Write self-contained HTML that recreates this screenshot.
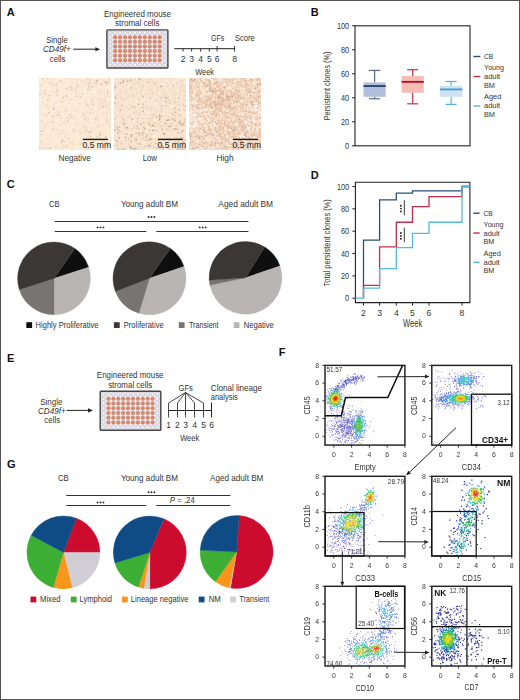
<!DOCTYPE html>
<html><head><meta charset="utf-8"><style>
html,body{margin:0;padding:0;background:#fff;}
svg{display:block;}
text{font-family:"Liberation Sans", sans-serif;}
</style></head><body><svg width="520" height="700" viewBox="0 0 520 700" font-family="'Liberation Sans', sans-serif" fill="#333"><defs><clipPath id="c39"><rect x="39" y="78" width="72" height="72"/></clipPath><clipPath id="c114"><rect x="114" y="78" width="72" height="72"/></clipPath><clipPath id="c189"><rect x="189" y="78" width="72" height="72"/></clipPath><filter id="mb" x="0" y="0" width="520" height="700" filterUnits="userSpaceOnUse"><feGaussianBlur stdDeviation="0.5"/></filter><filter id="fb" x="0" y="0" width="520" height="700" filterUnits="userSpaceOnUse"><feGaussianBlur stdDeviation="0.35"/></filter></defs><rect x="0" y="0" width="520" height="700" fill="#fff"/>
<text x="6.80" y="16.30" font-size="11" font-weight="bold" fill="#111">A</text>
<text x="104.00" y="16.50" font-size="8.4" textLength="67.00" lengthAdjust="spacingAndGlyphs">Engineered mouse</text>
<text x="115.10" y="25.90" font-size="8.4" textLength="44.30" lengthAdjust="spacingAndGlyphs">stromal cells</text>
<text x="46.20" y="43.00" font-size="8.4" textLength="21.50" lengthAdjust="spacingAndGlyphs">Single</text>
<text x="43.00" y="52.20" font-size="8.4" font-style="italic" textLength="27.80" lengthAdjust="spacingAndGlyphs">CD49f+</text>
<text x="49.80" y="61.50" font-size="8.4" textLength="15.70" lengthAdjust="spacingAndGlyphs">cells</text>
<line x1="73.30" y1="49.20" x2="95.90" y2="49.20" stroke="#222" stroke-width="1.0"/>
<polygon points="100.20,49.20 95.40,51.20 95.40,47.20" fill="#222"/>
<rect x="106.90" y="29.90" width="61.00" height="38.10" fill="#ece6ea" stroke="#454545" stroke-width="1.4" rx="0.8"/>
<circle cx="110.20" cy="32.70" r="1.75" fill="#f2f2f8" stroke="#a8a8b8" stroke-width="0.45"/>
<circle cx="115.15" cy="32.70" r="1.75" fill="#f2f2f8" stroke="#a8a8b8" stroke-width="0.45"/>
<circle cx="120.09" cy="32.70" r="1.75" fill="#f2f2f8" stroke="#a8a8b8" stroke-width="0.45"/>
<circle cx="125.04" cy="32.70" r="1.75" fill="#f2f2f8" stroke="#a8a8b8" stroke-width="0.45"/>
<circle cx="129.98" cy="32.70" r="1.75" fill="#f2f2f8" stroke="#a8a8b8" stroke-width="0.45"/>
<circle cx="134.93" cy="32.70" r="1.75" fill="#f2f2f8" stroke="#a8a8b8" stroke-width="0.45"/>
<circle cx="139.87" cy="32.70" r="1.75" fill="#f2f2f8" stroke="#a8a8b8" stroke-width="0.45"/>
<circle cx="144.82" cy="32.70" r="1.75" fill="#f2f2f8" stroke="#a8a8b8" stroke-width="0.45"/>
<circle cx="149.76" cy="32.70" r="1.75" fill="#f2f2f8" stroke="#a8a8b8" stroke-width="0.45"/>
<circle cx="154.71" cy="32.70" r="1.75" fill="#f2f2f8" stroke="#a8a8b8" stroke-width="0.45"/>
<circle cx="159.65" cy="32.70" r="1.75" fill="#f2f2f8" stroke="#a8a8b8" stroke-width="0.45"/>
<circle cx="164.60" cy="32.70" r="1.75" fill="#f2f2f8" stroke="#a8a8b8" stroke-width="0.45"/>
<circle cx="110.20" cy="37.29" r="1.75" fill="#f2f2f8" stroke="#a8a8b8" stroke-width="0.45"/>
<circle cx="115.15" cy="37.29" r="1.75" fill="#dc8c6c" stroke="#b46a52" stroke-width="0.45"/>
<circle cx="120.09" cy="37.29" r="1.75" fill="#dc8c6c" stroke="#b46a52" stroke-width="0.45"/>
<circle cx="125.04" cy="37.29" r="1.75" fill="#dc8c6c" stroke="#b46a52" stroke-width="0.45"/>
<circle cx="129.98" cy="37.29" r="1.75" fill="#dc8c6c" stroke="#b46a52" stroke-width="0.45"/>
<circle cx="134.93" cy="37.29" r="1.75" fill="#dc8c6c" stroke="#b46a52" stroke-width="0.45"/>
<circle cx="139.87" cy="37.29" r="1.75" fill="#dc8c6c" stroke="#b46a52" stroke-width="0.45"/>
<circle cx="144.82" cy="37.29" r="1.75" fill="#dc8c6c" stroke="#b46a52" stroke-width="0.45"/>
<circle cx="149.76" cy="37.29" r="1.75" fill="#dc8c6c" stroke="#b46a52" stroke-width="0.45"/>
<circle cx="154.71" cy="37.29" r="1.75" fill="#dc8c6c" stroke="#b46a52" stroke-width="0.45"/>
<circle cx="159.65" cy="37.29" r="1.75" fill="#dc8c6c" stroke="#b46a52" stroke-width="0.45"/>
<circle cx="164.60" cy="37.29" r="1.75" fill="#f2f2f8" stroke="#a8a8b8" stroke-width="0.45"/>
<circle cx="110.20" cy="41.87" r="1.75" fill="#f2f2f8" stroke="#a8a8b8" stroke-width="0.45"/>
<circle cx="115.15" cy="41.87" r="1.75" fill="#dc8c6c" stroke="#b46a52" stroke-width="0.45"/>
<circle cx="120.09" cy="41.87" r="1.75" fill="#dc8c6c" stroke="#b46a52" stroke-width="0.45"/>
<circle cx="125.04" cy="41.87" r="1.75" fill="#dc8c6c" stroke="#b46a52" stroke-width="0.45"/>
<circle cx="129.98" cy="41.87" r="1.75" fill="#dc8c6c" stroke="#b46a52" stroke-width="0.45"/>
<circle cx="134.93" cy="41.87" r="1.75" fill="#dc8c6c" stroke="#b46a52" stroke-width="0.45"/>
<circle cx="139.87" cy="41.87" r="1.75" fill="#dc8c6c" stroke="#b46a52" stroke-width="0.45"/>
<circle cx="144.82" cy="41.87" r="1.75" fill="#dc8c6c" stroke="#b46a52" stroke-width="0.45"/>
<circle cx="149.76" cy="41.87" r="1.75" fill="#dc8c6c" stroke="#b46a52" stroke-width="0.45"/>
<circle cx="154.71" cy="41.87" r="1.75" fill="#dc8c6c" stroke="#b46a52" stroke-width="0.45"/>
<circle cx="159.65" cy="41.87" r="1.75" fill="#dc8c6c" stroke="#b46a52" stroke-width="0.45"/>
<circle cx="164.60" cy="41.87" r="1.75" fill="#f2f2f8" stroke="#a8a8b8" stroke-width="0.45"/>
<circle cx="110.20" cy="46.46" r="1.75" fill="#f2f2f8" stroke="#a8a8b8" stroke-width="0.45"/>
<circle cx="115.15" cy="46.46" r="1.75" fill="#dc8c6c" stroke="#b46a52" stroke-width="0.45"/>
<circle cx="120.09" cy="46.46" r="1.75" fill="#dc8c6c" stroke="#b46a52" stroke-width="0.45"/>
<circle cx="125.04" cy="46.46" r="1.75" fill="#dc8c6c" stroke="#b46a52" stroke-width="0.45"/>
<circle cx="129.98" cy="46.46" r="1.75" fill="#dc8c6c" stroke="#b46a52" stroke-width="0.45"/>
<circle cx="134.93" cy="46.46" r="1.75" fill="#dc8c6c" stroke="#b46a52" stroke-width="0.45"/>
<circle cx="139.87" cy="46.46" r="1.75" fill="#dc8c6c" stroke="#b46a52" stroke-width="0.45"/>
<circle cx="144.82" cy="46.46" r="1.75" fill="#dc8c6c" stroke="#b46a52" stroke-width="0.45"/>
<circle cx="149.76" cy="46.46" r="1.75" fill="#dc8c6c" stroke="#b46a52" stroke-width="0.45"/>
<circle cx="154.71" cy="46.46" r="1.75" fill="#dc8c6c" stroke="#b46a52" stroke-width="0.45"/>
<circle cx="159.65" cy="46.46" r="1.75" fill="#dc8c6c" stroke="#b46a52" stroke-width="0.45"/>
<circle cx="164.60" cy="46.46" r="1.75" fill="#f2f2f8" stroke="#a8a8b8" stroke-width="0.45"/>
<circle cx="110.20" cy="51.04" r="1.75" fill="#f2f2f8" stroke="#a8a8b8" stroke-width="0.45"/>
<circle cx="115.15" cy="51.04" r="1.75" fill="#dc8c6c" stroke="#b46a52" stroke-width="0.45"/>
<circle cx="120.09" cy="51.04" r="1.75" fill="#dc8c6c" stroke="#b46a52" stroke-width="0.45"/>
<circle cx="125.04" cy="51.04" r="1.75" fill="#dc8c6c" stroke="#b46a52" stroke-width="0.45"/>
<circle cx="129.98" cy="51.04" r="1.75" fill="#dc8c6c" stroke="#b46a52" stroke-width="0.45"/>
<circle cx="134.93" cy="51.04" r="1.75" fill="#dc8c6c" stroke="#b46a52" stroke-width="0.45"/>
<circle cx="139.87" cy="51.04" r="1.75" fill="#dc8c6c" stroke="#b46a52" stroke-width="0.45"/>
<circle cx="144.82" cy="51.04" r="1.75" fill="#dc8c6c" stroke="#b46a52" stroke-width="0.45"/>
<circle cx="149.76" cy="51.04" r="1.75" fill="#dc8c6c" stroke="#b46a52" stroke-width="0.45"/>
<circle cx="154.71" cy="51.04" r="1.75" fill="#dc8c6c" stroke="#b46a52" stroke-width="0.45"/>
<circle cx="159.65" cy="51.04" r="1.75" fill="#dc8c6c" stroke="#b46a52" stroke-width="0.45"/>
<circle cx="164.60" cy="51.04" r="1.75" fill="#f2f2f8" stroke="#a8a8b8" stroke-width="0.45"/>
<circle cx="110.20" cy="55.63" r="1.75" fill="#f2f2f8" stroke="#a8a8b8" stroke-width="0.45"/>
<circle cx="115.15" cy="55.63" r="1.75" fill="#dc8c6c" stroke="#b46a52" stroke-width="0.45"/>
<circle cx="120.09" cy="55.63" r="1.75" fill="#dc8c6c" stroke="#b46a52" stroke-width="0.45"/>
<circle cx="125.04" cy="55.63" r="1.75" fill="#dc8c6c" stroke="#b46a52" stroke-width="0.45"/>
<circle cx="129.98" cy="55.63" r="1.75" fill="#dc8c6c" stroke="#b46a52" stroke-width="0.45"/>
<circle cx="134.93" cy="55.63" r="1.75" fill="#dc8c6c" stroke="#b46a52" stroke-width="0.45"/>
<circle cx="139.87" cy="55.63" r="1.75" fill="#dc8c6c" stroke="#b46a52" stroke-width="0.45"/>
<circle cx="144.82" cy="55.63" r="1.75" fill="#dc8c6c" stroke="#b46a52" stroke-width="0.45"/>
<circle cx="149.76" cy="55.63" r="1.75" fill="#dc8c6c" stroke="#b46a52" stroke-width="0.45"/>
<circle cx="154.71" cy="55.63" r="1.75" fill="#dc8c6c" stroke="#b46a52" stroke-width="0.45"/>
<circle cx="159.65" cy="55.63" r="1.75" fill="#dc8c6c" stroke="#b46a52" stroke-width="0.45"/>
<circle cx="164.60" cy="55.63" r="1.75" fill="#f2f2f8" stroke="#a8a8b8" stroke-width="0.45"/>
<circle cx="110.20" cy="60.21" r="1.75" fill="#f2f2f8" stroke="#a8a8b8" stroke-width="0.45"/>
<circle cx="115.15" cy="60.21" r="1.75" fill="#dc8c6c" stroke="#b46a52" stroke-width="0.45"/>
<circle cx="120.09" cy="60.21" r="1.75" fill="#dc8c6c" stroke="#b46a52" stroke-width="0.45"/>
<circle cx="125.04" cy="60.21" r="1.75" fill="#dc8c6c" stroke="#b46a52" stroke-width="0.45"/>
<circle cx="129.98" cy="60.21" r="1.75" fill="#dc8c6c" stroke="#b46a52" stroke-width="0.45"/>
<circle cx="134.93" cy="60.21" r="1.75" fill="#dc8c6c" stroke="#b46a52" stroke-width="0.45"/>
<circle cx="139.87" cy="60.21" r="1.75" fill="#dc8c6c" stroke="#b46a52" stroke-width="0.45"/>
<circle cx="144.82" cy="60.21" r="1.75" fill="#dc8c6c" stroke="#b46a52" stroke-width="0.45"/>
<circle cx="149.76" cy="60.21" r="1.75" fill="#dc8c6c" stroke="#b46a52" stroke-width="0.45"/>
<circle cx="154.71" cy="60.21" r="1.75" fill="#dc8c6c" stroke="#b46a52" stroke-width="0.45"/>
<circle cx="159.65" cy="60.21" r="1.75" fill="#dc8c6c" stroke="#b46a52" stroke-width="0.45"/>
<circle cx="164.60" cy="60.21" r="1.75" fill="#f2f2f8" stroke="#a8a8b8" stroke-width="0.45"/>
<circle cx="110.20" cy="64.80" r="1.75" fill="#f2f2f8" stroke="#a8a8b8" stroke-width="0.45"/>
<circle cx="115.15" cy="64.80" r="1.75" fill="#f2f2f8" stroke="#a8a8b8" stroke-width="0.45"/>
<circle cx="120.09" cy="64.80" r="1.75" fill="#f2f2f8" stroke="#a8a8b8" stroke-width="0.45"/>
<circle cx="125.04" cy="64.80" r="1.75" fill="#f2f2f8" stroke="#a8a8b8" stroke-width="0.45"/>
<circle cx="129.98" cy="64.80" r="1.75" fill="#f2f2f8" stroke="#a8a8b8" stroke-width="0.45"/>
<circle cx="134.93" cy="64.80" r="1.75" fill="#f2f2f8" stroke="#a8a8b8" stroke-width="0.45"/>
<circle cx="139.87" cy="64.80" r="1.75" fill="#f2f2f8" stroke="#a8a8b8" stroke-width="0.45"/>
<circle cx="144.82" cy="64.80" r="1.75" fill="#f2f2f8" stroke="#a8a8b8" stroke-width="0.45"/>
<circle cx="149.76" cy="64.80" r="1.75" fill="#f2f2f8" stroke="#a8a8b8" stroke-width="0.45"/>
<circle cx="154.71" cy="64.80" r="1.75" fill="#f2f2f8" stroke="#a8a8b8" stroke-width="0.45"/>
<circle cx="159.65" cy="64.80" r="1.75" fill="#f2f2f8" stroke="#a8a8b8" stroke-width="0.45"/>
<circle cx="164.60" cy="64.80" r="1.75" fill="#f2f2f8" stroke="#a8a8b8" stroke-width="0.45"/>
<line x1="174.30" y1="48.70" x2="234.90" y2="48.70" stroke="#222" stroke-width="1"/>
<line x1="183.00" y1="48.70" x2="183.00" y2="51.60" stroke="#222" stroke-width="0.9"/>
<line x1="191.60" y1="48.70" x2="191.60" y2="51.60" stroke="#222" stroke-width="0.9"/>
<line x1="200.60" y1="48.70" x2="200.60" y2="51.60" stroke="#222" stroke-width="0.9"/>
<line x1="209.30" y1="48.70" x2="209.30" y2="51.60" stroke="#222" stroke-width="0.9"/>
<line x1="217.10" y1="45.90" x2="217.10" y2="51.60" stroke="#222" stroke-width="0.9"/>
<line x1="234.60" y1="45.90" x2="234.60" y2="51.60" stroke="#222" stroke-width="0.9"/>
<text x="183.00" y="62.00" font-size="8.5" text-anchor="middle">2</text>
<text x="191.60" y="62.00" font-size="8.5" text-anchor="middle">3</text>
<text x="200.60" y="62.00" font-size="8.5" text-anchor="middle">4</text>
<text x="209.30" y="62.00" font-size="8.5" text-anchor="middle">5</text>
<text x="217.10" y="62.00" font-size="8.5" text-anchor="middle">6</text>
<text x="234.60" y="62.00" font-size="8.5" text-anchor="middle">8</text>
<text x="211.00" y="40.70" font-size="8.4" textLength="13.20" lengthAdjust="spacingAndGlyphs">GFs</text>
<text x="234.90" y="40.70" font-size="8.4" textLength="19.90" lengthAdjust="spacingAndGlyphs">Score</text>
<text x="195.20" y="75.00" font-size="9.4" textLength="18.80" lengthAdjust="spacingAndGlyphs">Week</text>
<g clip-path="url(#c39)"><g filter="url(#mb)">
<rect x="39" y="78" width="72" height="72" fill="#faead6"/>
<path d="M83.6 142.5h1.5v1.5h-1.5zM56.6 109.5h2.5v2.5h-2.5zM40.6 114.6h2.5v2.5h-2.5zM38.9 91.0h1.5v1.5h-1.5zM65.0 77.3h1.5v1.5h-1.5zM57.5 141.3h2.5v2.5h-2.5zM75.1 140.6h2.5v2.5h-2.5zM82.2 123.6h1.5v1.5h-1.5zM70.1 94.5h1.5v1.5h-1.5zM101.8 125.3h2.5v2.5h-2.5zM68.0 94.5h2.5v2.5h-2.5zM39.8 104.2h1.5v1.5h-1.5zM63.9 114.9h2.5v2.5h-2.5zM49.0 145.1h2.5v2.5h-2.5zM97.2 87.0h2.5v2.5h-2.5zM39.0 122.9h2.5v2.5h-2.5zM91.0 93.5h1.5v1.5h-1.5zM51.1 102.3h2.5v2.5h-2.5zM109.6 114.6h2.5v2.5h-2.5zM92.2 119.4h2.5v2.5h-2.5zM75.9 146.4h2.5v2.5h-2.5zM87.4 129.3h2.5v2.5h-2.5zM53.5 143.8h1.5v1.5h-1.5zM84.4 90.4h1.5v1.5h-1.5zM93.8 136.5h1.5v1.5h-1.5zM104.7 135.5h2.5v2.5h-2.5zM56.5 95.1h2.5v2.5h-2.5zM39.5 99.7h2.5v2.5h-2.5zM100.3 80.7h1.5v1.5h-1.5zM101.0 135.2h2.5v2.5h-2.5zM85.5 92.7h2.5v2.5h-2.5zM65.7 95.5h2.5v2.5h-2.5zM98.6 104.5h2.5v2.5h-2.5zM53.7 95.1h1.5v1.5h-1.5zM44.0 131.9h1.5v1.5h-1.5zM43.7 132.7h1.5v1.5h-1.5zM47.5 82.9h1.5v1.5h-1.5zM60.4 137.8h1.5v1.5h-1.5zM45.1 130.1h2.5v2.5h-2.5zM93.3 90.9h2.5v2.5h-2.5zM92.6 142.5h1.5v1.5h-1.5zM106.6 138.5h1.5v1.5h-1.5zM84.8 90.5h2.5v2.5h-2.5zM110.5 87.8h2.5v2.5h-2.5zM105.2 86.0h2.5v2.5h-2.5zM46.5 89.9h1.5v1.5h-1.5zM92.8 90.9h1.5v1.5h-1.5zM56.0 105.8h1.5v1.5h-1.5zM57.4 115.5h2.5v2.5h-2.5zM83.9 116.1h2.5v2.5h-2.5zM109.5 145.7h2.5v2.5h-2.5zM53.2 114.0h2.5v2.5h-2.5zM41.0 100.0h1.5v1.5h-1.5zM93.2 89.1h2.5v2.5h-2.5zM58.6 135.5h2.5v2.5h-2.5zM78.3 133.1h2.5v2.5h-2.5zM90.6 115.2h1.5v1.5h-1.5zM79.1 117.7h1.5v1.5h-1.5zM71.1 123.1h1.5v1.5h-1.5zM52.4 110.2h2.5v2.5h-2.5zM78.4 135.9h2.5v2.5h-2.5zM78.8 105.9h1.5v1.5h-1.5zM70.7 129.0h1.5v1.5h-1.5zM100.8 119.3h2.5v2.5h-2.5zM59.4 98.4h2.5v2.5h-2.5zM94.1 110.4h2.5v2.5h-2.5zM52.7 100.1h2.5v2.5h-2.5zM68.9 133.3h1.5v1.5h-1.5zM105.4 124.9h2.5v2.5h-2.5zM92.8 102.1h1.5v1.5h-1.5zM47.9 87.1h1.5v1.5h-1.5zM67.7 107.5h1.5v1.5h-1.5zM86.4 120.8h1.5v1.5h-1.5zM40.4 137.7h2.5v2.5h-2.5zM39.4 129.9h1.5v1.5h-1.5zM100.2 132.2h1.5v1.5h-1.5zM47.7 90.5h1.5v1.5h-1.5zM105.7 97.3h2.5v2.5h-2.5zM53.5 96.5h1.5v1.5h-1.5zM89.3 86.5h1.5v1.5h-1.5zM44.2 97.0h2.5v2.5h-2.5zM60.8 122.9h2.5v2.5h-2.5zM70.7 98.0h1.5v1.5h-1.5zM54.0 96.8h1.5v1.5h-1.5zM72.0 92.7h2.5v2.5h-2.5zM57.9 118.8h1.5v1.5h-1.5zM47.1 141.6h2.5v2.5h-2.5zM42.9 120.4h2.5v2.5h-2.5zM38.4 115.1h2.5v2.5h-2.5zM107.6 119.3h1.5v1.5h-1.5zM78.2 91.5h1.5v1.5h-1.5zM50.1 122.2h1.5v1.5h-1.5zM45.8 136.7h1.5v1.5h-1.5zM76.3 131.4h1.5v1.5h-1.5zM63.8 148.7h1.5v1.5h-1.5zM101.6 88.8h2.5v2.5h-2.5zM41.8 92.8h1.5v1.5h-1.5zM93.1 106.7h2.5v2.5h-2.5zM70.0 121.0h1.5v1.5h-1.5zM88.8 86.4h1.5v1.5h-1.5zM44.8 101.2h1.5v1.5h-1.5zM71.5 118.2h2.5v2.5h-2.5zM71.1 145.8h1.5v1.5h-1.5zM87.0 135.6h1.5v1.5h-1.5zM58.3 99.2h1.5v1.5h-1.5zM40.5 106.5h1.5v1.5h-1.5zM63.4 121.5h1.5v1.5h-1.5zM56.5 91.6h1.5v1.5h-1.5zM82.2 149.3h1.5v1.5h-1.5zM61.9 77.3h2.5v2.5h-2.5zM43.5 91.8h1.5v1.5h-1.5zM40.3 144.7h1.5v1.5h-1.5zM103.5 123.4h1.5v1.5h-1.5zM84.2 84.3h2.5v2.5h-2.5zM62.5 101.3h2.5v2.5h-2.5zM57.0 119.6h2.5v2.5h-2.5zM42.9 86.4h2.5v2.5h-2.5zM95.4 110.0h1.5v1.5h-1.5zM100.2 148.4h2.5v2.5h-2.5zM70.3 91.6h2.5v2.5h-2.5zM101.4 142.5h1.5v1.5h-1.5zM110.3 119.3h2.5v2.5h-2.5zM47.1 88.1h2.5v2.5h-2.5zM97.7 78.0h1.5v1.5h-1.5zM69.3 125.2h1.5v1.5h-1.5zM39.3 116.4h2.5v2.5h-2.5zM59.6 124.9h2.5v2.5h-2.5zM108.1 113.0h2.5v2.5h-2.5zM59.2 135.6h2.5v2.5h-2.5zM62.4 121.0h1.5v1.5h-1.5zM96.9 116.6h1.5v1.5h-1.5zM52.6 114.9h1.5v1.5h-1.5zM47.4 135.5h1.5v1.5h-1.5zM39.0 96.2h1.5v1.5h-1.5zM80.6 107.8h1.5v1.5h-1.5zM86.5 98.1h1.5v1.5h-1.5zM40.1 99.0h1.5v1.5h-1.5zM49.8 92.6h1.5v1.5h-1.5zM81.2 100.2h2.5v2.5h-2.5zM91.4 95.8h2.5v2.5h-2.5zM68.9 107.3h1.5v1.5h-1.5zM72.2 110.9h2.5v2.5h-2.5zM61.1 127.8h2.5v2.5h-2.5zM51.5 103.9h2.5v2.5h-2.5zM98.0 145.4h2.5v2.5h-2.5zM92.8 109.8h2.5v2.5h-2.5zM90.2 91.4h1.5v1.5h-1.5zM81.2 122.8h1.5v1.5h-1.5zM75.4 132.5h1.5v1.5h-1.5zM44.4 110.7h2.5v2.5h-2.5zM41.9 109.1h2.5v2.5h-2.5zM82.8 141.7h1.5v1.5h-1.5zM97.5 112.4h1.5v1.5h-1.5zM104.8 135.5h1.5v1.5h-1.5zM73.9 149.2h2.5v2.5h-2.5zM104.7 106.1h2.5v2.5h-2.5zM44.1 129.0h2.5v2.5h-2.5zM103.2 145.4h1.5v1.5h-1.5zM66.3 147.3h1.5v1.5h-1.5zM101.0 138.4h1.5v1.5h-1.5zM91.1 87.0h2.5v2.5h-2.5zM78.9 115.1h1.5v1.5h-1.5zM111.0 143.6h1.5v1.5h-1.5zM103.0 120.7h2.5v2.5h-2.5zM74.8 130.8h2.5v2.5h-2.5zM41.4 94.3h1.5v1.5h-1.5zM76.9 80.7h1.5v1.5h-1.5zM68.2 103.7h1.5v1.5h-1.5zM55.7 87.8h1.5v1.5h-1.5zM99.1 138.9h2.5v2.5h-2.5zM103.9 103.2h1.5v1.5h-1.5zM87.7 91.7h2.5v2.5h-2.5zM61.5 112.6h2.5v2.5h-2.5zM43.4 125.0h1.5v1.5h-1.5zM82.6 140.6h2.5v2.5h-2.5zM85.1 93.2h2.5v2.5h-2.5zM105.6 99.0h1.5v1.5h-1.5zM67.4 131.4h1.5v1.5h-1.5zM71.8 94.1h2.5v2.5h-2.5zM107.0 138.3h1.5v1.5h-1.5zM44.8 105.7h1.5v1.5h-1.5zM93.3 140.2h2.5v2.5h-2.5zM70.2 102.8h1.5v1.5h-1.5zM100.3 124.2h1.5v1.5h-1.5zM45.8 84.6h1.5v1.5h-1.5zM48.7 117.4h1.5v1.5h-1.5zM106.9 101.7h1.5v1.5h-1.5zM56.7 134.0h2.5v2.5h-2.5zM71.4 126.3h2.5v2.5h-2.5zM52.2 95.1h2.5v2.5h-2.5zM100.3 128.0h1.5v1.5h-1.5zM43.5 97.2h2.5v2.5h-2.5zM60.6 97.6h2.5v2.5h-2.5zM105.5 120.4h1.5v1.5h-1.5zM84.2 140.1h1.5v1.5h-1.5zM38.2 87.0h2.5v2.5h-2.5zM88.2 110.0h2.5v2.5h-2.5zM55.3 81.6h1.5v1.5h-1.5zM68.3 100.5h2.5v2.5h-2.5zM70.0 96.5h1.5v1.5h-1.5zM100.7 137.2h1.5v1.5h-1.5zM96.3 140.0h2.5v2.5h-2.5zM71.7 96.3h1.5v1.5h-1.5zM94.0 137.7h1.5v1.5h-1.5zM66.0 110.8h2.5v2.5h-2.5zM108.6 130.3h1.5v1.5h-1.5zM43.8 100.0h2.5v2.5h-2.5zM93.5 114.4h1.5v1.5h-1.5zM65.7 101.2h1.5v1.5h-1.5zM65.5 122.2h1.5v1.5h-1.5zM56.8 85.8h1.5v1.5h-1.5zM84.8 138.2h1.5v1.5h-1.5zM63.1 124.8h2.5v2.5h-2.5zM43.0 146.1h1.5v1.5h-1.5zM57.3 103.5h1.5v1.5h-1.5zM40.8 110.0h1.5v1.5h-1.5zM109.3 98.4h1.5v1.5h-1.5zM41.9 142.8h1.5v1.5h-1.5zM68.5 104.3h2.5v2.5h-2.5zM70.8 138.4h1.5v1.5h-1.5zM59.2 149.5h1.5v1.5h-1.5zM68.4 124.4h2.5v2.5h-2.5zM52.7 130.4h1.5v1.5h-1.5zM44.8 119.8h1.5v1.5h-1.5zM65.3 113.6h2.5v2.5h-2.5zM100.2 108.4h1.5v1.5h-1.5zM55.4 146.5h1.5v1.5h-1.5zM67.9 120.5h2.5v2.5h-2.5zM45.5 105.8h2.5v2.5h-2.5zM61.8 91.8h1.5v1.5h-1.5zM86.5 93.9h1.5v1.5h-1.5zM105.1 102.0h1.5v1.5h-1.5zM63.0 149.2h1.5v1.5h-1.5zM73.8 97.5h2.5v2.5h-2.5zM62.9 119.2h1.5v1.5h-1.5zM97.1 85.3h2.5v2.5h-2.5zM70.0 129.5h1.5v1.5h-1.5zM77.3 80.6h2.5v2.5h-2.5zM69.2 118.5h1.5v1.5h-1.5zM93.0 111.3h1.5v1.5h-1.5zM79.7 117.5h2.5v2.5h-2.5zM71.8 131.9h1.5v1.5h-1.5zM60.1 117.4h2.5v2.5h-2.5zM102.2 95.3h2.5v2.5h-2.5zM104.9 86.3h2.5v2.5h-2.5zM96.4 143.6h2.5v2.5h-2.5zM54.9 88.8h1.5v1.5h-1.5zM102.7 123.3h1.5v1.5h-1.5zM98.7 78.4h1.5v1.5h-1.5zM56.8 146.0h1.5v1.5h-1.5zM54.1 139.2h1.5v1.5h-1.5z" fill="#fdf1e4" opacity="0.7"/>
<path d="M59.9 140.8h2.5v2.5h-2.5zM96.2 111.2h1.5v1.5h-1.5zM110.7 134.9h2.5v2.5h-2.5zM53.7 88.7h1.5v1.5h-1.5zM83.9 114.5h1.5v1.5h-1.5zM84.7 131.1h2.5v2.5h-2.5zM42.3 105.3h1.5v1.5h-1.5zM97.6 104.7h2.5v2.5h-2.5zM108.7 92.7h1.5v1.5h-1.5zM107.0 143.0h1.5v1.5h-1.5zM52.0 144.7h1.5v1.5h-1.5zM102.5 123.8h1.5v1.5h-1.5zM72.1 117.0h2.5v2.5h-2.5zM108.6 125.0h2.5v2.5h-2.5zM101.7 102.1h2.5v2.5h-2.5zM62.8 96.8h1.5v1.5h-1.5zM68.1 144.4h1.5v1.5h-1.5zM62.3 106.1h1.5v1.5h-1.5zM82.1 112.0h2.5v2.5h-2.5zM60.4 147.2h2.5v2.5h-2.5zM104.8 80.4h1.5v1.5h-1.5zM40.8 120.1h2.5v2.5h-2.5zM97.2 125.0h1.5v1.5h-1.5zM79.9 79.9h2.5v2.5h-2.5zM46.2 122.7h1.5v1.5h-1.5zM102.4 91.4h2.5v2.5h-2.5zM82.5 84.0h2.5v2.5h-2.5zM98.1 135.7h2.5v2.5h-2.5zM101.3 142.2h1.5v1.5h-1.5zM45.4 104.8h2.5v2.5h-2.5zM69.7 141.5h2.5v2.5h-2.5zM87.2 104.1h2.5v2.5h-2.5zM96.4 124.1h2.5v2.5h-2.5zM90.7 109.5h1.5v1.5h-1.5zM40.4 138.6h1.5v1.5h-1.5zM78.0 129.7h2.5v2.5h-2.5zM105.1 105.3h2.5v2.5h-2.5zM94.1 81.9h1.5v1.5h-1.5zM60.9 99.8h1.5v1.5h-1.5zM42.1 149.7h2.5v2.5h-2.5zM40.4 113.7h1.5v1.5h-1.5zM100.8 112.3h2.5v2.5h-2.5zM101.8 90.1h1.5v1.5h-1.5zM55.3 110.9h2.5v2.5h-2.5zM98.5 132.6h2.5v2.5h-2.5zM87.7 130.7h1.5v1.5h-1.5zM62.0 145.4h2.5v2.5h-2.5zM44.7 147.5h2.5v2.5h-2.5zM107.4 108.6h2.5v2.5h-2.5zM99.0 101.5h1.5v1.5h-1.5zM39.1 147.0h1.5v1.5h-1.5zM81.3 93.2h2.5v2.5h-2.5zM97.8 126.5h1.5v1.5h-1.5zM72.1 132.1h1.5v1.5h-1.5zM98.4 104.8h2.5v2.5h-2.5zM87.5 119.6h1.5v1.5h-1.5zM63.7 109.7h2.5v2.5h-2.5zM107.2 141.9h1.5v1.5h-1.5zM102.6 113.0h1.5v1.5h-1.5zM101.3 99.8h1.5v1.5h-1.5zM68.7 137.4h1.5v1.5h-1.5zM42.1 130.5h1.5v1.5h-1.5zM42.6 126.9h2.5v2.5h-2.5zM65.5 123.5h1.5v1.5h-1.5zM76.3 123.1h2.5v2.5h-2.5zM59.1 99.3h1.5v1.5h-1.5zM48.0 100.5h1.5v1.5h-1.5zM73.7 87.3h2.5v2.5h-2.5zM108.2 78.9h1.5v1.5h-1.5zM72.6 78.1h1.5v1.5h-1.5zM57.7 134.8h2.5v2.5h-2.5zM105.4 142.2h1.5v1.5h-1.5zM107.6 141.7h1.5v1.5h-1.5zM82.7 125.6h2.5v2.5h-2.5zM107.5 121.4h2.5v2.5h-2.5zM100.3 106.4h2.5v2.5h-2.5zM55.9 87.4h2.5v2.5h-2.5zM75.7 79.6h2.5v2.5h-2.5zM59.4 132.3h2.5v2.5h-2.5zM65.6 129.9h1.5v1.5h-1.5zM39.9 147.3h1.5v1.5h-1.5zM91.3 97.3h2.5v2.5h-2.5zM43.3 96.3h1.5v1.5h-1.5zM71.1 147.7h1.5v1.5h-1.5zM66.6 88.2h2.5v2.5h-2.5zM79.7 131.9h2.5v2.5h-2.5zM77.8 130.6h1.5v1.5h-1.5zM65.2 116.5h2.5v2.5h-2.5zM56.2 89.7h2.5v2.5h-2.5zM41.2 101.3h1.5v1.5h-1.5zM105.3 82.1h1.5v1.5h-1.5zM97.0 99.7h1.5v1.5h-1.5zM75.1 89.1h1.5v1.5h-1.5zM64.0 119.8h1.5v1.5h-1.5zM62.2 132.1h1.5v1.5h-1.5zM60.7 130.7h1.5v1.5h-1.5zM90.0 111.7h2.5v2.5h-2.5zM105.0 121.6h2.5v2.5h-2.5zM110.8 88.4h1.5v1.5h-1.5zM95.2 142.1h1.5v1.5h-1.5zM106.6 106.6h2.5v2.5h-2.5zM72.4 109.7h1.5v1.5h-1.5zM48.2 81.5h2.5v2.5h-2.5zM61.6 123.5h1.5v1.5h-1.5zM88.9 132.2h2.5v2.5h-2.5zM89.6 82.8h1.5v1.5h-1.5zM76.0 120.9h1.5v1.5h-1.5zM89.7 77.7h2.5v2.5h-2.5zM40.0 93.0h1.5v1.5h-1.5zM87.4 116.9h1.5v1.5h-1.5zM84.8 114.9h2.5v2.5h-2.5zM67.4 99.7h1.5v1.5h-1.5zM106.6 113.8h1.5v1.5h-1.5zM74.8 108.8h2.5v2.5h-2.5zM83.5 130.3h1.5v1.5h-1.5zM72.4 148.2h1.5v1.5h-1.5zM43.1 95.9h1.5v1.5h-1.5zM86.9 147.2h2.5v2.5h-2.5zM96.9 90.0h1.5v1.5h-1.5zM101.4 141.1h2.5v2.5h-2.5zM104.0 95.0h1.5v1.5h-1.5zM103.3 105.8h2.5v2.5h-2.5zM87.1 83.9h2.5v2.5h-2.5zM96.7 118.0h2.5v2.5h-2.5zM84.0 108.3h1.5v1.5h-1.5zM75.3 85.3h2.5v2.5h-2.5zM84.7 129.5h2.5v2.5h-2.5zM107.2 79.2h2.5v2.5h-2.5zM43.4 113.3h2.5v2.5h-2.5zM38.4 104.2h1.5v1.5h-1.5zM101.5 124.6h2.5v2.5h-2.5zM59.1 142.3h1.5v1.5h-1.5zM59.7 117.1h2.5v2.5h-2.5zM42.3 120.2h1.5v1.5h-1.5zM94.2 84.1h2.5v2.5h-2.5zM102.8 134.5h1.5v1.5h-1.5zM52.1 103.4h2.5v2.5h-2.5zM80.9 146.4h1.5v1.5h-1.5zM47.3 137.6h2.5v2.5h-2.5zM82.5 114.2h2.5v2.5h-2.5zM42.8 147.5h1.5v1.5h-1.5zM47.3 141.7h1.5v1.5h-1.5zM74.4 95.0h2.5v2.5h-2.5zM61.4 144.7h1.5v1.5h-1.5zM89.3 143.9h2.5v2.5h-2.5zM47.2 143.8h1.5v1.5h-1.5zM41.1 83.7h1.5v1.5h-1.5zM67.9 116.9h2.5v2.5h-2.5zM91.8 102.4h2.5v2.5h-2.5zM109.0 78.2h1.5v1.5h-1.5zM71.6 115.2h2.5v2.5h-2.5zM88.2 105.6h1.5v1.5h-1.5zM85.5 147.1h2.5v2.5h-2.5zM86.6 135.1h2.5v2.5h-2.5zM61.8 128.7h2.5v2.5h-2.5zM97.1 125.6h2.5v2.5h-2.5zM44.1 125.4h2.5v2.5h-2.5zM70.6 93.4h1.5v1.5h-1.5zM92.4 103.6h2.5v2.5h-2.5zM83.5 144.3h1.5v1.5h-1.5zM94.3 96.1h1.5v1.5h-1.5zM84.6 126.5h2.5v2.5h-2.5zM63.2 121.3h2.5v2.5h-2.5zM39.3 113.4h1.5v1.5h-1.5zM45.7 122.3h2.5v2.5h-2.5zM46.9 103.4h1.5v1.5h-1.5zM61.3 97.1h2.5v2.5h-2.5zM64.5 134.7h2.5v2.5h-2.5zM69.6 98.0h2.5v2.5h-2.5zM47.8 98.3h2.5v2.5h-2.5zM88.9 109.4h1.5v1.5h-1.5zM86.2 126.1h1.5v1.5h-1.5zM98.1 130.2h2.5v2.5h-2.5zM98.6 98.7h2.5v2.5h-2.5zM62.7 100.9h1.5v1.5h-1.5zM64.9 107.8h2.5v2.5h-2.5zM87.7 148.8h2.5v2.5h-2.5zM60.4 99.3h1.5v1.5h-1.5zM54.7 145.6h2.5v2.5h-2.5zM105.4 116.1h2.5v2.5h-2.5zM85.6 110.7h2.5v2.5h-2.5zM43.0 113.1h1.5v1.5h-1.5zM70.2 98.4h2.5v2.5h-2.5zM85.2 129.9h1.5v1.5h-1.5zM87.9 79.4h2.5v2.5h-2.5zM110.3 82.1h2.5v2.5h-2.5zM86.3 81.9h2.5v2.5h-2.5zM72.1 129.4h1.5v1.5h-1.5zM39.6 84.5h2.5v2.5h-2.5zM102.8 98.8h2.5v2.5h-2.5zM65.2 77.2h1.5v1.5h-1.5zM38.4 93.8h2.5v2.5h-2.5zM83.9 117.8h2.5v2.5h-2.5zM70.8 98.0h1.5v1.5h-1.5zM96.1 114.5h2.5v2.5h-2.5zM92.9 139.0h2.5v2.5h-2.5zM90.6 88.5h1.5v1.5h-1.5zM86.0 131.6h1.5v1.5h-1.5zM57.5 110.7h2.5v2.5h-2.5zM56.0 128.6h2.5v2.5h-2.5zM69.7 114.8h1.5v1.5h-1.5zM95.1 132.5h1.5v1.5h-1.5zM54.8 114.6h1.5v1.5h-1.5zM52.3 128.4h2.5v2.5h-2.5zM95.0 110.8h1.5v1.5h-1.5zM71.2 106.6h1.5v1.5h-1.5zM57.3 95.1h1.5v1.5h-1.5zM53.0 115.4h1.5v1.5h-1.5zM86.3 120.0h2.5v2.5h-2.5zM104.0 137.4h1.5v1.5h-1.5zM71.0 81.6h1.5v1.5h-1.5zM43.6 142.7h1.5v1.5h-1.5zM99.4 135.2h2.5v2.5h-2.5zM105.8 122.3h2.5v2.5h-2.5zM106.8 102.4h2.5v2.5h-2.5zM109.0 77.5h2.5v2.5h-2.5zM45.0 144.8h1.5v1.5h-1.5zM81.2 117.6h1.5v1.5h-1.5zM66.0 94.6h1.5v1.5h-1.5zM104.0 141.8h2.5v2.5h-2.5zM99.1 148.2h2.5v2.5h-2.5zM58.3 115.1h1.5v1.5h-1.5zM106.8 95.0h2.5v2.5h-2.5zM103.3 130.8h1.5v1.5h-1.5zM98.9 103.1h2.5v2.5h-2.5zM72.2 142.4h2.5v2.5h-2.5zM84.7 101.2h2.5v2.5h-2.5zM77.2 85.1h2.5v2.5h-2.5zM40.7 145.9h1.5v1.5h-1.5zM97.9 108.6h2.5v2.5h-2.5zM104.4 96.7h2.5v2.5h-2.5zM63.9 106.9h1.5v1.5h-1.5zM54.9 101.2h2.5v2.5h-2.5zM78.7 142.5h2.5v2.5h-2.5zM88.2 83.3h1.5v1.5h-1.5zM55.9 132.5h2.5v2.5h-2.5zM104.9 83.5h2.5v2.5h-2.5zM104.9 123.8h1.5v1.5h-1.5zM91.8 144.4h2.5v2.5h-2.5zM98.2 79.6h1.5v1.5h-1.5zM100.2 96.7h1.5v1.5h-1.5zM66.2 133.7h1.5v1.5h-1.5zM60.3 119.7h1.5v1.5h-1.5zM93.1 131.1h1.5v1.5h-1.5zM64.8 109.5h1.5v1.5h-1.5zM72.3 127.8h2.5v2.5h-2.5zM96.3 97.8h2.5v2.5h-2.5zM81.7 114.0h1.5v1.5h-1.5zM79.9 128.3h1.5v1.5h-1.5z" fill="#f2dcc4" opacity="0.7"/>
<path d="M88.6 122.7h0.9v0.9h-0.9zM47.7 112.0h1.6v1.6h-1.6zM95.7 79.8h1.6v1.6h-1.6zM78.8 103.3h0.9v0.9h-0.9zM61.6 139.2h1.6v1.6h-1.6zM44.4 90.1h1.2v1.2h-1.2zM52.4 128.0h0.9v0.9h-0.9zM92.2 104.1h0.9v0.9h-0.9zM102.0 84.8h0.9v0.9h-0.9zM88.5 86.2h1.6v1.6h-1.6zM91.7 101.1h1.2v1.2h-1.2zM86.3 92.8h0.9v0.9h-0.9zM65.3 88.0h1.2v1.2h-1.2zM63.2 95.9h0.9v0.9h-0.9zM91.5 86.1h1.6v1.6h-1.6zM48.4 94.7h1.6v1.6h-1.6zM55.7 84.2h1.6v1.6h-1.6zM110.6 139.1h1.6v1.6h-1.6zM70.9 89.5h1.6v1.6h-1.6zM67.5 120.5h1.6v1.6h-1.6zM92.6 129.1h0.9v0.9h-0.9zM94.4 121.7h0.9v0.9h-0.9zM76.9 83.6h1.2v1.2h-1.2zM96.9 84.0h0.9v0.9h-0.9zM65.7 145.8h1.6v1.6h-1.6zM42.6 130.6h1.2v1.2h-1.2zM68.2 87.0h1.2v1.2h-1.2zM42.8 78.0h1.2v1.2h-1.2zM66.4 95.4h1.6v1.6h-1.6zM95.7 82.1h1.2v1.2h-1.2zM103.6 149.0h1.6v1.6h-1.6zM95.5 139.2h0.9v0.9h-0.9zM64.8 140.8h1.2v1.2h-1.2zM79.4 93.2h0.9v0.9h-0.9zM57.0 114.6h1.6v1.6h-1.6zM107.1 90.2h1.6v1.6h-1.6zM81.4 143.1h1.2v1.2h-1.2zM87.0 92.7h0.9v0.9h-0.9zM89.8 135.7h1.6v1.6h-1.6zM84.1 132.2h0.9v0.9h-0.9zM77.4 96.0h0.9v0.9h-0.9zM98.9 92.5h0.9v0.9h-0.9zM52.7 107.7h1.6v1.6h-1.6zM105.3 136.1h1.6v1.6h-1.6zM103.7 112.9h0.9v0.9h-0.9zM52.0 83.8h1.6v1.6h-1.6zM107.6 81.9h1.6v1.6h-1.6zM71.9 146.2h0.9v0.9h-0.9z" fill="#b8a48c" opacity="0.5"/>
<path d="M96.2 80.2h1.2v1.2h-1.2zM46.9 78.0h0.9v0.9h-0.9zM53.3 108.2h1.2v1.2h-1.2zM99.7 133.8h1.6v1.6h-1.6zM84.4 113.6h0.9v0.9h-0.9zM80.0 96.0h1.2v1.2h-1.2zM48.9 147.1h1.6v1.6h-1.6zM102.0 105.6h1.6v1.6h-1.6zM89.7 130.6h1.6v1.6h-1.6zM100.1 83.0h1.6v1.6h-1.6zM95.0 117.9h1.6v1.6h-1.6zM59.9 124.6h1.2v1.2h-1.2zM105.7 142.5h0.9v0.9h-0.9zM66.5 111.0h0.9v0.9h-0.9zM87.5 88.7h1.6v1.6h-1.6zM40.7 143.9h0.9v0.9h-0.9zM86.6 129.7h0.9v0.9h-0.9zM69.2 114.1h1.2v1.2h-1.2zM104.6 81.3h1.6v1.6h-1.6zM83.2 123.0h0.9v0.9h-0.9zM110.8 117.8h1.2v1.2h-1.2zM86.0 104.7h1.2v1.2h-1.2zM106.3 93.0h1.2v1.2h-1.2z" fill="#a8967e" opacity="0.5"/>
<path d="M49.5 121.1h0.9v0.9h-0.9zM75.2 92.3h1.2v1.2h-1.2zM86.7 78.4h1.6v1.6h-1.6zM70.7 85.4h1.2v1.2h-1.2zM92.7 109.4h1.2v1.2h-1.2zM92.9 112.4h0.9v0.9h-0.9zM103.8 88.7h0.9v0.9h-0.9zM51.4 91.4h0.9v0.9h-0.9zM110.0 114.3h1.2v1.2h-1.2zM88.8 112.2h0.9v0.9h-0.9zM59.7 80.6h1.6v1.6h-1.6zM45.7 115.7h0.9v0.9h-0.9zM93.8 81.8h0.9v0.9h-0.9zM84.4 80.3h0.9v0.9h-0.9zM92.0 93.2h0.9v0.9h-0.9zM57.2 82.7h0.9v0.9h-0.9zM39.8 90.3h0.9v0.9h-0.9zM70.8 86.9h1.6v1.6h-1.6zM90.6 98.6h0.9v0.9h-0.9zM87.9 131.6h1.2v1.2h-1.2zM106.1 149.8h1.2v1.2h-1.2zM99.4 88.2h1.2v1.2h-1.2zM106.4 111.4h1.2v1.2h-1.2zM96.2 135.8h1.6v1.6h-1.6zM40.2 134.1h1.2v1.2h-1.2zM52.2 121.3h1.6v1.6h-1.6zM68.6 103.0h0.9v0.9h-0.9zM70.9 87.4h0.9v0.9h-0.9zM59.0 114.4h1.2v1.2h-1.2z" fill="#c6b29a" opacity="0.5"/>
<path d="M56.1 94.1h1.5v1.5h-1.5zM102.7 80.7h1v1h-1zM39.4 95.0h1v1h-1zM107.1 112.9h1v1h-1zM38.2 92.9h1v1h-1zM70.6 117.0h1v1h-1zM40.0 130.6h1.5v1.5h-1.5zM104.4 101.0h1.5v1.5h-1.5zM40.8 141.4h1.5v1.5h-1.5zM49.1 106.6h1v1h-1zM39.2 147.5h1v1h-1zM56.5 90.9h1v1h-1zM47.0 114.9h1v1h-1zM46.9 99.0h1v1h-1zM89.5 82.6h1.5v1.5h-1.5zM44.0 92.5h1.5v1.5h-1.5zM52.1 115.7h1.5v1.5h-1.5zM98.9 125.2h1v1h-1zM106.3 104.2h1v1h-1zM68.0 137.9h1.5v1.5h-1.5zM62.7 97.2h1v1h-1zM45.1 81.0h1v1h-1zM106.0 82.4h1.5v1.5h-1.5zM52.5 95.0h1v1h-1zM55.2 92.2h1v1h-1zM61.2 101.4h1.5v1.5h-1.5zM84.8 118.0h1.5v1.5h-1.5zM73.9 130.0h1.5v1.5h-1.5zM61.5 140.7h1.5v1.5h-1.5zM106.5 119.2h1.5v1.5h-1.5z" fill="#d4a888" opacity="0.5"/>
</g></g>
<g clip-path="url(#c114)"><g filter="url(#mb)">
<rect x="114" y="78" width="72" height="72" fill="#f9e5cf"/>
<path d="M168.3 125.6h2.5v2.5h-2.5zM148.2 81.2h1.5v1.5h-1.5zM157.5 136.5h1.5v1.5h-1.5zM180.1 147.6h1.5v1.5h-1.5zM124.0 119.9h1.5v1.5h-1.5zM150.6 105.9h1.5v1.5h-1.5zM132.8 94.4h2.5v2.5h-2.5zM137.8 141.4h2.5v2.5h-2.5zM121.1 115.8h1.5v1.5h-1.5zM158.5 148.0h1.5v1.5h-1.5zM123.7 114.9h1.5v1.5h-1.5zM169.1 128.8h2.5v2.5h-2.5zM155.5 126.4h2.5v2.5h-2.5zM184.5 139.8h1.5v1.5h-1.5zM171.5 117.9h1.5v1.5h-1.5zM149.1 96.6h2.5v2.5h-2.5zM116.7 102.3h2.5v2.5h-2.5zM128.8 143.9h2.5v2.5h-2.5zM118.5 110.3h2.5v2.5h-2.5zM174.1 116.9h1.5v1.5h-1.5zM139.6 133.0h2.5v2.5h-2.5zM145.0 137.2h2.5v2.5h-2.5zM169.2 117.3h2.5v2.5h-2.5zM116.0 145.0h2.5v2.5h-2.5zM166.9 115.9h2.5v2.5h-2.5zM127.7 104.3h2.5v2.5h-2.5zM151.3 81.9h1.5v1.5h-1.5zM113.6 111.8h2.5v2.5h-2.5zM119.5 141.8h2.5v2.5h-2.5zM115.9 95.6h2.5v2.5h-2.5zM140.0 85.1h2.5v2.5h-2.5zM164.4 112.7h1.5v1.5h-1.5zM151.9 122.9h2.5v2.5h-2.5zM127.8 136.4h2.5v2.5h-2.5zM162.6 146.6h2.5v2.5h-2.5zM118.2 120.6h1.5v1.5h-1.5zM140.6 148.1h2.5v2.5h-2.5zM182.6 108.2h2.5v2.5h-2.5zM151.4 126.1h2.5v2.5h-2.5zM152.9 138.8h1.5v1.5h-1.5zM171.2 95.5h2.5v2.5h-2.5zM148.8 109.0h2.5v2.5h-2.5zM144.0 148.3h2.5v2.5h-2.5zM130.1 132.3h2.5v2.5h-2.5zM148.4 93.2h2.5v2.5h-2.5zM113.4 80.9h2.5v2.5h-2.5zM113.1 120.3h1.5v1.5h-1.5zM177.2 103.4h2.5v2.5h-2.5zM152.3 81.2h2.5v2.5h-2.5zM133.4 149.0h2.5v2.5h-2.5zM150.1 89.4h2.5v2.5h-2.5zM157.0 80.3h1.5v1.5h-1.5zM114.2 83.1h1.5v1.5h-1.5zM119.2 141.0h2.5v2.5h-2.5zM157.5 122.3h2.5v2.5h-2.5zM130.8 95.8h1.5v1.5h-1.5zM141.2 131.4h1.5v1.5h-1.5zM179.4 92.1h2.5v2.5h-2.5zM133.1 101.1h1.5v1.5h-1.5zM128.0 94.8h1.5v1.5h-1.5zM149.7 122.9h1.5v1.5h-1.5zM121.5 96.7h2.5v2.5h-2.5zM140.3 87.1h2.5v2.5h-2.5zM171.0 124.3h1.5v1.5h-1.5zM175.9 124.6h1.5v1.5h-1.5zM130.6 93.6h2.5v2.5h-2.5zM178.6 137.1h1.5v1.5h-1.5zM168.9 89.2h1.5v1.5h-1.5zM183.5 141.2h2.5v2.5h-2.5zM173.1 80.1h1.5v1.5h-1.5zM158.2 141.7h1.5v1.5h-1.5zM139.2 90.0h2.5v2.5h-2.5zM162.1 125.0h2.5v2.5h-2.5zM124.8 90.2h2.5v2.5h-2.5zM168.2 98.4h2.5v2.5h-2.5zM174.6 111.8h1.5v1.5h-1.5zM173.6 91.7h1.5v1.5h-1.5zM138.3 98.0h1.5v1.5h-1.5zM142.2 129.4h2.5v2.5h-2.5zM166.6 105.3h2.5v2.5h-2.5zM172.0 121.4h1.5v1.5h-1.5zM184.3 108.1h1.5v1.5h-1.5zM141.7 90.4h2.5v2.5h-2.5zM148.4 130.2h1.5v1.5h-1.5zM167.1 101.4h2.5v2.5h-2.5zM122.9 132.2h2.5v2.5h-2.5zM160.1 100.5h2.5v2.5h-2.5zM172.9 92.0h1.5v1.5h-1.5zM158.7 103.6h2.5v2.5h-2.5zM115.6 119.0h2.5v2.5h-2.5zM163.3 90.3h2.5v2.5h-2.5zM179.2 131.5h2.5v2.5h-2.5zM140.0 143.0h2.5v2.5h-2.5zM119.9 77.1h2.5v2.5h-2.5zM182.9 147.8h2.5v2.5h-2.5zM160.1 116.1h2.5v2.5h-2.5zM113.2 145.1h2.5v2.5h-2.5zM143.7 112.6h2.5v2.5h-2.5zM141.7 128.4h2.5v2.5h-2.5zM179.6 87.0h1.5v1.5h-1.5zM168.9 77.4h2.5v2.5h-2.5zM153.6 121.5h2.5v2.5h-2.5zM128.6 87.0h2.5v2.5h-2.5zM120.8 115.7h1.5v1.5h-1.5zM143.0 131.3h1.5v1.5h-1.5zM183.8 84.4h1.5v1.5h-1.5zM179.6 89.1h1.5v1.5h-1.5zM124.8 106.7h2.5v2.5h-2.5zM122.1 100.9h1.5v1.5h-1.5zM133.0 130.0h1.5v1.5h-1.5zM143.7 95.8h1.5v1.5h-1.5zM173.5 146.2h1.5v1.5h-1.5zM170.6 99.8h1.5v1.5h-1.5zM131.4 81.8h2.5v2.5h-2.5zM157.2 88.4h1.5v1.5h-1.5zM170.8 81.6h1.5v1.5h-1.5zM152.6 121.1h2.5v2.5h-2.5zM185.3 90.3h2.5v2.5h-2.5zM184.5 117.4h1.5v1.5h-1.5zM177.4 132.3h1.5v1.5h-1.5zM163.8 137.7h1.5v1.5h-1.5zM121.3 123.4h1.5v1.5h-1.5zM157.8 96.4h1.5v1.5h-1.5zM155.2 98.8h2.5v2.5h-2.5zM138.3 115.4h1.5v1.5h-1.5zM145.2 122.8h1.5v1.5h-1.5zM150.4 107.0h2.5v2.5h-2.5zM171.8 107.8h2.5v2.5h-2.5zM160.8 148.1h1.5v1.5h-1.5zM149.7 133.0h2.5v2.5h-2.5zM185.5 94.4h1.5v1.5h-1.5zM138.1 97.9h2.5v2.5h-2.5zM150.8 120.0h1.5v1.5h-1.5zM159.7 125.3h1.5v1.5h-1.5zM135.8 110.3h1.5v1.5h-1.5zM120.2 143.6h2.5v2.5h-2.5zM165.0 107.4h1.5v1.5h-1.5zM114.0 121.8h1.5v1.5h-1.5zM149.1 121.1h2.5v2.5h-2.5zM182.4 89.3h2.5v2.5h-2.5zM179.3 145.7h1.5v1.5h-1.5zM139.1 92.6h1.5v1.5h-1.5zM139.4 90.1h1.5v1.5h-1.5zM131.6 88.4h1.5v1.5h-1.5zM124.1 128.3h2.5v2.5h-2.5zM123.6 121.3h1.5v1.5h-1.5zM152.8 147.3h1.5v1.5h-1.5zM152.3 145.8h2.5v2.5h-2.5zM115.0 117.2h2.5v2.5h-2.5zM126.3 97.0h1.5v1.5h-1.5zM152.4 128.8h2.5v2.5h-2.5zM156.3 101.1h1.5v1.5h-1.5zM147.8 141.8h1.5v1.5h-1.5zM161.5 78.1h1.5v1.5h-1.5zM160.9 128.6h2.5v2.5h-2.5zM181.8 83.2h1.5v1.5h-1.5zM166.1 142.7h2.5v2.5h-2.5zM120.4 142.4h1.5v1.5h-1.5zM151.8 92.6h2.5v2.5h-2.5zM182.0 130.1h1.5v1.5h-1.5zM133.7 95.1h1.5v1.5h-1.5zM151.8 91.6h1.5v1.5h-1.5zM172.5 94.1h2.5v2.5h-2.5zM121.0 93.1h1.5v1.5h-1.5zM153.6 137.9h2.5v2.5h-2.5zM184.3 98.8h2.5v2.5h-2.5zM169.3 117.7h2.5v2.5h-2.5zM156.5 109.3h1.5v1.5h-1.5zM180.0 119.7h2.5v2.5h-2.5zM113.9 137.7h1.5v1.5h-1.5zM114.4 116.9h2.5v2.5h-2.5zM145.7 114.2h1.5v1.5h-1.5zM116.5 128.1h2.5v2.5h-2.5zM156.9 96.5h2.5v2.5h-2.5zM166.6 85.0h1.5v1.5h-1.5zM114.2 104.3h2.5v2.5h-2.5zM114.0 124.2h1.5v1.5h-1.5zM146.4 114.4h1.5v1.5h-1.5zM171.3 86.0h2.5v2.5h-2.5zM134.8 146.4h2.5v2.5h-2.5zM152.3 113.5h1.5v1.5h-1.5zM145.2 106.5h2.5v2.5h-2.5zM132.6 85.7h2.5v2.5h-2.5zM117.6 97.5h1.5v1.5h-1.5zM137.0 118.5h1.5v1.5h-1.5zM162.1 95.4h1.5v1.5h-1.5zM127.7 127.3h2.5v2.5h-2.5zM151.5 109.0h1.5v1.5h-1.5zM174.5 101.8h1.5v1.5h-1.5zM174.2 91.2h2.5v2.5h-2.5zM156.0 87.3h2.5v2.5h-2.5zM166.5 93.4h1.5v1.5h-1.5zM182.2 79.4h1.5v1.5h-1.5zM133.9 139.6h2.5v2.5h-2.5zM141.4 78.2h2.5v2.5h-2.5zM149.0 143.3h1.5v1.5h-1.5zM178.3 81.4h1.5v1.5h-1.5zM151.8 113.5h1.5v1.5h-1.5zM172.1 99.5h1.5v1.5h-1.5zM178.2 104.3h1.5v1.5h-1.5zM147.1 90.4h1.5v1.5h-1.5zM137.6 112.5h2.5v2.5h-2.5zM133.5 106.6h1.5v1.5h-1.5zM171.1 106.4h1.5v1.5h-1.5zM172.5 85.2h1.5v1.5h-1.5zM167.0 111.3h1.5v1.5h-1.5zM154.1 83.3h2.5v2.5h-2.5zM178.5 149.1h1.5v1.5h-1.5zM179.9 143.4h1.5v1.5h-1.5zM122.9 106.9h1.5v1.5h-1.5zM160.9 100.6h2.5v2.5h-2.5zM184.1 105.0h2.5v2.5h-2.5zM133.9 133.4h1.5v1.5h-1.5zM156.6 86.6h1.5v1.5h-1.5zM115.1 82.8h1.5v1.5h-1.5zM132.7 127.5h1.5v1.5h-1.5zM153.9 111.0h1.5v1.5h-1.5zM180.8 102.4h2.5v2.5h-2.5zM177.1 127.5h1.5v1.5h-1.5zM126.4 96.3h2.5v2.5h-2.5zM145.6 136.8h1.5v1.5h-1.5zM126.7 116.4h2.5v2.5h-2.5zM118.0 94.0h1.5v1.5h-1.5zM131.2 146.2h1.5v1.5h-1.5zM118.0 110.5h2.5v2.5h-2.5zM159.1 118.5h1.5v1.5h-1.5zM123.5 100.0h1.5v1.5h-1.5zM153.3 124.2h2.5v2.5h-2.5zM175.8 141.5h2.5v2.5h-2.5zM143.0 126.4h2.5v2.5h-2.5zM165.1 89.8h1.5v1.5h-1.5zM142.0 146.1h1.5v1.5h-1.5zM175.1 117.0h2.5v2.5h-2.5zM155.4 146.2h1.5v1.5h-1.5zM159.7 106.6h2.5v2.5h-2.5zM167.2 137.3h2.5v2.5h-2.5zM159.3 101.3h1.5v1.5h-1.5zM175.9 103.8h2.5v2.5h-2.5zM138.2 112.3h2.5v2.5h-2.5zM136.0 126.9h1.5v1.5h-1.5zM180.4 148.6h2.5v2.5h-2.5zM119.6 121.0h2.5v2.5h-2.5zM145.3 138.2h2.5v2.5h-2.5zM133.2 81.2h1.5v1.5h-1.5zM138.5 83.7h1.5v1.5h-1.5zM174.9 140.6h1.5v1.5h-1.5zM132.7 126.3h2.5v2.5h-2.5zM166.8 125.1h1.5v1.5h-1.5zM134.7 79.5h2.5v2.5h-2.5zM127.2 104.8h1.5v1.5h-1.5zM185.1 141.1h1.5v1.5h-1.5zM172.2 83.9h1.5v1.5h-1.5zM137.2 82.5h2.5v2.5h-2.5zM117.9 115.6h2.5v2.5h-2.5zM137.5 146.8h2.5v2.5h-2.5zM132.5 124.4h2.5v2.5h-2.5zM183.9 95.5h1.5v1.5h-1.5zM138.5 79.0h1.5v1.5h-1.5zM136.6 148.9h2.5v2.5h-2.5zM128.1 79.7h1.5v1.5h-1.5zM181.9 91.2h1.5v1.5h-1.5zM154.3 99.7h2.5v2.5h-2.5zM179.3 89.8h1.5v1.5h-1.5zM134.9 82.2h2.5v2.5h-2.5zM158.0 143.9h2.5v2.5h-2.5zM156.2 93.9h1.5v1.5h-1.5zM164.6 93.3h1.5v1.5h-1.5z" fill="#f0d8c0" opacity="0.7"/>
<path d="M158.4 106.9h2.5v2.5h-2.5zM145.6 129.0h2.5v2.5h-2.5zM171.8 106.0h2.5v2.5h-2.5zM170.1 98.5h1.5v1.5h-1.5zM127.9 106.2h1.5v1.5h-1.5zM129.8 139.9h1.5v1.5h-1.5zM157.6 91.6h2.5v2.5h-2.5zM115.9 97.0h2.5v2.5h-2.5zM172.2 81.2h2.5v2.5h-2.5zM140.4 149.7h1.5v1.5h-1.5zM162.0 108.8h1.5v1.5h-1.5zM123.5 107.4h1.5v1.5h-1.5zM184.5 137.4h2.5v2.5h-2.5zM156.0 119.5h1.5v1.5h-1.5zM139.3 94.4h1.5v1.5h-1.5zM143.1 137.2h1.5v1.5h-1.5zM151.0 98.7h2.5v2.5h-2.5zM116.2 148.8h1.5v1.5h-1.5zM185.4 85.6h1.5v1.5h-1.5zM172.5 80.4h2.5v2.5h-2.5zM160.7 100.4h2.5v2.5h-2.5zM180.5 94.3h1.5v1.5h-1.5zM125.6 99.2h1.5v1.5h-1.5zM145.4 111.3h2.5v2.5h-2.5zM133.2 89.2h1.5v1.5h-1.5zM145.7 113.1h1.5v1.5h-1.5zM142.0 134.0h2.5v2.5h-2.5zM165.4 80.0h2.5v2.5h-2.5zM132.9 120.4h2.5v2.5h-2.5zM133.7 149.5h1.5v1.5h-1.5zM153.4 102.1h2.5v2.5h-2.5zM163.5 148.0h2.5v2.5h-2.5zM136.0 84.9h1.5v1.5h-1.5zM135.6 78.5h2.5v2.5h-2.5zM141.0 127.5h1.5v1.5h-1.5zM166.5 110.7h1.5v1.5h-1.5zM179.8 79.5h2.5v2.5h-2.5zM185.8 137.0h1.5v1.5h-1.5zM128.8 131.9h1.5v1.5h-1.5zM135.1 135.9h1.5v1.5h-1.5zM153.5 118.0h1.5v1.5h-1.5zM183.2 110.4h2.5v2.5h-2.5zM159.7 108.1h1.5v1.5h-1.5zM126.0 111.6h2.5v2.5h-2.5zM126.0 147.6h1.5v1.5h-1.5zM169.4 119.4h2.5v2.5h-2.5zM113.4 112.3h1.5v1.5h-1.5zM148.0 111.2h2.5v2.5h-2.5zM134.6 136.9h1.5v1.5h-1.5zM148.8 146.0h1.5v1.5h-1.5zM129.0 83.7h1.5v1.5h-1.5zM139.4 89.1h1.5v1.5h-1.5zM179.9 120.8h2.5v2.5h-2.5zM130.0 131.1h2.5v2.5h-2.5zM162.6 143.3h1.5v1.5h-1.5zM166.3 118.6h2.5v2.5h-2.5zM173.9 149.0h2.5v2.5h-2.5zM140.5 130.5h2.5v2.5h-2.5zM114.9 79.8h2.5v2.5h-2.5zM177.8 104.4h2.5v2.5h-2.5zM176.0 90.3h1.5v1.5h-1.5zM152.4 128.6h2.5v2.5h-2.5zM162.0 141.2h1.5v1.5h-1.5zM172.1 96.1h1.5v1.5h-1.5zM169.1 105.0h2.5v2.5h-2.5zM163.6 122.5h2.5v2.5h-2.5zM141.9 96.2h2.5v2.5h-2.5zM165.4 89.3h2.5v2.5h-2.5zM181.8 96.9h1.5v1.5h-1.5zM125.7 102.5h2.5v2.5h-2.5zM153.7 120.3h2.5v2.5h-2.5zM134.4 99.1h2.5v2.5h-2.5zM169.3 86.2h2.5v2.5h-2.5zM184.9 83.6h2.5v2.5h-2.5zM142.6 78.3h1.5v1.5h-1.5zM143.1 143.3h2.5v2.5h-2.5zM128.7 87.0h1.5v1.5h-1.5zM185.1 83.8h1.5v1.5h-1.5zM182.5 131.8h2.5v2.5h-2.5zM156.3 96.8h2.5v2.5h-2.5zM142.3 115.9h1.5v1.5h-1.5zM170.4 97.4h1.5v1.5h-1.5zM143.7 111.2h1.5v1.5h-1.5zM157.8 145.4h2.5v2.5h-2.5zM145.0 148.3h2.5v2.5h-2.5zM163.2 127.9h1.5v1.5h-1.5zM141.5 91.3h2.5v2.5h-2.5zM141.5 99.1h2.5v2.5h-2.5zM177.1 89.4h1.5v1.5h-1.5zM183.6 122.3h1.5v1.5h-1.5zM172.1 136.4h1.5v1.5h-1.5zM171.6 138.9h1.5v1.5h-1.5zM161.2 148.5h2.5v2.5h-2.5zM119.0 134.1h1.5v1.5h-1.5zM122.5 101.2h1.5v1.5h-1.5zM155.1 79.1h1.5v1.5h-1.5zM143.0 105.1h2.5v2.5h-2.5zM160.4 101.9h1.5v1.5h-1.5zM182.4 102.3h1.5v1.5h-1.5zM145.2 86.3h1.5v1.5h-1.5zM148.5 126.8h2.5v2.5h-2.5zM144.4 144.4h1.5v1.5h-1.5zM163.7 83.4h1.5v1.5h-1.5zM146.1 132.0h2.5v2.5h-2.5zM147.8 103.7h1.5v1.5h-1.5zM127.8 139.9h1.5v1.5h-1.5zM169.6 143.6h2.5v2.5h-2.5zM142.9 100.0h2.5v2.5h-2.5zM177.5 128.8h2.5v2.5h-2.5zM131.1 126.8h2.5v2.5h-2.5zM161.7 148.8h1.5v1.5h-1.5zM127.3 119.0h1.5v1.5h-1.5zM127.7 119.3h2.5v2.5h-2.5zM147.1 141.1h1.5v1.5h-1.5zM176.4 117.2h1.5v1.5h-1.5zM147.3 113.8h1.5v1.5h-1.5zM148.1 102.0h1.5v1.5h-1.5zM129.1 102.1h2.5v2.5h-2.5zM154.2 103.3h2.5v2.5h-2.5zM130.7 125.7h1.5v1.5h-1.5zM139.4 124.8h1.5v1.5h-1.5zM152.7 108.9h1.5v1.5h-1.5zM115.7 110.5h2.5v2.5h-2.5zM117.7 116.4h2.5v2.5h-2.5zM119.9 125.1h1.5v1.5h-1.5zM114.2 126.1h1.5v1.5h-1.5zM119.3 135.7h1.5v1.5h-1.5zM155.6 136.0h2.5v2.5h-2.5zM135.9 114.7h2.5v2.5h-2.5zM170.6 145.8h1.5v1.5h-1.5zM113.7 119.1h2.5v2.5h-2.5zM153.4 102.8h1.5v1.5h-1.5zM113.3 108.3h1.5v1.5h-1.5zM124.9 101.4h2.5v2.5h-2.5zM127.4 140.3h1.5v1.5h-1.5zM114.1 141.5h1.5v1.5h-1.5zM135.8 100.2h2.5v2.5h-2.5zM118.9 120.4h1.5v1.5h-1.5zM167.6 124.1h1.5v1.5h-1.5zM155.1 143.6h1.5v1.5h-1.5zM131.2 114.3h2.5v2.5h-2.5zM124.6 118.6h1.5v1.5h-1.5zM137.1 144.8h1.5v1.5h-1.5zM163.6 112.6h1.5v1.5h-1.5zM123.8 130.7h2.5v2.5h-2.5zM130.0 94.5h1.5v1.5h-1.5zM127.7 86.6h1.5v1.5h-1.5zM153.2 122.5h1.5v1.5h-1.5zM155.7 113.5h1.5v1.5h-1.5zM121.3 88.7h1.5v1.5h-1.5zM146.2 127.2h2.5v2.5h-2.5zM154.7 148.8h1.5v1.5h-1.5zM128.5 98.6h1.5v1.5h-1.5zM149.6 95.0h1.5v1.5h-1.5zM179.1 79.1h2.5v2.5h-2.5zM152.9 134.7h2.5v2.5h-2.5zM164.4 142.6h2.5v2.5h-2.5zM161.5 96.6h1.5v1.5h-1.5zM157.7 104.9h1.5v1.5h-1.5zM180.1 78.2h2.5v2.5h-2.5zM126.2 139.4h1.5v1.5h-1.5zM116.3 119.3h2.5v2.5h-2.5zM163.5 129.7h2.5v2.5h-2.5zM128.0 85.1h1.5v1.5h-1.5zM125.9 112.2h1.5v1.5h-1.5zM170.9 79.1h1.5v1.5h-1.5zM141.3 103.5h1.5v1.5h-1.5zM120.8 137.4h2.5v2.5h-2.5zM149.4 94.7h1.5v1.5h-1.5zM139.3 106.8h1.5v1.5h-1.5zM128.4 147.7h1.5v1.5h-1.5zM140.5 141.3h1.5v1.5h-1.5zM133.7 81.6h1.5v1.5h-1.5zM156.9 141.6h1.5v1.5h-1.5zM139.1 130.7h2.5v2.5h-2.5zM130.2 96.9h1.5v1.5h-1.5zM140.1 126.8h1.5v1.5h-1.5zM163.9 93.5h2.5v2.5h-2.5zM125.5 115.5h1.5v1.5h-1.5zM146.3 124.0h2.5v2.5h-2.5zM162.8 113.7h2.5v2.5h-2.5zM179.7 93.7h2.5v2.5h-2.5zM166.6 149.5h1.5v1.5h-1.5zM176.5 139.2h1.5v1.5h-1.5zM131.9 107.8h1.5v1.5h-1.5zM118.0 134.0h2.5v2.5h-2.5zM121.5 100.3h1.5v1.5h-1.5zM175.2 136.8h1.5v1.5h-1.5zM144.4 102.9h1.5v1.5h-1.5zM173.2 138.7h1.5v1.5h-1.5zM122.0 95.6h2.5v2.5h-2.5zM116.5 91.0h2.5v2.5h-2.5zM156.7 126.9h2.5v2.5h-2.5zM153.0 95.2h1.5v1.5h-1.5zM142.9 96.6h2.5v2.5h-2.5zM116.4 112.0h1.5v1.5h-1.5zM160.4 82.7h2.5v2.5h-2.5zM119.3 124.2h1.5v1.5h-1.5zM155.6 118.6h2.5v2.5h-2.5zM140.7 116.7h1.5v1.5h-1.5zM133.5 86.9h1.5v1.5h-1.5zM182.5 80.7h2.5v2.5h-2.5zM134.2 91.2h2.5v2.5h-2.5zM174.7 147.7h2.5v2.5h-2.5zM177.7 129.0h1.5v1.5h-1.5zM180.5 95.8h1.5v1.5h-1.5zM124.9 96.2h1.5v1.5h-1.5zM177.0 94.4h2.5v2.5h-2.5zM180.9 110.3h2.5v2.5h-2.5zM120.5 127.5h2.5v2.5h-2.5zM151.9 127.1h2.5v2.5h-2.5zM164.0 104.5h2.5v2.5h-2.5zM180.8 102.6h2.5v2.5h-2.5zM145.7 147.8h1.5v1.5h-1.5zM170.0 139.6h1.5v1.5h-1.5zM167.3 95.0h2.5v2.5h-2.5zM174.9 135.2h1.5v1.5h-1.5zM175.6 98.4h2.5v2.5h-2.5zM114.9 94.0h2.5v2.5h-2.5zM170.4 141.2h1.5v1.5h-1.5zM158.9 119.6h2.5v2.5h-2.5zM135.3 85.8h2.5v2.5h-2.5zM133.0 92.1h1.5v1.5h-1.5zM131.5 81.1h1.5v1.5h-1.5zM164.8 104.2h1.5v1.5h-1.5zM126.5 133.3h1.5v1.5h-1.5zM154.4 89.1h1.5v1.5h-1.5zM151.1 122.7h1.5v1.5h-1.5zM160.1 148.8h1.5v1.5h-1.5zM122.9 136.7h1.5v1.5h-1.5zM167.5 133.5h1.5v1.5h-1.5zM113.3 109.1h1.5v1.5h-1.5zM170.7 142.0h2.5v2.5h-2.5z" fill="#fcefe2" opacity="0.7"/>
<path d="M160.0 121.1h0.9v0.9h-0.9zM133.2 148.1h1.6v1.6h-1.6zM140.0 123.5h1.6v1.6h-1.6zM169.5 139.7h1.2v1.2h-1.2zM113.6 129.8h1.2v1.2h-1.2zM149.2 144.8h1.6v1.6h-1.6zM124.3 133.2h0.9v0.9h-0.9zM144.5 128.0h1.6v1.6h-1.6zM113.2 96.5h1.2v1.2h-1.2zM145.3 101.9h0.9v0.9h-0.9zM178.8 110.2h0.9v0.9h-0.9zM161.9 145.6h0.9v0.9h-0.9zM185.9 133.5h1.2v1.2h-1.2zM130.8 136.1h1.2v1.2h-1.2zM122.8 80.1h1.2v1.2h-1.2zM121.2 104.7h1.2v1.2h-1.2zM179.4 120.8h1.2v1.2h-1.2zM177.8 132.1h1.2v1.2h-1.2zM125.6 140.6h0.9v0.9h-0.9zM118.5 126.6h1.2v1.2h-1.2zM181.3 123.8h1.6v1.6h-1.6zM180.6 147.5h0.9v0.9h-0.9zM163.9 115.5h0.9v0.9h-0.9zM180.4 80.4h1.2v1.2h-1.2zM118.3 135.3h0.9v0.9h-0.9zM174.6 98.6h0.9v0.9h-0.9zM117.4 132.1h1.6v1.6h-1.6zM165.6 97.3h1.6v1.6h-1.6zM183.3 148.8h0.9v0.9h-0.9zM135.4 138.9h1.6v1.6h-1.6zM178.9 122.9h1.6v1.6h-1.6zM160.3 85.6h1.6v1.6h-1.6zM165.1 100.8h1.2v1.2h-1.2zM161.7 98.2h0.9v0.9h-0.9zM162.2 146.5h1.2v1.2h-1.2zM163.6 133.6h1.6v1.6h-1.6zM179.0 109.3h0.9v0.9h-0.9zM177.7 138.7h1.2v1.2h-1.2zM169.0 125.9h1.2v1.2h-1.2zM123.5 123.0h1.6v1.6h-1.6zM123.2 148.8h1.6v1.6h-1.6zM137.8 80.8h0.9v0.9h-0.9zM160.3 97.3h0.9v0.9h-0.9zM121.7 97.6h0.9v0.9h-0.9zM134.0 112.7h0.9v0.9h-0.9zM155.6 116.2h1.6v1.6h-1.6zM155.9 90.9h0.9v0.9h-0.9zM185.4 110.4h0.9v0.9h-0.9zM114.2 129.5h1.2v1.2h-1.2zM138.7 78.3h1.6v1.6h-1.6zM171.8 113.3h1.2v1.2h-1.2zM161.9 147.3h1.6v1.6h-1.6zM126.3 127.1h1.6v1.6h-1.6zM147.7 140.2h0.9v0.9h-0.9zM162.2 145.1h0.9v0.9h-0.9zM159.0 116.0h1.6v1.6h-1.6zM128.3 108.6h0.9v0.9h-0.9zM178.1 97.6h1.2v1.2h-1.2zM130.2 140.8h1.6v1.6h-1.6zM114.9 96.8h1.6v1.6h-1.6zM156.7 125.2h0.9v0.9h-0.9zM178.1 121.8h1.2v1.2h-1.2zM128.0 143.7h0.9v0.9h-0.9zM165.0 105.0h1.2v1.2h-1.2zM158.8 114.6h1.6v1.6h-1.6zM174.2 119.7h1.6v1.6h-1.6zM158.8 118.5h1.6v1.6h-1.6zM166.3 120.0h0.9v0.9h-0.9zM183.7 110.3h0.9v0.9h-0.9zM130.0 116.4h0.9v0.9h-0.9zM114.5 86.1h1.6v1.6h-1.6zM135.7 111.7h0.9v0.9h-0.9zM159.1 146.7h0.9v0.9h-0.9zM175.0 128.0h1.2v1.2h-1.2zM129.9 79.4h1.6v1.6h-1.6zM116.8 128.6h1.2v1.2h-1.2zM152.0 129.6h1.6v1.6h-1.6zM156.8 130.4h1.2v1.2h-1.2zM150.1 114.4h0.9v0.9h-0.9zM123.6 124.7h0.9v0.9h-0.9zM144.2 145.7h1.2v1.2h-1.2zM131.5 118.7h1.6v1.6h-1.6zM181.2 144.6h0.9v0.9h-0.9zM130.7 134.4h1.6v1.6h-1.6zM141.9 131.8h1.2v1.2h-1.2zM176.8 148.1h1.6v1.6h-1.6zM115.8 139.9h1.6v1.6h-1.6zM180.6 123.6h1.2v1.2h-1.2zM135.8 92.5h0.9v0.9h-0.9zM181.6 148.9h0.9v0.9h-0.9zM128.1 139.3h0.9v0.9h-0.9zM185.2 105.0h1.6v1.6h-1.6zM154.1 82.9h1.2v1.2h-1.2zM136.8 121.4h1.2v1.2h-1.2zM182.2 136.9h0.9v0.9h-0.9zM121.7 142.7h0.9v0.9h-0.9zM155.5 147.2h0.9v0.9h-0.9zM178.6 114.2h1.2v1.2h-1.2zM113.1 133.5h0.9v0.9h-0.9z" fill="#9a8770" opacity="0.55"/>
<path d="M166.2 128.5h1.2v1.2h-1.2zM184.6 139.0h1.2v1.2h-1.2zM119.7 82.3h1.6v1.6h-1.6zM174.0 107.5h1.6v1.6h-1.6zM153.5 126.0h0.9v0.9h-0.9zM134.9 78.6h0.9v0.9h-0.9zM136.5 125.3h1.2v1.2h-1.2zM114.2 102.2h1.6v1.6h-1.6zM151.0 142.6h0.9v0.9h-0.9zM169.4 139.7h0.9v0.9h-0.9zM182.1 132.3h0.9v0.9h-0.9zM130.7 107.6h0.9v0.9h-0.9zM164.8 122.4h1.6v1.6h-1.6zM137.0 117.5h1.2v1.2h-1.2zM147.9 124.1h1.2v1.2h-1.2zM151.9 124.6h1.6v1.6h-1.6zM118.5 137.1h1.6v1.6h-1.6zM157.8 139.8h1.2v1.2h-1.2zM134.4 149.7h0.9v0.9h-0.9zM170.7 123.3h1.2v1.2h-1.2zM116.1 94.5h0.9v0.9h-0.9zM173.5 128.5h1.6v1.6h-1.6zM117.5 148.6h1.6v1.6h-1.6zM148.7 137.9h1.6v1.6h-1.6zM162.9 132.2h1.6v1.6h-1.6zM142.5 103.3h1.6v1.6h-1.6zM137.8 103.5h1.6v1.6h-1.6zM151.3 137.8h0.9v0.9h-0.9zM150.2 138.4h1.6v1.6h-1.6zM183.9 119.3h1.2v1.2h-1.2zM130.5 87.2h1.2v1.2h-1.2zM182.4 141.3h1.6v1.6h-1.6zM140.9 139.0h0.9v0.9h-0.9zM137.4 132.4h1.2v1.2h-1.2zM135.4 147.8h0.9v0.9h-0.9zM181.8 145.7h0.9v0.9h-0.9zM113.9 118.8h1.2v1.2h-1.2zM118.8 129.9h1.6v1.6h-1.6zM166.4 82.4h0.9v0.9h-0.9zM126.7 80.5h1.6v1.6h-1.6zM124.5 147.1h0.9v0.9h-0.9zM167.4 96.4h1.2v1.2h-1.2zM149.7 118.2h0.9v0.9h-0.9zM179.2 104.8h1.2v1.2h-1.2zM122.4 81.3h1.6v1.6h-1.6zM148.7 139.5h1.2v1.2h-1.2zM138.7 132.8h1.6v1.6h-1.6zM183.1 137.6h1.2v1.2h-1.2zM142.4 110.5h1.6v1.6h-1.6zM182.8 122.1h1.6v1.6h-1.6zM180.1 138.1h1.2v1.2h-1.2zM124.3 77.2h0.9v0.9h-0.9zM171.0 125.4h0.9v0.9h-0.9zM122.6 118.7h1.6v1.6h-1.6zM150.3 126.3h0.9v0.9h-0.9zM167.9 126.2h0.9v0.9h-0.9zM174.6 111.5h1.6v1.6h-1.6zM152.7 116.3h0.9v0.9h-0.9zM119.6 91.5h1.2v1.2h-1.2zM161.9 105.3h1.2v1.2h-1.2zM147.3 106.6h0.9v0.9h-0.9zM162.2 77.6h1.2v1.2h-1.2zM180.3 86.5h0.9v0.9h-0.9zM143.3 126.7h1.2v1.2h-1.2zM129.4 146.3h1.6v1.6h-1.6zM174.9 141.6h0.9v0.9h-0.9zM166.4 119.3h1.6v1.6h-1.6zM158.9 118.5h0.9v0.9h-0.9zM126.3 133.4h1.6v1.6h-1.6zM173.8 114.6h0.9v0.9h-0.9zM138.9 144.0h1.2v1.2h-1.2zM141.8 106.4h1.6v1.6h-1.6zM172.5 118.8h0.9v0.9h-0.9zM160.6 126.3h0.9v0.9h-0.9zM153.5 129.2h1.6v1.6h-1.6zM130.8 147.3h1.2v1.2h-1.2zM157.9 119.9h1.2v1.2h-1.2zM131.4 128.1h0.9v0.9h-0.9zM133.4 106.2h1.2v1.2h-1.2zM125.7 127.1h0.9v0.9h-0.9zM176.0 82.8h0.9v0.9h-0.9zM153.8 114.0h0.9v0.9h-0.9zM170.1 138.2h0.9v0.9h-0.9zM168.0 119.3h1.6v1.6h-1.6zM124.7 136.7h1.6v1.6h-1.6z" fill="#a8947a" opacity="0.55"/>
<path d="M168.7 148.1h1.2v1.2h-1.2zM146.4 136.3h1.2v1.2h-1.2zM138.9 143.3h0.9v0.9h-0.9zM130.1 148.1h1.6v1.6h-1.6zM148.0 145.3h1.6v1.6h-1.6zM177.0 128.4h1.6v1.6h-1.6zM130.6 130.4h1.2v1.2h-1.2zM146.1 133.8h1.6v1.6h-1.6zM183.6 148.4h1.2v1.2h-1.2zM135.5 88.7h1.2v1.2h-1.2zM174.5 142.4h0.9v0.9h-0.9zM158.5 127.3h0.9v0.9h-0.9zM180.3 137.4h1.2v1.2h-1.2zM177.6 140.6h1.6v1.6h-1.6zM172.5 84.5h1.2v1.2h-1.2zM134.4 147.3h1.2v1.2h-1.2zM175.1 115.3h0.9v0.9h-0.9zM125.2 139.7h0.9v0.9h-0.9zM124.6 78.6h0.9v0.9h-0.9zM173.8 101.7h1.6v1.6h-1.6zM138.8 135.0h0.9v0.9h-0.9zM147.6 89.5h0.9v0.9h-0.9zM142.3 95.9h1.6v1.6h-1.6zM175.4 136.9h1.6v1.6h-1.6zM159.2 120.4h0.9v0.9h-0.9zM184.4 146.5h1.6v1.6h-1.6zM177.1 143.4h1.2v1.2h-1.2zM116.6 144.7h1.2v1.2h-1.2zM181.2 130.3h1.6v1.6h-1.6zM119.6 108.8h1.6v1.6h-1.6zM113.3 111.1h0.9v0.9h-0.9zM134.9 107.6h1.2v1.2h-1.2zM145.0 94.2h0.9v0.9h-0.9zM130.8 114.6h0.9v0.9h-0.9zM167.5 85.4h0.9v0.9h-0.9zM116.2 126.5h1.6v1.6h-1.6zM138.5 115.2h0.9v0.9h-0.9zM113.3 125.5h1.6v1.6h-1.6zM149.5 98.3h0.9v0.9h-0.9zM154.8 142.6h1.6v1.6h-1.6zM176.1 128.6h1.2v1.2h-1.2zM114.0 87.8h1.2v1.2h-1.2zM167.7 125.3h1.2v1.2h-1.2zM172.4 118.6h1.6v1.6h-1.6zM153.0 147.7h0.9v0.9h-0.9zM136.0 148.9h0.9v0.9h-0.9zM143.0 85.6h1.2v1.2h-1.2zM143.0 137.6h1.2v1.2h-1.2zM183.6 85.5h0.9v0.9h-0.9zM136.4 143.2h0.9v0.9h-0.9zM120.7 131.7h0.9v0.9h-0.9zM179.2 95.1h1.2v1.2h-1.2zM135.5 136.8h1.2v1.2h-1.2zM182.9 129.5h1.2v1.2h-1.2zM147.5 81.4h1.6v1.6h-1.6zM179.9 148.4h1.2v1.2h-1.2zM161.8 149.6h1.6v1.6h-1.6zM164.7 94.8h1.6v1.6h-1.6zM142.1 134.6h1.6v1.6h-1.6zM143.0 132.8h1.2v1.2h-1.2zM160.9 111.2h1.2v1.2h-1.2zM185.9 142.1h1.2v1.2h-1.2zM131.7 105.3h1.2v1.2h-1.2zM179.6 120.8h1.6v1.6h-1.6zM184.6 124.8h1.2v1.2h-1.2zM161.8 128.6h1.2v1.2h-1.2zM151.8 125.1h1.2v1.2h-1.2zM169.5 102.5h1.2v1.2h-1.2zM145.6 139.8h1.2v1.2h-1.2zM148.6 129.3h1.6v1.6h-1.6zM174.5 146.8h0.9v0.9h-0.9zM116.4 141.2h0.9v0.9h-0.9zM184.4 121.8h1.2v1.2h-1.2zM182.7 124.7h1.2v1.2h-1.2zM180.2 115.4h1.2v1.2h-1.2zM146.1 143.7h0.9v0.9h-0.9z" fill="#b8a48a" opacity="0.55"/>
<path d="M142.8 122.1h1.5v1.5h-1.5zM150.8 124.4h1v1h-1zM179.9 137.1h1.5v1.5h-1.5zM141.8 133.3h1v1h-1zM136.0 133.1h1v1h-1zM156.4 147.9h1.5v1.5h-1.5zM146.6 145.3h1.5v1.5h-1.5zM141.5 95.1h1.5v1.5h-1.5zM163.8 123.4h1.5v1.5h-1.5zM133.9 138.1h1v1h-1zM157.9 143.7h1v1h-1zM148.4 123.7h1.5v1.5h-1.5zM163.7 129.8h1v1h-1zM154.5 121.9h1.5v1.5h-1.5zM116.0 98.0h1v1h-1zM175.4 125.2h1.5v1.5h-1.5zM125.3 99.3h1v1h-1zM150.4 79.1h1v1h-1zM135.8 127.8h1.5v1.5h-1.5zM160.8 108.5h1.5v1.5h-1.5zM135.6 132.5h1v1h-1zM182.4 80.2h1v1h-1zM145.0 135.7h1.5v1.5h-1.5zM182.4 103.8h1.5v1.5h-1.5zM142.9 118.1h1v1h-1zM161.4 115.3h1v1h-1zM146.6 121.6h1v1h-1zM113.8 129.5h1.5v1.5h-1.5zM148.5 123.4h1.5v1.5h-1.5zM161.8 149.2h1v1h-1zM132.4 127.5h1v1h-1zM120.7 148.2h1.5v1.5h-1.5zM147.4 117.7h1.5v1.5h-1.5zM162.8 96.4h1v1h-1zM170.0 126.8h1v1h-1zM151.0 117.8h1.5v1.5h-1.5zM141.3 117.7h1v1h-1zM138.5 127.5h1.5v1.5h-1.5zM138.9 129.2h1v1h-1zM183.8 142.7h1.5v1.5h-1.5z" fill="#d4a888" opacity="0.5"/>
</g></g>
<g clip-path="url(#c189)"><g filter="url(#mb)">
<rect x="189" y="78" width="72" height="72" fill="#f3dcc6"/>
<ellipse cx="194" cy="118" rx="9" ry="10.799999999999999" fill="#fcf2e8" opacity="0.7"/>
<ellipse cx="255" cy="113" rx="9" ry="10.799999999999999" fill="#fcf2e8" opacity="0.55"/>
<ellipse cx="217" cy="100" rx="13" ry="15.6" fill="#eab898" opacity="0.45"/>
<ellipse cx="227" cy="128" rx="10" ry="12.0" fill="#ecbea0" opacity="0.35"/>
<ellipse cx="207" cy="144" rx="8" ry="9.6" fill="#fcf2e8" opacity="0.5"/>
<ellipse cx="244" cy="140" rx="7" ry="8.4" fill="#fcf2e8" opacity="0.4"/>
<path d="M217.6 145.1h2.5v2.5h-2.5zM258.8 144.4h2.5v2.5h-2.5zM255.4 90.3h2.5v2.5h-2.5zM256.0 82.8h3.5v3.5h-3.5zM228.8 93.1h3.5v3.5h-3.5zM226.6 80.1h2.5v2.5h-2.5zM237.8 139.1h1.5v1.5h-1.5zM231.2 83.3h3.5v3.5h-3.5zM188.7 147.9h2.5v2.5h-2.5zM242.9 125.8h2.5v2.5h-2.5zM228.3 118.4h2.5v2.5h-2.5zM257.0 139.1h1.5v1.5h-1.5zM228.6 147.7h1.5v1.5h-1.5zM219.1 97.9h2.5v2.5h-2.5zM256.7 126.6h1.5v1.5h-1.5zM247.3 88.7h3.5v3.5h-3.5zM208.0 129.6h3.5v3.5h-3.5zM252.5 109.0h1.5v1.5h-1.5zM221.2 113.0h2.5v2.5h-2.5zM236.2 143.0h2.5v2.5h-2.5zM241.1 84.3h1.5v1.5h-1.5zM255.9 93.3h3.5v3.5h-3.5zM240.3 117.6h3.5v3.5h-3.5zM238.5 97.8h2.5v2.5h-2.5zM228.3 107.7h3.5v3.5h-3.5zM229.0 125.2h1.5v1.5h-1.5zM199.8 136.1h1.5v1.5h-1.5zM237.5 95.1h2.5v2.5h-2.5zM247.6 136.9h3.5v3.5h-3.5zM196.5 131.6h1.5v1.5h-1.5zM258.7 105.3h1.5v1.5h-1.5zM230.2 105.6h3.5v3.5h-3.5zM228.8 137.1h3.5v3.5h-3.5zM259.2 124.6h1.5v1.5h-1.5zM203.2 77.8h3.5v3.5h-3.5zM258.9 140.4h3.5v3.5h-3.5zM237.8 99.1h1.5v1.5h-1.5zM221.7 138.9h2.5v2.5h-2.5zM195.2 79.4h1.5v1.5h-1.5zM210.6 115.7h2.5v2.5h-2.5zM191.0 98.7h2.5v2.5h-2.5zM199.2 141.5h3.5v3.5h-3.5zM225.3 145.2h3.5v3.5h-3.5zM225.0 111.9h1.5v1.5h-1.5zM229.2 118.1h3.5v3.5h-3.5zM192.9 98.8h1.5v1.5h-1.5zM226.2 78.2h3.5v3.5h-3.5zM200.3 80.3h2.5v2.5h-2.5zM238.4 120.1h2.5v2.5h-2.5zM226.2 136.9h2.5v2.5h-2.5zM256.1 91.3h3.5v3.5h-3.5zM244.0 145.8h2.5v2.5h-2.5zM228.6 142.3h3.5v3.5h-3.5zM209.1 98.1h3.5v3.5h-3.5zM228.7 90.8h2.5v2.5h-2.5zM252.3 80.0h1.5v1.5h-1.5zM231.4 125.7h3.5v3.5h-3.5zM225.2 78.8h2.5v2.5h-2.5zM257.7 127.2h2.5v2.5h-2.5zM228.5 100.4h3.5v3.5h-3.5zM233.9 117.9h3.5v3.5h-3.5zM204.5 103.9h3.5v3.5h-3.5zM196.2 107.0h1.5v1.5h-1.5zM257.1 97.1h2.5v2.5h-2.5zM257.0 119.7h1.5v1.5h-1.5zM219.3 131.7h2.5v2.5h-2.5zM255.0 122.6h2.5v2.5h-2.5zM224.8 123.0h1.5v1.5h-1.5zM240.6 99.1h2.5v2.5h-2.5zM216.3 101.7h2.5v2.5h-2.5zM245.3 146.9h2.5v2.5h-2.5zM258.4 127.8h2.5v2.5h-2.5zM233.9 92.8h2.5v2.5h-2.5zM235.2 84.9h2.5v2.5h-2.5zM214.7 94.5h1.5v1.5h-1.5zM227.0 79.6h1.5v1.5h-1.5zM235.9 117.9h1.5v1.5h-1.5zM209.3 144.7h3.5v3.5h-3.5zM252.8 133.3h2.5v2.5h-2.5zM239.5 93.5h1.5v1.5h-1.5zM202.9 126.8h3.5v3.5h-3.5zM236.0 144.8h3.5v3.5h-3.5zM234.9 89.0h3.5v3.5h-3.5zM255.1 87.6h3.5v3.5h-3.5zM238.4 103.3h2.5v2.5h-2.5zM256.3 111.2h2.5v2.5h-2.5zM191.7 148.5h3.5v3.5h-3.5zM198.3 133.6h1.5v1.5h-1.5zM244.2 83.3h1.5v1.5h-1.5zM192.8 80.7h2.5v2.5h-2.5zM211.1 90.4h3.5v3.5h-3.5zM234.2 112.7h2.5v2.5h-2.5zM231.5 84.9h3.5v3.5h-3.5zM249.6 112.0h2.5v2.5h-2.5zM251.3 91.5h3.5v3.5h-3.5zM203.3 92.2h3.5v3.5h-3.5zM188.4 80.6h2.5v2.5h-2.5zM221.3 77.4h1.5v1.5h-1.5zM223.6 97.2h2.5v2.5h-2.5zM204.8 128.5h1.5v1.5h-1.5zM198.4 113.8h1.5v1.5h-1.5zM197.3 120.2h3.5v3.5h-3.5zM254.0 148.2h2.5v2.5h-2.5zM225.2 108.2h3.5v3.5h-3.5zM221.2 90.1h3.5v3.5h-3.5zM218.6 127.0h3.5v3.5h-3.5zM192.2 116.2h1.5v1.5h-1.5zM246.3 135.0h3.5v3.5h-3.5zM217.4 97.2h3.5v3.5h-3.5zM194.5 82.3h1.5v1.5h-1.5zM253.8 130.9h2.5v2.5h-2.5zM213.2 127.9h2.5v2.5h-2.5zM244.1 87.9h1.5v1.5h-1.5zM207.6 127.0h1.5v1.5h-1.5zM215.0 94.7h3.5v3.5h-3.5zM255.3 130.2h1.5v1.5h-1.5zM222.9 78.2h1.5v1.5h-1.5zM218.3 95.8h3.5v3.5h-3.5zM198.4 97.4h2.5v2.5h-2.5zM244.7 86.6h2.5v2.5h-2.5zM211.5 96.9h2.5v2.5h-2.5zM257.5 116.4h3.5v3.5h-3.5zM231.4 120.5h1.5v1.5h-1.5zM191.4 150.0h2.5v2.5h-2.5zM231.3 121.8h1.5v1.5h-1.5zM216.1 108.4h1.5v1.5h-1.5zM231.4 126.2h3.5v3.5h-3.5zM249.5 148.6h3.5v3.5h-3.5zM239.1 97.5h2.5v2.5h-2.5zM194.1 118.3h1.5v1.5h-1.5zM203.9 79.8h2.5v2.5h-2.5zM213.9 81.4h3.5v3.5h-3.5zM217.4 135.0h2.5v2.5h-2.5zM238.8 131.8h2.5v2.5h-2.5zM190.9 130.1h2.5v2.5h-2.5zM199.9 114.3h3.5v3.5h-3.5zM232.2 99.6h3.5v3.5h-3.5zM213.1 83.6h2.5v2.5h-2.5zM215.4 85.3h3.5v3.5h-3.5zM235.0 99.8h2.5v2.5h-2.5zM240.1 105.3h1.5v1.5h-1.5zM222.2 137.2h2.5v2.5h-2.5zM214.1 142.9h1.5v1.5h-1.5zM251.7 135.4h2.5v2.5h-2.5zM222.8 142.6h3.5v3.5h-3.5zM259.9 103.3h2.5v2.5h-2.5zM197.1 137.8h1.5v1.5h-1.5zM246.8 146.6h3.5v3.5h-3.5zM245.0 82.7h1.5v1.5h-1.5zM228.2 144.5h3.5v3.5h-3.5zM191.3 139.6h3.5v3.5h-3.5zM239.3 111.0h1.5v1.5h-1.5zM207.3 108.9h2.5v2.5h-2.5zM243.1 134.2h3.5v3.5h-3.5zM226.3 125.7h3.5v3.5h-3.5zM257.5 142.5h2.5v2.5h-2.5zM236.3 83.6h2.5v2.5h-2.5zM212.4 88.7h2.5v2.5h-2.5zM246.1 100.1h1.5v1.5h-1.5zM234.8 90.5h3.5v3.5h-3.5zM219.3 95.4h1.5v1.5h-1.5zM259.5 148.6h1.5v1.5h-1.5zM244.1 99.8h3.5v3.5h-3.5zM220.8 148.2h2.5v2.5h-2.5zM239.6 97.4h1.5v1.5h-1.5zM248.0 109.0h3.5v3.5h-3.5zM211.4 102.3h2.5v2.5h-2.5zM193.1 148.3h1.5v1.5h-1.5zM218.2 91.1h1.5v1.5h-1.5zM240.3 125.2h2.5v2.5h-2.5zM259.3 79.7h1.5v1.5h-1.5zM239.9 139.8h1.5v1.5h-1.5zM226.5 102.4h1.5v1.5h-1.5zM250.1 103.4h2.5v2.5h-2.5zM219.6 142.9h2.5v2.5h-2.5zM216.6 105.3h1.5v1.5h-1.5zM202.1 110.2h3.5v3.5h-3.5zM230.5 131.0h1.5v1.5h-1.5zM238.6 140.2h3.5v3.5h-3.5zM197.4 134.9h3.5v3.5h-3.5zM257.3 85.9h3.5v3.5h-3.5zM233.8 119.0h1.5v1.5h-1.5zM197.2 88.8h1.5v1.5h-1.5zM251.1 94.8h3.5v3.5h-3.5zM196.6 144.6h2.5v2.5h-2.5zM239.6 125.8h2.5v2.5h-2.5zM254.9 77.6h2.5v2.5h-2.5zM195.1 138.3h3.5v3.5h-3.5zM235.6 107.5h3.5v3.5h-3.5zM225.2 141.8h1.5v1.5h-1.5zM211.5 111.9h1.5v1.5h-1.5zM235.1 138.9h3.5v3.5h-3.5zM193.2 128.5h1.5v1.5h-1.5zM230.5 120.4h1.5v1.5h-1.5zM252.1 108.9h2.5v2.5h-2.5zM209.7 146.3h1.5v1.5h-1.5zM217.7 105.5h2.5v2.5h-2.5zM239.0 87.7h1.5v1.5h-1.5zM258.9 121.0h1.5v1.5h-1.5zM259.4 147.1h1.5v1.5h-1.5zM236.6 125.7h2.5v2.5h-2.5zM208.2 89.8h1.5v1.5h-1.5zM222.6 91.9h2.5v2.5h-2.5zM239.0 83.8h3.5v3.5h-3.5zM252.6 141.5h1.5v1.5h-1.5zM217.8 120.6h3.5v3.5h-3.5zM248.9 147.3h1.5v1.5h-1.5zM249.7 130.6h1.5v1.5h-1.5zM254.3 116.4h3.5v3.5h-3.5zM241.6 125.8h3.5v3.5h-3.5zM249.4 102.0h1.5v1.5h-1.5zM254.3 102.1h1.5v1.5h-1.5zM247.9 127.6h1.5v1.5h-1.5zM189.0 134.3h1.5v1.5h-1.5zM260.9 84.2h3.5v3.5h-3.5zM204.0 105.0h3.5v3.5h-3.5zM220.0 140.3h1.5v1.5h-1.5zM220.1 131.8h2.5v2.5h-2.5zM214.8 87.7h2.5v2.5h-2.5zM213.0 77.8h2.5v2.5h-2.5zM252.0 100.8h1.5v1.5h-1.5zM226.1 104.2h3.5v3.5h-3.5zM223.3 147.0h3.5v3.5h-3.5zM251.5 91.4h2.5v2.5h-2.5zM253.8 89.6h2.5v2.5h-2.5z" fill="#f0cdb2" opacity="0.6"/>
<path d="M203.7 116.6h3.5v3.5h-3.5zM237.5 137.8h1.5v1.5h-1.5zM220.0 92.2h1.5v1.5h-1.5zM239.2 124.3h3.5v3.5h-3.5zM228.6 131.1h2.5v2.5h-2.5zM256.4 118.4h2.5v2.5h-2.5zM234.6 127.0h3.5v3.5h-3.5zM238.3 146.0h3.5v3.5h-3.5zM227.4 104.2h3.5v3.5h-3.5zM192.7 129.1h1.5v1.5h-1.5zM244.9 139.6h1.5v1.5h-1.5zM258.5 105.0h1.5v1.5h-1.5zM249.3 77.7h3.5v3.5h-3.5zM250.7 111.5h2.5v2.5h-2.5zM208.9 126.6h2.5v2.5h-2.5zM236.4 90.9h2.5v2.5h-2.5zM255.3 91.7h2.5v2.5h-2.5zM226.4 110.7h3.5v3.5h-3.5zM236.5 133.7h2.5v2.5h-2.5zM226.9 98.6h3.5v3.5h-3.5zM219.5 124.4h3.5v3.5h-3.5zM247.9 124.5h1.5v1.5h-1.5zM192.8 80.5h3.5v3.5h-3.5zM250.1 132.0h1.5v1.5h-1.5zM222.4 95.7h2.5v2.5h-2.5zM252.4 132.4h3.5v3.5h-3.5zM224.5 96.8h3.5v3.5h-3.5zM196.0 91.9h3.5v3.5h-3.5zM239.7 119.5h2.5v2.5h-2.5zM219.9 141.6h1.5v1.5h-1.5zM220.7 121.7h3.5v3.5h-3.5zM241.3 117.3h2.5v2.5h-2.5zM243.1 133.9h3.5v3.5h-3.5zM231.3 87.8h1.5v1.5h-1.5zM213.9 102.7h3.5v3.5h-3.5zM209.2 144.5h2.5v2.5h-2.5zM249.5 94.0h3.5v3.5h-3.5zM191.3 87.5h1.5v1.5h-1.5zM232.9 80.5h1.5v1.5h-1.5zM241.8 142.0h1.5v1.5h-1.5zM257.9 101.0h2.5v2.5h-2.5zM229.5 99.0h1.5v1.5h-1.5zM234.0 104.9h1.5v1.5h-1.5zM232.9 138.3h2.5v2.5h-2.5zM224.7 144.8h3.5v3.5h-3.5zM230.3 82.9h1.5v1.5h-1.5zM192.4 83.4h1.5v1.5h-1.5zM259.3 90.1h2.5v2.5h-2.5zM197.1 92.0h3.5v3.5h-3.5zM217.5 118.4h1.5v1.5h-1.5zM197.3 136.0h2.5v2.5h-2.5zM190.3 84.1h1.5v1.5h-1.5zM256.1 88.3h1.5v1.5h-1.5zM237.7 131.5h2.5v2.5h-2.5zM225.8 127.7h2.5v2.5h-2.5zM224.8 146.7h1.5v1.5h-1.5zM258.1 129.5h1.5v1.5h-1.5zM211.5 90.1h3.5v3.5h-3.5zM232.7 136.8h1.5v1.5h-1.5zM220.6 119.6h2.5v2.5h-2.5zM196.3 79.6h1.5v1.5h-1.5zM230.3 148.6h3.5v3.5h-3.5zM220.4 125.6h2.5v2.5h-2.5zM201.6 118.4h1.5v1.5h-1.5zM195.1 84.7h3.5v3.5h-3.5zM257.5 92.4h1.5v1.5h-1.5zM242.9 99.9h1.5v1.5h-1.5zM236.3 144.5h1.5v1.5h-1.5zM243.2 96.5h2.5v2.5h-2.5zM213.6 137.2h2.5v2.5h-2.5zM229.9 103.4h1.5v1.5h-1.5zM231.2 81.7h1.5v1.5h-1.5zM258.5 82.7h2.5v2.5h-2.5zM247.8 142.4h2.5v2.5h-2.5zM225.4 96.5h1.5v1.5h-1.5zM252.0 133.2h1.5v1.5h-1.5zM244.3 144.5h3.5v3.5h-3.5zM238.5 96.3h3.5v3.5h-3.5zM215.7 144.4h3.5v3.5h-3.5zM211.6 141.5h3.5v3.5h-3.5zM202.7 92.7h1.5v1.5h-1.5zM242.8 85.1h1.5v1.5h-1.5zM244.8 126.7h1.5v1.5h-1.5zM242.6 134.3h2.5v2.5h-2.5zM252.0 127.4h2.5v2.5h-2.5zM237.7 82.8h2.5v2.5h-2.5zM191.5 121.6h1.5v1.5h-1.5zM239.7 80.9h3.5v3.5h-3.5zM259.8 133.5h1.5v1.5h-1.5zM211.4 99.6h3.5v3.5h-3.5zM192.1 109.4h1.5v1.5h-1.5zM229.8 125.8h3.5v3.5h-3.5zM202.2 148.8h2.5v2.5h-2.5zM259.5 125.6h2.5v2.5h-2.5zM252.9 102.2h2.5v2.5h-2.5zM243.9 130.2h1.5v1.5h-1.5zM246.7 83.8h1.5v1.5h-1.5zM259.2 124.5h3.5v3.5h-3.5zM255.7 96.3h3.5v3.5h-3.5zM215.2 81.7h1.5v1.5h-1.5zM249.9 98.5h3.5v3.5h-3.5zM207.5 99.9h2.5v2.5h-2.5zM199.9 101.6h2.5v2.5h-2.5zM260.0 85.5h2.5v2.5h-2.5zM239.3 146.2h2.5v2.5h-2.5zM218.7 121.3h2.5v2.5h-2.5zM219.2 131.5h2.5v2.5h-2.5zM239.5 113.9h3.5v3.5h-3.5zM250.5 121.2h1.5v1.5h-1.5zM196.9 106.1h2.5v2.5h-2.5zM203.9 81.4h2.5v2.5h-2.5zM220.9 92.3h3.5v3.5h-3.5zM204.9 85.9h2.5v2.5h-2.5zM208.0 124.7h1.5v1.5h-1.5zM259.5 134.4h3.5v3.5h-3.5zM227.9 88.6h2.5v2.5h-2.5zM226.0 83.0h2.5v2.5h-2.5zM199.8 98.0h2.5v2.5h-2.5zM238.1 128.5h2.5v2.5h-2.5zM258.1 92.2h2.5v2.5h-2.5zM231.8 79.7h2.5v2.5h-2.5zM252.0 79.8h2.5v2.5h-2.5zM189.2 132.7h3.5v3.5h-3.5zM240.0 90.8h1.5v1.5h-1.5zM250.7 133.9h1.5v1.5h-1.5zM215.9 105.8h1.5v1.5h-1.5zM253.3 117.6h1.5v1.5h-1.5zM258.2 83.8h3.5v3.5h-3.5zM190.2 107.9h1.5v1.5h-1.5zM214.2 78.3h1.5v1.5h-1.5zM239.1 90.3h2.5v2.5h-2.5zM190.4 123.1h2.5v2.5h-2.5zM223.5 99.4h3.5v3.5h-3.5zM245.1 91.7h1.5v1.5h-1.5zM223.2 119.0h3.5v3.5h-3.5zM188.3 90.2h2.5v2.5h-2.5zM197.5 85.4h1.5v1.5h-1.5zM222.7 127.4h3.5v3.5h-3.5zM257.0 137.1h1.5v1.5h-1.5zM241.9 138.2h3.5v3.5h-3.5zM196.8 111.0h1.5v1.5h-1.5zM190.7 126.8h1.5v1.5h-1.5zM211.6 77.4h2.5v2.5h-2.5zM203.0 129.6h3.5v3.5h-3.5zM222.3 111.3h3.5v3.5h-3.5zM210.9 141.7h3.5v3.5h-3.5zM188.7 98.7h3.5v3.5h-3.5zM249.7 103.4h2.5v2.5h-2.5zM249.2 90.1h3.5v3.5h-3.5zM194.8 147.2h3.5v3.5h-3.5zM201.0 137.1h3.5v3.5h-3.5zM201.3 135.7h2.5v2.5h-2.5zM232.8 114.3h1.5v1.5h-1.5zM198.2 124.4h2.5v2.5h-2.5zM248.0 121.6h3.5v3.5h-3.5zM218.9 98.1h1.5v1.5h-1.5zM210.7 91.0h2.5v2.5h-2.5zM203.3 142.1h2.5v2.5h-2.5zM251.0 147.8h2.5v2.5h-2.5zM240.8 128.0h2.5v2.5h-2.5zM223.1 117.4h2.5v2.5h-2.5zM242.4 107.5h2.5v2.5h-2.5zM210.7 109.6h2.5v2.5h-2.5zM215.7 124.5h2.5v2.5h-2.5zM258.4 77.3h3.5v3.5h-3.5zM202.2 142.5h1.5v1.5h-1.5zM240.0 121.3h3.5v3.5h-3.5zM241.0 102.9h1.5v1.5h-1.5zM222.8 98.5h1.5v1.5h-1.5zM213.8 103.9h1.5v1.5h-1.5zM191.2 96.2h1.5v1.5h-1.5zM257.3 130.2h2.5v2.5h-2.5zM257.0 115.7h1.5v1.5h-1.5zM244.9 146.7h1.5v1.5h-1.5zM223.4 81.0h1.5v1.5h-1.5zM233.8 127.7h2.5v2.5h-2.5zM222.0 132.3h1.5v1.5h-1.5zM189.0 135.1h2.5v2.5h-2.5zM247.6 115.0h3.5v3.5h-3.5zM248.9 136.8h1.5v1.5h-1.5zM218.0 126.1h3.5v3.5h-3.5zM235.9 131.5h1.5v1.5h-1.5zM234.6 144.2h1.5v1.5h-1.5zM256.6 135.2h2.5v2.5h-2.5zM259.5 79.4h2.5v2.5h-2.5zM198.5 114.0h3.5v3.5h-3.5zM254.3 121.4h3.5v3.5h-3.5zM195.9 106.9h3.5v3.5h-3.5zM209.4 118.4h1.5v1.5h-1.5zM215.2 142.3h2.5v2.5h-2.5zM255.5 149.0h3.5v3.5h-3.5zM237.6 139.0h3.5v3.5h-3.5zM210.8 130.7h2.5v2.5h-2.5zM244.7 78.0h3.5v3.5h-3.5zM212.6 124.4h1.5v1.5h-1.5zM203.1 134.8h1.5v1.5h-1.5zM215.6 104.9h2.5v2.5h-2.5zM189.9 106.3h2.5v2.5h-2.5zM252.0 83.7h1.5v1.5h-1.5zM196.1 86.2h1.5v1.5h-1.5zM219.8 129.6h1.5v1.5h-1.5zM220.5 82.2h3.5v3.5h-3.5zM253.6 147.4h2.5v2.5h-2.5zM260.4 79.3h1.5v1.5h-1.5zM223.9 79.9h1.5v1.5h-1.5zM189.3 108.2h1.5v1.5h-1.5zM216.3 105.4h2.5v2.5h-2.5zM202.0 85.2h2.5v2.5h-2.5zM238.7 98.5h3.5v3.5h-3.5zM190.4 84.6h2.5v2.5h-2.5zM229.7 107.2h2.5v2.5h-2.5zM250.5 116.3h1.5v1.5h-1.5zM214.6 101.8h3.5v3.5h-3.5zM253.5 132.2h3.5v3.5h-3.5zM253.2 144.0h1.5v1.5h-1.5zM255.6 116.5h2.5v2.5h-2.5zM230.8 117.4h2.5v2.5h-2.5zM237.7 146.8h1.5v1.5h-1.5zM202.7 142.9h1.5v1.5h-1.5zM203.6 82.4h2.5v2.5h-2.5zM201.6 95.7h1.5v1.5h-1.5zM202.9 145.6h2.5v2.5h-2.5zM257.1 116.3h1.5v1.5h-1.5zM195.8 146.1h3.5v3.5h-3.5zM248.1 90.7h3.5v3.5h-3.5zM213.7 81.3h3.5v3.5h-3.5zM251.6 104.6h2.5v2.5h-2.5zM248.2 88.6h1.5v1.5h-1.5zM212.7 91.4h1.5v1.5h-1.5z" fill="#ecc6aa" opacity="0.6"/>
<path d="M200.3 125.9h3.5v3.5h-3.5zM194.9 96.6h2.5v2.5h-2.5zM234.4 115.1h2.5v2.5h-2.5zM250.9 120.3h1.5v1.5h-1.5zM190.7 141.1h1.5v1.5h-1.5zM228.5 143.7h2.5v2.5h-2.5zM191.6 132.3h1.5v1.5h-1.5zM212.1 143.0h3.5v3.5h-3.5zM259.0 106.6h2.5v2.5h-2.5zM257.9 106.7h2.5v2.5h-2.5zM245.2 113.0h3.5v3.5h-3.5zM228.0 139.6h2.5v2.5h-2.5zM236.9 96.5h2.5v2.5h-2.5zM249.1 108.1h1.5v1.5h-1.5zM253.4 137.5h1.5v1.5h-1.5zM258.9 96.1h2.5v2.5h-2.5zM197.5 113.3h1.5v1.5h-1.5zM233.5 129.2h2.5v2.5h-2.5zM215.6 130.0h1.5v1.5h-1.5zM196.5 120.4h2.5v2.5h-2.5zM250.6 105.5h2.5v2.5h-2.5zM234.6 128.8h3.5v3.5h-3.5zM225.8 116.7h1.5v1.5h-1.5zM256.1 90.6h3.5v3.5h-3.5zM209.6 137.2h3.5v3.5h-3.5zM230.4 118.9h2.5v2.5h-2.5zM228.8 144.2h3.5v3.5h-3.5zM239.3 148.0h2.5v2.5h-2.5zM233.8 133.0h2.5v2.5h-2.5zM200.2 102.7h3.5v3.5h-3.5zM242.5 101.0h1.5v1.5h-1.5zM238.7 121.1h3.5v3.5h-3.5zM218.3 107.2h1.5v1.5h-1.5zM189.1 87.2h2.5v2.5h-2.5zM258.4 85.3h1.5v1.5h-1.5zM252.8 87.9h2.5v2.5h-2.5zM234.9 116.1h1.5v1.5h-1.5zM200.0 102.6h1.5v1.5h-1.5zM234.4 104.4h1.5v1.5h-1.5zM204.3 100.2h2.5v2.5h-2.5zM200.1 93.1h1.5v1.5h-1.5zM191.8 107.0h3.5v3.5h-3.5zM216.3 121.9h2.5v2.5h-2.5zM195.2 142.9h1.5v1.5h-1.5zM242.2 108.6h3.5v3.5h-3.5zM206.0 133.2h3.5v3.5h-3.5zM237.0 80.9h1.5v1.5h-1.5zM236.7 83.1h1.5v1.5h-1.5zM247.9 126.4h2.5v2.5h-2.5zM250.7 92.2h1.5v1.5h-1.5zM247.3 123.5h2.5v2.5h-2.5zM229.5 138.7h1.5v1.5h-1.5zM233.7 128.5h3.5v3.5h-3.5zM251.9 126.8h3.5v3.5h-3.5zM216.4 101.6h2.5v2.5h-2.5zM259.2 130.6h3.5v3.5h-3.5zM202.8 126.7h1.5v1.5h-1.5zM194.7 115.7h1.5v1.5h-1.5zM246.0 101.1h1.5v1.5h-1.5zM231.6 148.3h1.5v1.5h-1.5zM210.3 100.4h3.5v3.5h-3.5zM219.3 145.8h1.5v1.5h-1.5zM189.6 78.2h3.5v3.5h-3.5zM247.3 115.7h1.5v1.5h-1.5zM255.6 132.7h1.5v1.5h-1.5zM225.3 111.3h2.5v2.5h-2.5zM235.3 83.6h2.5v2.5h-2.5zM259.8 116.4h2.5v2.5h-2.5zM200.3 105.4h1.5v1.5h-1.5zM195.3 85.9h2.5v2.5h-2.5zM233.3 96.2h2.5v2.5h-2.5zM246.0 88.8h3.5v3.5h-3.5zM230.1 96.0h3.5v3.5h-3.5zM247.0 141.8h3.5v3.5h-3.5zM229.6 90.7h1.5v1.5h-1.5zM217.6 96.6h1.5v1.5h-1.5zM260.4 84.8h2.5v2.5h-2.5zM252.5 147.7h3.5v3.5h-3.5zM192.6 140.0h1.5v1.5h-1.5zM206.6 79.4h2.5v2.5h-2.5zM259.3 94.9h1.5v1.5h-1.5zM255.5 83.0h3.5v3.5h-3.5zM212.1 138.2h2.5v2.5h-2.5zM220.6 136.1h3.5v3.5h-3.5zM206.2 98.2h1.5v1.5h-1.5zM214.4 101.8h2.5v2.5h-2.5zM236.9 115.3h3.5v3.5h-3.5zM197.6 99.6h2.5v2.5h-2.5zM229.2 79.3h3.5v3.5h-3.5zM210.3 121.1h3.5v3.5h-3.5zM241.8 99.3h1.5v1.5h-1.5zM198.1 147.4h1.5v1.5h-1.5zM194.1 131.0h3.5v3.5h-3.5zM203.7 148.6h3.5v3.5h-3.5zM228.9 145.8h1.5v1.5h-1.5zM237.7 109.8h1.5v1.5h-1.5zM230.5 108.4h2.5v2.5h-2.5zM252.8 83.6h2.5v2.5h-2.5zM218.3 88.1h2.5v2.5h-2.5zM207.6 114.9h2.5v2.5h-2.5zM193.2 136.0h2.5v2.5h-2.5zM256.8 111.3h1.5v1.5h-1.5zM252.0 111.0h3.5v3.5h-3.5zM234.5 99.8h3.5v3.5h-3.5zM242.7 132.0h2.5v2.5h-2.5zM227.3 118.9h2.5v2.5h-2.5zM190.9 128.2h2.5v2.5h-2.5zM219.7 143.6h1.5v1.5h-1.5zM221.1 89.9h2.5v2.5h-2.5zM208.2 100.6h3.5v3.5h-3.5zM220.0 91.5h3.5v3.5h-3.5zM242.5 78.0h3.5v3.5h-3.5zM205.2 83.8h3.5v3.5h-3.5zM226.8 128.8h2.5v2.5h-2.5zM224.3 122.8h3.5v3.5h-3.5zM197.2 123.1h2.5v2.5h-2.5zM216.7 149.9h1.5v1.5h-1.5zM205.3 141.2h3.5v3.5h-3.5zM192.8 104.1h3.5v3.5h-3.5zM250.4 115.8h1.5v1.5h-1.5zM245.1 116.4h2.5v2.5h-2.5zM225.6 114.9h1.5v1.5h-1.5zM212.0 118.8h3.5v3.5h-3.5zM188.4 133.4h2.5v2.5h-2.5zM238.5 115.9h1.5v1.5h-1.5zM237.7 116.8h3.5v3.5h-3.5zM235.0 85.5h2.5v2.5h-2.5zM211.5 144.0h2.5v2.5h-2.5zM207.5 101.0h1.5v1.5h-1.5zM254.5 128.2h2.5v2.5h-2.5zM240.3 109.4h1.5v1.5h-1.5zM250.2 134.1h3.5v3.5h-3.5zM210.1 141.0h2.5v2.5h-2.5zM227.2 131.8h1.5v1.5h-1.5zM207.1 82.8h3.5v3.5h-3.5zM205.9 145.5h2.5v2.5h-2.5zM195.9 133.7h2.5v2.5h-2.5zM221.3 82.9h2.5v2.5h-2.5zM197.9 114.2h1.5v1.5h-1.5zM208.8 147.9h3.5v3.5h-3.5zM201.7 142.5h1.5v1.5h-1.5zM245.9 147.1h1.5v1.5h-1.5zM220.4 96.0h2.5v2.5h-2.5zM207.8 98.2h2.5v2.5h-2.5zM216.8 78.1h1.5v1.5h-1.5zM243.4 115.3h1.5v1.5h-1.5zM246.8 140.6h2.5v2.5h-2.5zM200.3 144.0h2.5v2.5h-2.5zM259.5 117.9h3.5v3.5h-3.5zM189.7 90.1h3.5v3.5h-3.5zM198.3 145.5h1.5v1.5h-1.5zM259.1 92.7h1.5v1.5h-1.5zM219.0 123.6h3.5v3.5h-3.5zM189.6 105.0h2.5v2.5h-2.5zM243.1 115.8h2.5v2.5h-2.5zM218.2 147.4h2.5v2.5h-2.5zM250.7 141.4h1.5v1.5h-1.5zM250.9 79.3h1.5v1.5h-1.5zM243.4 136.2h2.5v2.5h-2.5zM247.0 111.1h2.5v2.5h-2.5zM236.8 94.2h1.5v1.5h-1.5zM230.9 128.1h1.5v1.5h-1.5zM235.3 134.6h2.5v2.5h-2.5zM218.3 134.5h2.5v2.5h-2.5zM248.8 85.2h1.5v1.5h-1.5zM190.7 143.7h1.5v1.5h-1.5zM227.6 126.2h1.5v1.5h-1.5zM232.1 122.1h3.5v3.5h-3.5zM188.8 143.9h1.5v1.5h-1.5zM241.9 143.1h3.5v3.5h-3.5zM235.1 100.8h2.5v2.5h-2.5zM208.4 101.6h2.5v2.5h-2.5zM194.8 95.1h1.5v1.5h-1.5zM254.7 125.1h3.5v3.5h-3.5zM201.3 148.2h1.5v1.5h-1.5zM212.6 123.9h2.5v2.5h-2.5zM228.9 106.3h3.5v3.5h-3.5zM250.5 123.2h3.5v3.5h-3.5zM198.3 122.6h2.5v2.5h-2.5zM190.1 89.4h1.5v1.5h-1.5zM198.3 126.4h1.5v1.5h-1.5zM204.0 147.9h2.5v2.5h-2.5zM233.5 128.3h1.5v1.5h-1.5zM256.3 98.4h1.5v1.5h-1.5zM224.8 93.5h3.5v3.5h-3.5zM195.0 135.9h1.5v1.5h-1.5zM234.8 127.5h3.5v3.5h-3.5zM191.9 112.3h1.5v1.5h-1.5zM256.3 117.9h1.5v1.5h-1.5zM259.9 148.5h3.5v3.5h-3.5zM239.7 123.7h3.5v3.5h-3.5zM226.5 148.0h2.5v2.5h-2.5zM238.3 105.9h1.5v1.5h-1.5zM245.8 132.0h2.5v2.5h-2.5zM233.6 111.0h2.5v2.5h-2.5zM222.5 103.8h2.5v2.5h-2.5zM233.9 106.7h2.5v2.5h-2.5zM233.1 136.2h3.5v3.5h-3.5zM203.5 82.7h3.5v3.5h-3.5zM192.0 146.2h3.5v3.5h-3.5zM218.9 125.9h1.5v1.5h-1.5zM256.5 99.7h2.5v2.5h-2.5zM191.7 121.2h2.5v2.5h-2.5zM225.2 109.6h3.5v3.5h-3.5zM258.5 107.3h1.5v1.5h-1.5zM216.2 148.2h3.5v3.5h-3.5zM214.3 89.0h2.5v2.5h-2.5zM210.7 114.5h3.5v3.5h-3.5zM240.9 77.4h1.5v1.5h-1.5zM244.3 125.0h1.5v1.5h-1.5zM237.3 78.1h1.5v1.5h-1.5zM215.0 79.6h3.5v3.5h-3.5zM205.9 149.9h3.5v3.5h-3.5zM245.5 144.9h3.5v3.5h-3.5zM221.0 141.4h2.5v2.5h-2.5zM251.1 101.5h3.5v3.5h-3.5zM256.8 133.5h3.5v3.5h-3.5zM206.6 91.2h1.5v1.5h-1.5zM189.3 144.9h1.5v1.5h-1.5zM234.0 97.8h2.5v2.5h-2.5zM209.1 87.1h1.5v1.5h-1.5zM199.7 140.2h1.5v1.5h-1.5zM224.8 86.6h2.5v2.5h-2.5zM230.6 91.2h3.5v3.5h-3.5zM251.5 122.7h2.5v2.5h-2.5zM211.1 134.0h2.5v2.5h-2.5zM213.9 140.6h2.5v2.5h-2.5zM217.3 97.9h1.5v1.5h-1.5zM258.6 82.8h2.5v2.5h-2.5zM226.5 142.7h3.5v3.5h-3.5zM199.7 123.3h3.5v3.5h-3.5zM244.4 118.4h2.5v2.5h-2.5zM253.1 102.4h2.5v2.5h-2.5zM253.5 88.8h1.5v1.5h-1.5zM245.7 87.4h3.5v3.5h-3.5zM256.0 77.0h2.5v2.5h-2.5zM205.1 77.4h1.5v1.5h-1.5zM231.9 99.8h3.5v3.5h-3.5zM202.1 105.8h2.5v2.5h-2.5zM202.7 78.7h3.5v3.5h-3.5zM222.9 127.3h2.5v2.5h-2.5zM198.2 123.7h2.5v2.5h-2.5zM237.3 127.0h1.5v1.5h-1.5zM210.0 87.2h2.5v2.5h-2.5zM205.8 111.2h1.5v1.5h-1.5zM239.8 100.9h3.5v3.5h-3.5z" fill="#e8bea2" opacity="0.6"/>
<path d="M253.7 92.8h1.8v1.8h-1.8zM197.8 149.8h1.8v1.8h-1.8zM217.5 83.3h1.3v1.3h-1.3zM208.1 77.9h1.3v1.3h-1.3zM211.1 125.0h0.9v0.9h-0.9zM203.4 113.3h1.8v1.8h-1.8zM245.5 88.9h1.8v1.8h-1.8zM229.4 87.9h0.9v0.9h-0.9zM237.0 146.0h0.9v0.9h-0.9zM207.6 134.9h0.9v0.9h-0.9zM226.2 101.6h0.9v0.9h-0.9zM194.1 101.6h1.3v1.3h-1.3zM230.5 130.1h1.3v1.3h-1.3zM244.7 117.8h0.9v0.9h-0.9zM236.7 106.5h1.8v1.8h-1.8zM254.9 139.3h1.3v1.3h-1.3zM214.2 140.2h0.9v0.9h-0.9zM225.4 93.3h1.3v1.3h-1.3zM240.2 143.4h1.8v1.8h-1.8zM254.5 92.8h1.8v1.8h-1.8zM191.3 128.9h1.3v1.3h-1.3zM252.6 94.1h1.8v1.8h-1.8zM255.3 88.8h1.8v1.8h-1.8zM220.3 79.5h0.9v0.9h-0.9zM247.8 138.6h1.8v1.8h-1.8zM221.7 95.4h1.3v1.3h-1.3zM252.4 81.0h1.8v1.8h-1.8zM213.1 115.3h1.3v1.3h-1.3zM253.6 109.5h1.8v1.8h-1.8zM191.9 133.6h0.9v0.9h-0.9zM199.9 133.4h1.3v1.3h-1.3zM209.4 123.6h1.8v1.8h-1.8zM188.9 80.4h0.9v0.9h-0.9zM203.9 96.8h0.9v0.9h-0.9zM235.8 131.7h1.8v1.8h-1.8zM242.9 139.4h1.8v1.8h-1.8zM221.5 107.2h0.9v0.9h-0.9zM227.6 144.9h1.3v1.3h-1.3zM256.1 103.7h0.9v0.9h-0.9zM216.6 124.4h1.8v1.8h-1.8zM198.2 143.5h0.9v0.9h-0.9zM227.3 105.3h0.9v0.9h-0.9zM195.3 122.6h0.9v0.9h-0.9zM196.9 144.1h1.3v1.3h-1.3zM220.4 97.5h0.9v0.9h-0.9zM233.5 85.0h1.3v1.3h-1.3zM242.5 108.2h1.8v1.8h-1.8zM217.8 81.4h1.8v1.8h-1.8zM238.5 128.3h1.8v1.8h-1.8zM216.8 115.5h1.3v1.3h-1.3zM207.2 86.2h0.9v0.9h-0.9zM196.7 133.2h1.3v1.3h-1.3zM225.9 115.1h0.9v0.9h-0.9zM225.4 118.2h1.8v1.8h-1.8zM244.5 120.3h1.8v1.8h-1.8zM210.9 146.0h1.8v1.8h-1.8zM225.0 120.7h0.9v0.9h-0.9zM243.9 139.9h1.3v1.3h-1.3zM214.8 99.4h1.8v1.8h-1.8zM237.9 104.5h0.9v0.9h-0.9zM234.5 124.6h1.8v1.8h-1.8zM212.5 139.1h1.3v1.3h-1.3zM234.4 104.2h1.3v1.3h-1.3zM210.7 109.1h1.8v1.8h-1.8zM255.4 80.1h1.8v1.8h-1.8zM255.9 103.5h1.3v1.3h-1.3zM250.3 83.6h0.9v0.9h-0.9zM197.4 103.0h0.9v0.9h-0.9zM241.4 118.3h1.8v1.8h-1.8zM220.9 86.2h1.8v1.8h-1.8zM202.7 105.5h1.3v1.3h-1.3zM198.8 105.4h0.9v0.9h-0.9zM236.3 135.0h0.9v0.9h-0.9zM249.9 118.6h1.8v1.8h-1.8zM250.9 107.9h0.9v0.9h-0.9zM224.3 102.3h1.3v1.3h-1.3zM207.2 113.0h1.3v1.3h-1.3zM231.9 89.6h1.8v1.8h-1.8zM242.7 90.7h1.3v1.3h-1.3zM208.0 90.0h0.9v0.9h-0.9zM257.0 98.4h1.3v1.3h-1.3zM240.9 135.9h1.8v1.8h-1.8zM217.7 127.8h1.3v1.3h-1.3zM241.7 94.5h1.8v1.8h-1.8zM210.7 125.7h0.9v0.9h-0.9zM254.9 85.2h1.3v1.3h-1.3zM246.5 129.8h0.9v0.9h-0.9zM216.0 88.5h1.3v1.3h-1.3zM244.2 95.6h1.8v1.8h-1.8zM251.4 143.6h1.8v1.8h-1.8zM207.7 119.2h1.8v1.8h-1.8zM242.4 143.4h0.9v0.9h-0.9zM212.2 130.3h1.8v1.8h-1.8zM231.3 138.1h1.3v1.3h-1.3zM193.1 140.5h1.3v1.3h-1.3zM249.9 134.8h0.9v0.9h-0.9zM195.0 129.2h1.8v1.8h-1.8zM201.2 141.7h0.9v0.9h-0.9zM215.9 99.5h1.3v1.3h-1.3zM224.5 89.1h0.9v0.9h-0.9zM209.2 124.3h0.9v0.9h-0.9zM243.8 107.5h1.3v1.3h-1.3zM241.2 101.6h1.3v1.3h-1.3zM217.2 149.6h1.8v1.8h-1.8zM222.1 134.7h1.3v1.3h-1.3zM200.1 130.5h1.8v1.8h-1.8zM241.9 95.4h0.9v0.9h-0.9zM216.4 92.9h1.3v1.3h-1.3zM201.9 102.3h1.8v1.8h-1.8zM251.3 141.6h1.3v1.3h-1.3zM224.8 84.9h0.9v0.9h-0.9zM230.3 109.3h0.9v0.9h-0.9zM198.7 112.6h1.8v1.8h-1.8zM251.3 108.1h1.3v1.3h-1.3zM221.5 88.0h1.8v1.8h-1.8zM244.6 136.4h1.8v1.8h-1.8zM231.7 140.0h1.8v1.8h-1.8zM213.5 116.0h0.9v0.9h-0.9zM259.3 94.6h0.9v0.9h-0.9zM228.6 148.2h1.8v1.8h-1.8zM240.6 111.0h1.8v1.8h-1.8zM209.1 100.9h1.8v1.8h-1.8zM255.5 81.2h1.8v1.8h-1.8zM230.3 85.9h0.9v0.9h-0.9zM240.8 144.8h1.8v1.8h-1.8zM235.8 95.0h0.9v0.9h-0.9zM257.6 128.5h0.9v0.9h-0.9zM229.1 145.6h0.9v0.9h-0.9zM219.4 119.0h1.3v1.3h-1.3zM223.6 133.8h1.3v1.3h-1.3zM260.4 123.5h1.3v1.3h-1.3zM218.7 139.5h1.3v1.3h-1.3zM204.6 120.1h0.9v0.9h-0.9zM202.6 138.8h1.3v1.3h-1.3zM237.1 78.9h1.8v1.8h-1.8zM241.3 117.7h1.8v1.8h-1.8zM250.7 124.1h1.3v1.3h-1.3zM195.4 80.5h0.9v0.9h-0.9zM215.8 94.8h0.9v0.9h-0.9zM240.0 100.1h1.8v1.8h-1.8zM247.1 112.0h0.9v0.9h-0.9zM216.0 105.5h1.3v1.3h-1.3zM240.2 138.1h1.8v1.8h-1.8zM241.5 134.2h1.8v1.8h-1.8zM225.3 122.5h1.8v1.8h-1.8zM230.0 141.8h1.8v1.8h-1.8zM216.3 130.4h1.3v1.3h-1.3zM215.0 124.7h1.3v1.3h-1.3zM196.1 131.4h1.3v1.3h-1.3zM237.8 146.2h1.3v1.3h-1.3zM228.2 144.6h1.8v1.8h-1.8zM193.8 107.8h1.8v1.8h-1.8zM248.6 128.8h1.3v1.3h-1.3zM199.6 105.9h1.8v1.8h-1.8zM249.9 77.9h1.3v1.3h-1.3zM221.7 84.2h1.3v1.3h-1.3zM232.4 116.7h1.8v1.8h-1.8zM213.0 86.0h1.3v1.3h-1.3zM248.6 108.8h1.3v1.3h-1.3zM200.0 124.9h1.8v1.8h-1.8zM190.6 124.8h1.3v1.3h-1.3zM218.7 82.8h0.9v0.9h-0.9zM224.6 138.2h1.8v1.8h-1.8zM199.4 116.6h0.9v0.9h-0.9zM249.2 122.2h1.3v1.3h-1.3zM207.9 126.7h1.3v1.3h-1.3zM236.7 139.5h1.3v1.3h-1.3zM216.8 131.6h1.8v1.8h-1.8zM254.8 83.5h0.9v0.9h-0.9zM242.3 108.4h0.9v0.9h-0.9zM235.9 123.0h1.8v1.8h-1.8zM212.2 149.0h1.3v1.3h-1.3zM218.4 113.3h0.9v0.9h-0.9zM193.2 146.0h1.3v1.3h-1.3zM236.6 149.6h1.8v1.8h-1.8zM242.6 144.4h0.9v0.9h-0.9zM195.2 101.7h1.8v1.8h-1.8zM198.1 80.3h0.9v0.9h-0.9zM247.4 128.2h1.3v1.3h-1.3zM254.3 119.7h1.8v1.8h-1.8zM192.7 82.8h1.8v1.8h-1.8zM193.2 100.4h1.8v1.8h-1.8zM212.1 121.6h0.9v0.9h-0.9zM237.2 146.5h1.3v1.3h-1.3zM191.5 95.8h1.8v1.8h-1.8zM231.5 103.7h1.3v1.3h-1.3zM215.3 120.3h1.8v1.8h-1.8zM248.4 84.8h1.3v1.3h-1.3zM245.6 148.5h1.8v1.8h-1.8zM196.3 147.4h0.9v0.9h-0.9zM220.9 77.9h1.3v1.3h-1.3zM230.7 123.0h1.8v1.8h-1.8zM257.7 122.7h1.3v1.3h-1.3zM260.7 107.2h1.8v1.8h-1.8zM243.5 93.4h1.8v1.8h-1.8zM221.6 85.7h0.9v0.9h-0.9zM240.2 146.2h0.9v0.9h-0.9zM211.2 131.6h1.3v1.3h-1.3zM213.1 123.5h1.3v1.3h-1.3zM246.9 107.2h1.8v1.8h-1.8zM232.0 123.8h0.9v0.9h-0.9zM234.2 98.6h1.3v1.3h-1.3zM245.8 142.1h1.8v1.8h-1.8zM195.9 139.9h1.8v1.8h-1.8zM221.8 78.5h0.9v0.9h-0.9zM251.2 130.2h0.9v0.9h-0.9zM241.7 99.8h1.8v1.8h-1.8zM241.3 93.5h1.8v1.8h-1.8zM202.0 146.2h1.3v1.3h-1.3zM257.5 110.0h1.3v1.3h-1.3zM237.8 82.7h1.3v1.3h-1.3zM197.8 125.0h1.8v1.8h-1.8zM250.5 93.0h1.8v1.8h-1.8zM211.3 135.1h1.3v1.3h-1.3zM203.0 97.9h0.9v0.9h-0.9zM196.7 87.4h1.8v1.8h-1.8zM216.8 115.7h0.9v0.9h-0.9zM237.5 119.2h1.3v1.3h-1.3zM205.3 81.3h1.8v1.8h-1.8zM257.3 80.1h0.9v0.9h-0.9zM211.2 149.8h1.8v1.8h-1.8zM216.1 144.6h0.9v0.9h-0.9zM241.6 110.8h1.8v1.8h-1.8zM194.0 84.5h0.9v0.9h-0.9zM218.2 146.8h0.9v0.9h-0.9zM210.0 95.3h0.9v0.9h-0.9zM256.6 91.6h1.8v1.8h-1.8zM207.3 109.4h0.9v0.9h-0.9zM252.9 102.1h1.8v1.8h-1.8zM220.5 124.5h1.8v1.8h-1.8zM225.7 145.9h1.8v1.8h-1.8zM253.1 115.8h0.9v0.9h-0.9zM216.6 100.9h1.3v1.3h-1.3zM251.2 98.9h1.8v1.8h-1.8zM219.9 113.1h1.8v1.8h-1.8zM214.2 132.9h0.9v0.9h-0.9zM249.5 138.1h0.9v0.9h-0.9zM260.3 142.7h0.9v0.9h-0.9zM229.8 147.9h0.9v0.9h-0.9zM223.1 104.1h1.3v1.3h-1.3zM243.6 140.3h1.3v1.3h-1.3zM200.5 82.5h1.8v1.8h-1.8zM204.0 97.2h1.3v1.3h-1.3zM255.8 120.9h1.3v1.3h-1.3zM218.5 133.8h0.9v0.9h-0.9zM213.7 124.5h1.8v1.8h-1.8zM242.5 135.6h0.9v0.9h-0.9zM237.7 103.3h1.3v1.3h-1.3zM206.9 127.8h1.3v1.3h-1.3zM212.1 100.8h0.9v0.9h-0.9zM255.8 127.1h1.3v1.3h-1.3zM192.6 118.4h1.3v1.3h-1.3zM199.3 145.8h0.9v0.9h-0.9zM237.8 125.3h0.9v0.9h-0.9zM192.2 139.8h0.9v0.9h-0.9zM237.2 117.0h1.3v1.3h-1.3zM235.8 137.8h0.9v0.9h-0.9zM254.2 136.9h1.3v1.3h-1.3zM188.4 110.5h1.3v1.3h-1.3zM199.0 97.6h0.9v0.9h-0.9zM259.1 86.3h1.3v1.3h-1.3zM202.2 143.7h0.9v0.9h-0.9zM211.7 137.9h1.8v1.8h-1.8zM207.2 112.0h1.8v1.8h-1.8zM227.3 93.6h1.3v1.3h-1.3zM197.8 105.1h0.9v0.9h-0.9zM235.2 84.5h1.3v1.3h-1.3zM257.2 110.5h1.8v1.8h-1.8zM257.4 147.2h1.8v1.8h-1.8zM202.8 132.3h1.8v1.8h-1.8zM245.0 93.4h1.3v1.3h-1.3zM219.9 103.2h0.9v0.9h-0.9zM206.6 93.7h1.3v1.3h-1.3zM223.0 115.0h1.3v1.3h-1.3zM214.4 88.9h0.9v0.9h-0.9zM231.9 119.5h1.8v1.8h-1.8zM201.5 94.1h1.8v1.8h-1.8zM202.3 78.5h0.9v0.9h-0.9zM210.5 126.4h1.8v1.8h-1.8zM193.5 126.3h1.3v1.3h-1.3zM241.3 99.6h0.9v0.9h-0.9zM236.8 145.5h1.8v1.8h-1.8zM207.7 83.4h0.9v0.9h-0.9zM210.3 106.0h0.9v0.9h-0.9zM219.8 111.4h1.3v1.3h-1.3zM195.7 148.1h1.3v1.3h-1.3zM230.8 104.0h1.3v1.3h-1.3zM213.6 116.0h1.8v1.8h-1.8zM254.8 138.4h1.3v1.3h-1.3zM235.3 79.7h1.3v1.3h-1.3zM228.9 144.5h1.3v1.3h-1.3zM211.6 148.9h1.8v1.8h-1.8zM241.3 114.6h1.8v1.8h-1.8zM247.9 123.1h1.3v1.3h-1.3zM194.1 85.4h1.3v1.3h-1.3zM216.9 126.4h1.3v1.3h-1.3zM258.3 88.1h1.3v1.3h-1.3zM247.3 94.0h1.3v1.3h-1.3zM217.8 147.3h0.9v0.9h-0.9zM202.0 116.8h1.8v1.8h-1.8zM192.7 126.1h0.9v0.9h-0.9zM257.4 134.0h1.3v1.3h-1.3zM232.2 127.8h0.9v0.9h-0.9zM201.7 134.1h1.8v1.8h-1.8zM193.0 125.8h0.9v0.9h-0.9zM195.0 107.2h0.9v0.9h-0.9zM238.9 82.2h0.9v0.9h-0.9zM224.4 79.1h1.8v1.8h-1.8zM246.7 126.5h1.3v1.3h-1.3zM219.9 85.2h0.9v0.9h-0.9zM257.8 103.8h1.3v1.3h-1.3zM192.0 94.1h1.8v1.8h-1.8zM234.4 100.7h1.3v1.3h-1.3zM221.0 83.8h1.3v1.3h-1.3zM232.3 83.4h1.3v1.3h-1.3zM219.9 118.6h1.3v1.3h-1.3zM206.6 114.5h1.8v1.8h-1.8zM259.9 86.0h1.8v1.8h-1.8zM190.4 90.0h1.3v1.3h-1.3zM189.9 126.4h1.3v1.3h-1.3zM246.8 103.8h0.9v0.9h-0.9zM205.4 120.0h0.9v0.9h-0.9zM205.5 125.4h1.3v1.3h-1.3zM217.5 144.7h1.8v1.8h-1.8zM226.4 82.4h0.9v0.9h-0.9zM242.9 92.7h0.9v0.9h-0.9zM194.4 98.8h0.9v0.9h-0.9zM219.7 133.5h1.8v1.8h-1.8zM206.7 146.7h1.3v1.3h-1.3zM206.7 85.9h1.8v1.8h-1.8zM220.3 117.2h1.3v1.3h-1.3zM252.1 118.5h1.8v1.8h-1.8zM192.9 107.2h1.8v1.8h-1.8zM242.9 108.3h0.9v0.9h-0.9zM226.6 110.7h0.9v0.9h-0.9zM202.0 94.0h0.9v0.9h-0.9zM202.7 79.6h0.9v0.9h-0.9zM257.0 121.3h1.3v1.3h-1.3zM222.6 140.3h1.8v1.8h-1.8zM192.5 149.9h1.3v1.3h-1.3zM209.1 108.4h1.8v1.8h-1.8zM240.3 100.1h0.9v0.9h-0.9zM198.5 148.0h0.9v0.9h-0.9zM247.9 95.2h1.8v1.8h-1.8zM213.1 123.6h1.8v1.8h-1.8zM222.6 88.3h1.3v1.3h-1.3zM240.4 87.1h0.9v0.9h-0.9zM260.9 96.9h1.8v1.8h-1.8zM211.2 138.8h1.8v1.8h-1.8zM217.1 145.4h1.3v1.3h-1.3zM209.2 77.5h1.3v1.3h-1.3zM216.3 117.1h0.9v0.9h-0.9zM260.8 130.3h1.3v1.3h-1.3zM251.5 93.6h1.3v1.3h-1.3zM254.5 142.6h1.3v1.3h-1.3zM255.2 93.7h0.9v0.9h-0.9zM258.8 85.9h1.3v1.3h-1.3zM219.0 149.2h1.8v1.8h-1.8zM222.4 108.9h1.8v1.8h-1.8zM197.4 106.1h0.9v0.9h-0.9z" fill="#fbeee2" opacity="0.85"/>
<path d="M221.3 145.1h0.9v0.9h-0.9zM250.4 148.5h1.8v1.8h-1.8zM197.5 78.1h1.3v1.3h-1.3zM200.3 114.3h1.3v1.3h-1.3zM220.4 127.5h0.9v0.9h-0.9zM259.8 78.4h0.9v0.9h-0.9zM224.6 132.2h1.8v1.8h-1.8zM199.8 124.4h1.8v1.8h-1.8zM212.0 127.4h0.9v0.9h-0.9zM246.4 105.3h0.9v0.9h-0.9zM228.0 123.5h1.3v1.3h-1.3zM255.0 102.4h0.9v0.9h-0.9zM254.0 82.3h1.8v1.8h-1.8zM230.0 82.1h0.9v0.9h-0.9zM220.5 79.5h1.8v1.8h-1.8zM215.0 123.9h1.3v1.3h-1.3zM219.0 122.3h1.3v1.3h-1.3zM232.0 90.5h1.8v1.8h-1.8zM243.9 124.7h1.8v1.8h-1.8zM243.2 132.6h1.3v1.3h-1.3zM246.8 103.7h1.3v1.3h-1.3zM231.1 146.9h1.3v1.3h-1.3zM240.8 135.6h0.9v0.9h-0.9zM208.4 140.9h1.8v1.8h-1.8zM256.7 117.4h0.9v0.9h-0.9zM227.1 78.4h0.9v0.9h-0.9zM243.1 82.6h1.8v1.8h-1.8zM207.1 113.1h1.3v1.3h-1.3zM257.5 125.7h1.8v1.8h-1.8zM236.8 142.1h0.9v0.9h-0.9zM193.9 89.1h1.8v1.8h-1.8zM193.2 85.0h1.8v1.8h-1.8zM256.2 90.9h0.9v0.9h-0.9zM212.8 96.2h1.3v1.3h-1.3zM246.6 82.2h0.9v0.9h-0.9zM196.4 96.5h1.8v1.8h-1.8zM194.9 140.1h0.9v0.9h-0.9zM211.4 128.3h0.9v0.9h-0.9zM231.5 118.7h1.8v1.8h-1.8zM230.5 83.3h1.3v1.3h-1.3zM189.0 139.6h0.9v0.9h-0.9zM251.1 106.2h0.9v0.9h-0.9zM248.5 129.2h1.8v1.8h-1.8zM207.1 106.3h1.3v1.3h-1.3zM256.8 127.2h1.8v1.8h-1.8zM247.3 136.0h1.3v1.3h-1.3zM196.9 149.4h1.3v1.3h-1.3zM244.0 145.4h1.8v1.8h-1.8zM242.0 134.0h0.9v0.9h-0.9zM237.2 90.7h1.3v1.3h-1.3zM252.9 143.0h1.8v1.8h-1.8zM255.0 131.7h1.8v1.8h-1.8zM259.8 115.3h0.9v0.9h-0.9zM255.0 99.9h0.9v0.9h-0.9zM198.1 110.1h1.8v1.8h-1.8zM255.2 147.0h1.8v1.8h-1.8zM197.8 89.2h0.9v0.9h-0.9zM201.3 127.3h1.3v1.3h-1.3zM223.0 118.6h0.9v0.9h-0.9zM212.6 122.4h1.3v1.3h-1.3zM213.9 125.3h1.8v1.8h-1.8zM200.3 106.3h1.8v1.8h-1.8zM251.1 105.5h1.3v1.3h-1.3zM247.6 83.1h0.9v0.9h-0.9zM229.7 118.5h1.3v1.3h-1.3zM234.5 84.8h1.8v1.8h-1.8zM224.2 90.4h0.9v0.9h-0.9zM228.8 118.3h0.9v0.9h-0.9zM229.4 132.0h1.8v1.8h-1.8zM239.8 77.8h1.3v1.3h-1.3zM252.6 81.6h0.9v0.9h-0.9zM215.9 133.9h0.9v0.9h-0.9zM225.8 133.5h1.3v1.3h-1.3zM197.1 116.5h1.3v1.3h-1.3zM236.0 99.3h0.9v0.9h-0.9zM216.1 145.6h1.8v1.8h-1.8zM254.2 145.8h0.9v0.9h-0.9zM228.5 128.7h0.9v0.9h-0.9zM236.9 94.0h1.8v1.8h-1.8zM204.9 82.2h0.9v0.9h-0.9zM201.8 104.9h1.8v1.8h-1.8zM227.0 92.6h1.8v1.8h-1.8zM203.2 136.2h1.3v1.3h-1.3zM195.8 97.2h1.3v1.3h-1.3zM217.5 113.4h0.9v0.9h-0.9zM204.8 122.3h1.3v1.3h-1.3zM245.2 91.0h1.3v1.3h-1.3zM227.2 143.4h1.3v1.3h-1.3zM259.8 127.9h1.8v1.8h-1.8zM222.1 106.0h1.8v1.8h-1.8zM248.7 77.5h1.3v1.3h-1.3zM197.9 125.3h1.3v1.3h-1.3zM242.0 78.9h0.9v0.9h-0.9zM230.5 128.9h0.9v0.9h-0.9zM191.0 128.7h1.3v1.3h-1.3zM205.2 100.1h1.3v1.3h-1.3zM238.8 103.9h0.9v0.9h-0.9zM202.1 147.7h1.8v1.8h-1.8zM225.8 110.9h1.3v1.3h-1.3zM192.3 108.2h0.9v0.9h-0.9zM255.1 109.9h0.9v0.9h-0.9zM249.4 147.6h1.8v1.8h-1.8zM200.9 134.9h1.3v1.3h-1.3zM233.0 90.8h1.3v1.3h-1.3zM216.4 99.2h1.3v1.3h-1.3zM245.1 81.2h0.9v0.9h-0.9zM189.9 143.3h1.8v1.8h-1.8zM245.9 78.5h1.3v1.3h-1.3zM219.3 78.1h1.3v1.3h-1.3zM259.5 100.3h1.3v1.3h-1.3zM205.0 113.7h1.3v1.3h-1.3zM259.1 107.1h1.8v1.8h-1.8zM224.0 92.9h1.3v1.3h-1.3zM236.8 109.7h1.8v1.8h-1.8zM250.4 83.2h1.8v1.8h-1.8zM195.4 134.0h0.9v0.9h-0.9zM244.1 122.8h1.3v1.3h-1.3zM236.3 146.7h1.8v1.8h-1.8zM253.8 94.3h1.3v1.3h-1.3zM190.6 126.8h0.9v0.9h-0.9zM255.4 127.2h0.9v0.9h-0.9zM222.6 87.3h1.8v1.8h-1.8zM193.8 88.5h1.8v1.8h-1.8zM196.2 115.9h1.3v1.3h-1.3zM238.7 126.6h1.8v1.8h-1.8zM211.4 96.2h0.9v0.9h-0.9zM250.5 112.5h0.9v0.9h-0.9zM256.5 140.4h0.9v0.9h-0.9zM214.2 79.7h1.8v1.8h-1.8zM206.1 138.6h1.3v1.3h-1.3zM236.7 79.5h0.9v0.9h-0.9zM216.0 110.7h1.3v1.3h-1.3zM203.0 121.2h0.9v0.9h-0.9zM236.1 85.0h1.3v1.3h-1.3zM229.7 98.9h0.9v0.9h-0.9zM230.3 146.7h0.9v0.9h-0.9zM223.0 117.7h1.3v1.3h-1.3zM230.3 142.9h1.3v1.3h-1.3zM209.7 80.3h0.9v0.9h-0.9zM247.6 145.3h1.3v1.3h-1.3zM202.1 116.3h0.9v0.9h-0.9zM196.5 83.6h0.9v0.9h-0.9zM200.0 95.8h1.8v1.8h-1.8zM247.9 145.9h0.9v0.9h-0.9zM253.9 82.9h1.8v1.8h-1.8zM254.6 143.7h1.3v1.3h-1.3zM230.8 134.4h1.8v1.8h-1.8zM211.5 99.3h1.8v1.8h-1.8zM256.4 85.9h0.9v0.9h-0.9zM189.0 141.0h1.3v1.3h-1.3zM241.5 115.3h1.8v1.8h-1.8zM212.5 82.0h1.3v1.3h-1.3zM211.7 85.0h1.8v1.8h-1.8zM213.6 127.2h1.3v1.3h-1.3zM204.9 135.7h0.9v0.9h-0.9zM221.0 98.2h0.9v0.9h-0.9zM198.5 80.3h1.3v1.3h-1.3zM215.8 98.5h1.8v1.8h-1.8zM209.6 109.7h1.3v1.3h-1.3zM251.8 80.8h0.9v0.9h-0.9zM245.1 119.7h0.9v0.9h-0.9zM215.8 143.4h0.9v0.9h-0.9zM243.6 99.5h1.8v1.8h-1.8zM192.8 146.9h0.9v0.9h-0.9zM260.6 148.3h1.8v1.8h-1.8zM207.9 131.6h0.9v0.9h-0.9zM203.0 103.7h1.8v1.8h-1.8zM242.6 113.3h1.3v1.3h-1.3zM207.9 138.8h1.8v1.8h-1.8zM191.5 108.2h1.3v1.3h-1.3zM220.4 131.8h0.9v0.9h-0.9zM260.8 129.0h0.9v0.9h-0.9zM236.4 129.2h1.3v1.3h-1.3zM189.9 106.1h1.8v1.8h-1.8zM245.0 139.3h1.8v1.8h-1.8zM204.1 124.3h1.3v1.3h-1.3zM233.4 96.7h1.8v1.8h-1.8zM254.7 89.8h0.9v0.9h-0.9zM194.1 120.1h0.9v0.9h-0.9zM244.6 110.7h0.9v0.9h-0.9zM213.0 97.8h1.8v1.8h-1.8zM244.4 130.7h1.8v1.8h-1.8zM208.3 148.7h1.8v1.8h-1.8zM210.5 118.3h0.9v0.9h-0.9zM236.8 109.5h1.8v1.8h-1.8zM250.5 145.8h0.9v0.9h-0.9zM233.8 118.4h1.3v1.3h-1.3zM190.7 130.7h1.8v1.8h-1.8zM234.7 140.9h1.3v1.3h-1.3zM217.4 91.5h0.9v0.9h-0.9zM195.8 86.8h0.9v0.9h-0.9zM249.8 136.5h1.8v1.8h-1.8zM212.5 143.0h1.8v1.8h-1.8zM241.7 90.1h1.8v1.8h-1.8zM199.4 106.0h1.8v1.8h-1.8zM212.7 101.0h1.3v1.3h-1.3zM257.8 114.1h1.8v1.8h-1.8zM242.8 111.0h1.3v1.3h-1.3zM227.0 77.3h0.9v0.9h-0.9zM241.6 135.4h0.9v0.9h-0.9zM204.1 124.7h1.8v1.8h-1.8zM260.2 104.6h1.8v1.8h-1.8zM252.2 81.9h1.8v1.8h-1.8zM223.3 143.1h0.9v0.9h-0.9zM253.0 124.5h0.9v0.9h-0.9zM248.3 143.3h0.9v0.9h-0.9zM253.5 83.4h1.8v1.8h-1.8zM213.5 106.6h1.8v1.8h-1.8zM214.1 79.0h0.9v0.9h-0.9zM240.3 91.9h0.9v0.9h-0.9zM234.0 138.1h1.8v1.8h-1.8zM244.3 149.8h1.3v1.3h-1.3zM242.3 96.9h1.8v1.8h-1.8zM243.2 109.0h0.9v0.9h-0.9zM249.5 123.1h0.9v0.9h-0.9zM209.7 105.4h0.9v0.9h-0.9zM232.4 84.8h1.8v1.8h-1.8zM242.3 81.2h0.9v0.9h-0.9zM245.2 123.3h0.9v0.9h-0.9zM230.8 87.1h1.8v1.8h-1.8zM248.1 113.3h1.8v1.8h-1.8zM239.2 149.3h1.8v1.8h-1.8zM189.2 87.4h0.9v0.9h-0.9zM225.3 103.7h1.8v1.8h-1.8zM255.2 117.5h0.9v0.9h-0.9zM250.1 105.8h1.3v1.3h-1.3zM190.9 120.1h0.9v0.9h-0.9zM209.7 137.6h1.8v1.8h-1.8zM260.9 106.1h1.3v1.3h-1.3zM233.4 121.8h1.8v1.8h-1.8zM257.4 117.4h1.3v1.3h-1.3zM196.2 104.4h0.9v0.9h-0.9zM216.9 141.5h0.9v0.9h-0.9zM193.8 103.0h1.3v1.3h-1.3zM213.7 123.8h1.3v1.3h-1.3zM223.6 94.5h1.8v1.8h-1.8zM222.5 86.6h0.9v0.9h-0.9zM198.5 136.0h0.9v0.9h-0.9zM235.7 110.9h0.9v0.9h-0.9zM203.1 92.1h1.8v1.8h-1.8zM230.6 134.4h1.8v1.8h-1.8zM221.5 80.5h1.3v1.3h-1.3zM202.3 133.7h1.8v1.8h-1.8zM255.7 125.0h1.3v1.3h-1.3zM209.5 139.8h1.3v1.3h-1.3zM218.3 91.8h1.8v1.8h-1.8zM202.6 78.1h1.8v1.8h-1.8zM194.4 111.9h1.3v1.3h-1.3zM208.2 147.0h1.8v1.8h-1.8zM189.4 98.5h1.8v1.8h-1.8zM252.3 125.1h1.3v1.3h-1.3zM193.7 96.5h1.8v1.8h-1.8zM193.6 88.3h1.3v1.3h-1.3zM207.8 115.9h1.8v1.8h-1.8zM214.5 138.4h0.9v0.9h-0.9zM202.8 95.0h1.3v1.3h-1.3zM247.1 107.4h1.3v1.3h-1.3zM258.3 116.0h1.8v1.8h-1.8zM257.9 77.3h0.9v0.9h-0.9zM251.4 110.4h1.3v1.3h-1.3zM256.9 84.8h0.9v0.9h-0.9zM207.4 133.8h0.9v0.9h-0.9zM219.1 89.5h1.3v1.3h-1.3zM259.7 104.7h1.3v1.3h-1.3zM248.7 145.8h1.8v1.8h-1.8zM201.2 144.2h1.3v1.3h-1.3zM235.8 133.7h0.9v0.9h-0.9zM259.3 99.4h1.3v1.3h-1.3zM238.9 99.4h0.9v0.9h-0.9zM212.0 141.2h0.9v0.9h-0.9zM253.1 121.9h1.8v1.8h-1.8zM190.1 97.2h0.9v0.9h-0.9zM228.9 77.6h1.3v1.3h-1.3zM192.2 97.3h1.3v1.3h-1.3zM227.5 129.2h1.8v1.8h-1.8zM229.3 120.7h1.3v1.3h-1.3zM222.3 118.2h0.9v0.9h-0.9zM258.3 112.1h1.3v1.3h-1.3zM197.3 145.8h1.8v1.8h-1.8zM193.2 90.3h1.8v1.8h-1.8zM224.5 127.5h1.3v1.3h-1.3zM212.3 129.3h1.3v1.3h-1.3zM196.6 140.4h1.3v1.3h-1.3zM206.0 87.9h1.8v1.8h-1.8zM248.9 145.2h1.3v1.3h-1.3zM229.8 137.3h0.9v0.9h-0.9zM206.0 119.1h0.9v0.9h-0.9zM245.1 93.2h1.3v1.3h-1.3zM205.9 122.5h0.9v0.9h-0.9zM228.0 148.9h0.9v0.9h-0.9zM217.8 137.4h1.3v1.3h-1.3zM246.4 139.2h1.3v1.3h-1.3zM207.8 123.1h0.9v0.9h-0.9zM230.0 90.3h1.3v1.3h-1.3zM258.2 106.2h0.9v0.9h-0.9zM188.9 101.0h0.9v0.9h-0.9zM242.2 81.1h1.8v1.8h-1.8zM216.8 126.9h1.3v1.3h-1.3zM195.9 132.2h1.8v1.8h-1.8zM204.6 143.1h1.8v1.8h-1.8zM203.9 116.9h1.3v1.3h-1.3zM226.0 126.9h0.9v0.9h-0.9zM229.6 148.1h1.8v1.8h-1.8zM253.9 139.4h1.8v1.8h-1.8zM243.3 143.2h0.9v0.9h-0.9zM240.2 117.2h1.8v1.8h-1.8zM203.8 124.3h1.8v1.8h-1.8zM198.3 95.9h1.3v1.3h-1.3zM191.5 122.0h1.8v1.8h-1.8zM227.5 107.4h1.3v1.3h-1.3zM253.3 88.6h1.3v1.3h-1.3zM234.5 85.8h0.9v0.9h-0.9zM244.0 126.8h1.8v1.8h-1.8zM242.0 122.8h1.8v1.8h-1.8zM258.8 133.8h1.3v1.3h-1.3zM189.7 84.9h1.3v1.3h-1.3zM216.1 139.1h1.3v1.3h-1.3zM206.0 97.7h0.9v0.9h-0.9zM247.7 101.2h0.9v0.9h-0.9zM221.4 132.8h0.9v0.9h-0.9zM222.2 124.3h1.8v1.8h-1.8zM212.7 81.4h1.3v1.3h-1.3zM221.0 115.2h1.3v1.3h-1.3zM190.9 131.4h0.9v0.9h-0.9zM240.0 91.0h1.3v1.3h-1.3zM201.8 78.3h1.3v1.3h-1.3zM254.3 79.0h0.9v0.9h-0.9zM257.3 120.1h0.9v0.9h-0.9zM247.6 86.9h0.9v0.9h-0.9zM212.9 108.3h1.8v1.8h-1.8zM246.8 128.9h1.8v1.8h-1.8zM211.2 115.3h1.8v1.8h-1.8zM189.5 135.4h1.8v1.8h-1.8zM244.1 77.2h1.3v1.3h-1.3zM232.1 84.6h0.9v0.9h-0.9zM205.9 140.7h0.9v0.9h-0.9zM213.2 93.9h1.8v1.8h-1.8zM200.2 139.2h1.3v1.3h-1.3zM232.4 125.7h1.3v1.3h-1.3zM245.8 133.0h1.8v1.8h-1.8zM238.8 109.4h1.8v1.8h-1.8zM254.3 127.4h0.9v0.9h-0.9zM189.4 94.6h1.8v1.8h-1.8zM222.9 134.8h0.9v0.9h-0.9zM242.6 87.0h0.9v0.9h-0.9zM256.2 130.3h1.8v1.8h-1.8zM235.1 103.9h1.3v1.3h-1.3zM219.4 134.7h1.8v1.8h-1.8zM194.9 78.5h1.3v1.3h-1.3zM248.2 123.3h0.9v0.9h-0.9zM253.4 102.9h1.3v1.3h-1.3zM193.2 134.8h0.9v0.9h-0.9zM222.3 88.4h1.3v1.3h-1.3zM214.0 86.1h1.8v1.8h-1.8zM242.7 92.7h1.8v1.8h-1.8zM226.0 100.4h1.3v1.3h-1.3zM216.1 143.7h0.9v0.9h-0.9zM246.6 126.8h0.9v0.9h-0.9zM243.4 104.7h1.8v1.8h-1.8zM194.3 134.1h1.3v1.3h-1.3zM246.0 134.3h1.8v1.8h-1.8zM209.1 119.6h0.9v0.9h-0.9zM202.8 100.5h0.9v0.9h-0.9zM228.6 92.8h1.8v1.8h-1.8z" fill="#f8e6d4" opacity="0.85"/>
<path d="M203.3 147.8h0.9v0.9h-0.9zM252.3 83.7h1.3v1.3h-1.3zM234.8 86.8h0.9v0.9h-0.9zM253.0 126.0h1.8v1.8h-1.8zM189.8 138.4h1.8v1.8h-1.8zM250.6 106.1h0.9v0.9h-0.9zM214.9 127.0h0.9v0.9h-0.9zM213.8 104.2h1.3v1.3h-1.3zM218.4 111.5h1.8v1.8h-1.8zM209.4 77.1h1.8v1.8h-1.8zM215.8 110.5h1.3v1.3h-1.3zM194.1 105.4h1.3v1.3h-1.3zM196.2 120.0h1.8v1.8h-1.8zM191.1 115.7h0.9v0.9h-0.9zM225.7 94.6h0.9v0.9h-0.9zM229.2 87.1h1.8v1.8h-1.8zM191.8 129.8h0.9v0.9h-0.9zM208.4 140.7h0.9v0.9h-0.9zM256.4 129.1h1.8v1.8h-1.8zM201.1 110.6h1.3v1.3h-1.3zM234.3 123.6h1.8v1.8h-1.8zM249.3 81.8h0.9v0.9h-0.9zM259.2 92.6h1.8v1.8h-1.8zM252.3 121.3h1.3v1.3h-1.3zM204.7 112.9h1.3v1.3h-1.3zM211.1 80.1h1.8v1.8h-1.8zM230.5 144.9h1.8v1.8h-1.8zM215.4 119.3h1.3v1.3h-1.3zM223.8 110.7h0.9v0.9h-0.9zM212.9 98.0h0.9v0.9h-0.9zM205.2 129.3h1.8v1.8h-1.8zM190.5 116.5h0.9v0.9h-0.9zM190.4 129.0h1.8v1.8h-1.8zM228.2 108.7h0.9v0.9h-0.9zM218.4 146.4h1.3v1.3h-1.3zM222.9 95.9h0.9v0.9h-0.9zM214.5 140.8h0.9v0.9h-0.9zM225.2 140.4h0.9v0.9h-0.9zM252.3 119.0h1.8v1.8h-1.8zM232.5 137.9h1.3v1.3h-1.3zM253.0 136.6h1.8v1.8h-1.8zM227.2 110.6h1.3v1.3h-1.3zM257.0 142.1h0.9v0.9h-0.9zM205.5 83.3h1.3v1.3h-1.3zM259.0 119.1h1.3v1.3h-1.3zM197.7 147.8h1.3v1.3h-1.3zM243.1 135.6h1.8v1.8h-1.8zM202.1 145.7h0.9v0.9h-0.9zM229.5 87.3h1.3v1.3h-1.3zM224.6 83.5h1.8v1.8h-1.8zM255.8 82.4h0.9v0.9h-0.9zM217.6 79.4h1.3v1.3h-1.3zM194.1 139.6h1.3v1.3h-1.3zM243.9 141.3h1.3v1.3h-1.3zM211.8 139.0h0.9v0.9h-0.9zM251.9 128.6h1.8v1.8h-1.8zM249.6 146.4h1.8v1.8h-1.8zM249.0 136.8h1.8v1.8h-1.8zM213.0 106.4h0.9v0.9h-0.9zM226.1 143.8h1.8v1.8h-1.8zM210.0 92.4h1.8v1.8h-1.8zM210.2 148.2h1.8v1.8h-1.8zM208.5 114.9h1.8v1.8h-1.8zM203.3 121.2h0.9v0.9h-0.9zM213.0 99.0h0.9v0.9h-0.9zM204.0 125.3h1.8v1.8h-1.8zM189.2 117.1h1.3v1.3h-1.3zM192.4 124.6h1.3v1.3h-1.3zM231.7 100.6h1.3v1.3h-1.3zM224.9 131.0h1.8v1.8h-1.8zM225.9 142.5h1.8v1.8h-1.8zM260.9 125.2h0.9v0.9h-0.9zM253.9 90.5h0.9v0.9h-0.9zM214.9 92.1h0.9v0.9h-0.9zM234.6 143.4h0.9v0.9h-0.9zM215.3 123.8h0.9v0.9h-0.9zM224.0 143.6h0.9v0.9h-0.9zM253.2 119.8h1.8v1.8h-1.8zM248.8 132.2h1.3v1.3h-1.3zM204.8 135.9h1.8v1.8h-1.8zM256.8 102.1h0.9v0.9h-0.9zM244.1 136.1h1.8v1.8h-1.8zM205.9 99.4h1.3v1.3h-1.3zM197.9 123.1h1.3v1.3h-1.3zM225.7 108.1h1.3v1.3h-1.3zM257.9 102.7h1.3v1.3h-1.3zM254.4 102.2h1.8v1.8h-1.8zM202.9 80.1h1.8v1.8h-1.8zM246.8 80.5h1.3v1.3h-1.3zM248.6 123.7h1.3v1.3h-1.3zM257.3 107.9h0.9v0.9h-0.9zM224.3 82.7h1.3v1.3h-1.3zM231.6 96.8h1.3v1.3h-1.3zM225.9 110.2h1.8v1.8h-1.8zM230.4 80.4h1.3v1.3h-1.3zM194.0 104.2h0.9v0.9h-0.9zM191.9 129.3h0.9v0.9h-0.9zM189.9 132.4h0.9v0.9h-0.9zM243.9 88.0h1.3v1.3h-1.3zM247.4 77.4h0.9v0.9h-0.9zM226.3 135.0h1.8v1.8h-1.8zM203.5 77.9h0.9v0.9h-0.9zM206.4 106.9h0.9v0.9h-0.9zM248.8 106.8h0.9v0.9h-0.9zM194.3 137.8h1.3v1.3h-1.3zM247.7 93.8h1.3v1.3h-1.3zM220.5 84.3h0.9v0.9h-0.9zM205.6 108.7h1.3v1.3h-1.3zM189.4 140.6h0.9v0.9h-0.9zM201.3 121.5h1.8v1.8h-1.8zM194.9 140.5h0.9v0.9h-0.9zM226.5 90.9h0.9v0.9h-0.9zM206.4 87.5h1.8v1.8h-1.8zM206.9 93.4h1.8v1.8h-1.8zM211.6 103.5h0.9v0.9h-0.9zM227.4 136.0h1.3v1.3h-1.3zM251.7 78.0h1.3v1.3h-1.3zM231.9 133.9h0.9v0.9h-0.9zM230.7 96.5h1.8v1.8h-1.8zM219.7 94.0h0.9v0.9h-0.9zM258.8 92.5h1.8v1.8h-1.8zM240.4 130.7h0.9v0.9h-0.9zM204.2 122.0h1.8v1.8h-1.8zM205.7 109.7h1.3v1.3h-1.3zM199.6 87.5h1.8v1.8h-1.8zM200.6 84.2h1.3v1.3h-1.3zM198.3 77.9h0.9v0.9h-0.9zM246.6 125.0h1.3v1.3h-1.3zM204.5 111.1h0.9v0.9h-0.9zM211.7 112.0h0.9v0.9h-0.9zM192.2 118.0h0.9v0.9h-0.9zM216.4 144.3h1.3v1.3h-1.3zM208.8 110.0h1.8v1.8h-1.8zM204.7 93.0h0.9v0.9h-0.9zM256.8 143.8h1.3v1.3h-1.3zM226.6 119.4h1.3v1.3h-1.3zM253.0 117.7h1.8v1.8h-1.8zM225.6 128.7h1.3v1.3h-1.3zM244.8 140.2h1.3v1.3h-1.3zM244.2 141.5h1.3v1.3h-1.3zM251.7 90.1h1.3v1.3h-1.3zM207.8 118.5h1.3v1.3h-1.3zM234.2 118.1h1.3v1.3h-1.3zM190.0 149.6h1.3v1.3h-1.3zM201.4 142.1h1.3v1.3h-1.3zM256.2 85.2h0.9v0.9h-0.9zM191.5 108.3h1.3v1.3h-1.3zM256.3 100.9h1.3v1.3h-1.3zM255.7 109.2h1.8v1.8h-1.8zM199.0 134.2h1.3v1.3h-1.3zM212.7 87.5h0.9v0.9h-0.9zM204.8 110.6h0.9v0.9h-0.9zM203.0 108.3h1.8v1.8h-1.8zM251.2 145.3h0.9v0.9h-0.9zM197.1 139.0h1.8v1.8h-1.8zM206.0 108.6h1.8v1.8h-1.8zM227.5 87.3h1.8v1.8h-1.8zM228.2 119.0h1.8v1.8h-1.8zM193.8 135.5h0.9v0.9h-0.9zM215.5 124.9h0.9v0.9h-0.9zM238.6 109.8h0.9v0.9h-0.9zM234.9 125.1h1.8v1.8h-1.8zM213.4 139.9h1.3v1.3h-1.3zM215.7 149.0h1.3v1.3h-1.3zM202.4 89.3h1.8v1.8h-1.8zM226.5 122.2h1.3v1.3h-1.3zM255.8 142.6h0.9v0.9h-0.9zM207.4 127.8h0.9v0.9h-0.9zM248.2 126.2h1.8v1.8h-1.8zM238.5 78.0h1.8v1.8h-1.8zM245.0 121.6h1.8v1.8h-1.8zM229.2 138.9h1.8v1.8h-1.8zM200.3 87.6h1.8v1.8h-1.8zM189.0 137.1h1.3v1.3h-1.3zM226.2 136.8h1.8v1.8h-1.8zM255.5 84.1h0.9v0.9h-0.9zM246.5 78.3h1.8v1.8h-1.8zM233.6 80.6h1.8v1.8h-1.8zM247.5 127.2h1.8v1.8h-1.8zM228.9 100.7h1.8v1.8h-1.8zM197.6 119.5h0.9v0.9h-0.9zM242.4 113.6h1.3v1.3h-1.3zM200.4 107.4h1.3v1.3h-1.3zM220.2 129.8h0.9v0.9h-0.9zM214.2 84.9h1.8v1.8h-1.8zM190.8 122.3h1.8v1.8h-1.8zM206.5 90.3h0.9v0.9h-0.9zM200.2 103.3h1.3v1.3h-1.3zM193.1 138.7h0.9v0.9h-0.9zM193.9 92.2h1.3v1.3h-1.3zM233.6 82.9h0.9v0.9h-0.9zM214.5 132.4h1.3v1.3h-1.3zM259.0 126.2h1.8v1.8h-1.8zM246.7 143.5h1.3v1.3h-1.3zM249.3 103.2h0.9v0.9h-0.9zM258.2 84.5h0.9v0.9h-0.9zM236.5 134.9h1.3v1.3h-1.3zM245.3 141.4h0.9v0.9h-0.9zM258.1 111.9h1.8v1.8h-1.8zM253.5 111.4h0.9v0.9h-0.9zM256.4 128.1h1.3v1.3h-1.3zM200.0 105.8h1.3v1.3h-1.3zM241.7 95.9h0.9v0.9h-0.9zM202.0 95.2h1.8v1.8h-1.8zM201.5 94.5h1.8v1.8h-1.8zM242.1 93.5h1.3v1.3h-1.3zM199.8 88.0h1.8v1.8h-1.8zM209.7 132.1h0.9v0.9h-0.9zM239.2 108.4h0.9v0.9h-0.9zM194.2 122.2h1.8v1.8h-1.8zM224.1 128.9h1.3v1.3h-1.3zM195.5 139.9h0.9v0.9h-0.9zM202.9 86.4h1.3v1.3h-1.3zM246.8 113.9h1.3v1.3h-1.3zM193.8 94.4h1.3v1.3h-1.3zM230.0 86.9h0.9v0.9h-0.9zM217.1 137.0h1.8v1.8h-1.8zM254.0 111.2h0.9v0.9h-0.9zM214.0 119.8h1.3v1.3h-1.3zM196.3 86.5h0.9v0.9h-0.9zM216.9 87.8h1.8v1.8h-1.8zM217.7 77.3h1.3v1.3h-1.3zM233.6 145.2h1.8v1.8h-1.8zM188.6 105.3h1.8v1.8h-1.8zM189.3 101.7h1.8v1.8h-1.8zM193.5 119.9h1.8v1.8h-1.8zM217.9 77.9h1.3v1.3h-1.3zM207.7 102.0h1.8v1.8h-1.8zM229.4 119.5h0.9v0.9h-0.9zM237.3 88.3h1.8v1.8h-1.8zM242.6 89.3h1.8v1.8h-1.8zM238.8 113.5h1.8v1.8h-1.8zM190.9 109.6h0.9v0.9h-0.9zM197.6 109.4h1.8v1.8h-1.8zM226.0 149.1h1.3v1.3h-1.3zM251.8 127.2h1.3v1.3h-1.3zM248.7 103.6h1.8v1.8h-1.8zM196.4 141.0h1.8v1.8h-1.8zM225.7 117.1h1.3v1.3h-1.3zM196.9 87.5h1.8v1.8h-1.8zM199.8 109.9h1.3v1.3h-1.3zM216.1 143.4h1.3v1.3h-1.3zM212.0 147.3h0.9v0.9h-0.9zM256.0 101.9h1.8v1.8h-1.8zM235.2 133.8h0.9v0.9h-0.9zM260.9 113.3h0.9v0.9h-0.9zM255.1 100.7h0.9v0.9h-0.9zM223.8 96.6h1.8v1.8h-1.8zM216.7 80.2h0.9v0.9h-0.9zM251.3 144.3h1.8v1.8h-1.8zM188.3 141.4h1.8v1.8h-1.8zM190.0 146.6h1.3v1.3h-1.3zM242.9 79.9h0.9v0.9h-0.9zM245.1 118.7h0.9v0.9h-0.9zM201.8 127.8h1.3v1.3h-1.3zM241.9 119.5h1.3v1.3h-1.3zM231.9 102.0h0.9v0.9h-0.9zM211.2 79.0h1.3v1.3h-1.3zM213.9 136.1h0.9v0.9h-0.9zM199.7 80.8h1.3v1.3h-1.3zM230.8 116.0h1.3v1.3h-1.3zM233.3 97.9h0.9v0.9h-0.9zM216.7 140.3h0.9v0.9h-0.9zM223.2 137.0h0.9v0.9h-0.9zM257.0 144.1h0.9v0.9h-0.9zM221.3 130.7h1.3v1.3h-1.3zM246.8 101.2h0.9v0.9h-0.9zM200.6 87.7h1.3v1.3h-1.3zM221.3 110.5h1.8v1.8h-1.8zM213.3 129.7h1.3v1.3h-1.3zM257.8 94.3h0.9v0.9h-0.9zM243.3 121.9h1.3v1.3h-1.3zM218.6 112.9h0.9v0.9h-0.9zM194.3 91.7h0.9v0.9h-0.9zM222.9 82.6h1.8v1.8h-1.8zM224.8 118.3h0.9v0.9h-0.9zM205.1 137.6h1.8v1.8h-1.8zM196.4 97.1h1.3v1.3h-1.3zM210.2 115.4h1.3v1.3h-1.3zM240.7 149.1h1.3v1.3h-1.3zM192.9 82.6h1.8v1.8h-1.8zM241.7 89.1h1.3v1.3h-1.3zM254.5 105.0h1.8v1.8h-1.8zM225.0 91.2h1.3v1.3h-1.3zM253.4 126.5h1.8v1.8h-1.8zM202.7 148.7h1.8v1.8h-1.8zM237.3 129.7h1.3v1.3h-1.3zM237.9 94.8h1.8v1.8h-1.8zM218.5 141.5h1.8v1.8h-1.8zM212.2 99.8h0.9v0.9h-0.9zM229.1 86.8h0.9v0.9h-0.9zM225.2 124.4h0.9v0.9h-0.9zM250.6 124.7h1.3v1.3h-1.3zM205.5 115.1h1.8v1.8h-1.8zM207.7 92.4h1.8v1.8h-1.8zM211.6 109.7h1.3v1.3h-1.3zM226.5 142.1h0.9v0.9h-0.9zM240.5 132.6h1.8v1.8h-1.8zM234.2 129.9h0.9v0.9h-0.9zM201.8 134.0h0.9v0.9h-0.9zM206.0 98.0h0.9v0.9h-0.9zM204.6 134.4h0.9v0.9h-0.9zM216.9 92.6h0.9v0.9h-0.9zM252.6 81.5h1.3v1.3h-1.3zM223.2 85.1h0.9v0.9h-0.9zM235.4 102.9h0.9v0.9h-0.9zM229.0 128.9h1.8v1.8h-1.8zM200.5 85.0h1.3v1.3h-1.3zM259.5 121.1h1.3v1.3h-1.3zM260.5 87.1h1.3v1.3h-1.3zM241.4 122.4h1.8v1.8h-1.8zM228.1 115.0h1.3v1.3h-1.3zM255.1 106.3h0.9v0.9h-0.9zM258.3 140.7h0.9v0.9h-0.9zM219.1 139.8h1.8v1.8h-1.8zM246.0 124.5h1.8v1.8h-1.8zM253.9 85.6h0.9v0.9h-0.9zM226.8 109.6h1.8v1.8h-1.8zM205.4 77.6h1.3v1.3h-1.3zM202.7 90.9h1.3v1.3h-1.3zM201.1 117.9h1.3v1.3h-1.3zM230.0 139.3h1.8v1.8h-1.8zM196.0 100.7h1.8v1.8h-1.8zM231.1 105.2h1.8v1.8h-1.8zM253.3 118.1h0.9v0.9h-0.9zM233.7 141.0h1.3v1.3h-1.3zM226.3 121.6h0.9v0.9h-0.9zM250.2 87.7h1.3v1.3h-1.3zM195.9 115.0h1.8v1.8h-1.8zM256.5 82.1h0.9v0.9h-0.9zM241.6 117.1h0.9v0.9h-0.9zM224.8 109.1h0.9v0.9h-0.9zM213.5 120.5h1.8v1.8h-1.8zM217.1 91.9h1.8v1.8h-1.8zM207.0 81.9h0.9v0.9h-0.9zM196.1 147.9h1.8v1.8h-1.8zM253.1 77.5h1.8v1.8h-1.8zM206.6 93.7h1.8v1.8h-1.8zM259.3 112.8h1.8v1.8h-1.8zM213.5 123.6h1.8v1.8h-1.8zM206.9 88.7h0.9v0.9h-0.9zM245.1 110.6h1.3v1.3h-1.3zM224.4 127.3h1.8v1.8h-1.8zM223.0 108.5h1.8v1.8h-1.8zM211.6 120.8h0.9v0.9h-0.9zM205.6 116.5h1.8v1.8h-1.8zM195.0 124.5h1.3v1.3h-1.3zM240.7 124.1h1.3v1.3h-1.3zM212.1 109.4h0.9v0.9h-0.9zM245.4 138.7h1.3v1.3h-1.3zM248.0 79.6h0.9v0.9h-0.9zM199.6 95.0h1.3v1.3h-1.3zM198.1 93.7h0.9v0.9h-0.9zM194.8 141.0h1.8v1.8h-1.8zM236.5 128.0h1.3v1.3h-1.3zM208.6 92.0h1.8v1.8h-1.8zM205.8 127.4h1.8v1.8h-1.8zM201.1 147.7h1.8v1.8h-1.8zM225.2 133.5h1.8v1.8h-1.8zM207.7 107.5h0.9v0.9h-0.9zM191.8 101.6h1.8v1.8h-1.8zM253.6 89.2h1.8v1.8h-1.8zM252.9 138.1h1.8v1.8h-1.8zM240.8 101.1h1.3v1.3h-1.3zM204.6 79.7h1.3v1.3h-1.3zM207.9 136.4h1.3v1.3h-1.3zM226.3 87.5h1.8v1.8h-1.8zM206.5 119.6h1.8v1.8h-1.8zM201.4 78.7h1.3v1.3h-1.3zM259.9 118.9h1.8v1.8h-1.8zM239.9 87.4h1.3v1.3h-1.3zM195.1 102.9h1.3v1.3h-1.3zM215.8 98.4h0.9v0.9h-0.9zM222.2 121.0h1.8v1.8h-1.8zM204.4 92.9h1.8v1.8h-1.8zM192.5 146.7h1.3v1.3h-1.3z" fill="#fdf3ea" opacity="0.85"/>
<path d="M217.0 135.4h1.2v1.2h-1.2zM198.3 95.2h1.2v1.2h-1.2zM189.7 142.0h1.2v1.2h-1.2zM199.6 113.2h0.9v0.9h-0.9zM255.5 112.6h1.2v1.2h-1.2zM215.6 82.9h0.9v0.9h-0.9zM225.7 149.5h1.2v1.2h-1.2zM205.4 130.6h1.2v1.2h-1.2zM231.5 97.2h0.9v0.9h-0.9zM232.0 107.5h1.2v1.2h-1.2zM258.0 95.8h1.2v1.2h-1.2zM190.2 133.2h1.2v1.2h-1.2zM230.8 136.4h0.9v0.9h-0.9zM196.8 101.0h1.2v1.2h-1.2zM244.1 149.1h0.9v0.9h-0.9zM255.1 124.2h1.2v1.2h-1.2zM220.3 109.7h1.2v1.2h-1.2zM199.0 137.9h1.2v1.2h-1.2zM218.9 138.9h0.9v0.9h-0.9zM260.5 105.5h1.2v1.2h-1.2zM224.4 139.9h1.2v1.2h-1.2zM225.5 134.6h0.9v0.9h-0.9zM188.0 118.4h1.2v1.2h-1.2zM251.4 143.3h0.9v0.9h-0.9zM217.9 113.9h1.2v1.2h-1.2zM241.1 85.4h0.9v0.9h-0.9zM236.5 105.9h1.2v1.2h-1.2zM190.1 95.5h1.2v1.2h-1.2zM228.7 132.3h0.9v0.9h-0.9zM209.9 85.4h0.9v0.9h-0.9zM237.3 102.1h0.9v0.9h-0.9zM197.2 112.5h0.9v0.9h-0.9zM213.1 91.6h1.2v1.2h-1.2zM250.3 119.0h0.9v0.9h-0.9zM218.9 117.2h0.9v0.9h-0.9zM257.5 102.8h1.2v1.2h-1.2zM215.0 122.7h0.9v0.9h-0.9zM210.1 89.3h0.9v0.9h-0.9zM190.9 78.6h0.9v0.9h-0.9zM237.7 81.5h1.2v1.2h-1.2zM226.1 146.4h1.2v1.2h-1.2zM188.5 79.7h0.9v0.9h-0.9zM233.0 94.9h1.2v1.2h-1.2zM215.0 103.7h0.9v0.9h-0.9zM203.1 129.1h1.2v1.2h-1.2zM238.2 143.9h0.9v0.9h-0.9zM250.6 101.2h1.2v1.2h-1.2zM188.6 116.7h0.9v0.9h-0.9zM206.3 105.5h0.9v0.9h-0.9zM209.0 82.2h1.2v1.2h-1.2zM205.3 118.3h0.9v0.9h-0.9zM208.6 122.2h0.9v0.9h-0.9zM217.6 134.3h0.9v0.9h-0.9zM190.6 149.9h1.2v1.2h-1.2zM250.3 79.0h0.9v0.9h-0.9zM259.9 102.3h0.9v0.9h-0.9zM237.6 95.8h1.2v1.2h-1.2zM245.9 93.6h1.2v1.2h-1.2zM239.9 132.8h0.9v0.9h-0.9zM248.3 136.6h1.2v1.2h-1.2zM256.8 139.9h1.2v1.2h-1.2zM196.1 147.2h1.2v1.2h-1.2zM204.8 136.9h0.9v0.9h-0.9zM238.9 137.0h0.9v0.9h-0.9zM198.4 143.8h1.2v1.2h-1.2zM190.8 123.2h1.2v1.2h-1.2zM228.1 97.7h1.2v1.2h-1.2zM194.7 78.9h0.9v0.9h-0.9zM259.2 145.9h0.9v0.9h-0.9zM218.6 82.5h0.9v0.9h-0.9zM259.0 91.9h0.9v0.9h-0.9zM249.4 95.4h1.2v1.2h-1.2zM242.9 98.1h1.2v1.2h-1.2zM208.1 126.2h1.2v1.2h-1.2zM227.3 116.5h0.9v0.9h-0.9zM230.7 127.8h0.9v0.9h-0.9zM220.1 143.3h1.2v1.2h-1.2zM194.8 130.0h0.9v0.9h-0.9zM208.4 122.7h1.2v1.2h-1.2zM241.2 98.0h0.9v0.9h-0.9zM224.6 146.1h0.9v0.9h-0.9zM236.7 100.1h1.2v1.2h-1.2zM225.4 138.7h1.2v1.2h-1.2zM226.5 98.9h0.9v0.9h-0.9zM196.2 80.9h0.9v0.9h-0.9zM257.2 85.1h1.2v1.2h-1.2zM205.7 130.2h0.9v0.9h-0.9zM242.9 97.2h1.2v1.2h-1.2zM200.6 107.5h0.9v0.9h-0.9zM227.0 133.6h0.9v0.9h-0.9zM247.4 101.8h0.9v0.9h-0.9zM251.7 78.7h0.9v0.9h-0.9zM210.7 145.5h0.9v0.9h-0.9zM259.4 124.4h1.2v1.2h-1.2zM224.9 138.5h1.2v1.2h-1.2zM248.2 107.1h0.9v0.9h-0.9zM237.1 146.0h0.9v0.9h-0.9zM239.5 125.3h0.9v0.9h-0.9zM201.7 112.4h1.2v1.2h-1.2zM255.9 99.9h0.9v0.9h-0.9zM259.4 102.4h1.2v1.2h-1.2zM217.4 142.7h1.2v1.2h-1.2zM209.4 80.7h1.2v1.2h-1.2zM253.0 95.4h0.9v0.9h-0.9zM245.4 136.2h1.2v1.2h-1.2zM199.4 112.8h1.2v1.2h-1.2zM242.6 144.0h0.9v0.9h-0.9zM245.1 126.7h1.2v1.2h-1.2zM232.5 113.7h1.2v1.2h-1.2zM214.3 104.0h1.2v1.2h-1.2zM245.1 134.0h1.2v1.2h-1.2zM241.7 90.2h0.9v0.9h-0.9zM247.9 132.7h0.9v0.9h-0.9zM214.9 143.1h1.2v1.2h-1.2zM206.0 85.8h1.2v1.2h-1.2zM215.8 110.6h0.9v0.9h-0.9zM218.0 142.2h1.2v1.2h-1.2zM234.8 101.6h0.9v0.9h-0.9zM191.1 81.2h0.9v0.9h-0.9zM260.5 94.0h0.9v0.9h-0.9zM208.2 115.8h1.2v1.2h-1.2zM196.6 92.7h0.9v0.9h-0.9zM206.7 133.9h0.9v0.9h-0.9zM239.9 140.8h1.2v1.2h-1.2zM195.5 106.0h1.2v1.2h-1.2zM202.9 96.2h0.9v0.9h-0.9zM242.7 142.2h0.9v0.9h-0.9zM219.1 95.6h1.2v1.2h-1.2zM248.4 149.6h0.9v0.9h-0.9zM260.8 116.9h1.2v1.2h-1.2zM219.6 103.9h1.2v1.2h-1.2zM225.4 99.6h0.9v0.9h-0.9zM199.7 127.9h1.2v1.2h-1.2zM225.3 95.6h0.9v0.9h-0.9zM215.1 88.0h0.9v0.9h-0.9zM231.8 144.6h0.9v0.9h-0.9zM219.3 133.6h1.2v1.2h-1.2zM227.7 123.3h0.9v0.9h-0.9zM215.9 114.4h1.2v1.2h-1.2zM233.2 114.2h0.9v0.9h-0.9zM222.8 93.1h1.2v1.2h-1.2zM242.3 127.4h1.2v1.2h-1.2zM189.0 85.7h1.2v1.2h-1.2zM222.7 100.7h0.9v0.9h-0.9zM209.3 132.4h1.2v1.2h-1.2zM198.2 138.3h1.2v1.2h-1.2zM232.9 82.4h1.2v1.2h-1.2zM226.4 108.3h0.9v0.9h-0.9zM213.9 110.2h0.9v0.9h-0.9zM212.7 90.8h1.2v1.2h-1.2zM220.8 141.3h0.9v0.9h-0.9zM231.2 113.9h1.2v1.2h-1.2zM237.6 133.4h0.9v0.9h-0.9zM216.8 131.6h0.9v0.9h-0.9zM256.5 107.8h1.2v1.2h-1.2zM236.7 145.0h0.9v0.9h-0.9z" fill="#c4a08a" opacity="0.7"/>
<path d="M200.6 80.6h1.2v1.2h-1.2zM229.0 99.8h1.2v1.2h-1.2zM214.9 106.1h1.2v1.2h-1.2zM219.0 109.3h0.9v0.9h-0.9zM239.4 94.4h1.2v1.2h-1.2zM255.3 87.4h0.9v0.9h-0.9zM200.1 79.3h0.9v0.9h-0.9zM201.9 141.5h1.2v1.2h-1.2zM224.9 121.7h0.9v0.9h-0.9zM258.3 78.1h0.9v0.9h-0.9zM239.6 140.0h1.2v1.2h-1.2zM242.5 146.3h0.9v0.9h-0.9zM250.8 117.7h1.2v1.2h-1.2zM215.9 131.1h0.9v0.9h-0.9zM201.3 135.6h1.2v1.2h-1.2zM217.4 120.1h1.2v1.2h-1.2zM202.7 102.5h1.2v1.2h-1.2zM216.1 107.7h0.9v0.9h-0.9zM255.4 142.3h1.2v1.2h-1.2zM237.1 115.5h0.9v0.9h-0.9zM248.9 137.6h1.2v1.2h-1.2zM192.3 141.0h1.2v1.2h-1.2zM223.9 86.8h1.2v1.2h-1.2zM241.8 139.1h1.2v1.2h-1.2zM245.8 134.3h0.9v0.9h-0.9zM211.1 149.0h0.9v0.9h-0.9zM246.6 143.4h0.9v0.9h-0.9zM246.7 147.5h0.9v0.9h-0.9zM260.1 83.2h1.2v1.2h-1.2zM196.1 119.6h0.9v0.9h-0.9zM193.9 79.1h1.2v1.2h-1.2zM228.0 106.6h1.2v1.2h-1.2zM243.4 93.4h0.9v0.9h-0.9zM242.6 123.0h1.2v1.2h-1.2zM232.1 129.6h1.2v1.2h-1.2zM197.3 146.9h1.2v1.2h-1.2zM197.8 87.1h1.2v1.2h-1.2zM221.0 104.2h1.2v1.2h-1.2zM217.1 82.3h1.2v1.2h-1.2zM245.6 103.9h1.2v1.2h-1.2zM211.1 106.8h1.2v1.2h-1.2zM257.2 143.6h0.9v0.9h-0.9zM235.1 97.2h1.2v1.2h-1.2zM246.7 130.6h1.2v1.2h-1.2zM240.4 107.6h0.9v0.9h-0.9zM188.5 133.8h0.9v0.9h-0.9zM213.5 112.8h0.9v0.9h-0.9zM244.1 128.8h1.2v1.2h-1.2zM222.8 98.4h0.9v0.9h-0.9zM198.5 82.7h0.9v0.9h-0.9zM248.1 84.7h0.9v0.9h-0.9zM218.1 103.4h0.9v0.9h-0.9zM229.3 96.2h0.9v0.9h-0.9zM251.1 128.6h0.9v0.9h-0.9zM204.7 135.8h1.2v1.2h-1.2zM241.9 108.1h0.9v0.9h-0.9zM249.4 91.1h1.2v1.2h-1.2zM252.0 104.0h1.2v1.2h-1.2zM242.7 111.1h1.2v1.2h-1.2zM196.7 116.5h1.2v1.2h-1.2zM253.3 102.7h0.9v0.9h-0.9zM240.4 111.0h0.9v0.9h-0.9zM236.7 94.6h0.9v0.9h-0.9zM203.3 143.3h0.9v0.9h-0.9zM192.7 121.0h1.2v1.2h-1.2zM246.4 83.8h1.2v1.2h-1.2zM203.3 138.1h1.2v1.2h-1.2zM252.8 92.3h0.9v0.9h-0.9zM253.1 148.2h0.9v0.9h-0.9zM207.0 85.3h0.9v0.9h-0.9zM230.4 90.9h0.9v0.9h-0.9zM231.2 143.3h1.2v1.2h-1.2zM255.8 100.6h1.2v1.2h-1.2zM244.3 125.9h1.2v1.2h-1.2zM212.4 134.2h1.2v1.2h-1.2zM251.7 122.1h0.9v0.9h-0.9zM215.0 115.9h1.2v1.2h-1.2zM250.4 82.7h0.9v0.9h-0.9zM190.0 135.8h1.2v1.2h-1.2zM207.0 115.2h0.9v0.9h-0.9zM244.7 132.2h1.2v1.2h-1.2zM192.7 80.0h1.2v1.2h-1.2zM206.5 147.1h0.9v0.9h-0.9zM203.0 82.5h1.2v1.2h-1.2zM189.6 86.4h1.2v1.2h-1.2zM190.0 137.0h1.2v1.2h-1.2zM245.7 124.6h0.9v0.9h-0.9zM238.7 118.7h1.2v1.2h-1.2zM221.7 100.1h1.2v1.2h-1.2zM259.0 128.4h0.9v0.9h-0.9zM251.0 79.3h0.9v0.9h-0.9zM197.9 103.8h1.2v1.2h-1.2zM242.2 104.7h1.2v1.2h-1.2zM237.8 95.1h1.2v1.2h-1.2zM245.6 85.3h1.2v1.2h-1.2zM196.1 104.9h0.9v0.9h-0.9zM259.9 129.4h0.9v0.9h-0.9zM195.0 135.7h0.9v0.9h-0.9zM233.0 145.7h1.2v1.2h-1.2zM203.7 115.6h0.9v0.9h-0.9zM224.9 79.0h1.2v1.2h-1.2zM245.6 110.7h1.2v1.2h-1.2zM234.8 126.1h0.9v0.9h-0.9zM201.7 145.5h1.2v1.2h-1.2zM216.0 104.6h1.2v1.2h-1.2zM230.8 95.5h1.2v1.2h-1.2zM237.6 133.0h0.9v0.9h-0.9zM219.2 95.3h0.9v0.9h-0.9zM226.6 97.3h1.2v1.2h-1.2zM220.1 84.3h0.9v0.9h-0.9zM201.7 100.9h1.2v1.2h-1.2zM190.0 142.7h0.9v0.9h-0.9zM257.4 110.9h0.9v0.9h-0.9zM216.2 115.8h0.9v0.9h-0.9zM205.0 134.9h1.2v1.2h-1.2zM241.8 130.0h1.2v1.2h-1.2zM198.7 109.6h0.9v0.9h-0.9zM206.9 115.1h0.9v0.9h-0.9zM210.0 89.8h0.9v0.9h-0.9zM241.6 116.3h1.2v1.2h-1.2zM235.9 89.4h0.9v0.9h-0.9zM197.1 95.8h0.9v0.9h-0.9zM214.6 121.0h1.2v1.2h-1.2zM218.6 111.3h0.9v0.9h-0.9zM260.8 133.6h0.9v0.9h-0.9zM201.0 106.8h0.9v0.9h-0.9zM212.9 101.1h1.2v1.2h-1.2zM198.2 136.1h1.2v1.2h-1.2zM256.4 83.8h0.9v0.9h-0.9zM197.3 113.6h0.9v0.9h-0.9zM245.0 144.1h0.9v0.9h-0.9zM246.6 131.4h0.9v0.9h-0.9zM257.5 92.1h1.2v1.2h-1.2zM206.7 119.9h1.2v1.2h-1.2zM220.7 93.1h0.9v0.9h-0.9zM242.5 125.9h1.2v1.2h-1.2zM203.5 132.1h1.2v1.2h-1.2zM245.4 110.2h1.2v1.2h-1.2zM237.7 89.8h1.2v1.2h-1.2zM212.2 90.6h1.2v1.2h-1.2zM204.2 122.8h0.9v0.9h-0.9zM214.8 127.1h1.2v1.2h-1.2zM226.8 95.8h1.2v1.2h-1.2zM200.0 78.4h0.9v0.9h-0.9zM258.4 139.2h1.2v1.2h-1.2zM218.3 96.7h1.2v1.2h-1.2zM221.0 111.1h1.2v1.2h-1.2zM244.5 141.9h0.9v0.9h-0.9zM215.6 139.4h0.9v0.9h-0.9zM244.2 81.0h0.9v0.9h-0.9zM255.4 99.7h0.9v0.9h-0.9zM197.2 146.8h0.9v0.9h-0.9zM224.9 134.3h0.9v0.9h-0.9zM211.4 132.6h0.9v0.9h-0.9zM231.9 96.0h1.2v1.2h-1.2zM245.6 89.8h0.9v0.9h-0.9zM260.4 110.3h1.2v1.2h-1.2zM248.0 142.7h1.2v1.2h-1.2zM205.9 100.1h1.2v1.2h-1.2zM220.5 102.4h1.2v1.2h-1.2zM197.1 115.9h1.2v1.2h-1.2zM192.2 105.0h0.9v0.9h-0.9zM251.2 102.1h1.2v1.2h-1.2zM199.0 129.4h0.9v0.9h-0.9zM248.9 111.7h1.2v1.2h-1.2zM208.7 79.6h1.2v1.2h-1.2zM209.8 90.8h1.2v1.2h-1.2zM242.3 120.6h1.2v1.2h-1.2zM234.7 78.8h0.9v0.9h-0.9zM244.9 80.6h0.9v0.9h-0.9zM244.6 89.6h1.2v1.2h-1.2zM191.6 97.0h1.2v1.2h-1.2zM195.3 111.9h0.9v0.9h-0.9zM246.6 104.6h1.2v1.2h-1.2zM250.8 80.7h1.2v1.2h-1.2zM213.5 149.4h0.9v0.9h-0.9zM233.6 129.4h1.2v1.2h-1.2zM209.2 102.3h1.2v1.2h-1.2zM209.6 104.5h1.2v1.2h-1.2zM228.5 96.0h0.9v0.9h-0.9zM229.5 104.6h1.2v1.2h-1.2zM229.3 96.9h0.9v0.9h-0.9zM211.9 129.6h0.9v0.9h-0.9zM254.8 87.9h1.2v1.2h-1.2zM190.2 139.0h0.9v0.9h-0.9zM233.4 144.5h0.9v0.9h-0.9zM246.4 131.0h1.2v1.2h-1.2zM216.5 131.9h1.2v1.2h-1.2zM204.6 81.9h0.9v0.9h-0.9z" fill="#b89a84" opacity="0.7"/>
<path d="M216.9 98.9h0.9v0.9h-0.9zM253.5 119.3h0.9v0.9h-0.9zM207.3 128.7h1.2v1.2h-1.2zM255.1 88.4h0.9v0.9h-0.9zM195.5 127.8h0.9v0.9h-0.9zM243.4 105.3h1.2v1.2h-1.2zM226.5 124.3h1.2v1.2h-1.2zM239.9 121.9h1.2v1.2h-1.2zM199.5 88.3h0.9v0.9h-0.9zM261.0 131.6h1.2v1.2h-1.2zM254.4 112.7h0.9v0.9h-0.9zM241.6 123.8h0.9v0.9h-0.9zM196.6 142.6h0.9v0.9h-0.9zM234.8 94.1h0.9v0.9h-0.9zM232.3 88.1h0.9v0.9h-0.9zM259.1 117.3h1.2v1.2h-1.2zM209.7 88.6h0.9v0.9h-0.9zM234.5 138.3h1.2v1.2h-1.2zM245.4 82.7h1.2v1.2h-1.2zM257.1 114.6h0.9v0.9h-0.9zM231.8 96.2h0.9v0.9h-0.9zM247.3 125.1h0.9v0.9h-0.9zM189.5 83.9h1.2v1.2h-1.2zM203.3 148.3h0.9v0.9h-0.9zM256.5 79.6h1.2v1.2h-1.2zM223.6 146.8h1.2v1.2h-1.2zM222.6 87.1h1.2v1.2h-1.2zM194.8 140.2h1.2v1.2h-1.2zM239.7 85.9h0.9v0.9h-0.9zM247.4 80.1h1.2v1.2h-1.2zM239.4 79.1h1.2v1.2h-1.2zM204.8 121.0h0.9v0.9h-0.9zM223.2 100.8h1.2v1.2h-1.2zM198.4 143.9h1.2v1.2h-1.2zM246.6 94.3h1.2v1.2h-1.2zM232.0 135.4h1.2v1.2h-1.2zM217.0 131.7h0.9v0.9h-0.9zM237.2 148.5h1.2v1.2h-1.2zM232.6 121.1h0.9v0.9h-0.9zM210.3 133.0h0.9v0.9h-0.9zM256.6 146.2h1.2v1.2h-1.2zM245.6 134.6h1.2v1.2h-1.2zM189.5 121.3h1.2v1.2h-1.2zM240.1 77.1h1.2v1.2h-1.2zM198.3 97.1h1.2v1.2h-1.2zM215.0 129.0h1.2v1.2h-1.2zM210.0 106.2h0.9v0.9h-0.9zM218.7 128.7h0.9v0.9h-0.9zM260.9 87.9h1.2v1.2h-1.2zM189.9 109.7h0.9v0.9h-0.9zM238.7 90.3h1.2v1.2h-1.2zM209.6 85.7h0.9v0.9h-0.9zM226.4 141.0h1.2v1.2h-1.2zM223.2 104.3h0.9v0.9h-0.9zM215.0 100.6h1.2v1.2h-1.2zM225.9 117.5h1.2v1.2h-1.2zM209.5 96.5h0.9v0.9h-0.9zM205.0 139.8h0.9v0.9h-0.9zM234.0 122.2h0.9v0.9h-0.9zM249.5 141.1h0.9v0.9h-0.9zM247.8 98.5h0.9v0.9h-0.9zM221.8 97.7h0.9v0.9h-0.9zM194.9 110.9h0.9v0.9h-0.9zM199.2 135.8h0.9v0.9h-0.9zM227.2 126.8h1.2v1.2h-1.2zM243.9 124.0h0.9v0.9h-0.9zM258.5 122.2h1.2v1.2h-1.2zM250.5 94.9h1.2v1.2h-1.2zM259.5 133.1h1.2v1.2h-1.2zM228.8 101.7h0.9v0.9h-0.9zM205.5 123.1h0.9v0.9h-0.9zM235.9 119.3h1.2v1.2h-1.2zM219.8 134.0h1.2v1.2h-1.2zM197.1 107.7h1.2v1.2h-1.2zM225.8 105.1h1.2v1.2h-1.2zM212.7 138.4h0.9v0.9h-0.9zM257.2 103.7h1.2v1.2h-1.2zM206.0 104.2h0.9v0.9h-0.9zM241.7 123.4h1.2v1.2h-1.2zM236.9 128.8h1.2v1.2h-1.2zM191.7 124.1h1.2v1.2h-1.2zM223.9 122.6h1.2v1.2h-1.2zM258.5 134.6h0.9v0.9h-0.9zM202.7 116.1h1.2v1.2h-1.2zM231.2 146.5h1.2v1.2h-1.2zM229.3 105.8h1.2v1.2h-1.2zM218.8 89.9h1.2v1.2h-1.2zM254.9 86.2h1.2v1.2h-1.2zM233.3 101.1h0.9v0.9h-0.9zM198.4 89.9h1.2v1.2h-1.2zM224.7 134.5h1.2v1.2h-1.2zM217.6 85.8h0.9v0.9h-0.9zM241.9 107.3h1.2v1.2h-1.2zM196.2 126.7h0.9v0.9h-0.9zM208.8 128.7h1.2v1.2h-1.2zM241.6 95.4h0.9v0.9h-0.9zM218.0 97.2h1.2v1.2h-1.2zM246.1 135.9h0.9v0.9h-0.9zM259.4 114.3h0.9v0.9h-0.9zM192.4 146.7h0.9v0.9h-0.9zM214.8 91.6h1.2v1.2h-1.2zM210.3 134.3h1.2v1.2h-1.2zM196.5 94.6h0.9v0.9h-0.9zM221.7 97.1h1.2v1.2h-1.2zM238.3 81.7h0.9v0.9h-0.9zM212.9 89.6h0.9v0.9h-0.9zM230.8 103.4h1.2v1.2h-1.2zM191.5 118.3h1.2v1.2h-1.2zM191.9 107.8h0.9v0.9h-0.9zM201.9 123.9h0.9v0.9h-0.9zM231.0 91.2h0.9v0.9h-0.9zM190.3 115.8h0.9v0.9h-0.9zM206.8 111.6h1.2v1.2h-1.2zM254.6 97.8h1.2v1.2h-1.2zM219.9 97.5h0.9v0.9h-0.9zM242.1 141.0h1.2v1.2h-1.2zM199.4 89.4h0.9v0.9h-0.9zM238.7 137.7h0.9v0.9h-0.9zM226.2 82.6h1.2v1.2h-1.2zM234.2 125.5h0.9v0.9h-0.9zM225.2 81.0h0.9v0.9h-0.9zM191.9 147.5h0.9v0.9h-0.9zM206.1 142.9h0.9v0.9h-0.9zM225.3 140.4h1.2v1.2h-1.2zM216.6 130.9h0.9v0.9h-0.9zM191.1 78.7h0.9v0.9h-0.9zM214.5 102.2h0.9v0.9h-0.9zM210.5 144.1h1.2v1.2h-1.2zM199.4 98.5h0.9v0.9h-0.9zM243.1 95.5h1.2v1.2h-1.2zM242.6 118.9h0.9v0.9h-0.9zM212.2 119.7h1.2v1.2h-1.2zM251.6 83.4h0.9v0.9h-0.9zM254.3 92.9h1.2v1.2h-1.2zM250.3 88.3h0.9v0.9h-0.9zM256.0 80.1h1.2v1.2h-1.2zM230.5 114.8h0.9v0.9h-0.9zM241.6 93.1h0.9v0.9h-0.9zM198.4 106.2h1.2v1.2h-1.2zM233.9 143.7h0.9v0.9h-0.9zM247.8 106.7h0.9v0.9h-0.9zM234.6 90.1h1.2v1.2h-1.2zM204.9 141.9h0.9v0.9h-0.9zM191.0 85.9h0.9v0.9h-0.9zM226.5 93.5h1.2v1.2h-1.2zM205.6 116.3h0.9v0.9h-0.9zM211.6 114.3h1.2v1.2h-1.2zM244.6 134.4h1.2v1.2h-1.2zM215.9 123.7h1.2v1.2h-1.2zM224.5 115.0h1.2v1.2h-1.2zM243.1 86.7h0.9v0.9h-0.9zM229.5 133.4h1.2v1.2h-1.2zM244.9 144.2h1.2v1.2h-1.2zM240.8 97.1h0.9v0.9h-0.9zM199.9 91.9h1.2v1.2h-1.2z" fill="#d2a88e" opacity="0.7"/>
</g></g>
<line x1="82.80" y1="139.40" x2="107.90" y2="139.40" stroke="#1a1a1a" stroke-width="1.4"/>
<text x="82.50" y="147.60" font-size="8.6" fill="#1a1a1a" textLength="28.50" lengthAdjust="spacingAndGlyphs">0.5 mm</text>
<line x1="157.80" y1="139.40" x2="182.90" y2="139.40" stroke="#1a1a1a" stroke-width="1.4"/>
<text x="157.50" y="147.60" font-size="8.6" fill="#1a1a1a" textLength="28.50" lengthAdjust="spacingAndGlyphs">0.5 mm</text>
<line x1="232.80" y1="139.40" x2="257.90" y2="139.40" stroke="#1a1a1a" stroke-width="1.4"/>
<text x="232.50" y="147.60" font-size="8.6" fill="#1a1a1a" textLength="28.50" lengthAdjust="spacingAndGlyphs">0.5 mm</text>
<text x="58.50" y="160.50" font-size="8.4" textLength="32.30" lengthAdjust="spacingAndGlyphs">Negative</text>
<text x="142.70" y="160.50" font-size="8.4" textLength="14.30" lengthAdjust="spacingAndGlyphs">Low</text>
<text x="0.00" y="0.00" font-size="9"></text>
<text x="225.00" y="160.50" font-size="8.4" text-anchor="middle">High</text>
<text x="310.80" y="16.30" font-size="11" font-weight="bold" fill="#111">B</text>
<rect x="355" y="25.8" width="115" height="120" fill="none" stroke="#222" stroke-width="1.1"/>
<line x1="352.00" y1="145.80" x2="355.00" y2="145.80" stroke="#222" stroke-width="1"/>
<text x="349.20" y="148.80" font-size="8.4" text-anchor="end" textLength="4.10" lengthAdjust="spacingAndGlyphs">0</text>
<line x1="352.00" y1="121.80" x2="355.00" y2="121.80" stroke="#222" stroke-width="1"/>
<text x="349.20" y="124.80" font-size="8.4" text-anchor="end" textLength="8.20" lengthAdjust="spacingAndGlyphs">20</text>
<line x1="352.00" y1="97.80" x2="355.00" y2="97.80" stroke="#222" stroke-width="1"/>
<text x="349.20" y="100.80" font-size="8.4" text-anchor="end" textLength="8.20" lengthAdjust="spacingAndGlyphs">40</text>
<line x1="352.00" y1="73.80" x2="355.00" y2="73.80" stroke="#222" stroke-width="1"/>
<text x="349.20" y="76.80" font-size="8.4" text-anchor="end" textLength="8.20" lengthAdjust="spacingAndGlyphs">60</text>
<line x1="352.00" y1="49.80" x2="355.00" y2="49.80" stroke="#222" stroke-width="1"/>
<text x="349.20" y="52.80" font-size="8.4" text-anchor="end" textLength="8.20" lengthAdjust="spacingAndGlyphs">80</text>
<line x1="352.00" y1="25.80" x2="355.00" y2="25.80" stroke="#222" stroke-width="1"/>
<text x="349.20" y="28.80" font-size="8.4" text-anchor="end" textLength="12.30" lengthAdjust="spacingAndGlyphs">100</text>
<text x="0.00" y="0.00" font-size="9"></text>
<text transform="translate(330.4,86) rotate(-90)" font-size="8.8" text-anchor="middle" textLength="68.7" lengthAdjust="spacingAndGlyphs">Persistent clones (%)</text>
<line x1="374.60" y1="70.44" x2="374.60" y2="82.44" stroke="#50698c" stroke-width="1.2"/>
<line x1="374.60" y1="98.76" x2="374.60" y2="96.84" stroke="#50698c" stroke-width="1.2"/>
<line x1="369.10" y1="70.44" x2="380.10" y2="70.44" stroke="#50698c" stroke-width="1.2"/>
<line x1="369.10" y1="98.76" x2="380.10" y2="98.76" stroke="#50698c" stroke-width="1.2"/>
<rect x="363.5" y="82.44" width="22.19999999999999" height="14.40" fill="#b3bedc"/>
<line x1="363.50" y1="86.04" x2="385.70" y2="86.04" stroke="#1f3f6e" stroke-width="1.8"/>
<line x1="412.70" y1="69.72" x2="412.70" y2="76.08" stroke="#c4304a" stroke-width="1.2"/>
<line x1="412.70" y1="103.80" x2="412.70" y2="92.76" stroke="#c4304a" stroke-width="1.2"/>
<line x1="407.20" y1="69.72" x2="418.20" y2="69.72" stroke="#c4304a" stroke-width="1.2"/>
<line x1="407.20" y1="103.80" x2="418.20" y2="103.80" stroke="#c4304a" stroke-width="1.2"/>
<rect x="401.6" y="76.08" width="22.19999999999999" height="16.68" fill="#f4bcb2"/>
<line x1="401.60" y1="81.84" x2="423.80" y2="81.84" stroke="#bc0a28" stroke-width="1.8"/>
<line x1="451.10" y1="81.48" x2="451.10" y2="85.80" stroke="#56b0dd" stroke-width="1.2"/>
<line x1="451.10" y1="104.40" x2="451.10" y2="96.84" stroke="#56b0dd" stroke-width="1.2"/>
<line x1="445.60" y1="81.48" x2="456.60" y2="81.48" stroke="#56b0dd" stroke-width="1.2"/>
<line x1="445.60" y1="104.40" x2="456.60" y2="104.40" stroke="#56b0dd" stroke-width="1.2"/>
<rect x="439.9" y="85.80" width="22.400000000000034" height="11.04" fill="#cfe2f5"/>
<line x1="439.90" y1="89.40" x2="462.30" y2="89.40" stroke="#3aa0dc" stroke-width="1.8"/>
<line x1="473.40" y1="56.50" x2="480.30" y2="56.50" stroke="#2a4f7a" stroke-width="1.4"/>
<text x="484.00" y="59.00" font-size="8.0" textLength="9.30" lengthAdjust="spacingAndGlyphs">CB</text>
<text x="484.00" y="70.40" font-size="8.0" textLength="20.10" lengthAdjust="spacingAndGlyphs">Young</text>
<line x1="473.40" y1="76.50" x2="480.30" y2="76.50" stroke="#c0304a" stroke-width="1.4"/>
<text x="484.00" y="79.00" font-size="8.0" textLength="16.20" lengthAdjust="spacingAndGlyphs">adult</text>
<text x="484.00" y="88.00" font-size="8.0" textLength="10.90" lengthAdjust="spacingAndGlyphs">BM</text>
<text x="484.00" y="99.40" font-size="8.0" textLength="17.30" lengthAdjust="spacingAndGlyphs">Aged</text>
<line x1="473.40" y1="106.00" x2="480.30" y2="106.00" stroke="#56b0dd" stroke-width="1.4"/>
<text x="484.00" y="108.40" font-size="8.0" textLength="16.20" lengthAdjust="spacingAndGlyphs">adult</text>
<text x="484.00" y="117.40" font-size="8.0" textLength="10.90" lengthAdjust="spacingAndGlyphs">BM</text>
<text x="6.80" y="187.80" font-size="11" font-weight="bold" fill="#111">C</text>
<text x="54.30" y="207.20" font-size="8.4" text-anchor="middle" textLength="10.60" lengthAdjust="spacingAndGlyphs">CB</text>
<text x="149.40" y="207.20" font-size="8.4" text-anchor="middle" textLength="57.00" lengthAdjust="spacingAndGlyphs">Young adult BM</text>
<text x="245.70" y="207.20" font-size="8.4" text-anchor="middle" textLength="54.70" lengthAdjust="spacingAndGlyphs">Aged adult BM</text>
<line x1="54.70" y1="221.50" x2="248.40" y2="221.50" stroke="#333" stroke-width="1"/>
<line x1="54.70" y1="231.50" x2="146.30" y2="231.50" stroke="#333" stroke-width="1"/>
<line x1="156.30" y1="231.50" x2="248.40" y2="231.50" stroke="#333" stroke-width="1"/>
<circle cx="148.60" cy="217.00" r="0.95" fill="#2a2a2a"/>
<circle cx="151.50" cy="217.00" r="0.95" fill="#2a2a2a"/>
<circle cx="154.40" cy="217.00" r="0.95" fill="#2a2a2a"/>
<circle cx="97.60" cy="227.40" r="0.95" fill="#2a2a2a"/>
<circle cx="100.50" cy="227.40" r="0.95" fill="#2a2a2a"/>
<circle cx="103.40" cy="227.40" r="0.95" fill="#2a2a2a"/>
<circle cx="199.70" cy="227.40" r="0.95" fill="#2a2a2a"/>
<circle cx="202.60" cy="227.40" r="0.95" fill="#2a2a2a"/>
<circle cx="205.50" cy="227.40" r="0.95" fill="#2a2a2a"/>
<path d="M54.00,278.40L74.88,248.58A36.4,36.4 0 0 1 88.62,267.15Z" fill="#0f0f0f" stroke="#0f0f0f" stroke-width="0.35" stroke-linejoin="round"/>
<path d="M54.00,278.40L88.62,267.15A36.4,36.4 0 0 1 54.00,314.80Z" fill="#b8b5b4" stroke="#b8b5b4" stroke-width="0.35" stroke-linejoin="round"/>
<path d="M54.00,278.40L54.00,314.80A36.4,36.4 0 0 1 19.38,289.65Z" fill="#777473" stroke="#777473" stroke-width="0.35" stroke-linejoin="round"/>
<path d="M54.00,278.40L19.38,289.65A36.4,36.4 0 0 1 74.88,248.58Z" fill="#3b3735" stroke="#3b3735" stroke-width="0.35" stroke-linejoin="round"/>
<path d="M149.50,278.30L170.44,248.40A36.5,36.5 0 0 1 184.01,266.42Z" fill="#0f0f0f" stroke="#0f0f0f" stroke-width="0.35" stroke-linejoin="round"/>
<path d="M149.50,278.30L184.01,266.42A36.5,36.5 0 0 1 138.83,313.21Z" fill="#b8b5b4" stroke="#b8b5b4" stroke-width="0.35" stroke-linejoin="round"/>
<path d="M149.50,278.30L138.83,313.21A36.5,36.5 0 0 1 115.42,291.38Z" fill="#777473" stroke="#777473" stroke-width="0.35" stroke-linejoin="round"/>
<path d="M149.50,278.30L115.42,291.38A36.5,36.5 0 0 1 170.44,248.40Z" fill="#3b3735" stroke="#3b3735" stroke-width="0.35" stroke-linejoin="round"/>
<path d="M245.50,277.80L264.79,246.93A36.4,36.4 0 0 1 279.92,265.95Z" fill="#0f0f0f" stroke="#0f0f0f" stroke-width="0.35" stroke-linejoin="round"/>
<path d="M245.50,277.80L279.92,265.95A36.4,36.4 0 1 1 209.90,285.37Z" fill="#b8b5b4" stroke="#b8b5b4" stroke-width="0.35" stroke-linejoin="round"/>
<path d="M245.50,277.80L209.90,285.37A36.4,36.4 0 0 1 209.19,280.34Z" fill="#777473" stroke="#777473" stroke-width="0.35" stroke-linejoin="round"/>
<path d="M245.50,277.80L209.19,280.34A36.4,36.4 0 0 1 264.79,246.93Z" fill="#3b3735" stroke="#3b3735" stroke-width="0.35" stroke-linejoin="round"/>
<rect x="26.3" y="322.2" width="5.8" height="5.8" fill="#0f0f0f"/>
<text x="35.60" y="328.00" font-size="8.6" textLength="62.90" lengthAdjust="spacingAndGlyphs">Highly Proliferative</text>
<rect x="113.9" y="322.2" width="5.8" height="5.8" fill="#3b3735"/>
<text x="123.80" y="328.00" font-size="8.6" textLength="39.80" lengthAdjust="spacingAndGlyphs">Proliferative</text>
<rect x="178.8" y="322.2" width="5.8" height="5.8" fill="#777473"/>
<text x="189.00" y="328.00" font-size="8.6" textLength="29.60" lengthAdjust="spacingAndGlyphs">Transient</text>
<rect x="233.7" y="322.2" width="5.8" height="5.8" fill="#b8b5b4"/>
<text x="243.70" y="328.00" font-size="8.6" textLength="30.10" lengthAdjust="spacingAndGlyphs">Negative</text>
<text x="310.80" y="179.30" font-size="11" font-weight="bold" fill="#111">D</text>
<path d="M355.4,182.3 H469.9 V302.6 H355.4 Z" fill="none" stroke="#222" stroke-width="1.1"/>
<line x1="352.40" y1="298.20" x2="355.40" y2="298.20" stroke="#222" stroke-width="1"/>
<text x="349.20" y="301.20" font-size="8.4" text-anchor="end" textLength="4.10" lengthAdjust="spacingAndGlyphs">0</text>
<line x1="352.40" y1="275.86" x2="355.40" y2="275.86" stroke="#222" stroke-width="1"/>
<text x="349.20" y="278.86" font-size="8.4" text-anchor="end" textLength="8.20" lengthAdjust="spacingAndGlyphs">20</text>
<line x1="352.40" y1="253.52" x2="355.40" y2="253.52" stroke="#222" stroke-width="1"/>
<text x="349.20" y="256.52" font-size="8.4" text-anchor="end" textLength="8.20" lengthAdjust="spacingAndGlyphs">40</text>
<line x1="352.40" y1="231.18" x2="355.40" y2="231.18" stroke="#222" stroke-width="1"/>
<text x="349.20" y="234.18" font-size="8.4" text-anchor="end" textLength="8.20" lengthAdjust="spacingAndGlyphs">60</text>
<line x1="352.40" y1="208.84" x2="355.40" y2="208.84" stroke="#222" stroke-width="1"/>
<text x="349.20" y="211.84" font-size="8.4" text-anchor="end" textLength="8.20" lengthAdjust="spacingAndGlyphs">80</text>
<line x1="352.40" y1="186.50" x2="355.40" y2="186.50" stroke="#222" stroke-width="1"/>
<text x="349.20" y="189.50" font-size="8.4" text-anchor="end" textLength="12.30" lengthAdjust="spacingAndGlyphs">100</text>
<line x1="363.50" y1="302.60" x2="363.50" y2="305.60" stroke="#222" stroke-width="1"/>
<text x="363.50" y="316.20" font-size="8.6" text-anchor="middle">2</text>
<line x1="379.60" y1="302.60" x2="379.60" y2="305.60" stroke="#222" stroke-width="1"/>
<text x="379.60" y="316.20" font-size="8.6" text-anchor="middle">3</text>
<line x1="396.30" y1="302.60" x2="396.30" y2="305.60" stroke="#222" stroke-width="1"/>
<text x="396.30" y="316.20" font-size="8.6" text-anchor="middle">4</text>
<line x1="412.50" y1="302.60" x2="412.50" y2="305.60" stroke="#222" stroke-width="1"/>
<text x="412.50" y="316.20" font-size="8.6" text-anchor="middle">5</text>
<line x1="429.00" y1="302.60" x2="429.00" y2="305.60" stroke="#222" stroke-width="1"/>
<text x="429.00" y="316.20" font-size="8.6" text-anchor="middle">6</text>
<line x1="462.00" y1="302.60" x2="462.00" y2="305.60" stroke="#222" stroke-width="1"/>
<text x="462.00" y="316.20" font-size="8.6" text-anchor="middle">8</text>
<text x="412.70" y="326.90" font-size="10" text-anchor="middle" textLength="19.20" lengthAdjust="spacingAndGlyphs">Week</text>
<text transform="translate(330.4,242.8) rotate(-90)" font-size="8.8" text-anchor="middle" textLength="87.3" lengthAdjust="spacingAndGlyphs">Total persistent clones (%)</text>
<polyline points="363.50,298.20 363.50,298.20 363.50,298.20 363.50,240.12 379.60,240.12 379.60,199.90 396.30,199.90 396.30,193.20 412.50,193.20 412.50,190.97 429.00,190.97 429.00,190.97 462.00,190.97 462.00,186.50 469.90,186.50" stroke="#2a4f7a" stroke-width="1.3" fill="none"/>
<polyline points="363.50,298.20 363.50,298.20 363.50,298.20 363.50,285.47 379.60,285.47 379.60,246.82 396.30,246.82 396.30,222.24 412.50,222.24 412.50,206.61 429.00,206.61 429.00,196.55 462.00,196.55 462.00,186.50 469.90,186.50" stroke="#c0304a" stroke-width="1.3" fill="none"/>
<polyline points="355.40,298.20 363.50,298.20 363.50,298.20 363.50,288.15 379.60,288.15 379.60,268.60 396.30,268.60 396.30,247.60 412.50,247.60 412.50,233.41 429.00,233.41 429.00,222.24 462.00,222.24 462.00,186.50 469.90,186.50" stroke="#56b8dd" stroke-width="1.3" fill="none"/>
<line x1="404.30" y1="200.30" x2="404.30" y2="215.30" stroke="#222" stroke-width="0.9"/>
<line x1="404.30" y1="227.70" x2="404.30" y2="242.20" stroke="#222" stroke-width="0.9"/>
<circle cx="400.90" cy="205.70" r="0.95" fill="#2a2a2a"/>
<circle cx="400.90" cy="208.60" r="0.95" fill="#2a2a2a"/>
<circle cx="400.90" cy="211.50" r="0.95" fill="#2a2a2a"/>
<circle cx="400.90" cy="233.00" r="0.95" fill="#2a2a2a"/>
<circle cx="400.90" cy="235.90" r="0.95" fill="#2a2a2a"/>
<circle cx="400.90" cy="238.80" r="0.95" fill="#2a2a2a"/>
<line x1="473.40" y1="213.20" x2="479.60" y2="213.20" stroke="#2a4f7a" stroke-width="1.4"/>
<text x="483.50" y="215.70" font-size="8.0" textLength="9.30" lengthAdjust="spacingAndGlyphs">CB</text>
<text x="483.50" y="227.20" font-size="8.0" textLength="20.10" lengthAdjust="spacingAndGlyphs">Young</text>
<line x1="473.40" y1="233.00" x2="479.60" y2="233.00" stroke="#c0304a" stroke-width="1.4"/>
<text x="483.50" y="235.50" font-size="8.0" textLength="16.20" lengthAdjust="spacingAndGlyphs">adult</text>
<text x="483.50" y="244.00" font-size="8.0" textLength="10.90" lengthAdjust="spacingAndGlyphs">BM</text>
<text x="483.50" y="255.50" font-size="8.0" textLength="17.30" lengthAdjust="spacingAndGlyphs">Aged</text>
<line x1="473.40" y1="262.30" x2="479.60" y2="262.30" stroke="#56b8dd" stroke-width="1.4"/>
<text x="483.50" y="264.80" font-size="8.0" textLength="16.20" lengthAdjust="spacingAndGlyphs">adult</text>
<text x="483.50" y="272.90" font-size="8.0" textLength="10.90" lengthAdjust="spacingAndGlyphs">BM</text>
<text x="7.00" y="362.00" font-size="11" font-weight="bold" fill="#111">E</text>
<text x="130.20" y="378.20" font-size="8.4" text-anchor="middle" textLength="66.70" lengthAdjust="spacingAndGlyphs">Engineered mouse</text>
<text x="130.20" y="387.60" font-size="8.4" text-anchor="middle" textLength="44.10" lengthAdjust="spacingAndGlyphs">stromal cells</text>
<text x="51.30" y="404.50" font-size="8.4" text-anchor="middle" textLength="22.20" lengthAdjust="spacingAndGlyphs">Single</text>
<text x="51.80" y="414.10" font-size="8.4" text-anchor="middle" font-style="italic" textLength="27.60" lengthAdjust="spacingAndGlyphs">CD49f+</text>
<text x="52.30" y="423.00" font-size="8.4" text-anchor="middle" textLength="15.90" lengthAdjust="spacingAndGlyphs">cells</text>
<line x1="66.60" y1="410.40" x2="88.50" y2="410.40" stroke="#222" stroke-width="1.0"/>
<polygon points="93.00,410.40 88.00,412.60 88.00,408.20" fill="#222"/>
<rect x="100.20" y="391.30" width="60.60" height="39.00" fill="#ece6ea" stroke="#454545" stroke-width="1.4" rx="0.8"/>
<circle cx="103.50" cy="394.10" r="1.75" fill="#f2f2f8" stroke="#a8a8b8" stroke-width="0.45"/>
<circle cx="108.41" cy="394.10" r="1.75" fill="#f2f2f8" stroke="#a8a8b8" stroke-width="0.45"/>
<circle cx="113.32" cy="394.10" r="1.75" fill="#f2f2f8" stroke="#a8a8b8" stroke-width="0.45"/>
<circle cx="118.23" cy="394.10" r="1.75" fill="#f2f2f8" stroke="#a8a8b8" stroke-width="0.45"/>
<circle cx="123.14" cy="394.10" r="1.75" fill="#f2f2f8" stroke="#a8a8b8" stroke-width="0.45"/>
<circle cx="128.05" cy="394.10" r="1.75" fill="#f2f2f8" stroke="#a8a8b8" stroke-width="0.45"/>
<circle cx="132.95" cy="394.10" r="1.75" fill="#f2f2f8" stroke="#a8a8b8" stroke-width="0.45"/>
<circle cx="137.86" cy="394.10" r="1.75" fill="#f2f2f8" stroke="#a8a8b8" stroke-width="0.45"/>
<circle cx="142.77" cy="394.10" r="1.75" fill="#f2f2f8" stroke="#a8a8b8" stroke-width="0.45"/>
<circle cx="147.68" cy="394.10" r="1.75" fill="#f2f2f8" stroke="#a8a8b8" stroke-width="0.45"/>
<circle cx="152.59" cy="394.10" r="1.75" fill="#f2f2f8" stroke="#a8a8b8" stroke-width="0.45"/>
<circle cx="157.50" cy="394.10" r="1.75" fill="#f2f2f8" stroke="#a8a8b8" stroke-width="0.45"/>
<circle cx="103.50" cy="398.81" r="1.75" fill="#f2f2f8" stroke="#a8a8b8" stroke-width="0.45"/>
<circle cx="108.41" cy="398.81" r="1.75" fill="#dc8c6c" stroke="#b46a52" stroke-width="0.45"/>
<circle cx="113.32" cy="398.81" r="1.75" fill="#dc8c6c" stroke="#b46a52" stroke-width="0.45"/>
<circle cx="118.23" cy="398.81" r="1.75" fill="#dc8c6c" stroke="#b46a52" stroke-width="0.45"/>
<circle cx="123.14" cy="398.81" r="1.75" fill="#dc8c6c" stroke="#b46a52" stroke-width="0.45"/>
<circle cx="128.05" cy="398.81" r="1.75" fill="#dc8c6c" stroke="#b46a52" stroke-width="0.45"/>
<circle cx="132.95" cy="398.81" r="1.75" fill="#dc8c6c" stroke="#b46a52" stroke-width="0.45"/>
<circle cx="137.86" cy="398.81" r="1.75" fill="#dc8c6c" stroke="#b46a52" stroke-width="0.45"/>
<circle cx="142.77" cy="398.81" r="1.75" fill="#dc8c6c" stroke="#b46a52" stroke-width="0.45"/>
<circle cx="147.68" cy="398.81" r="1.75" fill="#dc8c6c" stroke="#b46a52" stroke-width="0.45"/>
<circle cx="152.59" cy="398.81" r="1.75" fill="#dc8c6c" stroke="#b46a52" stroke-width="0.45"/>
<circle cx="157.50" cy="398.81" r="1.75" fill="#f2f2f8" stroke="#a8a8b8" stroke-width="0.45"/>
<circle cx="103.50" cy="403.53" r="1.75" fill="#f2f2f8" stroke="#a8a8b8" stroke-width="0.45"/>
<circle cx="108.41" cy="403.53" r="1.75" fill="#dc8c6c" stroke="#b46a52" stroke-width="0.45"/>
<circle cx="113.32" cy="403.53" r="1.75" fill="#dc8c6c" stroke="#b46a52" stroke-width="0.45"/>
<circle cx="118.23" cy="403.53" r="1.75" fill="#dc8c6c" stroke="#b46a52" stroke-width="0.45"/>
<circle cx="123.14" cy="403.53" r="1.75" fill="#dc8c6c" stroke="#b46a52" stroke-width="0.45"/>
<circle cx="128.05" cy="403.53" r="1.75" fill="#dc8c6c" stroke="#b46a52" stroke-width="0.45"/>
<circle cx="132.95" cy="403.53" r="1.75" fill="#dc8c6c" stroke="#b46a52" stroke-width="0.45"/>
<circle cx="137.86" cy="403.53" r="1.75" fill="#dc8c6c" stroke="#b46a52" stroke-width="0.45"/>
<circle cx="142.77" cy="403.53" r="1.75" fill="#dc8c6c" stroke="#b46a52" stroke-width="0.45"/>
<circle cx="147.68" cy="403.53" r="1.75" fill="#dc8c6c" stroke="#b46a52" stroke-width="0.45"/>
<circle cx="152.59" cy="403.53" r="1.75" fill="#dc8c6c" stroke="#b46a52" stroke-width="0.45"/>
<circle cx="157.50" cy="403.53" r="1.75" fill="#f2f2f8" stroke="#a8a8b8" stroke-width="0.45"/>
<circle cx="103.50" cy="408.24" r="1.75" fill="#f2f2f8" stroke="#a8a8b8" stroke-width="0.45"/>
<circle cx="108.41" cy="408.24" r="1.75" fill="#dc8c6c" stroke="#b46a52" stroke-width="0.45"/>
<circle cx="113.32" cy="408.24" r="1.75" fill="#dc8c6c" stroke="#b46a52" stroke-width="0.45"/>
<circle cx="118.23" cy="408.24" r="1.75" fill="#dc8c6c" stroke="#b46a52" stroke-width="0.45"/>
<circle cx="123.14" cy="408.24" r="1.75" fill="#dc8c6c" stroke="#b46a52" stroke-width="0.45"/>
<circle cx="128.05" cy="408.24" r="1.75" fill="#dc8c6c" stroke="#b46a52" stroke-width="0.45"/>
<circle cx="132.95" cy="408.24" r="1.75" fill="#dc8c6c" stroke="#b46a52" stroke-width="0.45"/>
<circle cx="137.86" cy="408.24" r="1.75" fill="#dc8c6c" stroke="#b46a52" stroke-width="0.45"/>
<circle cx="142.77" cy="408.24" r="1.75" fill="#dc8c6c" stroke="#b46a52" stroke-width="0.45"/>
<circle cx="147.68" cy="408.24" r="1.75" fill="#dc8c6c" stroke="#b46a52" stroke-width="0.45"/>
<circle cx="152.59" cy="408.24" r="1.75" fill="#dc8c6c" stroke="#b46a52" stroke-width="0.45"/>
<circle cx="157.50" cy="408.24" r="1.75" fill="#f2f2f8" stroke="#a8a8b8" stroke-width="0.45"/>
<circle cx="103.50" cy="412.96" r="1.75" fill="#f2f2f8" stroke="#a8a8b8" stroke-width="0.45"/>
<circle cx="108.41" cy="412.96" r="1.75" fill="#dc8c6c" stroke="#b46a52" stroke-width="0.45"/>
<circle cx="113.32" cy="412.96" r="1.75" fill="#dc8c6c" stroke="#b46a52" stroke-width="0.45"/>
<circle cx="118.23" cy="412.96" r="1.75" fill="#dc8c6c" stroke="#b46a52" stroke-width="0.45"/>
<circle cx="123.14" cy="412.96" r="1.75" fill="#dc8c6c" stroke="#b46a52" stroke-width="0.45"/>
<circle cx="128.05" cy="412.96" r="1.75" fill="#dc8c6c" stroke="#b46a52" stroke-width="0.45"/>
<circle cx="132.95" cy="412.96" r="1.75" fill="#dc8c6c" stroke="#b46a52" stroke-width="0.45"/>
<circle cx="137.86" cy="412.96" r="1.75" fill="#dc8c6c" stroke="#b46a52" stroke-width="0.45"/>
<circle cx="142.77" cy="412.96" r="1.75" fill="#dc8c6c" stroke="#b46a52" stroke-width="0.45"/>
<circle cx="147.68" cy="412.96" r="1.75" fill="#dc8c6c" stroke="#b46a52" stroke-width="0.45"/>
<circle cx="152.59" cy="412.96" r="1.75" fill="#dc8c6c" stroke="#b46a52" stroke-width="0.45"/>
<circle cx="157.50" cy="412.96" r="1.75" fill="#f2f2f8" stroke="#a8a8b8" stroke-width="0.45"/>
<circle cx="103.50" cy="417.67" r="1.75" fill="#f2f2f8" stroke="#a8a8b8" stroke-width="0.45"/>
<circle cx="108.41" cy="417.67" r="1.75" fill="#dc8c6c" stroke="#b46a52" stroke-width="0.45"/>
<circle cx="113.32" cy="417.67" r="1.75" fill="#dc8c6c" stroke="#b46a52" stroke-width="0.45"/>
<circle cx="118.23" cy="417.67" r="1.75" fill="#dc8c6c" stroke="#b46a52" stroke-width="0.45"/>
<circle cx="123.14" cy="417.67" r="1.75" fill="#dc8c6c" stroke="#b46a52" stroke-width="0.45"/>
<circle cx="128.05" cy="417.67" r="1.75" fill="#dc8c6c" stroke="#b46a52" stroke-width="0.45"/>
<circle cx="132.95" cy="417.67" r="1.75" fill="#dc8c6c" stroke="#b46a52" stroke-width="0.45"/>
<circle cx="137.86" cy="417.67" r="1.75" fill="#dc8c6c" stroke="#b46a52" stroke-width="0.45"/>
<circle cx="142.77" cy="417.67" r="1.75" fill="#dc8c6c" stroke="#b46a52" stroke-width="0.45"/>
<circle cx="147.68" cy="417.67" r="1.75" fill="#dc8c6c" stroke="#b46a52" stroke-width="0.45"/>
<circle cx="152.59" cy="417.67" r="1.75" fill="#dc8c6c" stroke="#b46a52" stroke-width="0.45"/>
<circle cx="157.50" cy="417.67" r="1.75" fill="#f2f2f8" stroke="#a8a8b8" stroke-width="0.45"/>
<circle cx="103.50" cy="422.39" r="1.75" fill="#f2f2f8" stroke="#a8a8b8" stroke-width="0.45"/>
<circle cx="108.41" cy="422.39" r="1.75" fill="#dc8c6c" stroke="#b46a52" stroke-width="0.45"/>
<circle cx="113.32" cy="422.39" r="1.75" fill="#dc8c6c" stroke="#b46a52" stroke-width="0.45"/>
<circle cx="118.23" cy="422.39" r="1.75" fill="#dc8c6c" stroke="#b46a52" stroke-width="0.45"/>
<circle cx="123.14" cy="422.39" r="1.75" fill="#dc8c6c" stroke="#b46a52" stroke-width="0.45"/>
<circle cx="128.05" cy="422.39" r="1.75" fill="#dc8c6c" stroke="#b46a52" stroke-width="0.45"/>
<circle cx="132.95" cy="422.39" r="1.75" fill="#dc8c6c" stroke="#b46a52" stroke-width="0.45"/>
<circle cx="137.86" cy="422.39" r="1.75" fill="#dc8c6c" stroke="#b46a52" stroke-width="0.45"/>
<circle cx="142.77" cy="422.39" r="1.75" fill="#dc8c6c" stroke="#b46a52" stroke-width="0.45"/>
<circle cx="147.68" cy="422.39" r="1.75" fill="#dc8c6c" stroke="#b46a52" stroke-width="0.45"/>
<circle cx="152.59" cy="422.39" r="1.75" fill="#dc8c6c" stroke="#b46a52" stroke-width="0.45"/>
<circle cx="157.50" cy="422.39" r="1.75" fill="#f2f2f8" stroke="#a8a8b8" stroke-width="0.45"/>
<circle cx="103.50" cy="427.10" r="1.75" fill="#f2f2f8" stroke="#a8a8b8" stroke-width="0.45"/>
<circle cx="108.41" cy="427.10" r="1.75" fill="#f2f2f8" stroke="#a8a8b8" stroke-width="0.45"/>
<circle cx="113.32" cy="427.10" r="1.75" fill="#f2f2f8" stroke="#a8a8b8" stroke-width="0.45"/>
<circle cx="118.23" cy="427.10" r="1.75" fill="#f2f2f8" stroke="#a8a8b8" stroke-width="0.45"/>
<circle cx="123.14" cy="427.10" r="1.75" fill="#f2f2f8" stroke="#a8a8b8" stroke-width="0.45"/>
<circle cx="128.05" cy="427.10" r="1.75" fill="#f2f2f8" stroke="#a8a8b8" stroke-width="0.45"/>
<circle cx="132.95" cy="427.10" r="1.75" fill="#f2f2f8" stroke="#a8a8b8" stroke-width="0.45"/>
<circle cx="137.86" cy="427.10" r="1.75" fill="#f2f2f8" stroke="#a8a8b8" stroke-width="0.45"/>
<circle cx="142.77" cy="427.10" r="1.75" fill="#f2f2f8" stroke="#a8a8b8" stroke-width="0.45"/>
<circle cx="147.68" cy="427.10" r="1.75" fill="#f2f2f8" stroke="#a8a8b8" stroke-width="0.45"/>
<circle cx="152.59" cy="427.10" r="1.75" fill="#f2f2f8" stroke="#a8a8b8" stroke-width="0.45"/>
<circle cx="157.50" cy="427.10" r="1.75" fill="#f2f2f8" stroke="#a8a8b8" stroke-width="0.45"/>
<line x1="168.50" y1="410.50" x2="211.50" y2="410.50" stroke="#222" stroke-width="1"/>
<polyline points="185.50,392.50 168.50,403.00 168.50,417.50" stroke="#333" stroke-width="0.9" fill="none"/>
<polyline points="185.50,392.50 177.50,403.00 177.50,417.50" stroke="#333" stroke-width="0.9" fill="none"/>
<polyline points="185.50,392.50 185.50,403.00 185.50,417.50" stroke="#333" stroke-width="0.9" fill="none"/>
<polyline points="185.50,392.50 194.50,403.00 194.50,417.50" stroke="#333" stroke-width="0.9" fill="none"/>
<polyline points="185.50,392.50 203.50,403.00 203.50,417.50" stroke="#333" stroke-width="0.9" fill="none"/>
<line x1="211.50" y1="402.50" x2="211.50" y2="417.50" stroke="#222" stroke-width="1"/>
<text x="168.50" y="428.10" font-size="8.5" text-anchor="middle">1</text>
<text x="177.30" y="428.10" font-size="8.5" text-anchor="middle">2</text>
<text x="185.50" y="428.10" font-size="8.5" text-anchor="middle">3</text>
<text x="194.50" y="428.10" font-size="8.5" text-anchor="middle">4</text>
<text x="203.50" y="428.10" font-size="8.5" text-anchor="middle">5</text>
<text x="211.50" y="428.10" font-size="8.5" text-anchor="middle">6</text>
<text x="178.60" y="391.00" font-size="8.4" textLength="14.20" lengthAdjust="spacingAndGlyphs">GFs</text>
<text x="210.80" y="391.00" font-size="8.4" textLength="51.20" lengthAdjust="spacingAndGlyphs">Clonal lineage</text>
<text x="210.80" y="400.00" font-size="8.4" textLength="27.00" lengthAdjust="spacingAndGlyphs">analysis</text>
<text x="189.70" y="440.70" font-size="9.4" text-anchor="middle" textLength="19.00" lengthAdjust="spacingAndGlyphs">Week</text>
<text x="7.00" y="468.10" font-size="11" font-weight="bold" fill="#111">G</text>
<text x="63.40" y="481.40" font-size="8.4" text-anchor="middle" textLength="10.80" lengthAdjust="spacingAndGlyphs">CB</text>
<text x="149.40" y="481.40" font-size="8.4" text-anchor="middle" textLength="57.00" lengthAdjust="spacingAndGlyphs">Young adult BM</text>
<text x="236.70" y="481.40" font-size="8.4" text-anchor="middle" textLength="53.40" lengthAdjust="spacingAndGlyphs">Aged adult BM</text>
<line x1="66.30" y1="495.50" x2="230.40" y2="495.50" stroke="#333" stroke-width="1"/>
<line x1="66.30" y1="505.50" x2="146.20" y2="505.50" stroke="#333" stroke-width="1"/>
<line x1="156.30" y1="505.50" x2="230.40" y2="505.50" stroke="#333" stroke-width="1"/>
<circle cx="148.60" cy="492.30" r="0.95" fill="#2a2a2a"/>
<circle cx="151.50" cy="492.30" r="0.95" fill="#2a2a2a"/>
<circle cx="154.40" cy="492.30" r="0.95" fill="#2a2a2a"/>
<circle cx="97.60" cy="502.50" r="0.95" fill="#2a2a2a"/>
<circle cx="100.50" cy="502.50" r="0.95" fill="#2a2a2a"/>
<circle cx="103.40" cy="502.50" r="0.95" fill="#2a2a2a"/>
<text x="169.8" y="503.4" font-size="8.6" fill="#333" textLength="25" lengthAdjust="spacingAndGlyphs"><tspan font-style="italic">P</tspan> = .24</text>
<path d="M63.40,552.40L76.36,518.28A36.5,36.5 0 0 1 99.90,552.40Z" fill="#cc0c2e" stroke="#cc0c2e" stroke-width="0.35" stroke-linejoin="round"/>
<path d="M63.40,552.40L99.90,552.40A36.5,36.5 0 0 1 72.23,587.82Z" fill="#d0ced4" stroke="#d0ced4" stroke-width="0.35" stroke-linejoin="round"/>
<path d="M63.40,552.40L72.23,587.82A36.5,36.5 0 0 1 53.34,587.49Z" fill="#f7961a" stroke="#f7961a" stroke-width="0.35" stroke-linejoin="round"/>
<path d="M63.40,552.40L53.34,587.49A36.5,36.5 0 0 1 31.17,535.26Z" fill="#3cae34" stroke="#3cae34" stroke-width="0.35" stroke-linejoin="round"/>
<path d="M63.40,552.40L31.17,535.26A36.5,36.5 0 0 1 76.36,518.28Z" fill="#0f4b84" stroke="#0f4b84" stroke-width="0.35" stroke-linejoin="round"/>
<path d="M149.80,552.40L163.83,518.70A36.5,36.5 0 0 1 149.80,588.90Z" fill="#cc0c2e" stroke="#cc0c2e" stroke-width="0.35" stroke-linejoin="round"/>
<path d="M149.80,552.40L149.80,588.90A36.5,36.5 0 0 1 143.84,588.41Z" fill="#d0ced4" stroke="#d0ced4" stroke-width="0.35" stroke-linejoin="round"/>
<path d="M149.80,552.40L143.84,588.41A36.5,36.5 0 0 1 138.40,587.07Z" fill="#f7961a" stroke="#f7961a" stroke-width="0.35" stroke-linejoin="round"/>
<path d="M149.80,552.40L138.40,587.07A36.5,36.5 0 0 1 114.86,562.95Z" fill="#3cae34" stroke="#3cae34" stroke-width="0.35" stroke-linejoin="round"/>
<path d="M149.80,552.40L114.86,562.95A36.5,36.5 0 0 1 163.83,518.70Z" fill="#0f4b84" stroke="#0f4b84" stroke-width="0.35" stroke-linejoin="round"/>
<path d="M236.60,552.00L239.21,515.59A36.5,36.5 0 1 1 230.51,587.99Z" fill="#cc0c2e" stroke="#cc0c2e" stroke-width="0.35" stroke-linejoin="round"/>
<path d="M236.60,552.00L230.51,587.99A36.5,36.5 0 0 1 229.32,587.77Z" fill="#d0ced4" stroke="#d0ced4" stroke-width="0.35" stroke-linejoin="round"/>
<path d="M236.60,552.00L229.32,587.77A36.5,36.5 0 0 1 215.30,581.64Z" fill="#f7961a" stroke="#f7961a" stroke-width="0.35" stroke-linejoin="round"/>
<path d="M236.60,552.00L215.30,581.64A36.5,36.5 0 0 1 200.15,550.09Z" fill="#3cae34" stroke="#3cae34" stroke-width="0.35" stroke-linejoin="round"/>
<path d="M236.60,552.00L200.15,550.09A36.5,36.5 0 0 1 239.21,515.59Z" fill="#0f4b84" stroke="#0f4b84" stroke-width="0.35" stroke-linejoin="round"/>
<rect x="30.5" y="596.6" width="5.8" height="5.8" fill="#cc0c2e"/>
<text x="40.00" y="602.30" font-size="8.6" textLength="20.50" lengthAdjust="spacingAndGlyphs">Mixed</text>
<rect x="70.8" y="596.6" width="5.8" height="5.8" fill="#3cae34"/>
<text x="79.50" y="602.30" font-size="8.6" textLength="32.50" lengthAdjust="spacingAndGlyphs">Lymphoid</text>
<rect x="122" y="596.6" width="5.8" height="5.8" fill="#f7961a"/>
<text x="130.80" y="602.30" font-size="8.6" textLength="57.70" lengthAdjust="spacingAndGlyphs">Lineage negative</text>
<rect x="198.7" y="596.6" width="5.8" height="5.8" fill="#0f4b84"/>
<text x="208.70" y="602.30" font-size="8.6" textLength="12.10" lengthAdjust="spacingAndGlyphs">NM</text>
<rect x="230.2" y="596.6" width="5.8" height="5.8" fill="#d0ced4"/>
<text x="239.60" y="602.30" font-size="8.6" textLength="29.60" lengthAdjust="spacingAndGlyphs">Transient</text>
<text x="278.80" y="356.30" font-size="11" font-weight="bold" fill="#111">F</text>
<g filter="url(#fb)">
<path d="M360.8 401.5h0.85v0.85h-0.85zM348.7 394.8h0.85v0.85h-0.85zM373.6 430.7h0.85v0.85h-0.85zM372.4 431.4h0.85v0.85h-0.85zM327.6 417.2h0.85v0.85h-0.85zM369.8 421.1h0.85v0.85h-0.85zM365.7 409.9h0.85v0.85h-0.85zM352.0 405.8h0.85v0.85h-0.85zM332.9 444.3h0.85v0.85h-0.85zM348.9 405.2h0.85v0.85h-0.85zM332.8 443.5h0.85v0.85h-0.85zM328.6 435.5h0.85v0.85h-0.85zM369.2 425.7h0.85v0.85h-0.85zM324.8 430.6h0.85v0.85h-0.85zM325.9 432.2h0.85v0.85h-0.85zM328.4 411.0h0.85v0.85h-0.85zM347.4 406.5h0.85v0.85h-0.85zM327.4 421.8h0.85v0.85h-0.85zM330.3 436.8h0.85v0.85h-0.85zM360.8 443.1h0.85v0.85h-0.85zM325.4 429.1h0.85v0.85h-0.85zM336.6 444.5h0.85v0.85h-0.85zM347.6 408.1h0.85v0.85h-0.85zM326.7 423.9h0.85v0.85h-0.85zM368.6 427.4h0.85v0.85h-0.85zM331.3 413.1h0.85v0.85h-0.85zM325.5 425.7h0.85v0.85h-0.85zM325.9 425.4h0.85v0.85h-0.85zM338.4 444.1h0.85v0.85h-0.85zM329.2 420.3h0.85v0.85h-0.85zM332.9 439.4h0.85v0.85h-0.85zM330.9 412.4h0.85v0.85h-0.85zM349.1 444.2h0.85v0.85h-0.85zM333.4 414.3h0.85v0.85h-0.85zM330.7 420.3h0.85v0.85h-0.85zM342.9 444.4h0.85v0.85h-0.85zM364.8 435.2h0.85v0.85h-0.85zM359.3 442.7h0.85v0.85h-0.85zM359.2 442.4h0.85v0.85h-0.85zM350.9 443.9h0.85v0.85h-0.85zM366.5 430.5h0.85v0.85h-0.85zM351.9 444.3h0.85v0.85h-0.85zM352.7 410.4h0.85v0.85h-0.85zM334.3 440.2h0.85v0.85h-0.85zM347.2 443.0h0.85v0.85h-0.85z" fill="#6c5bc8" opacity="0.8"/>
<path d="M327.7 426.5h0.85v0.85h-0.85zM348.4 410.8h0.85v0.85h-0.85zM327.7 429.5h0.85v0.85h-0.85zM332.1 435.2h0.85v0.85h-0.85zM332.3 435.0h0.85v0.85h-0.85zM331.6 434.6h0.85v0.85h-0.85zM336.1 411.5h0.85v0.85h-0.85zM331.1 420.9h0.85v0.85h-0.85zM356.2 410.5h0.85v0.85h-0.85zM355.7 410.3h0.85v0.85h-0.85zM327.0 389.6h0.85v0.85h-0.85zM349.5 411.0h0.85v0.85h-0.85zM342.9 443.6h0.85v0.85h-0.85zM337.0 441.5h0.85v0.85h-0.85zM332.3 420.2h0.85v0.85h-0.85zM334.7 438.7h0.85v0.85h-0.85zM336.5 413.6h0.85v0.85h-0.85zM349.8 442.4h0.85v0.85h-0.85zM355.4 411.5h0.85v0.85h-0.85zM334.5 436.8h0.85v0.85h-0.85zM350.9 411.3h0.85v0.85h-0.85zM328.7 427.9h0.85v0.85h-0.85zM362.1 410.4h0.85v0.85h-0.85zM339.6 410.7h0.85v0.85h-0.85zM330.3 432.2h0.85v0.85h-0.85zM341.2 442.4h0.85v0.85h-0.85zM350.1 411.9h0.85v0.85h-0.85zM343.7 410.8h0.85v0.85h-0.85zM331.3 423.9h0.85v0.85h-0.85zM330.1 409.7h0.85v0.85h-0.85zM344.9 442.0h0.85v0.85h-0.85zM344.8 442.5h0.85v0.85h-0.85zM329.4 430.1h0.85v0.85h-0.85zM351.2 442.8h0.85v0.85h-0.85zM351.9 442.0h0.85v0.85h-0.85zM354.3 442.7h0.85v0.85h-0.85zM342.1 410.1h0.85v0.85h-0.85zM358.7 410.8h0.85v0.85h-0.85zM335.8 439.0h0.85v0.85h-0.85zM366.4 425.0h0.85v0.85h-0.85zM366.8 424.7h0.85v0.85h-0.85zM353.7 442.1h0.85v0.85h-0.85zM337.3 410.0h0.85v0.85h-0.85zM332.8 434.0h0.85v0.85h-0.85zM363.5 436.9h0.85v0.85h-0.85zM343.1 411.0h0.85v0.85h-0.85zM329.3 428.0h0.85v0.85h-0.85zM330.7 426.3h0.85v0.85h-0.85zM334.2 418.4h0.85v0.85h-0.85zM338.9 412.5h0.85v0.85h-0.85zM339.0 441.6h0.85v0.85h-0.85zM359.9 410.6h0.85v0.85h-0.85zM337.5 440.3h0.85v0.85h-0.85zM335.0 416.2h0.85v0.85h-0.85zM362.2 411.6h0.85v0.85h-0.85zM362.5 411.3h0.85v0.85h-0.85zM340.3 441.2h0.85v0.85h-0.85zM340.6 441.7h0.85v0.85h-0.85zM350.1 412.4h0.85v0.85h-0.85zM344.0 441.3h0.85v0.85h-0.85zM344.8 441.3h0.85v0.85h-0.85zM360.8 439.9h0.85v0.85h-0.85zM336.4 436.6h0.85v0.85h-0.85zM330.5 427.8h0.85v0.85h-0.85zM336.9 436.8h0.85v0.85h-0.85zM347.3 413.1h0.85v0.85h-0.85zM344.3 412.4h0.85v0.85h-0.85zM335.0 416.4h0.85v0.85h-0.85zM351.8 440.5h0.85v0.85h-0.85zM346.7 440.6h0.85v0.85h-0.85zM346.5 440.7h0.85v0.85h-0.85zM331.5 430.9h0.85v0.85h-0.85zM337.1 440.1h0.85v0.85h-0.85zM332.2 431.6h0.85v0.85h-0.85zM332.2 431.7h0.85v0.85h-0.85zM334.5 433.9h0.85v0.85h-0.85zM343.2 411.9h0.85v0.85h-0.85zM348.4 412.9h0.85v0.85h-0.85zM351.0 440.0h0.85v0.85h-0.85zM340.2 440.5h0.85v0.85h-0.85zM348.1 440.1h0.85v0.85h-0.85zM334.7 417.8h0.85v0.85h-0.85zM342.1 439.4h0.85v0.85h-0.85zM361.1 411.0h0.85v0.85h-0.85zM331.1 429.8h0.85v0.85h-0.85zM345.4 439.6h0.85v0.85h-0.85zM345.1 439.7h0.85v0.85h-0.85zM337.5 414.6h0.85v0.85h-0.85zM337.8 438.1h0.85v0.85h-0.85zM346.1 439.7h0.85v0.85h-0.85zM350.7 414.2h0.85v0.85h-0.85zM332.0 425.4h0.85v0.85h-0.85zM336.5 415.5h0.85v0.85h-0.85zM336.9 415.8h0.85v0.85h-0.85zM360.7 411.7h0.85v0.85h-0.85zM338.3 438.6h0.85v0.85h-0.85zM365.8 426.5h0.85v0.85h-0.85zM335.1 433.1h0.85v0.85h-0.85zM342.0 407.0h0.85v0.85h-0.85zM353.2 440.5h0.85v0.85h-0.85zM349.1 414.0h0.85v0.85h-0.85zM349.2 414.5h0.85v0.85h-0.85zM335.5 417.9h0.85v0.85h-0.85zM342.2 412.1h0.85v0.85h-0.85zM343.4 394.9h0.85v0.85h-0.85zM337.5 416.1h0.85v0.85h-0.85zM335.1 420.2h0.85v0.85h-0.85zM351.9 415.4h0.85v0.85h-0.85zM336.8 416.6h0.85v0.85h-0.85zM336.2 416.7h0.85v0.85h-0.85zM333.7 422.2h0.85v0.85h-0.85zM341.8 437.6h0.85v0.85h-0.85zM338.9 438.3h0.85v0.85h-0.85zM338.9 438.4h0.85v0.85h-0.85zM332.1 429.0h0.85v0.85h-0.85zM339.9 437.7h0.85v0.85h-0.85zM339.7 438.0h0.85v0.85h-0.85zM343.7 413.3h0.85v0.85h-0.85zM338.8 437.2h0.85v0.85h-0.85zM349.3 437.6h0.85v0.85h-0.85zM349.0 437.8h0.85v0.85h-0.85zM332.0 428.4h0.85v0.85h-0.85zM344.1 414.2h0.85v0.85h-0.85zM336.9 417.4h0.85v0.85h-0.85zM341.3 413.4h0.85v0.85h-0.85zM340.9 412.8h0.85v0.85h-0.85zM346.7 415.4h0.85v0.85h-0.85zM332.6 425.0h0.85v0.85h-0.85zM355.3 441.1h0.85v0.85h-0.85zM354.9 440.9h0.85v0.85h-0.85zM356.5 440.5h0.85v0.85h-0.85zM347.8 437.9h0.85v0.85h-0.85zM341.2 407.2h0.85v0.85h-0.85zM350.0 415.4h0.85v0.85h-0.85zM347.8 414.6h0.85v0.85h-0.85zM333.9 422.6h0.85v0.85h-0.85zM351.3 438.1h0.85v0.85h-0.85zM341.8 413.0h0.85v0.85h-0.85zM333.3 429.1h0.85v0.85h-0.85zM342.0 406.1h0.85v0.85h-0.85zM333.1 428.5h0.85v0.85h-0.85zM365.3 420.4h0.85v0.85h-0.85zM337.1 433.6h0.85v0.85h-0.85zM339.9 415.3h0.85v0.85h-0.85zM340.2 415.3h0.85v0.85h-0.85zM342.5 437.4h0.85v0.85h-0.85zM352.5 416.2h0.85v0.85h-0.85zM336.0 431.8h0.85v0.85h-0.85zM357.5 439.5h0.85v0.85h-0.85zM353.8 438.7h0.85v0.85h-0.85zM333.6 429.1h0.85v0.85h-0.85zM343.8 437.5h0.85v0.85h-0.85zM340.8 436.4h0.85v0.85h-0.85zM339.2 417.9h0.85v0.85h-0.85zM359.7 412.7h0.85v0.85h-0.85zM336.7 420.0h0.85v0.85h-0.85zM333.9 424.9h0.85v0.85h-0.85zM335.6 421.0h0.85v0.85h-0.85zM340.3 435.5h0.85v0.85h-0.85zM348.5 437.0h0.85v0.85h-0.85zM348.4 437.1h0.85v0.85h-0.85zM343.4 389.3h0.85v0.85h-0.85zM360.9 381.0h0.85v0.85h-0.85zM342.6 414.2h0.85v0.85h-0.85zM343.2 413.9h0.85v0.85h-0.85zM339.0 434.7h0.85v0.85h-0.85zM347.1 375.3h0.85v0.85h-0.85zM338.3 419.3h0.85v0.85h-0.85zM335.0 430.4h0.85v0.85h-0.85zM361.8 437.4h0.85v0.85h-0.85zM361.1 436.7h0.85v0.85h-0.85zM334.1 428.6h0.85v0.85h-0.85z" fill="#6153c4" opacity="0.8"/>
<path d="M334.2 426.1h0.85v0.85h-0.85zM333.8 425.6h0.85v0.85h-0.85zM347.3 437.0h0.85v0.85h-0.85zM350.0 416.0h0.85v0.85h-0.85zM355.2 384.3h0.85v0.85h-0.85zM333.9 426.4h0.85v0.85h-0.85zM362.8 416.2h0.85v0.85h-0.85zM357.3 439.8h0.85v0.85h-0.85zM343.6 415.3h0.85v0.85h-0.85zM365.1 421.6h0.85v0.85h-0.85zM338.2 433.4h0.85v0.85h-0.85zM335.6 430.5h0.85v0.85h-0.85zM363.9 432.3h0.85v0.85h-0.85zM340.5 416.6h0.85v0.85h-0.85zM336.1 422.0h0.85v0.85h-0.85zM336.7 421.5h0.85v0.85h-0.85zM336.5 421.4h0.85v0.85h-0.85zM335.0 423.9h0.85v0.85h-0.85zM335.2 424.0h0.85v0.85h-0.85zM336.7 431.4h0.85v0.85h-0.85zM340.4 379.9h0.85v0.85h-0.85zM353.9 438.5h0.85v0.85h-0.85zM343.2 415.0h0.85v0.85h-0.85zM358.6 438.5h0.85v0.85h-0.85zM341.3 416.3h0.85v0.85h-0.85zM351.2 436.7h0.85v0.85h-0.85zM334.7 425.6h0.85v0.85h-0.85zM334.7 426.2h0.85v0.85h-0.85zM352.4 416.7h0.85v0.85h-0.85zM335.9 428.8h0.85v0.85h-0.85zM339.0 420.3h0.85v0.85h-0.85zM362.3 380.3h0.85v0.85h-0.85zM341.1 417.2h0.85v0.85h-0.85zM336.5 430.8h0.85v0.85h-0.85zM351.2 436.5h0.85v0.85h-0.85zM336.1 422.4h0.85v0.85h-0.85zM337.0 421.9h0.85v0.85h-0.85zM343.4 403.7h0.85v0.85h-0.85zM342.1 435.8h0.85v0.85h-0.85zM341.5 415.7h0.85v0.85h-0.85zM338.6 432.8h0.85v0.85h-0.85zM338.7 432.8h0.85v0.85h-0.85zM338.1 432.8h0.85v0.85h-0.85zM335.6 427.9h0.85v0.85h-0.85zM341.3 417.7h0.85v0.85h-0.85zM338.3 421.3h0.85v0.85h-0.85zM341.4 434.3h0.85v0.85h-0.85zM361.4 436.1h0.85v0.85h-0.85zM359.2 438.3h0.85v0.85h-0.85zM364.0 376.2h0.85v0.85h-0.85zM344.3 436.1h0.85v0.85h-0.85zM357.6 413.0h0.85v0.85h-0.85zM349.9 416.7h0.85v0.85h-0.85zM354.3 416.3h0.85v0.85h-0.85zM345.2 436.7h0.85v0.85h-0.85zM340.4 420.2h0.85v0.85h-0.85zM336.4 423.2h0.85v0.85h-0.85zM341.6 416.8h0.85v0.85h-0.85zM342.1 416.9h0.85v0.85h-0.85zM346.3 416.9h0.85v0.85h-0.85zM353.7 436.9h0.85v0.85h-0.85zM353.2 437.0h0.85v0.85h-0.85zM344.2 416.8h0.85v0.85h-0.85zM354.3 438.1h0.85v0.85h-0.85zM355.5 415.2h0.85v0.85h-0.85zM339.6 421.4h0.85v0.85h-0.85zM338.9 421.5h0.85v0.85h-0.85zM352.7 436.3h0.85v0.85h-0.85zM349.2 416.9h0.85v0.85h-0.85zM341.2 419.3h0.85v0.85h-0.85zM356.7 439.3h0.85v0.85h-0.85zM343.8 399.6h0.85v0.85h-0.85zM342.7 417.0h0.85v0.85h-0.85zM337.3 431.3h0.85v0.85h-0.85zM337.8 431.2h0.85v0.85h-0.85zM350.3 435.1h0.85v0.85h-0.85zM330.9 409.0h0.85v0.85h-0.85zM362.8 380.0h0.85v0.85h-0.85zM336.8 423.8h0.85v0.85h-0.85zM349.3 435.0h0.85v0.85h-0.85zM354.3 373.0h0.85v0.85h-0.85zM336.8 408.9h0.85v0.85h-0.85zM341.9 407.5h0.85v0.85h-0.85zM363.7 377.8h0.85v0.85h-0.85zM364.0 377.0h0.85v0.85h-0.85zM330.5 388.3h0.85v0.85h-0.85zM337.0 429.2h0.85v0.85h-0.85zM355.2 438.4h0.85v0.85h-0.85zM338.0 430.6h0.85v0.85h-0.85zM350.7 417.7h0.85v0.85h-0.85zM355.0 373.5h0.85v0.85h-0.85zM343.6 417.8h0.85v0.85h-0.85zM343.3 417.4h0.85v0.85h-0.85zM339.1 432.1h0.85v0.85h-0.85zM339.1 432.1h0.85v0.85h-0.85zM339.0 432.2h0.85v0.85h-0.85zM343.1 434.6h0.85v0.85h-0.85zM342.4 434.8h0.85v0.85h-0.85zM343.1 434.9h0.85v0.85h-0.85zM352.2 435.1h0.85v0.85h-0.85zM346.7 398.3h0.85v0.85h-0.85zM344.8 435.2h0.85v0.85h-0.85zM345.0 435.7h0.85v0.85h-0.85zM344.2 435.3h0.85v0.85h-0.85zM341.1 421.6h0.85v0.85h-0.85zM337.8 428.7h0.85v0.85h-0.85zM337.5 428.5h0.85v0.85h-0.85zM364.4 420.0h0.85v0.85h-0.85zM328.8 405.9h0.85v0.85h-0.85zM343.2 418.7h0.85v0.85h-0.85zM345.9 435.6h0.85v0.85h-0.85zM353.7 418.0h0.85v0.85h-0.85zM345.3 417.9h0.85v0.85h-0.85zM340.2 422.0h0.85v0.85h-0.85zM362.2 416.0h0.85v0.85h-0.85zM340.5 380.2h0.85v0.85h-0.85zM337.7 425.1h0.85v0.85h-0.85zM337.2 425.1h0.85v0.85h-0.85zM337.6 427.7h0.85v0.85h-0.85zM337.8 427.3h0.85v0.85h-0.85zM351.7 434.8h0.85v0.85h-0.85zM351.4 434.8h0.85v0.85h-0.85zM343.0 419.4h0.85v0.85h-0.85zM343.1 419.7h0.85v0.85h-0.85zM343.3 434.2h0.85v0.85h-0.85zM326.8 403.1h0.85v0.85h-0.85zM337.6 426.5h0.85v0.85h-0.85zM337.2 425.3h0.85v0.85h-0.85zM341.7 421.6h0.85v0.85h-0.85zM356.0 414.8h0.85v0.85h-0.85zM356.2 415.4h0.85v0.85h-0.85zM340.8 421.7h0.85v0.85h-0.85zM342.5 420.5h0.85v0.85h-0.85zM341.2 432.0h0.85v0.85h-0.85zM352.5 434.1h0.85v0.85h-0.85zM352.8 374.0h0.85v0.85h-0.85zM362.4 375.5h0.85v0.85h-0.85zM348.5 434.2h0.85v0.85h-0.85zM343.8 419.6h0.85v0.85h-0.85zM342.9 432.7h0.85v0.85h-0.85zM343.2 432.9h0.85v0.85h-0.85zM343.0 433.0h0.85v0.85h-0.85zM337.7 383.4h0.85v0.85h-0.85zM347.6 434.9h0.85v0.85h-0.85zM345.4 434.3h0.85v0.85h-0.85zM342.1 431.9h0.85v0.85h-0.85zM341.5 431.4h0.85v0.85h-0.85zM351.0 433.7h0.85v0.85h-0.85zM352.0 433.8h0.85v0.85h-0.85zM343.9 420.2h0.85v0.85h-0.85zM343.5 420.7h0.85v0.85h-0.85zM364.4 422.9h0.85v0.85h-0.85zM353.1 418.4h0.85v0.85h-0.85zM338.3 425.8h0.85v0.85h-0.85zM338.5 426.0h0.85v0.85h-0.85zM338.2 426.8h0.85v0.85h-0.85zM341.0 430.9h0.85v0.85h-0.85zM341.0 431.2h0.85v0.85h-0.85zM343.0 422.0h0.85v0.85h-0.85zM355.8 436.8h0.85v0.85h-0.85zM331.9 387.5h0.85v0.85h-0.85zM354.6 383.3h0.85v0.85h-0.85zM344.8 433.7h0.85v0.85h-0.85zM344.7 419.8h0.85v0.85h-0.85zM344.9 419.6h0.85v0.85h-0.85zM358.2 437.2h0.85v0.85h-0.85zM342.4 378.6h0.85v0.85h-0.85zM344.0 387.2h0.85v0.85h-0.85zM343.9 422.4h0.85v0.85h-0.85zM354.1 435.8h0.85v0.85h-0.85zM363.1 376.9h0.85v0.85h-0.85zM355.3 436.3h0.85v0.85h-0.85zM341.8 423.0h0.85v0.85h-0.85zM345.6 433.4h0.85v0.85h-0.85zM345.4 433.5h0.85v0.85h-0.85zM339.4 425.0h0.85v0.85h-0.85zM339.3 424.6h0.85v0.85h-0.85zM339.7 429.5h0.85v0.85h-0.85zM340.3 429.2h0.85v0.85h-0.85zM340.3 424.2h0.85v0.85h-0.85zM341.6 405.2h0.85v0.85h-0.85zM352.0 419.2h0.85v0.85h-0.85zM351.6 419.1h0.85v0.85h-0.85zM344.7 432.6h0.85v0.85h-0.85zM348.0 433.2h0.85v0.85h-0.85zM344.2 419.9h0.85v0.85h-0.85zM340.6 430.1h0.85v0.85h-0.85zM361.2 375.5h0.85v0.85h-0.85zM338.9 382.0h0.85v0.85h-0.85zM339.1 427.4h0.85v0.85h-0.85zM339.0 427.3h0.85v0.85h-0.85zM342.9 431.0h0.85v0.85h-0.85zM343.1 431.1h0.85v0.85h-0.85zM347.2 418.3h0.85v0.85h-0.85zM347.6 418.1h0.85v0.85h-0.85zM347.1 418.8h0.85v0.85h-0.85zM346.7 433.8h0.85v0.85h-0.85zM346.7 433.5h0.85v0.85h-0.85zM347.6 433.6h0.85v0.85h-0.85zM347.8 418.1h0.85v0.85h-0.85zM347.9 418.7h0.85v0.85h-0.85zM356.0 382.6h0.85v0.85h-0.85zM351.1 432.9h0.85v0.85h-0.85zM351.2 419.2h0.85v0.85h-0.85zM344.5 422.1h0.85v0.85h-0.85zM339.8 404.7h0.85v0.85h-0.85zM330.4 407.3h0.85v0.85h-0.85zM330.5 406.9h0.85v0.85h-0.85zM340.9 380.2h0.85v0.85h-0.85z" fill="#564bc0" opacity="0.8"/>
<path d="M338.3 383.2h0.85v0.85h-0.85zM361.4 415.7h0.85v0.85h-0.85zM360.3 434.2h0.85v0.85h-0.85zM360.4 434.3h0.85v0.85h-0.85zM360.4 414.9h0.85v0.85h-0.85zM342.0 430.3h0.85v0.85h-0.85zM350.1 432.9h0.85v0.85h-0.85zM349.8 432.4h0.85v0.85h-0.85zM340.8 423.6h0.85v0.85h-0.85zM352.5 432.9h0.85v0.85h-0.85zM362.4 379.1h0.85v0.85h-0.85zM362.1 378.6h0.85v0.85h-0.85zM344.6 422.6h0.85v0.85h-0.85zM341.1 428.8h0.85v0.85h-0.85zM341.4 428.9h0.85v0.85h-0.85zM362.9 440.4h0.85v0.85h-0.85zM344.6 430.6h0.85v0.85h-0.85zM345.8 420.3h0.85v0.85h-0.85zM339.7 425.0h0.85v0.85h-0.85zM340.3 424.4h0.85v0.85h-0.85zM340.3 425.1h0.85v0.85h-0.85zM349.8 419.4h0.85v0.85h-0.85zM345.8 432.0h0.85v0.85h-0.85zM348.7 433.1h0.85v0.85h-0.85zM348.9 432.8h0.85v0.85h-0.85zM346.1 432.8h0.85v0.85h-0.85zM342.4 429.9h0.85v0.85h-0.85zM345.3 421.3h0.85v0.85h-0.85zM346.4 419.2h0.85v0.85h-0.85zM342.2 424.3h0.85v0.85h-0.85zM360.2 374.8h0.85v0.85h-0.85zM340.5 427.1h0.85v0.85h-0.85zM347.6 432.4h0.85v0.85h-0.85zM347.6 433.1h0.85v0.85h-0.85zM346.9 432.7h0.85v0.85h-0.85zM343.5 430.0h0.85v0.85h-0.85zM357.8 436.3h0.85v0.85h-0.85zM357.8 436.3h0.85v0.85h-0.85zM357.7 436.3h0.85v0.85h-0.85zM351.1 420.3h0.85v0.85h-0.85zM352.3 420.0h0.85v0.85h-0.85zM348.5 419.0h0.85v0.85h-0.85zM348.6 419.0h0.85v0.85h-0.85zM341.5 429.1h0.85v0.85h-0.85zM342.0 428.8h0.85v0.85h-0.85zM358.1 415.3h0.85v0.85h-0.85zM339.7 426.6h0.85v0.85h-0.85zM340.0 426.3h0.85v0.85h-0.85zM347.4 419.5h0.85v0.85h-0.85zM347.5 419.5h0.85v0.85h-0.85zM342.6 388.7h0.85v0.85h-0.85zM354.8 374.2h0.85v0.85h-0.85zM350.3 432.0h0.85v0.85h-0.85zM346.2 431.8h0.85v0.85h-0.85zM346.6 422.8h0.85v0.85h-0.85zM346.5 421.9h0.85v0.85h-0.85zM346.4 420.4h0.85v0.85h-0.85zM346.6 420.5h0.85v0.85h-0.85zM347.8 419.8h0.85v0.85h-0.85zM347.8 419.6h0.85v0.85h-0.85zM347.9 419.4h0.85v0.85h-0.85zM341.1 425.0h0.85v0.85h-0.85zM340.6 425.0h0.85v0.85h-0.85zM345.3 423.9h0.85v0.85h-0.85zM346.4 420.8h0.85v0.85h-0.85zM356.6 381.1h0.85v0.85h-0.85zM351.8 382.8h0.85v0.85h-0.85zM359.9 415.0h0.85v0.85h-0.85zM349.8 420.4h0.85v0.85h-0.85zM349.8 420.7h0.85v0.85h-0.85zM340.3 405.8h0.85v0.85h-0.85zM346.7 423.8h0.85v0.85h-0.85zM347.6 432.0h0.85v0.85h-0.85zM347.2 432.0h0.85v0.85h-0.85zM347.2 423.0h0.85v0.85h-0.85zM350.2 376.0h0.85v0.85h-0.85zM361.9 377.9h0.85v0.85h-0.85zM362.0 377.7h0.85v0.85h-0.85zM350.9 421.2h0.85v0.85h-0.85zM351.7 421.1h0.85v0.85h-0.85zM351.9 420.8h0.85v0.85h-0.85zM346.7 430.5h0.85v0.85h-0.85zM341.0 389.4h0.85v0.85h-0.85zM347.3 422.1h0.85v0.85h-0.85zM352.7 409.0h0.85v0.85h-0.85zM347.9 431.5h0.85v0.85h-0.85zM347.4 420.5h0.85v0.85h-0.85zM347.3 420.7h0.85v0.85h-0.85zM341.5 425.1h0.85v0.85h-0.85zM341.6 424.7h0.85v0.85h-0.85zM349.1 420.7h0.85v0.85h-0.85zM347.7 422.6h0.85v0.85h-0.85zM341.7 427.9h0.85v0.85h-0.85zM342.2 428.4h0.85v0.85h-0.85zM338.9 383.0h0.85v0.85h-0.85zM359.5 434.9h0.85v0.85h-0.85zM347.3 421.6h0.85v0.85h-0.85zM340.6 425.6h0.85v0.85h-0.85zM349.7 422.4h0.85v0.85h-0.85zM350.3 422.5h0.85v0.85h-0.85zM348.5 421.9h0.85v0.85h-0.85zM349.1 422.7h0.85v0.85h-0.85zM348.1 420.2h0.85v0.85h-0.85zM344.4 429.4h0.85v0.85h-0.85zM348.6 422.1h0.85v0.85h-0.85zM350.3 422.9h0.85v0.85h-0.85zM350.3 423.1h0.85v0.85h-0.85zM341.4 426.2h0.85v0.85h-0.85zM341.1 426.2h0.85v0.85h-0.85zM351.2 430.8h0.85v0.85h-0.85zM361.4 375.7h0.85v0.85h-0.85zM361.2 376.3h0.85v0.85h-0.85zM348.8 421.2h0.85v0.85h-0.85zM343.2 424.5h0.85v0.85h-0.85zM352.8 421.3h0.85v0.85h-0.85zM353.4 432.2h0.85v0.85h-0.85zM348.3 421.1h0.85v0.85h-0.85zM345.7 424.4h0.85v0.85h-0.85zM345.2 424.8h0.85v0.85h-0.85zM334.8 386.0h0.85v0.85h-0.85zM343.8 424.9h0.85v0.85h-0.85zM344.0 424.8h0.85v0.85h-0.85zM352.9 430.6h0.85v0.85h-0.85zM347.4 431.3h0.85v0.85h-0.85zM347.5 431.2h0.85v0.85h-0.85zM346.1 430.3h0.85v0.85h-0.85zM350.9 430.8h0.85v0.85h-0.85zM350.8 430.8h0.85v0.85h-0.85zM350.5 431.4h0.85v0.85h-0.85zM350.5 431.3h0.85v0.85h-0.85zM341.1 381.4h0.85v0.85h-0.85zM356.9 435.2h0.85v0.85h-0.85zM356.6 435.5h0.85v0.85h-0.85zM330.8 389.0h0.85v0.85h-0.85zM344.3 386.6h0.85v0.85h-0.85zM342.1 425.8h0.85v0.85h-0.85zM341.5 425.9h0.85v0.85h-0.85zM347.1 424.8h0.85v0.85h-0.85zM347.3 424.9h0.85v0.85h-0.85zM354.1 381.8h0.85v0.85h-0.85zM354.0 382.7h0.85v0.85h-0.85zM348.1 431.3h0.85v0.85h-0.85zM344.1 428.1h0.85v0.85h-0.85zM343.5 428.6h0.85v0.85h-0.85zM346.9 376.9h0.85v0.85h-0.85zM351.2 423.7h0.85v0.85h-0.85zM349.4 431.1h0.85v0.85h-0.85zM351.9 423.1h0.85v0.85h-0.85zM337.1 406.7h0.85v0.85h-0.85zM344.2 428.0h0.85v0.85h-0.85zM346.3 428.9h0.85v0.85h-0.85zM336.8 385.2h0.85v0.85h-0.85zM352.1 422.1h0.85v0.85h-0.85zM344.5 425.3h0.85v0.85h-0.85zM359.1 434.7h0.85v0.85h-0.85zM349.4 424.5h0.85v0.85h-0.85zM348.6 424.9h0.85v0.85h-0.85zM344.1 425.8h0.85v0.85h-0.85zM343.7 426.0h0.85v0.85h-0.85zM343.8 425.9h0.85v0.85h-0.85zM345.6 428.0h0.85v0.85h-0.85zM346.1 426.0h0.85v0.85h-0.85zM355.7 434.6h0.85v0.85h-0.85zM355.9 434.2h0.85v0.85h-0.85zM355.4 433.4h0.85v0.85h-0.85zM355.0 434.0h0.85v0.85h-0.85zM360.1 378.9h0.85v0.85h-0.85zM360.3 376.0h0.85v0.85h-0.85zM342.5 426.2h0.85v0.85h-0.85zM343.2 426.4h0.85v0.85h-0.85zM330.0 406.4h0.85v0.85h-0.85zM343.4 427.6h0.85v0.85h-0.85zM343.9 427.3h0.85v0.85h-0.85zM343.8 427.0h0.85v0.85h-0.85zM344.1 427.6h0.85v0.85h-0.85zM343.8 427.1h0.85v0.85h-0.85zM360.4 432.6h0.85v0.85h-0.85zM351.2 424.1h0.85v0.85h-0.85zM350.9 430.3h0.85v0.85h-0.85zM350.4 429.8h0.85v0.85h-0.85zM353.4 381.9h0.85v0.85h-0.85zM344.3 427.4h0.85v0.85h-0.85zM347.6 426.1h0.85v0.85h-0.85zM347.9 430.1h0.85v0.85h-0.85zM343.6 426.9h0.85v0.85h-0.85zM344.0 426.6h0.85v0.85h-0.85zM344.1 426.7h0.85v0.85h-0.85zM354.3 431.9h0.85v0.85h-0.85zM356.1 418.0h0.85v0.85h-0.85zM344.1 426.6h0.85v0.85h-0.85zM358.2 416.3h0.85v0.85h-0.85zM345.6 426.8h0.85v0.85h-0.85zM345.7 426.8h0.85v0.85h-0.85zM345.7 426.9h0.85v0.85h-0.85zM346.7 428.0h0.85v0.85h-0.85zM347.2 429.5h0.85v0.85h-0.85zM357.8 434.5h0.85v0.85h-0.85zM349.2 430.3h0.85v0.85h-0.85zM349.0 430.5h0.85v0.85h-0.85zM350.3 383.4h0.85v0.85h-0.85zM346.7 427.2h0.85v0.85h-0.85zM353.4 430.4h0.85v0.85h-0.85zM357.4 416.7h0.85v0.85h-0.85zM346.8 426.4h0.85v0.85h-0.85zM355.5 433.0h0.85v0.85h-0.85zM355.2 433.0h0.85v0.85h-0.85zM337.9 385.2h0.85v0.85h-0.85zM337.5 384.7h0.85v0.85h-0.85zM337.2 384.8h0.85v0.85h-0.85zM347.6 428.0h0.85v0.85h-0.85zM356.9 375.5h0.85v0.85h-0.85zM357.2 375.6h0.85v0.85h-0.85zM350.3 425.9h0.85v0.85h-0.85zM349.6 426.0h0.85v0.85h-0.85zM335.6 386.2h0.85v0.85h-0.85zM356.2 433.8h0.85v0.85h-0.85zM350.5 429.4h0.85v0.85h-0.85zM346.1 384.6h0.85v0.85h-0.85zM346.0 384.9h0.85v0.85h-0.85zM352.3 428.9h0.85v0.85h-0.85zM346.9 427.3h0.85v0.85h-0.85zM347.3 427.5h0.85v0.85h-0.85zM360.8 377.5h0.85v0.85h-0.85zM360.9 377.6h0.85v0.85h-0.85zM360.9 377.1h0.85v0.85h-0.85zM360.8 377.4h0.85v0.85h-0.85zM357.2 380.5h0.85v0.85h-0.85zM360.7 408.6h0.85v0.85h-0.85zM348.6 428.8h0.85v0.85h-0.85zM352.2 424.3h0.85v0.85h-0.85zM347.9 426.7h0.85v0.85h-0.85zM348.4 426.5h0.85v0.85h-0.85zM348.4 426.2h0.85v0.85h-0.85zM349.8 429.1h0.85v0.85h-0.85zM350.3 429.1h0.85v0.85h-0.85zM355.3 381.5h0.85v0.85h-0.85zM354.4 420.9h0.85v0.85h-0.85zM348.4 428.3h0.85v0.85h-0.85zM347.8 428.2h0.85v0.85h-0.85zM347.9 428.1h0.85v0.85h-0.85zM348.2 427.9h0.85v0.85h-0.85zM349.2 426.7h0.85v0.85h-0.85zM348.6 426.3h0.85v0.85h-0.85zM349.2 426.3h0.85v0.85h-0.85zM342.3 387.1h0.85v0.85h-0.85zM355.3 431.7h0.85v0.85h-0.85zM349.7 426.9h0.85v0.85h-0.85zM349.5 426.5h0.85v0.85h-0.85zM349.7 426.6h0.85v0.85h-0.85zM351.8 428.2h0.85v0.85h-0.85zM349.3 428.2h0.85v0.85h-0.85zM353.5 429.5h0.85v0.85h-0.85zM362.2 427.1h0.85v0.85h-0.85zM349.7 428.5h0.85v0.85h-0.85zM331.4 389.9h0.85v0.85h-0.85zM344.4 386.0h0.85v0.85h-0.85zM349.1 427.2h0.85v0.85h-0.85zM348.7 427.0h0.85v0.85h-0.85zM348.6 427.0h0.85v0.85h-0.85zM355.7 432.3h0.85v0.85h-0.85zM350.7 427.5h0.85v0.85h-0.85zM352.4 428.1h0.85v0.85h-0.85zM349.8 427.3h0.85v0.85h-0.85zM349.8 427.8h0.85v0.85h-0.85zM350.0 427.7h0.85v0.85h-0.85zM350.3 427.5h0.85v0.85h-0.85zM349.9 427.4h0.85v0.85h-0.85zM351.7 427.5h0.85v0.85h-0.85zM351.4 427.1h0.85v0.85h-0.85z" fill="#4c46bf" opacity="0.8"/>
<path d="M352.3 376.0h0.85v0.85h-0.85zM357.5 416.6h0.85v0.85h-0.85zM362.0 422.0h0.85v0.85h-0.85zM359.6 376.5h0.85v0.85h-0.85zM362.0 426.9h0.85v0.85h-0.85zM342.8 386.8h0.85v0.85h-0.85zM359.5 416.7h0.85v0.85h-0.85zM357.4 417.8h0.85v0.85h-0.85zM337.0 385.9h0.85v0.85h-0.85zM351.2 382.2h0.85v0.85h-0.85zM350.8 382.0h0.85v0.85h-0.85zM327.5 395.4h0.85v0.85h-0.85zM355.6 430.6h0.85v0.85h-0.85zM355.6 431.1h0.85v0.85h-0.85zM352.3 425.2h0.85v0.85h-0.85zM342.2 396.9h0.85v0.85h-0.85zM362.6 424.8h0.85v0.85h-0.85zM350.5 377.1h0.85v0.85h-0.85zM350.9 377.0h0.85v0.85h-0.85zM352.4 427.6h0.85v0.85h-0.85zM346.9 377.5h0.85v0.85h-0.85zM352.2 426.2h0.85v0.85h-0.85zM353.4 423.5h0.85v0.85h-0.85zM353.2 427.9h0.85v0.85h-0.85zM345.6 378.9h0.85v0.85h-0.85zM345.1 378.7h0.85v0.85h-0.85zM329.3 393.1h0.85v0.85h-0.85zM342.1 386.3h0.85v0.85h-0.85zM341.6 382.5h0.85v0.85h-0.85zM337.5 385.7h0.85v0.85h-0.85zM353.0 376.5h0.85v0.85h-0.85zM355.5 420.8h0.85v0.85h-0.85zM339.6 389.1h0.85v0.85h-0.85zM359.0 377.3h0.85v0.85h-0.85zM359.2 377.3h0.85v0.85h-0.85zM330.5 405.6h0.85v0.85h-0.85zM349.9 382.4h0.85v0.85h-0.85zM339.9 389.3h0.85v0.85h-0.85zM338.6 385.4h0.85v0.85h-0.85zM358.6 378.0h0.85v0.85h-0.85zM358.8 377.9h0.85v0.85h-0.85zM355.6 429.8h0.85v0.85h-0.85zM355.0 429.9h0.85v0.85h-0.85zM341.1 387.1h0.85v0.85h-0.85zM341.2 386.9h0.85v0.85h-0.85zM357.3 375.6h0.85v0.85h-0.85zM356.7 376.0h0.85v0.85h-0.85zM357.4 376.0h0.85v0.85h-0.85zM353.6 424.8h0.85v0.85h-0.85zM348.1 377.8h0.85v0.85h-0.85zM348.4 378.0h0.85v0.85h-0.85zM360.2 419.0h0.85v0.85h-0.85zM354.1 422.7h0.85v0.85h-0.85zM346.3 384.1h0.85v0.85h-0.85zM346.1 384.4h0.85v0.85h-0.85zM353.2 427.3h0.85v0.85h-0.85zM358.3 417.7h0.85v0.85h-0.85zM327.6 402.1h0.85v0.85h-0.85zM340.7 385.1h0.85v0.85h-0.85zM358.8 431.7h0.85v0.85h-0.85zM343.1 385.6h0.85v0.85h-0.85zM358.3 378.5h0.85v0.85h-0.85zM357.7 379.0h0.85v0.85h-0.85zM358.1 378.4h0.85v0.85h-0.85zM340.9 385.9h0.85v0.85h-0.85zM340.2 387.4h0.85v0.85h-0.85zM339.8 386.5h0.85v0.85h-0.85zM343.5 380.7h0.85v0.85h-0.85zM343.9 380.6h0.85v0.85h-0.85zM333.0 388.1h0.85v0.85h-0.85zM333.0 388.8h0.85v0.85h-0.85zM341.8 383.2h0.85v0.85h-0.85zM356.5 376.1h0.85v0.85h-0.85zM353.7 426.6h0.85v0.85h-0.85zM353.1 426.2h0.85v0.85h-0.85zM355.0 376.2h0.85v0.85h-0.85zM336.6 387.3h0.85v0.85h-0.85zM358.8 417.8h0.85v0.85h-0.85zM358.2 377.0h0.85v0.85h-0.85zM354.2 428.3h0.85v0.85h-0.85zM360.2 430.0h0.85v0.85h-0.85zM339.5 386.3h0.85v0.85h-0.85zM348.8 382.1h0.85v0.85h-0.85zM342.3 383.9h0.85v0.85h-0.85zM342.1 384.4h0.85v0.85h-0.85zM352.4 376.6h0.85v0.85h-0.85zM352.7 377.1h0.85v0.85h-0.85zM342.0 384.5h0.85v0.85h-0.85zM341.9 384.9h0.85v0.85h-0.85zM354.7 380.8h0.85v0.85h-0.85zM347.2 383.1h0.85v0.85h-0.85zM357.7 377.4h0.85v0.85h-0.85zM336.5 386.7h0.85v0.85h-0.85zM343.6 384.7h0.85v0.85h-0.85zM344.0 385.2h0.85v0.85h-0.85zM343.5 385.0h0.85v0.85h-0.85zM356.1 380.0h0.85v0.85h-0.85zM338.2 386.7h0.85v0.85h-0.85zM338.0 386.3h0.85v0.85h-0.85zM343.1 384.6h0.85v0.85h-0.85zM342.4 384.5h0.85v0.85h-0.85zM334.7 388.7h0.85v0.85h-0.85zM338.9 387.5h0.85v0.85h-0.85zM353.3 380.1h0.85v0.85h-0.85zM357.4 378.8h0.85v0.85h-0.85zM357.0 378.4h0.85v0.85h-0.85zM345.7 379.9h0.85v0.85h-0.85zM347.6 378.7h0.85v0.85h-0.85zM347.0 378.9h0.85v0.85h-0.85zM347.2 379.0h0.85v0.85h-0.85zM353.3 377.1h0.85v0.85h-0.85zM353.5 377.0h0.85v0.85h-0.85zM353.4 377.2h0.85v0.85h-0.85zM353.6 376.5h0.85v0.85h-0.85zM343.1 383.4h0.85v0.85h-0.85zM343.0 383.5h0.85v0.85h-0.85zM352.5 380.2h0.85v0.85h-0.85zM355.2 423.2h0.85v0.85h-0.85zM343.5 381.6h0.85v0.85h-0.85zM344.0 381.0h0.85v0.85h-0.85zM349.7 381.1h0.85v0.85h-0.85zM342.6 383.8h0.85v0.85h-0.85zM342.5 384.3h0.85v0.85h-0.85zM339.1 388.2h0.85v0.85h-0.85zM337.3 388.7h0.85v0.85h-0.85zM337.0 388.9h0.85v0.85h-0.85zM360.8 429.1h0.85v0.85h-0.85zM348.2 382.5h0.85v0.85h-0.85zM348.1 382.6h0.85v0.85h-0.85zM348.3 382.3h0.85v0.85h-0.85zM359.2 418.9h0.85v0.85h-0.85zM344.8 380.8h0.85v0.85h-0.85zM344.6 380.6h0.85v0.85h-0.85zM346.4 383.0h0.85v0.85h-0.85zM346.1 383.4h0.85v0.85h-0.85zM355.3 379.5h0.85v0.85h-0.85zM339.6 389.2h0.85v0.85h-0.85zM351.4 380.5h0.85v0.85h-0.85zM356.5 376.9h0.85v0.85h-0.85zM355.8 377.2h0.85v0.85h-0.85zM354.2 425.6h0.85v0.85h-0.85zM354.3 425.2h0.85v0.85h-0.85zM343.2 384.1h0.85v0.85h-0.85zM343.9 384.1h0.85v0.85h-0.85zM347.9 378.4h0.85v0.85h-0.85zM347.8 378.8h0.85v0.85h-0.85zM335.8 388.8h0.85v0.85h-0.85zM349.3 378.8h0.85v0.85h-0.85zM349.3 378.7h0.85v0.85h-0.85zM338.3 387.2h0.85v0.85h-0.85zM357.0 430.2h0.85v0.85h-0.85zM354.9 376.6h0.85v0.85h-0.85zM355.0 377.2h0.85v0.85h-0.85zM334.2 388.7h0.85v0.85h-0.85zM349.8 378.9h0.85v0.85h-0.85zM352.9 378.1h0.85v0.85h-0.85zM355.9 378.8h0.85v0.85h-0.85zM356.2 378.5h0.85v0.85h-0.85zM350.9 380.1h0.85v0.85h-0.85zM343.8 382.1h0.85v0.85h-0.85zM332.7 410.2h0.85v0.85h-0.85zM349.3 381.1h0.85v0.85h-0.85zM335.6 387.8h0.85v0.85h-0.85zM336.0 387.8h0.85v0.85h-0.85z" fill="#4546c1" opacity="0.8"/>
<path d="M345.3 382.8h0.85v0.85h-0.85zM345.0 382.8h0.85v0.85h-0.85zM345.4 383.1h0.85v0.85h-0.85zM355.0 423.7h0.85v0.85h-0.85zM360.9 421.0h0.85v0.85h-0.85zM352.0 379.1h0.85v0.85h-0.85zM355.7 378.2h0.85v0.85h-0.85zM356.1 377.4h0.85v0.85h-0.85zM353.4 379.5h0.85v0.85h-0.85zM353.4 379.6h0.85v0.85h-0.85zM353.5 379.7h0.85v0.85h-0.85zM352.9 380.0h0.85v0.85h-0.85zM352.6 379.4h0.85v0.85h-0.85zM352.3 379.3h0.85v0.85h-0.85zM352.0 379.4h0.85v0.85h-0.85zM340.8 396.1h0.85v0.85h-0.85zM350.4 379.2h0.85v0.85h-0.85zM351.0 379.3h0.85v0.85h-0.85zM350.9 379.6h0.85v0.85h-0.85zM353.7 378.1h0.85v0.85h-0.85zM353.0 377.7h0.85v0.85h-0.85zM345.0 381.4h0.85v0.85h-0.85zM344.2 381.1h0.85v0.85h-0.85zM344.4 381.2h0.85v0.85h-0.85zM344.4 381.0h0.85v0.85h-0.85zM337.1 387.8h0.85v0.85h-0.85zM345.4 380.6h0.85v0.85h-0.85zM345.6 380.1h0.85v0.85h-0.85zM345.2 380.2h0.85v0.85h-0.85zM354.8 379.0h0.85v0.85h-0.85zM355.5 378.9h0.85v0.85h-0.85zM354.9 378.3h0.85v0.85h-0.85zM344.3 404.2h0.85v0.85h-0.85zM352.7 378.3h0.85v0.85h-0.85zM349.9 379.5h0.85v0.85h-0.85zM349.9 379.6h0.85v0.85h-0.85zM355.6 377.5h0.85v0.85h-0.85zM346.9 379.1h0.85v0.85h-0.85zM348.4 381.2h0.85v0.85h-0.85zM331.4 391.8h0.85v0.85h-0.85zM339.0 391.4h0.85v0.85h-0.85zM346.2 382.5h0.85v0.85h-0.85zM354.0 378.5h0.85v0.85h-0.85zM348.6 379.2h0.85v0.85h-0.85zM348.8 379.6h0.85v0.85h-0.85zM349.4 380.3h0.85v0.85h-0.85zM348.2 379.7h0.85v0.85h-0.85zM338.8 391.5h0.85v0.85h-0.85zM345.1 382.0h0.85v0.85h-0.85zM345.9 382.0h0.85v0.85h-0.85zM357.3 428.9h0.85v0.85h-0.85zM356.7 429.5h0.85v0.85h-0.85zM356.6 428.9h0.85v0.85h-0.85zM346.1 380.7h0.85v0.85h-0.85zM346.2 380.4h0.85v0.85h-0.85zM355.7 428.6h0.85v0.85h-0.85zM348.3 380.4h0.85v0.85h-0.85zM348.3 380.5h0.85v0.85h-0.85zM355.2 426.4h0.85v0.85h-0.85zM360.5 426.9h0.85v0.85h-0.85zM337.0 389.0h0.85v0.85h-0.85zM347.2 380.1h0.85v0.85h-0.85zM346.6 380.9h0.85v0.85h-0.85zM334.7 388.8h0.85v0.85h-0.85zM335.0 388.1h0.85v0.85h-0.85zM359.4 421.2h0.85v0.85h-0.85zM335.7 389.7h0.85v0.85h-0.85zM338.3 389.0h0.85v0.85h-0.85zM338.1 389.4h0.85v0.85h-0.85zM341.4 399.1h0.85v0.85h-0.85zM362.0 411.7h0.85v0.85h-0.85zM325.1 401.7h0.85v0.85h-0.85zM357.6 422.3h0.85v0.85h-0.85zM355.6 412.5h0.85v0.85h-0.85zM355.9 425.0h0.85v0.85h-0.85zM365.4 430.2h0.85v0.85h-0.85zM329.3 388.3h0.85v0.85h-0.85zM355.8 426.5h0.85v0.85h-0.85zM357.6 428.4h0.85v0.85h-0.85zM331.4 409.7h0.85v0.85h-0.85zM328.1 391.0h0.85v0.85h-0.85zM358.7 427.0h0.85v0.85h-0.85zM358.6 423.7h0.85v0.85h-0.85zM355.7 441.3h0.85v0.85h-0.85zM329.3 395.1h0.85v0.85h-0.85zM363.7 415.8h0.85v0.85h-0.85zM335.2 389.5h0.85v0.85h-0.85zM334.4 388.9h0.85v0.85h-0.85zM356.7 426.1h0.85v0.85h-0.85zM358.8 424.8h0.85v0.85h-0.85z" fill="#3d46c4" opacity="0.8"/>
<path d="M358.1 424.6h0.85v0.85h-0.85zM336.3 389.8h0.85v0.85h-0.85zM336.8 389.7h0.85v0.85h-0.85zM338.7 403.7h0.85v0.85h-0.85zM335.2 389.2h0.85v0.85h-0.85zM337.9 390.6h0.85v0.85h-0.85zM333.7 391.4h0.85v0.85h-0.85zM343.4 403.8h0.85v0.85h-0.85zM334.3 389.9h0.85v0.85h-0.85zM325.1 399.9h0.85v0.85h-0.85zM362.6 437.2h0.85v0.85h-0.85zM331.2 393.5h0.85v0.85h-0.85zM336.7 390.6h0.85v0.85h-0.85zM333.4 391.1h0.85v0.85h-0.85zM334.4 402.8h0.85v0.85h-0.85zM331.8 393.2h0.85v0.85h-0.85zM336.1 390.0h0.85v0.85h-0.85zM336.9 408.4h0.85v0.85h-0.85zM333.6 408.5h0.85v0.85h-0.85zM336.3 391.6h0.85v0.85h-0.85zM326.2 395.4h0.85v0.85h-0.85zM337.4 392.7h0.85v0.85h-0.85z" fill="#3546c6" opacity="0.8"/>
<path d="M342.6 405.0h0.85v0.85h-0.85zM330.2 408.1h0.85v0.85h-0.85zM334.4 392.1h0.85v0.85h-0.85zM364.1 417.5h0.85v0.85h-0.85zM333.7 401.6h0.85v0.85h-0.85zM337.2 391.9h0.85v0.85h-0.85zM337.1 391.5h0.85v0.85h-0.85zM332.9 393.1h0.85v0.85h-0.85zM334.5 390.9h0.85v0.85h-0.85zM361.2 437.1h0.85v0.85h-0.85zM363.0 433.7h0.85v0.85h-0.85zM364.8 428.7h0.85v0.85h-0.85zM357.2 440.1h0.85v0.85h-0.85zM327.7 392.5h0.85v0.85h-0.85zM341.7 392.9h0.85v0.85h-0.85zM326.0 396.3h0.85v0.85h-0.85zM337.2 394.0h0.85v0.85h-0.85zM332.9 403.1h0.85v0.85h-0.85zM335.3 403.1h0.85v0.85h-0.85zM365.0 422.9h0.85v0.85h-0.85zM342.2 404.9h0.85v0.85h-0.85zM331.9 408.1h0.85v0.85h-0.85zM335.7 391.6h0.85v0.85h-0.85z" fill="#3352cb" opacity="0.8"/>
<path d="M364.6 424.5h0.85v0.85h-0.85zM362.5 434.7h0.85v0.85h-0.85zM363.8 430.6h0.85v0.85h-0.85zM330.0 407.4h0.85v0.85h-0.85zM354.6 415.5h0.85v0.85h-0.85zM343.2 400.6h0.85v0.85h-0.85zM336.4 393.6h0.85v0.85h-0.85zM331.4 396.0h0.85v0.85h-0.85zM325.6 399.6h0.85v0.85h-0.85zM334.1 393.6h0.85v0.85h-0.85zM359.8 413.1h0.85v0.85h-0.85zM361.4 413.9h0.85v0.85h-0.85zM352.8 418.1h0.85v0.85h-0.85zM364.0 430.5h0.85v0.85h-0.85zM334.9 394.1h0.85v0.85h-0.85zM338.5 396.0h0.85v0.85h-0.85zM340.7 405.2h0.85v0.85h-0.85zM340.6 405.3h0.85v0.85h-0.85zM357.3 414.4h0.85v0.85h-0.85z" fill="#366ad3"/>
<path d="M364.2 429.4h0.85v0.85h-0.85zM359.9 437.2h0.85v0.85h-0.85zM328.0 403.2h0.85v0.85h-0.85zM330.2 390.6h0.85v0.85h-0.85zM356.2 438.1h0.85v0.85h-0.85zM357.0 437.7h0.85v0.85h-0.85zM332.9 401.9h0.85v0.85h-0.85zM331.9 400.8h0.85v0.85h-0.85zM335.2 394.9h0.85v0.85h-0.85zM341.3 393.1h0.85v0.85h-0.85zM338.8 406.1h0.85v0.85h-0.85zM364.3 425.5h0.85v0.85h-0.85zM364.4 426.1h0.85v0.85h-0.85zM362.7 432.7h0.85v0.85h-0.85zM327.5 395.0h0.85v0.85h-0.85zM364.2 423.8h0.85v0.85h-0.85zM329.6 392.2h0.85v0.85h-0.85zM336.6 406.8h0.85v0.85h-0.85z" fill="#3982da"/>
<path d="M358.3 437.5h0.85v0.85h-0.85zM327.1 401.3h0.85v0.85h-0.85zM352.8 419.6h0.85v0.85h-0.85zM336.2 399.8h0.85v0.85h-0.85zM340.6 403.5h0.85v0.85h-0.85zM363.4 430.3h0.85v0.85h-0.85zM326.6 397.3h0.85v0.85h-0.85zM356.3 415.7h0.85v0.85h-0.85zM341.8 400.5h0.85v0.85h-0.85zM341.6 400.7h0.85v0.85h-0.85zM340.7 393.7h0.85v0.85h-0.85zM328.7 393.4h0.85v0.85h-0.85zM361.7 416.1h0.85v0.85h-0.85zM360.4 415.2h0.85v0.85h-0.85zM360.3 414.9h0.85v0.85h-0.85zM359.0 435.9h0.85v0.85h-0.85zM358.4 436.3h0.85v0.85h-0.85zM352.9 432.9h0.85v0.85h-0.85zM331.3 389.8h0.85v0.85h-0.85zM362.5 417.9h0.85v0.85h-0.85zM356.2 436.1h0.85v0.85h-0.85zM359.4 435.5h0.85v0.85h-0.85zM360.0 435.8h0.85v0.85h-0.85zM363.1 420.0h0.85v0.85h-0.85zM363.5 420.6h0.85v0.85h-0.85z" fill="#3c99e0"/>
<path d="M326.7 399.3h0.85v0.85h-0.85zM359.5 415.4h0.85v0.85h-0.85zM337.4 406.3h0.85v0.85h-0.85zM363.4 421.3h0.85v0.85h-0.85zM363.1 421.4h0.85v0.85h-0.85zM358.8 414.6h0.85v0.85h-0.85zM360.2 433.3h0.85v0.85h-0.85zM361.9 418.5h0.85v0.85h-0.85zM353.9 419.6h0.85v0.85h-0.85zM354.3 419.2h0.85v0.85h-0.85zM356.4 435.1h0.85v0.85h-0.85zM362.6 430.7h0.85v0.85h-0.85zM362.1 431.0h0.85v0.85h-0.85zM350.8 422.1h0.85v0.85h-0.85zM361.2 416.9h0.85v0.85h-0.85zM339.4 390.4h0.85v0.85h-0.85zM332.3 406.0h0.85v0.85h-0.85zM357.4 415.5h0.85v0.85h-0.85zM356.8 435.3h0.85v0.85h-0.85zM356.8 435.5h0.85v0.85h-0.85z" fill="#3cacdd"/>
<path d="M339.0 391.4h0.85v0.85h-0.85zM336.6 405.8h0.85v0.85h-0.85zM331.9 389.8h0.85v0.85h-0.85zM339.8 403.1h0.85v0.85h-0.85zM362.4 419.2h0.85v0.85h-0.85zM362.4 430.1h0.85v0.85h-0.85zM362.2 429.7h0.85v0.85h-0.85zM353.7 420.8h0.85v0.85h-0.85zM360.0 433.4h0.85v0.85h-0.85zM359.3 433.4h0.85v0.85h-0.85zM360.5 432.8h0.85v0.85h-0.85zM354.3 420.7h0.85v0.85h-0.85zM361.7 417.6h0.85v0.85h-0.85zM351.0 425.2h0.85v0.85h-0.85zM341.0 395.2h0.85v0.85h-0.85zM329.3 393.5h0.85v0.85h-0.85zM335.4 406.1h0.85v0.85h-0.85zM359.4 416.0h0.85v0.85h-0.85zM359.3 415.8h0.85v0.85h-0.85zM356.9 434.6h0.85v0.85h-0.85zM328.0 401.0h0.85v0.85h-0.85zM333.5 406.1h0.85v0.85h-0.85zM334.9 406.0h0.85v0.85h-0.85zM361.9 429.2h0.85v0.85h-0.85zM331.1 405.5h0.85v0.85h-0.85zM356.9 416.7h0.85v0.85h-0.85zM358.6 415.8h0.85v0.85h-0.85zM359.0 416.2h0.85v0.85h-0.85zM358.7 415.8h0.85v0.85h-0.85zM355.4 433.0h0.85v0.85h-0.85zM354.9 432.3h0.85v0.85h-0.85zM328.1 396.9h0.85v0.85h-0.85zM340.0 393.9h0.85v0.85h-0.85z" fill="#3cbed9"/>
<path d="M353.6 422.3h0.85v0.85h-0.85zM355.8 434.0h0.85v0.85h-0.85zM359.0 433.4h0.85v0.85h-0.85zM350.9 425.9h0.85v0.85h-0.85zM361.5 431.3h0.85v0.85h-0.85zM328.5 395.9h0.85v0.85h-0.85zM340.1 402.6h0.85v0.85h-0.85zM359.8 432.3h0.85v0.85h-0.85zM359.6 432.6h0.85v0.85h-0.85zM329.4 403.7h0.85v0.85h-0.85zM329.2 403.3h0.85v0.85h-0.85zM357.0 433.4h0.85v0.85h-0.85zM356.8 433.7h0.85v0.85h-0.85zM357.6 433.4h0.85v0.85h-0.85zM337.5 405.7h0.85v0.85h-0.85zM355.4 431.8h0.85v0.85h-0.85zM351.2 428.3h0.85v0.85h-0.85zM327.3 398.0h0.85v0.85h-0.85zM353.6 429.5h0.85v0.85h-0.85zM362.6 427.6h0.85v0.85h-0.85zM361.9 427.1h0.85v0.85h-0.85zM353.4 422.5h0.85v0.85h-0.85zM356.4 432.7h0.85v0.85h-0.85zM356.2 432.9h0.85v0.85h-0.85zM356.2 432.6h0.85v0.85h-0.85zM356.5 432.5h0.85v0.85h-0.85zM352.6 428.4h0.85v0.85h-0.85zM351.3 426.9h0.85v0.85h-0.85zM341.3 399.5h0.85v0.85h-0.85zM357.6 416.9h0.85v0.85h-0.85zM357.5 417.2h0.85v0.85h-0.85zM361.9 422.2h0.85v0.85h-0.85zM362.3 426.6h0.85v0.85h-0.85zM362.6 426.3h0.85v0.85h-0.85zM359.5 416.7h0.85v0.85h-0.85zM359.3 417.0h0.85v0.85h-0.85zM357.0 417.9h0.85v0.85h-0.85zM361.0 430.0h0.85v0.85h-0.85zM361.4 430.3h0.85v0.85h-0.85z" fill="#3acbd0"/>
<path d="M362.5 422.8h0.85v0.85h-0.85zM362.1 423.1h0.85v0.85h-0.85zM362.3 425.6h0.85v0.85h-0.85zM338.9 392.7h0.85v0.85h-0.85zM329.3 394.4h0.85v0.85h-0.85zM362.5 424.3h0.85v0.85h-0.85zM354.5 422.4h0.85v0.85h-0.85zM354.0 422.4h0.85v0.85h-0.85zM361.8 419.8h0.85v0.85h-0.85zM352.2 427.7h0.85v0.85h-0.85zM336.0 389.5h0.85v0.85h-0.85zM358.7 416.8h0.85v0.85h-0.85zM358.8 417.1h0.85v0.85h-0.85zM337.3 390.0h0.85v0.85h-0.85zM340.7 399.2h0.85v0.85h-0.85zM356.1 419.6h0.85v0.85h-0.85zM355.7 432.0h0.85v0.85h-0.85zM341.3 398.6h0.85v0.85h-0.85zM359.6 432.2h0.85v0.85h-0.85zM359.6 432.1h0.85v0.85h-0.85zM360.0 431.8h0.85v0.85h-0.85zM336.3 405.0h0.85v0.85h-0.85zM360.9 431.2h0.85v0.85h-0.85zM360.2 431.1h0.85v0.85h-0.85zM360.2 430.8h0.85v0.85h-0.85zM340.2 401.5h0.85v0.85h-0.85zM333.8 390.1h0.85v0.85h-0.85zM333.8 389.8h0.85v0.85h-0.85zM355.6 421.0h0.85v0.85h-0.85zM361.1 429.3h0.85v0.85h-0.85zM361.2 429.5h0.85v0.85h-0.85zM353.4 424.9h0.85v0.85h-0.85zM361.5 420.4h0.85v0.85h-0.85zM360.8 418.7h0.85v0.85h-0.85zM360.1 418.2h0.85v0.85h-0.85zM354.1 422.6h0.85v0.85h-0.85zM333.0 405.4h0.85v0.85h-0.85zM357.3 431.9h0.85v0.85h-0.85zM357.1 431.9h0.85v0.85h-0.85zM357.7 417.3h0.85v0.85h-0.85zM359.6 418.1h0.85v0.85h-0.85zM360.0 417.2h0.85v0.85h-0.85zM359.7 417.4h0.85v0.85h-0.85z" fill="#35c6b0"/>
<path d="M332.8 391.0h0.85v0.85h-0.85zM329.6 402.7h0.85v0.85h-0.85zM329.5 402.8h0.85v0.85h-0.85zM353.5 426.1h0.85v0.85h-0.85zM335.8 405.2h0.85v0.85h-0.85zM335.1 390.1h0.85v0.85h-0.85zM331.1 392.6h0.85v0.85h-0.85zM361.2 428.4h0.85v0.85h-0.85zM328.5 400.9h0.85v0.85h-0.85zM332.5 392.0h0.85v0.85h-0.85zM335.7 390.6h0.85v0.85h-0.85zM335.9 390.0h0.85v0.85h-0.85zM334.0 405.2h0.85v0.85h-0.85zM333.8 405.4h0.85v0.85h-0.85zM361.5 421.3h0.85v0.85h-0.85zM361.1 421.3h0.85v0.85h-0.85zM361.1 421.5h0.85v0.85h-0.85zM360.3 430.3h0.85v0.85h-0.85zM360.3 429.9h0.85v0.85h-0.85zM360.8 429.7h0.85v0.85h-0.85zM359.4 431.0h0.85v0.85h-0.85zM359.3 431.2h0.85v0.85h-0.85zM334.4 405.3h0.85v0.85h-0.85zM330.3 403.5h0.85v0.85h-0.85zM339.1 403.0h0.85v0.85h-0.85zM338.9 402.8h0.85v0.85h-0.85zM339.3 393.8h0.85v0.85h-0.85zM338.8 393.6h0.85v0.85h-0.85zM328.5 397.2h0.85v0.85h-0.85zM337.2 404.1h0.85v0.85h-0.85zM339.7 395.3h0.85v0.85h-0.85zM354.4 424.1h0.85v0.85h-0.85zM354.7 424.2h0.85v0.85h-0.85zM361.5 427.1h0.85v0.85h-0.85zM357.2 419.6h0.85v0.85h-0.85zM356.8 419.8h0.85v0.85h-0.85zM339.9 400.7h0.85v0.85h-0.85zM360.8 419.7h0.85v0.85h-0.85zM356.6 430.9h0.85v0.85h-0.85zM357.2 431.1h0.85v0.85h-0.85zM356.6 431.3h0.85v0.85h-0.85zM361.0 422.5h0.85v0.85h-0.85zM338.1 403.5h0.85v0.85h-0.85zM338.5 403.9h0.85v0.85h-0.85zM357.9 418.3h0.85v0.85h-0.85zM357.9 418.4h0.85v0.85h-0.85zM356.4 421.6h0.85v0.85h-0.85zM355.9 421.0h0.85v0.85h-0.85zM359.4 418.5h0.85v0.85h-0.85zM360.1 418.2h0.85v0.85h-0.85zM358.3 430.9h0.85v0.85h-0.85zM359.0 430.8h0.85v0.85h-0.85zM358.7 430.9h0.85v0.85h-0.85zM361.3 422.7h0.85v0.85h-0.85z" fill="#2fc090"/>
<path d="M353.9 427.4h0.85v0.85h-0.85zM357.8 431.4h0.85v0.85h-0.85zM361.8 423.6h0.85v0.85h-0.85zM361.4 424.3h0.85v0.85h-0.85zM334.1 391.0h0.85v0.85h-0.85zM361.2 425.5h0.85v0.85h-0.85zM361.7 425.6h0.85v0.85h-0.85zM361.5 425.3h0.85v0.85h-0.85zM328.6 398.0h0.85v0.85h-0.85zM328.3 398.4h0.85v0.85h-0.85zM328.9 398.2h0.85v0.85h-0.85zM328.2 397.9h0.85v0.85h-0.85zM328.7 398.3h0.85v0.85h-0.85zM361.5 424.5h0.85v0.85h-0.85zM361.3 424.4h0.85v0.85h-0.85zM355.6 422.9h0.85v0.85h-0.85zM355.3 422.8h0.85v0.85h-0.85zM336.4 390.9h0.85v0.85h-0.85zM338.5 392.6h0.85v0.85h-0.85zM358.8 418.5h0.85v0.85h-0.85zM358.9 418.6h0.85v0.85h-0.85zM358.9 418.4h0.85v0.85h-0.85zM358.9 418.7h0.85v0.85h-0.85zM359.2 418.8h0.85v0.85h-0.85zM330.5 394.6h0.85v0.85h-0.85zM328.4 399.0h0.85v0.85h-0.85zM328.9 398.8h0.85v0.85h-0.85zM360.5 420.2h0.85v0.85h-0.85zM356.7 420.4h0.85v0.85h-0.85zM356.9 419.9h0.85v0.85h-0.85zM353.9 426.4h0.85v0.85h-0.85zM359.3 429.6h0.85v0.85h-0.85zM359.7 429.7h0.85v0.85h-0.85zM354.5 425.4h0.85v0.85h-0.85zM355.6 428.5h0.85v0.85h-0.85zM340.4 396.8h0.85v0.85h-0.85zM339.9 396.7h0.85v0.85h-0.85zM340.0 396.6h0.85v0.85h-0.85zM329.5 401.9h0.85v0.85h-0.85zM356.9 430.3h0.85v0.85h-0.85zM356.6 430.4h0.85v0.85h-0.85zM340.2 399.6h0.85v0.85h-0.85zM355.7 422.5h0.85v0.85h-0.85zM357.6 419.6h0.85v0.85h-0.85zM358.1 419.3h0.85v0.85h-0.85zM357.7 419.6h0.85v0.85h-0.85zM358.3 419.2h0.85v0.85h-0.85zM358.3 419.5h0.85v0.85h-0.85zM359.9 419.2h0.85v0.85h-0.85zM335.7 391.0h0.85v0.85h-0.85zM335.6 391.4h0.85v0.85h-0.85zM336.6 404.8h0.85v0.85h-0.85zM336.4 404.0h0.85v0.85h-0.85zM336.9 404.7h0.85v0.85h-0.85zM336.3 404.8h0.85v0.85h-0.85zM333.1 391.7h0.85v0.85h-0.85zM331.5 393.9h0.85v0.85h-0.85zM331.5 393.6h0.85v0.85h-0.85zM360.7 428.1h0.85v0.85h-0.85zM360.7 427.9h0.85v0.85h-0.85zM355.1 424.0h0.85v0.85h-0.85zM360.4 421.4h0.85v0.85h-0.85zM360.9 420.9h0.85v0.85h-0.85zM360.6 420.8h0.85v0.85h-0.85zM360.4 421.2h0.85v0.85h-0.85zM360.5 421.1h0.85v0.85h-0.85zM338.8 401.7h0.85v0.85h-0.85zM339.0 401.3h0.85v0.85h-0.85z" fill="#2abb70"/>
<path d="M358.7 430.2h0.85v0.85h-0.85zM358.5 429.9h0.85v0.85h-0.85zM358.7 419.2h0.85v0.85h-0.85zM358.9 419.3h0.85v0.85h-0.85zM339.0 394.2h0.85v0.85h-0.85zM338.9 394.6h0.85v0.85h-0.85zM357.8 430.0h0.85v0.85h-0.85zM357.6 430.0h0.85v0.85h-0.85zM358.0 429.8h0.85v0.85h-0.85zM358.3 430.3h0.85v0.85h-0.85zM331.8 392.9h0.85v0.85h-0.85zM332.2 393.1h0.85v0.85h-0.85zM356.9 420.9h0.85v0.85h-0.85zM357.1 421.4h0.85v0.85h-0.85zM356.9 421.2h0.85v0.85h-0.85zM354.8 427.3h0.85v0.85h-0.85zM355.3 427.8h0.85v0.85h-0.85zM339.8 398.8h0.85v0.85h-0.85zM339.7 398.8h0.85v0.85h-0.85zM339.8 398.9h0.85v0.85h-0.85zM339.8 399.2h0.85v0.85h-0.85zM340.2 399.1h0.85v0.85h-0.85zM360.3 422.1h0.85v0.85h-0.85zM360.8 421.8h0.85v0.85h-0.85zM360.5 422.0h0.85v0.85h-0.85zM360.3 422.3h0.85v0.85h-0.85zM360.5 422.3h0.85v0.85h-0.85zM330.5 402.3h0.85v0.85h-0.85zM330.4 402.9h0.85v0.85h-0.85zM330.3 402.7h0.85v0.85h-0.85zM330.9 403.8h0.85v0.85h-0.85zM357.6 420.4h0.85v0.85h-0.85zM358.2 420.5h0.85v0.85h-0.85zM357.5 420.1h0.85v0.85h-0.85zM359.5 420.1h0.85v0.85h-0.85zM359.2 420.5h0.85v0.85h-0.85zM359.7 420.6h0.85v0.85h-0.85zM356.1 422.7h0.85v0.85h-0.85zM333.2 404.7h0.85v0.85h-0.85zM333.3 404.6h0.85v0.85h-0.85zM355.3 424.5h0.85v0.85h-0.85zM355.5 425.1h0.85v0.85h-0.85zM340.3 398.3h0.85v0.85h-0.85zM337.9 403.5h0.85v0.85h-0.85zM337.5 403.7h0.85v0.85h-0.85zM337.3 403.8h0.85v0.85h-0.85zM338.4 402.2h0.85v0.85h-0.85zM338.1 402.3h0.85v0.85h-0.85zM360.8 423.0h0.85v0.85h-0.85zM357.2 429.5h0.85v0.85h-0.85zM356.6 428.9h0.85v0.85h-0.85zM336.4 391.7h0.85v0.85h-0.85zM336.9 392.1h0.85v0.85h-0.85zM336.4 391.7h0.85v0.85h-0.85zM356.2 428.3h0.85v0.85h-0.85zM358.5 420.4h0.85v0.85h-0.85zM358.4 420.4h0.85v0.85h-0.85zM329.6 400.6h0.85v0.85h-0.85zM329.6 400.7h0.85v0.85h-0.85zM329.5 400.4h0.85v0.85h-0.85zM354.9 426.8h0.85v0.85h-0.85zM355.4 426.9h0.85v0.85h-0.85zM354.8 426.9h0.85v0.85h-0.85zM355.4 426.1h0.85v0.85h-0.85zM357.4 422.1h0.85v0.85h-0.85zM356.8 421.8h0.85v0.85h-0.85zM360.9 426.8h0.85v0.85h-0.85zM360.8 426.3h0.85v0.85h-0.85zM360.4 423.5h0.85v0.85h-0.85zM355.0 425.4h0.85v0.85h-0.85zM355.4 425.9h0.85v0.85h-0.85zM355.6 425.8h0.85v0.85h-0.85zM330.3 395.7h0.85v0.85h-0.85zM330.6 395.8h0.85v0.85h-0.85zM333.7 391.8h0.85v0.85h-0.85zM360.6 424.9h0.85v0.85h-0.85zM359.7 421.1h0.85v0.85h-0.85zM360.9 425.6h0.85v0.85h-0.85zM360.3 425.9h0.85v0.85h-0.85zM360.4 426.0h0.85v0.85h-0.85z" fill="#34bb5c"/>
<path d="M329.9 397.6h0.85v0.85h-0.85zM329.3 397.7h0.85v0.85h-0.85zM329.5 397.7h0.85v0.85h-0.85zM358.0 421.0h0.85v0.85h-0.85zM357.9 421.0h0.85v0.85h-0.85zM358.2 421.4h0.85v0.85h-0.85zM357.9 421.4h0.85v0.85h-0.85zM358.3 421.1h0.85v0.85h-0.85zM358.6 429.1h0.85v0.85h-0.85zM359.1 429.2h0.85v0.85h-0.85zM334.1 404.0h0.85v0.85h-0.85zM334.0 404.2h0.85v0.85h-0.85zM335.1 404.2h0.85v0.85h-0.85zM335.0 404.2h0.85v0.85h-0.85zM337.0 392.5h0.85v0.85h-0.85zM358.1 429.3h0.85v0.85h-0.85zM358.3 428.8h0.85v0.85h-0.85zM356.2 423.6h0.85v0.85h-0.85zM359.3 428.6h0.85v0.85h-0.85zM360.1 428.2h0.85v0.85h-0.85zM360.0 427.9h0.85v0.85h-0.85zM359.1 421.0h0.85v0.85h-0.85zM358.5 421.5h0.85v0.85h-0.85zM359.1 421.0h0.85v0.85h-0.85zM359.4 421.8h0.85v0.85h-0.85zM359.7 421.9h0.85v0.85h-0.85zM357.3 423.4h0.85v0.85h-0.85zM356.1 427.3h0.85v0.85h-0.85zM356.2 427.2h0.85v0.85h-0.85zM355.7 427.1h0.85v0.85h-0.85zM339.0 395.4h0.85v0.85h-0.85zM338.9 395.4h0.85v0.85h-0.85zM329.2 399.6h0.85v0.85h-0.85zM329.2 399.6h0.85v0.85h-0.85zM329.4 400.0h0.85v0.85h-0.85zM329.1 400.3h0.85v0.85h-0.85zM357.9 421.8h0.85v0.85h-0.85zM357.2 428.5h0.85v0.85h-0.85zM332.9 393.2h0.85v0.85h-0.85zM332.7 392.9h0.85v0.85h-0.85zM333.2 393.3h0.85v0.85h-0.85zM333.3 393.0h0.85v0.85h-0.85zM329.4 398.4h0.85v0.85h-0.85zM329.4 398.0h0.85v0.85h-0.85zM329.5 398.1h0.85v0.85h-0.85zM329.4 398.1h0.85v0.85h-0.85zM359.4 422.8h0.85v0.85h-0.85zM359.7 423.0h0.85v0.85h-0.85zM359.7 422.5h0.85v0.85h-0.85zM356.2 424.8h0.85v0.85h-0.85zM356.3 425.1h0.85v0.85h-0.85zM356.3 424.3h0.85v0.85h-0.85zM355.7 424.8h0.85v0.85h-0.85zM358.4 422.3h0.85v0.85h-0.85zM359.0 422.3h0.85v0.85h-0.85zM359.2 427.8h0.85v0.85h-0.85zM359.9 427.8h0.85v0.85h-0.85zM359.8 427.0h0.85v0.85h-0.85zM359.9 427.3h0.85v0.85h-0.85zM359.4 427.6h0.85v0.85h-0.85zM359.4 427.2h0.85v0.85h-0.85zM359.7 427.5h0.85v0.85h-0.85zM329.1 399.3h0.85v0.85h-0.85zM329.5 399.3h0.85v0.85h-0.85zM329.7 399.1h0.85v0.85h-0.85zM329.7 399.1h0.85v0.85h-0.85zM332.3 394.0h0.85v0.85h-0.85zM331.7 393.4h0.85v0.85h-0.85zM331.9 403.3h0.85v0.85h-0.85zM331.7 403.7h0.85v0.85h-0.85zM332.4 403.1h0.85v0.85h-0.85zM332.2 403.8h0.85v0.85h-0.85zM358.8 428.3h0.85v0.85h-0.85zM359.2 427.9h0.85v0.85h-0.85zM330.6 401.5h0.85v0.85h-0.85z" fill="#4ac050"/>
<path d="M336.1 403.5h0.85v0.85h-0.85zM336.2 403.4h0.85v0.85h-0.85zM336.6 403.8h0.85v0.85h-0.85zM356.4 426.5h0.85v0.85h-0.85zM355.7 426.4h0.85v0.85h-0.85zM356.4 426.5h0.85v0.85h-0.85zM359.9 424.0h0.85v0.85h-0.85zM359.5 424.2h0.85v0.85h-0.85zM359.5 423.6h0.85v0.85h-0.85zM358.0 428.0h0.85v0.85h-0.85zM357.4 428.7h0.85v0.85h-0.85zM356.1 425.8h0.85v0.85h-0.85zM356.5 425.6h0.85v0.85h-0.85zM356.1 425.3h0.85v0.85h-0.85zM357.1 423.8h0.85v0.85h-0.85zM357.2 423.8h0.85v0.85h-0.85zM357.5 423.4h0.85v0.85h-0.85zM358.3 422.6h0.85v0.85h-0.85zM359.7 426.6h0.85v0.85h-0.85zM359.8 426.9h0.85v0.85h-0.85zM359.4 426.9h0.85v0.85h-0.85zM358.6 423.1h0.85v0.85h-0.85zM358.4 422.8h0.85v0.85h-0.85zM360.0 425.0h0.85v0.85h-0.85zM359.5 424.8h0.85v0.85h-0.85zM359.7 424.9h0.85v0.85h-0.85zM330.2 396.2h0.85v0.85h-0.85zM330.3 396.1h0.85v0.85h-0.85zM330.6 396.8h0.85v0.85h-0.85zM330.0 396.0h0.85v0.85h-0.85zM359.3 425.5h0.85v0.85h-0.85zM359.8 425.9h0.85v0.85h-0.85zM359.9 425.8h0.85v0.85h-0.85zM359.5 425.9h0.85v0.85h-0.85zM331.7 402.2h0.85v0.85h-0.85zM331.0 402.8h0.85v0.85h-0.85zM331.6 402.6h0.85v0.85h-0.85zM356.8 427.2h0.85v0.85h-0.85zM357.4 427.0h0.85v0.85h-0.85zM356.9 427.2h0.85v0.85h-0.85zM336.5 393.1h0.85v0.85h-0.85zM337.7 402.2h0.85v0.85h-0.85zM337.2 402.8h0.85v0.85h-0.85zM337.0 402.2h0.85v0.85h-0.85zM339.6 399.7h0.85v0.85h-0.85zM358.4 427.1h0.85v0.85h-0.85zM358.4 423.8h0.85v0.85h-0.85zM358.3 423.8h0.85v0.85h-0.85zM358.7 424.2h0.85v0.85h-0.85zM359.1 423.4h0.85v0.85h-0.85zM358.4 423.5h0.85v0.85h-0.85zM357.4 424.5h0.85v0.85h-0.85zM356.7 424.5h0.85v0.85h-0.85zM358.2 423.7h0.85v0.85h-0.85zM357.9 423.6h0.85v0.85h-0.85zM357.7 423.9h0.85v0.85h-0.85zM337.9 395.0h0.85v0.85h-0.85zM339.0 396.8h0.85v0.85h-0.85zM357.6 427.4h0.85v0.85h-0.85zM358.1 427.3h0.85v0.85h-0.85zM357.8 427.7h0.85v0.85h-0.85zM358.0 427.0h0.85v0.85h-0.85zM357.6 427.7h0.85v0.85h-0.85zM334.2 393.3h0.85v0.85h-0.85zM333.8 392.6h0.85v0.85h-0.85zM356.7 426.8h0.85v0.85h-0.85zM356.6 427.0h0.85v0.85h-0.85zM357.4 426.4h0.85v0.85h-0.85zM357.0 426.4h0.85v0.85h-0.85zM356.7 426.1h0.85v0.85h-0.85zM357.2 425.7h0.85v0.85h-0.85z" fill="#5fc545"/>
<path d="M358.9 424.6h0.85v0.85h-0.85zM359.2 424.8h0.85v0.85h-0.85zM359.0 424.4h0.85v0.85h-0.85zM337.6 393.7h0.85v0.85h-0.85zM335.7 403.2h0.85v0.85h-0.85zM335.7 403.5h0.85v0.85h-0.85zM335.7 403.3h0.85v0.85h-0.85zM335.7 403.6h0.85v0.85h-0.85zM359.0 426.4h0.85v0.85h-0.85zM358.6 426.7h0.85v0.85h-0.85zM359.2 426.3h0.85v0.85h-0.85zM359.0 427.0h0.85v0.85h-0.85zM357.8 424.7h0.85v0.85h-0.85zM357.6 425.0h0.85v0.85h-0.85zM358.8 425.5h0.85v0.85h-0.85zM359.0 426.0h0.85v0.85h-0.85zM331.1 395.2h0.85v0.85h-0.85zM330.3 400.8h0.85v0.85h-0.85zM329.9 400.5h0.85v0.85h-0.85zM330.0 401.0h0.85v0.85h-0.85zM330.7 400.5h0.85v0.85h-0.85zM357.6 426.2h0.85v0.85h-0.85zM358.3 426.4h0.85v0.85h-0.85zM357.8 426.9h0.85v0.85h-0.85zM358.1 426.7h0.85v0.85h-0.85zM335.5 392.6h0.85v0.85h-0.85zM357.6 425.9h0.85v0.85h-0.85zM357.7 425.8h0.85v0.85h-0.85zM334.6 392.8h0.85v0.85h-0.85zM330.7 397.3h0.85v0.85h-0.85zM330.6 397.4h0.85v0.85h-0.85zM339.2 399.0h0.85v0.85h-0.85zM338.8 398.8h0.85v0.85h-0.85zM339.3 399.1h0.85v0.85h-0.85zM338.8 397.5h0.85v0.85h-0.85zM333.9 403.1h0.85v0.85h-0.85zM333.8 403.6h0.85v0.85h-0.85zM334.2 403.1h0.85v0.85h-0.85zM333.5 403.4h0.85v0.85h-0.85zM334.1 403.1h0.85v0.85h-0.85zM333.5 403.7h0.85v0.85h-0.85zM335.1 403.4h0.85v0.85h-0.85zM334.6 403.7h0.85v0.85h-0.85zM333.1 393.8h0.85v0.85h-0.85zM332.6 393.4h0.85v0.85h-0.85zM332.9 393.6h0.85v0.85h-0.85zM332.4 394.8h0.85v0.85h-0.85zM331.8 394.3h0.85v0.85h-0.85zM331.9 395.0h0.85v0.85h-0.85zM339.1 398.2h0.85v0.85h-0.85zM339.0 398.3h0.85v0.85h-0.85zM339.1 397.8h0.85v0.85h-0.85zM338.1 401.1h0.85v0.85h-0.85zM338.6 400.9h0.85v0.85h-0.85z" fill="#75ca39"/>
<path d="M330.0 400.3h0.85v0.85h-0.85zM330.2 400.3h0.85v0.85h-0.85zM330.7 399.9h0.85v0.85h-0.85zM332.0 402.8h0.85v0.85h-0.85zM332.1 402.2h0.85v0.85h-0.85zM330.8 402.0h0.85v0.85h-0.85zM331.5 401.5h0.85v0.85h-0.85zM331.6 401.9h0.85v0.85h-0.85zM330.3 397.8h0.85v0.85h-0.85zM330.1 398.6h0.85v0.85h-0.85zM336.1 402.5h0.85v0.85h-0.85zM330.6 399.2h0.85v0.85h-0.85zM330.5 399.1h0.85v0.85h-0.85zM330.6 398.9h0.85v0.85h-0.85zM338.2 395.8h0.85v0.85h-0.85zM338.2 395.2h0.85v0.85h-0.85zM338.2 395.2h0.85v0.85h-0.85zM337.5 401.9h0.85v0.85h-0.85zM337.2 401.9h0.85v0.85h-0.85zM336.8 394.2h0.85v0.85h-0.85zM336.4 394.1h0.85v0.85h-0.85zM336.5 393.7h0.85v0.85h-0.85zM336.4 393.7h0.85v0.85h-0.85zM331.2 396.7h0.85v0.85h-0.85zM331.3 396.6h0.85v0.85h-0.85zM331.0 396.8h0.85v0.85h-0.85zM334.0 393.6h0.85v0.85h-0.85zM334.3 393.6h0.85v0.85h-0.85zM334.0 393.9h0.85v0.85h-0.85zM337.8 394.4h0.85v0.85h-0.85zM337.0 394.9h0.85v0.85h-0.85z" fill="#8fcf30"/>
<path d="M332.9 402.6h0.85v0.85h-0.85zM332.6 402.2h0.85v0.85h-0.85zM332.9 402.2h0.85v0.85h-0.85zM332.6 402.7h0.85v0.85h-0.85zM333.1 402.4h0.85v0.85h-0.85zM333.1 402.9h0.85v0.85h-0.85zM332.8 402.9h0.85v0.85h-0.85zM332.7 402.8h0.85v0.85h-0.85zM333.0 402.3h0.85v0.85h-0.85zM332.8 402.9h0.85v0.85h-0.85zM335.8 402.4h0.85v0.85h-0.85zM335.9 402.4h0.85v0.85h-0.85zM335.5 403.0h0.85v0.85h-0.85zM332.1 395.6h0.85v0.85h-0.85zM332.1 395.9h0.85v0.85h-0.85zM332.0 395.5h0.85v0.85h-0.85zM331.6 400.8h0.85v0.85h-0.85zM338.6 400.4h0.85v0.85h-0.85zM337.9 399.6h0.85v0.85h-0.85zM338.2 399.6h0.85v0.85h-0.85zM338.8 399.7h0.85v0.85h-0.85zM338.0 400.0h0.85v0.85h-0.85zM338.2 400.1h0.85v0.85h-0.85zM336.1 393.9h0.85v0.85h-0.85zM335.8 394.0h0.85v0.85h-0.85zM336.1 394.1h0.85v0.85h-0.85zM335.6 393.6h0.85v0.85h-0.85zM335.6 393.6h0.85v0.85h-0.85zM336.0 393.5h0.85v0.85h-0.85zM334.9 393.8h0.85v0.85h-0.85zM334.4 394.0h0.85v0.85h-0.85zM334.5 393.5h0.85v0.85h-0.85zM333.0 394.6h0.85v0.85h-0.85zM332.6 394.2h0.85v0.85h-0.85zM338.1 396.5h0.85v0.85h-0.85zM338.2 396.5h0.85v0.85h-0.85zM338.6 396.6h0.85v0.85h-0.85zM338.0 396.2h0.85v0.85h-0.85zM332.0 401.6h0.85v0.85h-0.85zM332.0 402.1h0.85v0.85h-0.85zM332.1 402.0h0.85v0.85h-0.85zM332.0 401.8h0.85v0.85h-0.85zM331.8 401.4h0.85v0.85h-0.85zM334.2 402.5h0.85v0.85h-0.85zM333.8 402.5h0.85v0.85h-0.85zM334.4 402.3h0.85v0.85h-0.85zM335.0 402.5h0.85v0.85h-0.85z" fill="#b2d52d"/>
<path d="M336.6 401.4h0.85v0.85h-0.85zM336.7 401.8h0.85v0.85h-0.85zM336.4 401.3h0.85v0.85h-0.85zM330.9 400.2h0.85v0.85h-0.85zM331.2 399.8h0.85v0.85h-0.85zM337.3 400.9h0.85v0.85h-0.85zM338.1 399.1h0.85v0.85h-0.85zM337.9 399.2h0.85v0.85h-0.85zM338.3 399.5h0.85v0.85h-0.85zM331.3 397.9h0.85v0.85h-0.85zM331.6 398.0h0.85v0.85h-0.85zM331.4 397.9h0.85v0.85h-0.85zM331.6 398.4h0.85v0.85h-0.85zM331.4 398.9h0.85v0.85h-0.85zM331.0 399.3h0.85v0.85h-0.85zM338.2 397.3h0.85v0.85h-0.85zM338.8 397.7h0.85v0.85h-0.85zM338.0 397.2h0.85v0.85h-0.85zM338.2 396.9h0.85v0.85h-0.85zM336.9 394.7h0.85v0.85h-0.85zM336.6 395.0h0.85v0.85h-0.85zM336.8 394.6h0.85v0.85h-0.85zM338.2 398.4h0.85v0.85h-0.85zM338.2 397.8h0.85v0.85h-0.85zM338.8 397.8h0.85v0.85h-0.85zM337.7 395.9h0.85v0.85h-0.85zM337.3 395.5h0.85v0.85h-0.85zM337.9 395.7h0.85v0.85h-0.85zM331.8 396.6h0.85v0.85h-0.85zM332.0 396.6h0.85v0.85h-0.85zM332.5 396.0h0.85v0.85h-0.85zM332.0 396.0h0.85v0.85h-0.85zM334.0 394.4h0.85v0.85h-0.85zM333.8 394.9h0.85v0.85h-0.85zM333.7 394.7h0.85v0.85h-0.85z" fill="#d5db2a"/>
<path d="M332.8 401.9h0.85v0.85h-0.85zM332.9 402.0h0.85v0.85h-0.85zM332.9 401.8h0.85v0.85h-0.85zM332.2 400.9h0.85v0.85h-0.85zM332.0 401.0h0.85v0.85h-0.85zM332.0 401.1h0.85v0.85h-0.85zM332.5 400.8h0.85v0.85h-0.85zM333.2 395.3h0.85v0.85h-0.85zM335.7 402.1h0.85v0.85h-0.85zM336.0 401.7h0.85v0.85h-0.85zM336.0 402.0h0.85v0.85h-0.85zM335.7 401.3h0.85v0.85h-0.85zM335.5 401.9h0.85v0.85h-0.85zM335.5 394.5h0.85v0.85h-0.85zM335.5 394.9h0.85v0.85h-0.85zM335.6 394.7h0.85v0.85h-0.85zM335.9 394.3h0.85v0.85h-0.85zM334.6 394.4h0.85v0.85h-0.85zM334.6 394.4h0.85v0.85h-0.85zM334.7 394.5h0.85v0.85h-0.85zM337.7 399.8h0.85v0.85h-0.85zM337.2 399.9h0.85v0.85h-0.85zM337.5 400.0h0.85v0.85h-0.85zM337.2 399.8h0.85v0.85h-0.85zM337.8 400.0h0.85v0.85h-0.85zM337.3 399.8h0.85v0.85h-0.85zM337.7 399.5h0.85v0.85h-0.85zM334.3 402.0h0.85v0.85h-0.85zM334.3 402.0h0.85v0.85h-0.85zM333.5 401.8h0.85v0.85h-0.85zM334.1 401.9h0.85v0.85h-0.85zM335.1 401.6h0.85v0.85h-0.85zM331.7 397.6h0.85v0.85h-0.85zM331.9 397.3h0.85v0.85h-0.85zM332.2 397.0h0.85v0.85h-0.85zM332.0 397.1h0.85v0.85h-0.85zM331.7 397.5h0.85v0.85h-0.85z" fill="#f5dd27"/>
<path d="M336.6 401.2h0.85v0.85h-0.85zM336.3 400.6h0.85v0.85h-0.85zM332.3 400.4h0.85v0.85h-0.85zM332.1 399.8h0.85v0.85h-0.85zM332.5 400.1h0.85v0.85h-0.85zM337.1 396.8h0.85v0.85h-0.85zM337.9 396.7h0.85v0.85h-0.85zM337.2 396.1h0.85v0.85h-0.85zM337.3 396.8h0.85v0.85h-0.85zM337.8 396.5h0.85v0.85h-0.85zM332.0 398.6h0.85v0.85h-0.85zM332.3 397.8h0.85v0.85h-0.85zM332.0 398.3h0.85v0.85h-0.85zM336.3 395.3h0.85v0.85h-0.85zM336.2 395.3h0.85v0.85h-0.85zM336.5 395.6h0.85v0.85h-0.85zM336.5 395.1h0.85v0.85h-0.85zM336.5 395.6h0.85v0.85h-0.85zM336.2 395.6h0.85v0.85h-0.85zM333.4 400.9h0.85v0.85h-0.85zM333.0 401.2h0.85v0.85h-0.85zM332.7 400.8h0.85v0.85h-0.85zM332.3 399.3h0.85v0.85h-0.85zM332.5 399.4h0.85v0.85h-0.85zM332.0 399.4h0.85v0.85h-0.85zM332.5 399.0h0.85v0.85h-0.85zM331.8 399.0h0.85v0.85h-0.85zM333.9 395.6h0.85v0.85h-0.85zM334.3 395.5h0.85v0.85h-0.85zM333.8 395.1h0.85v0.85h-0.85zM333.3 396.2h0.85v0.85h-0.85zM332.6 396.5h0.85v0.85h-0.85zM332.6 396.0h0.85v0.85h-0.85zM337.3 399.1h0.85v0.85h-0.85zM337.7 399.4h0.85v0.85h-0.85zM337.9 399.1h0.85v0.85h-0.85z" fill="#f7be23"/>
<path d="M337.1 397.0h0.85v0.85h-0.85zM337.2 396.9h0.85v0.85h-0.85zM337.7 397.6h0.85v0.85h-0.85zM337.8 397.3h0.85v0.85h-0.85zM337.2 397.6h0.85v0.85h-0.85zM336.1 400.8h0.85v0.85h-0.85zM335.7 400.9h0.85v0.85h-0.85zM335.3 401.1h0.85v0.85h-0.85zM335.8 400.6h0.85v0.85h-0.85zM337.1 397.9h0.85v0.85h-0.85zM337.1 398.4h0.85v0.85h-0.85zM337.0 398.0h0.85v0.85h-0.85zM337.7 398.6h0.85v0.85h-0.85zM334.1 401.1h0.85v0.85h-0.85zM334.2 401.2h0.85v0.85h-0.85zM334.1 400.4h0.85v0.85h-0.85zM334.3 400.6h0.85v0.85h-0.85zM335.5 395.3h0.85v0.85h-0.85zM335.4 395.3h0.85v0.85h-0.85zM335.9 395.6h0.85v0.85h-0.85zM335.0 395.5h0.85v0.85h-0.85zM335.2 395.9h0.85v0.85h-0.85zM335.2 395.5h0.85v0.85h-0.85zM335.1 395.4h0.85v0.85h-0.85zM335.0 395.6h0.85v0.85h-0.85zM335.2 395.2h0.85v0.85h-0.85zM334.9 395.5h0.85v0.85h-0.85zM334.4 396.0h0.85v0.85h-0.85zM336.1 399.9h0.85v0.85h-0.85zM336.6 399.9h0.85v0.85h-0.85zM336.6 399.9h0.85v0.85h-0.85zM336.4 399.9h0.85v0.85h-0.85zM337.0 399.6h0.85v0.85h-0.85zM334.8 401.1h0.85v0.85h-0.85zM334.4 400.9h0.85v0.85h-0.85zM334.8 401.3h0.85v0.85h-0.85zM335.2 400.7h0.85v0.85h-0.85zM333.0 400.3h0.85v0.85h-0.85zM333.1 399.5h0.85v0.85h-0.85zM333.4 400.1h0.85v0.85h-0.85zM333.3 400.3h0.85v0.85h-0.85zM333.1 397.7h0.85v0.85h-0.85zM333.3 397.5h0.85v0.85h-0.85zM332.8 397.7h0.85v0.85h-0.85zM333.4 397.3h0.85v0.85h-0.85zM332.8 397.4h0.85v0.85h-0.85z" fill="#f89e20"/>
<path d="M336.2 396.1h0.85v0.85h-0.85zM333.8 396.8h0.85v0.85h-0.85zM333.6 396.5h0.85v0.85h-0.85zM333.6 396.3h0.85v0.85h-0.85zM333.6 396.8h0.85v0.85h-0.85zM333.0 398.7h0.85v0.85h-0.85zM332.7 399.1h0.85v0.85h-0.85zM333.3 399.1h0.85v0.85h-0.85zM332.7 397.9h0.85v0.85h-0.85zM333.3 397.9h0.85v0.85h-0.85zM332.9 398.1h0.85v0.85h-0.85zM333.4 397.8h0.85v0.85h-0.85zM333.0 397.8h0.85v0.85h-0.85zM333.0 398.4h0.85v0.85h-0.85zM333.3 398.5h0.85v0.85h-0.85zM332.6 398.1h0.85v0.85h-0.85zM333.9 400.2h0.85v0.85h-0.85zM334.2 399.8h0.85v0.85h-0.85zM333.5 400.3h0.85v0.85h-0.85zM333.9 400.0h0.85v0.85h-0.85zM333.9 400.2h0.85v0.85h-0.85zM333.9 399.8h0.85v0.85h-0.85zM336.0 399.5h0.85v0.85h-0.85zM335.3 399.9h0.85v0.85h-0.85zM335.4 400.1h0.85v0.85h-0.85zM335.7 400.3h0.85v0.85h-0.85zM335.5 399.9h0.85v0.85h-0.85zM335.5 400.1h0.85v0.85h-0.85zM335.3 399.8h0.85v0.85h-0.85zM335.3 400.3h0.85v0.85h-0.85zM336.4 399.0h0.85v0.85h-0.85zM336.2 399.4h0.85v0.85h-0.85zM336.5 399.2h0.85v0.85h-0.85z" fill="#f5791e"/>
<path d="M336.7 397.6h0.85v0.85h-0.85zM336.5 397.5h0.85v0.85h-0.85zM336.5 397.7h0.85v0.85h-0.85zM336.9 397.3h0.85v0.85h-0.85zM337.0 397.6h0.85v0.85h-0.85zM336.6 397.2h0.85v0.85h-0.85zM336.5 397.2h0.85v0.85h-0.85zM336.9 397.4h0.85v0.85h-0.85zM336.9 397.0h0.85v0.85h-0.85zM335.2 396.4h0.85v0.85h-0.85zM335.7 396.7h0.85v0.85h-0.85zM335.8 396.7h0.85v0.85h-0.85zM335.8 396.6h0.85v0.85h-0.85zM335.4 396.0h0.85v0.85h-0.85zM336.1 396.2h0.85v0.85h-0.85zM336.1 396.3h0.85v0.85h-0.85zM335.8 396.2h0.85v0.85h-0.85zM335.6 396.2h0.85v0.85h-0.85zM335.2 396.2h0.85v0.85h-0.85zM335.1 396.4h0.85v0.85h-0.85zM335.0 396.8h0.85v0.85h-0.85zM334.7 396.7h0.85v0.85h-0.85zM334.7 399.7h0.85v0.85h-0.85zM336.2 398.3h0.85v0.85h-0.85zM336.8 397.8h0.85v0.85h-0.85zM336.3 398.5h0.85v0.85h-0.85zM336.5 398.2h0.85v0.85h-0.85zM336.4 397.8h0.85v0.85h-0.85zM336.4 397.8h0.85v0.85h-0.85zM336.6 398.3h0.85v0.85h-0.85zM336.3 397.8h0.85v0.85h-0.85zM336.3 398.3h0.85v0.85h-0.85zM334.1 397.5h0.85v0.85h-0.85zM333.9 397.5h0.85v0.85h-0.85zM333.8 397.2h0.85v0.85h-0.85zM333.6 397.0h0.85v0.85h-0.85zM333.8 397.0h0.85v0.85h-0.85zM334.0 399.3h0.85v0.85h-0.85zM333.7 399.2h0.85v0.85h-0.85zM333.7 398.7h0.85v0.85h-0.85zM333.9 399.2h0.85v0.85h-0.85zM333.5 398.5h0.85v0.85h-0.85zM334.1 397.7h0.85v0.85h-0.85zM333.8 398.4h0.85v0.85h-0.85zM334.2 398.6h0.85v0.85h-0.85zM334.2 397.8h0.85v0.85h-0.85zM334.2 398.0h0.85v0.85h-0.85zM335.7 399.2h0.85v0.85h-0.85zM336.1 399.1h0.85v0.85h-0.85zM335.3 399.3h0.85v0.85h-0.85zM335.4 398.7h0.85v0.85h-0.85zM335.8 399.3h0.85v0.85h-0.85zM335.3 398.7h0.85v0.85h-0.85zM336.0 399.2h0.85v0.85h-0.85z" fill="#eb4b1e"/>
<path d="M336.0 397.2h0.85v0.85h-0.85zM335.4 397.7h0.85v0.85h-0.85zM336.1 397.1h0.85v0.85h-0.85zM335.4 397.2h0.85v0.85h-0.85zM335.7 397.5h0.85v0.85h-0.85zM335.9 397.2h0.85v0.85h-0.85zM336.1 397.3h0.85v0.85h-0.85zM335.4 397.3h0.85v0.85h-0.85zM334.4 399.3h0.85v0.85h-0.85zM334.6 399.5h0.85v0.85h-0.85zM334.5 398.8h0.85v0.85h-0.85zM334.4 399.2h0.85v0.85h-0.85zM335.0 399.3h0.85v0.85h-0.85zM335.1 399.3h0.85v0.85h-0.85zM334.5 398.7h0.85v0.85h-0.85zM334.9 399.2h0.85v0.85h-0.85zM334.5 398.7h0.85v0.85h-0.85zM334.5 399.0h0.85v0.85h-0.85zM334.9 397.1h0.85v0.85h-0.85zM335.1 397.4h0.85v0.85h-0.85zM335.0 397.1h0.85v0.85h-0.85zM334.8 397.0h0.85v0.85h-0.85zM335.2 396.9h0.85v0.85h-0.85zM334.9 397.7h0.85v0.85h-0.85zM334.7 397.0h0.85v0.85h-0.85zM335.7 398.1h0.85v0.85h-0.85zM335.6 398.6h0.85v0.85h-0.85zM335.7 398.4h0.85v0.85h-0.85zM335.8 398.2h0.85v0.85h-0.85zM335.6 397.9h0.85v0.85h-0.85zM335.0 398.5h0.85v0.85h-0.85zM334.5 398.4h0.85v0.85h-0.85zM334.4 398.2h0.85v0.85h-0.85zM335.1 398.3h0.85v0.85h-0.85zM334.4 398.4h0.85v0.85h-0.85zM334.4 398.1h0.85v0.85h-0.85zM334.5 398.3h0.85v0.85h-0.85z" fill="#e11e1e"/>
<path d="M441.4 371.6h0.85v0.85h-0.85z" fill="#7864cd" opacity="0.8"/>
<path d="M435.1 369.7h0.85v0.85h-0.85zM482.3 390.7h0.85v0.85h-0.85zM476.1 408.1h0.85v0.85h-0.85zM437.3 371.1h0.85v0.85h-0.85zM451.5 369.8h0.85v0.85h-0.85zM471.1 407.2h0.85v0.85h-0.85zM480.7 372.9h0.85v0.85h-0.85zM477.8 371.3h0.85v0.85h-0.85zM434.9 382.1h0.85v0.85h-0.85zM483.8 376.2h0.85v0.85h-0.85zM482.1 385.6h0.85v0.85h-0.85zM482.1 378.2h0.85v0.85h-0.85zM474.1 390.2h0.85v0.85h-0.85zM483.0 376.0h0.85v0.85h-0.85zM482.3 385.0h0.85v0.85h-0.85zM435.4 386.1h0.85v0.85h-0.85zM437.2 376.5h0.85v0.85h-0.85zM442.6 377.5h0.85v0.85h-0.85zM438.4 376.3h0.85v0.85h-0.85zM437.4 377.9h0.85v0.85h-0.85zM438.0 408.5h0.85v0.85h-0.85zM445.1 384.1h0.85v0.85h-0.85zM440.5 381.1h0.85v0.85h-0.85zM478.7 406.8h0.85v0.85h-0.85zM437.1 381.8h0.85v0.85h-0.85zM439.6 377.8h0.85v0.85h-0.85zM449.1 372.6h0.85v0.85h-0.85zM436.0 384.8h0.85v0.85h-0.85zM439.9 380.2h0.85v0.85h-0.85zM453.8 372.9h0.85v0.85h-0.85zM443.7 380.8h0.85v0.85h-0.85zM483.0 406.6h0.85v0.85h-0.85zM445.4 378.6h0.85v0.85h-0.85zM460.4 371.3h0.85v0.85h-0.85zM445.0 381.4h0.85v0.85h-0.85zM437.0 384.4h0.85v0.85h-0.85zM480.2 384.7h0.85v0.85h-0.85zM441.3 387.0h0.85v0.85h-0.85zM439.4 387.0h0.85v0.85h-0.85zM454.5 372.7h0.85v0.85h-0.85zM442.9 387.5h0.85v0.85h-0.85zM476.8 393.9h0.85v0.85h-0.85zM474.7 372.0h0.85v0.85h-0.85zM449.0 373.0h0.85v0.85h-0.85zM444.9 408.5h0.85v0.85h-0.85zM483.9 394.6h0.85v0.85h-0.85zM448.9 374.4h0.85v0.85h-0.85zM446.9 386.2h0.85v0.85h-0.85zM480.2 406.3h0.85v0.85h-0.85zM482.1 405.9h0.85v0.85h-0.85zM447.6 377.8h0.85v0.85h-0.85zM449.6 374.0h0.85v0.85h-0.85zM484.5 395.4h0.85v0.85h-0.85zM453.0 409.2h0.85v0.85h-0.85zM447.8 378.3h0.85v0.85h-0.85zM480.3 404.4h0.85v0.85h-0.85zM437.7 390.5h0.85v0.85h-0.85zM441.6 389.0h0.85v0.85h-0.85zM447.6 385.6h0.85v0.85h-0.85zM461.8 408.3h0.85v0.85h-0.85zM445.9 389.6h0.85v0.85h-0.85zM435.6 406.4h0.85v0.85h-0.85zM435.2 406.4h0.85v0.85h-0.85zM470.8 390.9h0.85v0.85h-0.85zM436.4 392.0h0.85v0.85h-0.85zM450.2 386.7h0.85v0.85h-0.85zM482.4 398.4h0.85v0.85h-0.85zM483.3 395.5h0.85v0.85h-0.85zM481.7 404.9h0.85v0.85h-0.85zM481.5 404.8h0.85v0.85h-0.85zM449.7 388.0h0.85v0.85h-0.85zM449.4 384.0h0.85v0.85h-0.85zM444.7 407.6h0.85v0.85h-0.85zM436.8 407.4h0.85v0.85h-0.85zM450.1 385.0h0.85v0.85h-0.85zM450.9 376.1h0.85v0.85h-0.85zM433.3 394.2h0.85v0.85h-0.85zM457.1 373.2h0.85v0.85h-0.85zM478.0 399.9h0.85v0.85h-0.85zM440.2 391.1h0.85v0.85h-0.85zM454.1 408.0h0.85v0.85h-0.85zM470.1 371.4h0.85v0.85h-0.85zM469.6 371.6h0.85v0.85h-0.85zM477.6 384.0h0.85v0.85h-0.85zM437.9 405.8h0.85v0.85h-0.85zM458.0 406.7h0.85v0.85h-0.85zM436.7 394.1h0.85v0.85h-0.85zM477.7 382.9h0.85v0.85h-0.85zM474.7 400.3h0.85v0.85h-0.85zM461.3 407.4h0.85v0.85h-0.85zM450.3 407.4h0.85v0.85h-0.85zM477.8 382.0h0.85v0.85h-0.85z" fill="#6c5bc8" opacity="0.8"/>
<path d="M436.7 404.7h0.85v0.85h-0.85zM471.4 387.1h0.85v0.85h-0.85zM471.4 387.2h0.85v0.85h-0.85zM476.4 383.6h0.85v0.85h-0.85zM453.5 406.9h0.85v0.85h-0.85zM473.7 373.2h0.85v0.85h-0.85zM443.7 405.9h0.85v0.85h-0.85zM455.9 388.2h0.85v0.85h-0.85zM474.6 385.3h0.85v0.85h-0.85zM453.4 382.8h0.85v0.85h-0.85zM452.7 382.7h0.85v0.85h-0.85zM434.7 396.0h0.85v0.85h-0.85zM456.5 387.6h0.85v0.85h-0.85zM435.1 395.9h0.85v0.85h-0.85zM452.2 380.6h0.85v0.85h-0.85zM457.5 388.0h0.85v0.85h-0.85zM468.3 404.0h0.85v0.85h-0.85zM475.8 376.4h0.85v0.85h-0.85zM462.4 406.5h0.85v0.85h-0.85zM456.2 389.0h0.85v0.85h-0.85zM445.4 406.5h0.85v0.85h-0.85zM451.6 405.9h0.85v0.85h-0.85zM438.5 403.5h0.85v0.85h-0.85zM471.5 373.1h0.85v0.85h-0.85zM462.6 373.0h0.85v0.85h-0.85zM457.6 389.2h0.85v0.85h-0.85zM436.1 400.5h0.85v0.85h-0.85zM472.7 399.1h0.85v0.85h-0.85zM471.2 387.1h0.85v0.85h-0.85zM475.9 378.1h0.85v0.85h-0.85zM475.9 381.7h0.85v0.85h-0.85zM469.9 386.3h0.85v0.85h-0.85zM476.2 380.6h0.85v0.85h-0.85zM455.8 383.8h0.85v0.85h-0.85zM445.8 404.9h0.85v0.85h-0.85zM463.2 404.9h0.85v0.85h-0.85zM473.8 375.3h0.85v0.85h-0.85zM453.7 379.6h0.85v0.85h-0.85zM436.9 397.1h0.85v0.85h-0.85zM471.0 374.4h0.85v0.85h-0.85zM475.6 381.2h0.85v0.85h-0.85zM443.9 393.9h0.85v0.85h-0.85zM444.6 404.1h0.85v0.85h-0.85zM461.4 405.0h0.85v0.85h-0.85zM446.1 392.6h0.85v0.85h-0.85zM445.7 393.3h0.85v0.85h-0.85zM470.1 401.9h0.85v0.85h-0.85zM459.8 405.5h0.85v0.85h-0.85zM473.8 376.5h0.85v0.85h-0.85zM449.8 391.7h0.85v0.85h-0.85z" fill="#6153c4" opacity="0.8"/>
<path d="M458.1 390.7h0.85v0.85h-0.85zM454.6 380.6h0.85v0.85h-0.85zM443.3 403.6h0.85v0.85h-0.85zM485.4 396.1h0.85v0.85h-0.85zM438.9 400.6h0.85v0.85h-0.85zM443.9 403.9h0.85v0.85h-0.85zM444.0 395.1h0.85v0.85h-0.85zM474.5 378.3h0.85v0.85h-0.85zM472.6 392.1h0.85v0.85h-0.85zM467.9 402.7h0.85v0.85h-0.85zM445.9 403.4h0.85v0.85h-0.85zM455.5 379.9h0.85v0.85h-0.85zM480.7 401.2h0.85v0.85h-0.85zM481.2 399.8h0.85v0.85h-0.85zM448.1 393.1h0.85v0.85h-0.85zM447.7 393.3h0.85v0.85h-0.85zM468.8 384.6h0.85v0.85h-0.85zM459.5 384.6h0.85v0.85h-0.85zM479.1 394.4h0.85v0.85h-0.85zM475.8 401.3h0.85v0.85h-0.85zM445.2 395.1h0.85v0.85h-0.85zM476.2 394.7h0.85v0.85h-0.85zM465.1 375.5h0.85v0.85h-0.85zM439.5 389.4h0.85v0.85h-0.85zM474.1 401.4h0.85v0.85h-0.85zM440.2 399.3h0.85v0.85h-0.85zM439.7 399.1h0.85v0.85h-0.85zM464.8 393.3h0.85v0.85h-0.85zM458.0 391.7h0.85v0.85h-0.85zM432.6 399.1h0.85v0.85h-0.85zM481.4 396.7h0.85v0.85h-0.85zM448.3 380.5h0.85v0.85h-0.85zM469.2 400.4h0.85v0.85h-0.85zM444.8 395.2h0.85v0.85h-0.85zM481.7 396.9h0.85v0.85h-0.85zM473.0 381.6h0.85v0.85h-0.85zM471.1 383.0h0.85v0.85h-0.85zM432.3 398.6h0.85v0.85h-0.85zM448.7 383.8h0.85v0.85h-0.85zM446.8 394.9h0.85v0.85h-0.85zM438.2 391.6h0.85v0.85h-0.85z" fill="#564bc0" opacity="0.8"/>
<path d="M444.6 397.4h0.85v0.85h-0.85zM449.3 378.3h0.85v0.85h-0.85zM453.9 403.7h0.85v0.85h-0.85zM477.2 396.2h0.85v0.85h-0.85zM450.2 402.4h0.85v0.85h-0.85zM463.1 388.5h0.85v0.85h-0.85zM478.9 376.2h0.85v0.85h-0.85zM450.4 393.6h0.85v0.85h-0.85zM477.7 398.8h0.85v0.85h-0.85zM438.9 406.0h0.85v0.85h-0.85zM478.0 397.7h0.85v0.85h-0.85zM477.6 397.0h0.85v0.85h-0.85zM478.5 376.8h0.85v0.85h-0.85zM476.8 399.3h0.85v0.85h-0.85zM455.6 392.8h0.85v0.85h-0.85zM455.7 392.8h0.85v0.85h-0.85zM468.9 397.4h0.85v0.85h-0.85zM478.9 382.2h0.85v0.85h-0.85zM434.4 395.0h0.85v0.85h-0.85zM458.5 381.2h0.85v0.85h-0.85zM453.0 393.6h0.85v0.85h-0.85zM436.2 403.8h0.85v0.85h-0.85zM459.5 378.8h0.85v0.85h-0.85zM470.6 403.9h0.85v0.85h-0.85zM454.3 386.3h0.85v0.85h-0.85zM468.6 381.9h0.85v0.85h-0.85zM467.9 382.5h0.85v0.85h-0.85zM468.8 388.3h0.85v0.85h-0.85zM478.2 376.3h0.85v0.85h-0.85zM449.9 400.5h0.85v0.85h-0.85zM454.5 406.8h0.85v0.85h-0.85zM474.1 398.5h0.85v0.85h-0.85zM467.8 392.2h0.85v0.85h-0.85zM467.1 377.6h0.85v0.85h-0.85zM438.2 404.2h0.85v0.85h-0.85zM454.0 386.1h0.85v0.85h-0.85zM441.0 393.3h0.85v0.85h-0.85zM466.7 382.3h0.85v0.85h-0.85zM449.5 395.1h0.85v0.85h-0.85zM435.8 400.5h0.85v0.85h-0.85z" fill="#4c46bf" opacity="0.8"/>
<path d="M435.2 395.7h0.85v0.85h-0.85zM466.0 381.2h0.85v0.85h-0.85zM463.5 378.2h0.85v0.85h-0.85zM473.9 398.2h0.85v0.85h-0.85zM451.8 377.8h0.85v0.85h-0.85zM434.5 396.9h0.85v0.85h-0.85zM459.9 389.7h0.85v0.85h-0.85zM470.5 372.4h0.85v0.85h-0.85zM449.7 406.4h0.85v0.85h-0.85zM460.9 381.6h0.85v0.85h-0.85zM446.5 405.9h0.85v0.85h-0.85zM460.9 394.1h0.85v0.85h-0.85zM460.6 390.6h0.85v0.85h-0.85zM470.3 387.4h0.85v0.85h-0.85zM458.2 402.9h0.85v0.85h-0.85zM461.9 379.7h0.85v0.85h-0.85zM461.6 380.4h0.85v0.85h-0.85zM436.6 400.4h0.85v0.85h-0.85zM455.2 376.3h0.85v0.85h-0.85zM455.1 376.4h0.85v0.85h-0.85zM455.3 375.8h0.85v0.85h-0.85zM441.6 393.4h0.85v0.85h-0.85zM471.6 401.2h0.85v0.85h-0.85zM455.7 385.7h0.85v0.85h-0.85zM476.3 382.7h0.85v0.85h-0.85zM467.1 398.5h0.85v0.85h-0.85zM441.2 404.5h0.85v0.85h-0.85zM476.0 376.1h0.85v0.85h-0.85zM435.3 398.3h0.85v0.85h-0.85zM435.6 398.5h0.85v0.85h-0.85zM463.2 386.9h0.85v0.85h-0.85zM453.6 377.9h0.85v0.85h-0.85zM472.5 397.0h0.85v0.85h-0.85zM444.0 392.7h0.85v0.85h-0.85zM455.4 401.3h0.85v0.85h-0.85zM450.0 390.9h0.85v0.85h-0.85zM439.8 394.2h0.85v0.85h-0.85zM440.2 394.4h0.85v0.85h-0.85zM466.8 373.0h0.85v0.85h-0.85zM465.5 373.2h0.85v0.85h-0.85z" fill="#4546c1" opacity="0.8"/>
<path d="M453.4 391.3h0.85v0.85h-0.85zM442.1 404.2h0.85v0.85h-0.85zM476.4 376.7h0.85v0.85h-0.85zM440.6 403.1h0.85v0.85h-0.85zM453.1 396.7h0.85v0.85h-0.85zM456.4 385.5h0.85v0.85h-0.85zM449.2 404.9h0.85v0.85h-0.85zM453.0 381.5h0.85v0.85h-0.85zM447.9 405.3h0.85v0.85h-0.85zM447.7 405.1h0.85v0.85h-0.85zM436.6 399.1h0.85v0.85h-0.85zM436.3 398.8h0.85v0.85h-0.85zM466.1 397.0h0.85v0.85h-0.85zM438.5 395.4h0.85v0.85h-0.85zM472.8 396.3h0.85v0.85h-0.85zM471.7 396.2h0.85v0.85h-0.85zM468.6 403.7h0.85v0.85h-0.85zM454.6 395.2h0.85v0.85h-0.85zM458.6 375.0h0.85v0.85h-0.85zM437.6 397.7h0.85v0.85h-0.85zM469.7 394.6h0.85v0.85h-0.85zM469.8 394.4h0.85v0.85h-0.85zM470.7 395.4h0.85v0.85h-0.85zM472.1 397.6h0.85v0.85h-0.85zM453.2 404.9h0.85v0.85h-0.85zM455.4 376.7h0.85v0.85h-0.85zM436.7 398.5h0.85v0.85h-0.85zM438.3 401.2h0.85v0.85h-0.85zM453.8 399.0h0.85v0.85h-0.85zM454.1 378.5h0.85v0.85h-0.85zM460.9 374.2h0.85v0.85h-0.85zM473.3 384.4h0.85v0.85h-0.85zM473.4 383.8h0.85v0.85h-0.85zM446.1 392.8h0.85v0.85h-0.85zM453.8 381.2h0.85v0.85h-0.85zM458.9 391.5h0.85v0.85h-0.85z" fill="#3d46c4" opacity="0.8"/>
<path d="M448.4 392.0h0.85v0.85h-0.85zM448.2 392.2h0.85v0.85h-0.85zM458.3 405.3h0.85v0.85h-0.85zM457.8 375.7h0.85v0.85h-0.85zM467.2 403.9h0.85v0.85h-0.85zM446.3 404.0h0.85v0.85h-0.85zM450.1 391.7h0.85v0.85h-0.85zM454.3 380.2h0.85v0.85h-0.85zM443.0 403.4h0.85v0.85h-0.85zM468.4 374.6h0.85v0.85h-0.85zM467.0 374.5h0.85v0.85h-0.85zM438.0 399.6h0.85v0.85h-0.85zM456.9 390.8h0.85v0.85h-0.85zM459.4 386.1h0.85v0.85h-0.85zM470.6 396.2h0.85v0.85h-0.85zM457.3 391.2h0.85v0.85h-0.85zM475.7 378.4h0.85v0.85h-0.85zM475.6 380.3h0.85v0.85h-0.85zM475.0 380.4h0.85v0.85h-0.85zM469.7 385.6h0.85v0.85h-0.85zM470.2 385.7h0.85v0.85h-0.85zM463.2 374.7h0.85v0.85h-0.85zM444.4 403.7h0.85v0.85h-0.85zM442.4 395.7h0.85v0.85h-0.85zM439.1 397.3h0.85v0.85h-0.85zM459.2 395.9h0.85v0.85h-0.85zM463.9 396.6h0.85v0.85h-0.85zM453.9 392.1h0.85v0.85h-0.85zM473.5 376.3h0.85v0.85h-0.85zM469.8 400.7h0.85v0.85h-0.85zM454.8 379.3h0.85v0.85h-0.85zM446.8 403.1h0.85v0.85h-0.85zM447.1 403.7h0.85v0.85h-0.85zM454.9 380.3h0.85v0.85h-0.85zM454.7 380.2h0.85v0.85h-0.85zM447.8 403.4h0.85v0.85h-0.85zM471.7 375.1h0.85v0.85h-0.85zM440.8 396.8h0.85v0.85h-0.85zM440.6 396.6h0.85v0.85h-0.85zM445.8 394.0h0.85v0.85h-0.85zM439.2 399.8h0.85v0.85h-0.85z" fill="#3546c6" opacity="0.8"/>
<path d="M469.6 401.4h0.85v0.85h-0.85zM468.9 401.3h0.85v0.85h-0.85zM452.7 404.0h0.85v0.85h-0.85zM474.5 378.1h0.85v0.85h-0.85zM455.8 378.8h0.85v0.85h-0.85zM439.4 397.3h0.85v0.85h-0.85zM441.9 401.3h0.85v0.85h-0.85zM466.9 393.9h0.85v0.85h-0.85zM441.8 396.7h0.85v0.85h-0.85zM441.2 396.3h0.85v0.85h-0.85zM470.5 374.8h0.85v0.85h-0.85zM462.2 404.4h0.85v0.85h-0.85zM456.3 383.2h0.85v0.85h-0.85zM457.1 397.7h0.85v0.85h-0.85zM470.4 375.3h0.85v0.85h-0.85zM473.8 376.8h0.85v0.85h-0.85zM473.9 376.7h0.85v0.85h-0.85zM465.9 384.6h0.85v0.85h-0.85zM456.1 381.0h0.85v0.85h-0.85zM455.6 404.2h0.85v0.85h-0.85zM450.6 392.6h0.85v0.85h-0.85zM469.4 374.9h0.85v0.85h-0.85zM442.4 401.9h0.85v0.85h-0.85zM442.9 401.8h0.85v0.85h-0.85zM440.0 399.5h0.85v0.85h-0.85zM440.2 399.6h0.85v0.85h-0.85zM455.8 392.1h0.85v0.85h-0.85zM456.9 404.8h0.85v0.85h-0.85zM455.4 380.7h0.85v0.85h-0.85zM468.4 394.2h0.85v0.85h-0.85zM440.3 397.3h0.85v0.85h-0.85zM439.5 398.6h0.85v0.85h-0.85zM459.0 384.8h0.85v0.85h-0.85zM459.5 392.4h0.85v0.85h-0.85zM451.9 393.3h0.85v0.85h-0.85zM457.8 404.3h0.85v0.85h-0.85zM447.6 402.4h0.85v0.85h-0.85zM463.5 384.5h0.85v0.85h-0.85zM443.2 396.0h0.85v0.85h-0.85zM439.8 399.3h0.85v0.85h-0.85zM443.0 401.6h0.85v0.85h-0.85zM459.0 403.9h0.85v0.85h-0.85z" fill="#3352cb" opacity="0.8"/>
<path d="M442.0 401.0h0.85v0.85h-0.85zM441.9 401.1h0.85v0.85h-0.85zM457.6 377.6h0.85v0.85h-0.85zM457.9 377.6h0.85v0.85h-0.85zM464.9 403.2h0.85v0.85h-0.85zM464.5 403.1h0.85v0.85h-0.85zM441.9 397.0h0.85v0.85h-0.85zM462.7 384.6h0.85v0.85h-0.85zM460.6 385.1h0.85v0.85h-0.85zM469.6 399.0h0.85v0.85h-0.85zM469.9 397.0h0.85v0.85h-0.85zM469.8 397.4h0.85v0.85h-0.85zM448.9 402.4h0.85v0.85h-0.85zM441.0 399.7h0.85v0.85h-0.85zM440.8 400.3h0.85v0.85h-0.85zM440.7 400.3h0.85v0.85h-0.85zM471.0 383.9h0.85v0.85h-0.85zM441.1 398.0h0.85v0.85h-0.85zM462.5 375.3h0.85v0.85h-0.85zM445.2 401.7h0.85v0.85h-0.85zM445.0 401.4h0.85v0.85h-0.85zM464.3 375.5h0.85v0.85h-0.85zM460.0 375.7h0.85v0.85h-0.85zM460.6 375.8h0.85v0.85h-0.85zM472.6 377.4h0.85v0.85h-0.85zM444.1 396.3h0.85v0.85h-0.85zM446.4 401.6h0.85v0.85h-0.85zM446.3 401.4h0.85v0.85h-0.85zM452.3 403.3h0.85v0.85h-0.85zM440.3 399.1h0.85v0.85h-0.85zM441.1 398.8h0.85v0.85h-0.85zM466.8 393.8h0.85v0.85h-0.85zM471.3 376.4h0.85v0.85h-0.85zM457.6 383.1h0.85v0.85h-0.85zM457.0 381.4h0.85v0.85h-0.85zM449.3 402.9h0.85v0.85h-0.85zM465.3 393.2h0.85v0.85h-0.85zM443.4 397.7h0.85v0.85h-0.85zM443.3 396.9h0.85v0.85h-0.85zM441.3 399.9h0.85v0.85h-0.85zM441.3 397.8h0.85v0.85h-0.85zM441.1 398.4h0.85v0.85h-0.85zM441.9 397.8h0.85v0.85h-0.85zM443.1 400.5h0.85v0.85h-0.85zM443.5 401.0h0.85v0.85h-0.85zM472.2 382.4h0.85v0.85h-0.85zM453.2 403.6h0.85v0.85h-0.85zM469.8 383.6h0.85v0.85h-0.85zM470.1 383.7h0.85v0.85h-0.85zM442.4 400.1h0.85v0.85h-0.85zM442.4 400.2h0.85v0.85h-0.85zM445.2 396.3h0.85v0.85h-0.85zM457.4 378.7h0.85v0.85h-0.85zM445.0 400.9h0.85v0.85h-0.85zM471.4 376.9h0.85v0.85h-0.85zM473.1 377.9h0.85v0.85h-0.85zM472.8 377.7h0.85v0.85h-0.85zM458.6 377.8h0.85v0.85h-0.85zM450.9 402.4h0.85v0.85h-0.85zM450.8 402.5h0.85v0.85h-0.85zM469.3 384.0h0.85v0.85h-0.85zM468.7 383.9h0.85v0.85h-0.85zM469.5 384.4h0.85v0.85h-0.85zM460.7 376.3h0.85v0.85h-0.85z" fill="#366ad3"/>
<path d="M448.4 401.9h0.85v0.85h-0.85zM449.0 401.9h0.85v0.85h-0.85zM468.5 383.9h0.85v0.85h-0.85zM450.3 394.0h0.85v0.85h-0.85zM467.2 384.0h0.85v0.85h-0.85zM446.7 401.0h0.85v0.85h-0.85zM446.6 401.0h0.85v0.85h-0.85zM468.0 375.8h0.85v0.85h-0.85zM459.2 383.7h0.85v0.85h-0.85zM459.1 383.7h0.85v0.85h-0.85zM466.3 383.8h0.85v0.85h-0.85zM443.0 398.7h0.85v0.85h-0.85zM443.2 399.0h0.85v0.85h-0.85zM443.2 399.0h0.85v0.85h-0.85zM444.1 400.2h0.85v0.85h-0.85zM444.0 399.7h0.85v0.85h-0.85zM455.0 403.9h0.85v0.85h-0.85zM472.5 380.9h0.85v0.85h-0.85zM472.8 380.9h0.85v0.85h-0.85zM472.5 381.2h0.85v0.85h-0.85zM470.5 383.2h0.85v0.85h-0.85zM470.5 382.8h0.85v0.85h-0.85zM465.6 384.4h0.85v0.85h-0.85zM467.0 401.9h0.85v0.85h-0.85zM467.7 376.0h0.85v0.85h-0.85zM445.6 399.9h0.85v0.85h-0.85zM444.7 399.3h0.85v0.85h-0.85zM470.6 376.7h0.85v0.85h-0.85zM471.2 376.9h0.85v0.85h-0.85zM468.1 401.0h0.85v0.85h-0.85zM471.6 381.9h0.85v0.85h-0.85zM458.6 383.1h0.85v0.85h-0.85zM445.9 396.0h0.85v0.85h-0.85zM464.3 384.1h0.85v0.85h-0.85zM446.3 399.8h0.85v0.85h-0.85zM446.3 400.4h0.85v0.85h-0.85zM446.4 400.1h0.85v0.85h-0.85zM455.4 392.8h0.85v0.85h-0.85zM446.6 395.7h0.85v0.85h-0.85zM447.0 395.9h0.85v0.85h-0.85zM468.9 397.5h0.85v0.85h-0.85zM449.3 401.9h0.85v0.85h-0.85zM461.6 376.3h0.85v0.85h-0.85zM457.7 381.7h0.85v0.85h-0.85zM445.2 399.0h0.85v0.85h-0.85zM444.9 399.5h0.85v0.85h-0.85zM444.9 398.3h0.85v0.85h-0.85zM445.5 398.5h0.85v0.85h-0.85zM472.3 380.7h0.85v0.85h-0.85zM472.3 380.5h0.85v0.85h-0.85zM472.2 380.2h0.85v0.85h-0.85zM468.8 398.7h0.85v0.85h-0.85zM469.0 399.5h0.85v0.85h-0.85zM472.9 379.7h0.85v0.85h-0.85zM473.0 379.3h0.85v0.85h-0.85zM459.8 383.9h0.85v0.85h-0.85zM460.5 377.1h0.85v0.85h-0.85zM447.0 400.4h0.85v0.85h-0.85zM456.8 403.4h0.85v0.85h-0.85zM468.9 398.4h0.85v0.85h-0.85zM448.6 394.5h0.85v0.85h-0.85zM448.7 394.5h0.85v0.85h-0.85zM448.8 400.7h0.85v0.85h-0.85zM458.8 379.0h0.85v0.85h-0.85zM469.7 377.3h0.85v0.85h-0.85zM446.2 399.3h0.85v0.85h-0.85zM446.3 399.1h0.85v0.85h-0.85zM457.0 392.4h0.85v0.85h-0.85zM446.0 397.0h0.85v0.85h-0.85zM463.3 383.6h0.85v0.85h-0.85zM462.9 376.1h0.85v0.85h-0.85zM445.9 398.3h0.85v0.85h-0.85z" fill="#3982da"/>
<path d="M463.5 376.4h0.85v0.85h-0.85zM446.7 396.4h0.85v0.85h-0.85zM471.5 381.0h0.85v0.85h-0.85zM450.9 401.9h0.85v0.85h-0.85zM469.3 376.8h0.85v0.85h-0.85zM448.2 395.6h0.85v0.85h-0.85zM448.0 395.7h0.85v0.85h-0.85zM464.6 402.9h0.85v0.85h-0.85zM464.3 402.6h0.85v0.85h-0.85zM458.6 382.2h0.85v0.85h-0.85zM458.8 382.6h0.85v0.85h-0.85zM452.9 402.5h0.85v0.85h-0.85zM470.9 377.7h0.85v0.85h-0.85zM468.2 383.1h0.85v0.85h-0.85zM467.9 383.0h0.85v0.85h-0.85zM469.0 396.1h0.85v0.85h-0.85zM469.3 396.6h0.85v0.85h-0.85zM459.3 383.3h0.85v0.85h-0.85zM453.6 393.9h0.85v0.85h-0.85zM447.2 397.9h0.85v0.85h-0.85zM447.2 398.4h0.85v0.85h-0.85zM447.4 398.2h0.85v0.85h-0.85zM446.6 397.5h0.85v0.85h-0.85zM447.2 397.7h0.85v0.85h-0.85zM447.1 397.0h0.85v0.85h-0.85zM467.9 376.8h0.85v0.85h-0.85zM468.1 376.9h0.85v0.85h-0.85zM450.9 394.7h0.85v0.85h-0.85zM450.8 394.5h0.85v0.85h-0.85zM450.4 394.9h0.85v0.85h-0.85zM461.1 377.0h0.85v0.85h-0.85zM449.6 400.6h0.85v0.85h-0.85zM458.0 379.8h0.85v0.85h-0.85zM458.1 380.0h0.85v0.85h-0.85zM458.5 379.3h0.85v0.85h-0.85zM467.1 383.0h0.85v0.85h-0.85zM471.7 380.7h0.85v0.85h-0.85zM471.9 379.8h0.85v0.85h-0.85zM451.1 394.7h0.85v0.85h-0.85zM454.9 403.1h0.85v0.85h-0.85zM449.1 395.6h0.85v0.85h-0.85zM448.5 395.2h0.85v0.85h-0.85zM448.3 395.3h0.85v0.85h-0.85zM451.6 401.6h0.85v0.85h-0.85zM447.4 396.5h0.85v0.85h-0.85zM458.5 380.1h0.85v0.85h-0.85zM458.5 380.4h0.85v0.85h-0.85zM458.9 380.6h0.85v0.85h-0.85zM470.6 381.5h0.85v0.85h-0.85zM470.5 381.2h0.85v0.85h-0.85zM471.2 381.8h0.85v0.85h-0.85zM460.0 378.2h0.85v0.85h-0.85zM460.0 378.0h0.85v0.85h-0.85zM448.1 397.8h0.85v0.85h-0.85zM465.8 383.5h0.85v0.85h-0.85zM470.6 378.5h0.85v0.85h-0.85zM470.4 378.5h0.85v0.85h-0.85zM470.5 378.9h0.85v0.85h-0.85zM470.9 378.4h0.85v0.85h-0.85z" fill="#3c99e0"/>
<path d="M447.5 397.5h0.85v0.85h-0.85zM448.2 397.2h0.85v0.85h-0.85zM452.6 394.9h0.85v0.85h-0.85zM452.1 394.8h0.85v0.85h-0.85zM459.9 383.1h0.85v0.85h-0.85zM469.2 382.4h0.85v0.85h-0.85zM454.9 402.5h0.85v0.85h-0.85zM462.3 377.0h0.85v0.85h-0.85zM468.7 397.5h0.85v0.85h-0.85zM468.8 377.5h0.85v0.85h-0.85zM449.7 395.9h0.85v0.85h-0.85zM449.7 395.9h0.85v0.85h-0.85zM449.6 395.8h0.85v0.85h-0.85zM449.5 400.2h0.85v0.85h-0.85zM464.2 393.5h0.85v0.85h-0.85zM470.9 380.1h0.85v0.85h-0.85zM468.4 399.2h0.85v0.85h-0.85zM471.3 379.9h0.85v0.85h-0.85zM470.6 379.9h0.85v0.85h-0.85zM470.7 379.3h0.85v0.85h-0.85zM459.2 381.9h0.85v0.85h-0.85zM459.1 382.2h0.85v0.85h-0.85zM459.7 382.6h0.85v0.85h-0.85zM459.1 382.1h0.85v0.85h-0.85zM466.0 377.0h0.85v0.85h-0.85zM465.9 377.3h0.85v0.85h-0.85zM465.4 377.4h0.85v0.85h-0.85zM452.7 401.4h0.85v0.85h-0.85zM451.9 401.8h0.85v0.85h-0.85zM452.5 401.7h0.85v0.85h-0.85zM451.9 401.9h0.85v0.85h-0.85zM452.2 401.3h0.85v0.85h-0.85zM448.5 396.5h0.85v0.85h-0.85zM448.7 396.0h0.85v0.85h-0.85zM470.3 381.2h0.85v0.85h-0.85zM469.7 381.2h0.85v0.85h-0.85zM463.7 383.4h0.85v0.85h-0.85zM464.0 382.8h0.85v0.85h-0.85zM470.4 378.7h0.85v0.85h-0.85zM461.4 383.1h0.85v0.85h-0.85zM467.8 398.2h0.85v0.85h-0.85zM448.9 398.5h0.85v0.85h-0.85zM462.6 377.1h0.85v0.85h-0.85zM468.6 377.8h0.85v0.85h-0.85zM468.2 377.7h0.85v0.85h-0.85zM456.1 402.7h0.85v0.85h-0.85zM464.7 376.7h0.85v0.85h-0.85zM465.8 402.2h0.85v0.85h-0.85zM460.4 392.7h0.85v0.85h-0.85zM450.4 395.8h0.85v0.85h-0.85zM459.7 379.8h0.85v0.85h-0.85zM448.4 397.0h0.85v0.85h-0.85zM462.9 382.8h0.85v0.85h-0.85zM463.0 383.2h0.85v0.85h-0.85zM464.2 377.1h0.85v0.85h-0.85zM463.7 377.0h0.85v0.85h-0.85zM464.2 377.3h0.85v0.85h-0.85zM461.7 383.4h0.85v0.85h-0.85zM461.6 383.1h0.85v0.85h-0.85zM461.8 382.7h0.85v0.85h-0.85zM455.7 393.4h0.85v0.85h-0.85zM455.5 393.9h0.85v0.85h-0.85zM467.2 382.5h0.85v0.85h-0.85zM466.0 394.3h0.85v0.85h-0.85zM465.7 394.7h0.85v0.85h-0.85zM465.8 395.0h0.85v0.85h-0.85zM460.9 377.5h0.85v0.85h-0.85zM461.3 378.0h0.85v0.85h-0.85zM469.9 380.7h0.85v0.85h-0.85zM470.1 380.6h0.85v0.85h-0.85zM470.3 380.2h0.85v0.85h-0.85zM449.6 398.7h0.85v0.85h-0.85zM449.3 398.8h0.85v0.85h-0.85zM469.4 381.2h0.85v0.85h-0.85zM469.8 379.7h0.85v0.85h-0.85zM452.9 401.5h0.85v0.85h-0.85zM449.5 396.5h0.85v0.85h-0.85zM449.8 396.2h0.85v0.85h-0.85zM449.5 396.0h0.85v0.85h-0.85zM467.2 378.1h0.85v0.85h-0.85zM459.0 380.1h0.85v0.85h-0.85zM460.5 378.9h0.85v0.85h-0.85zM460.6 378.3h0.85v0.85h-0.85zM451.5 400.6h0.85v0.85h-0.85zM451.7 400.7h0.85v0.85h-0.85zM469.5 379.0h0.85v0.85h-0.85zM451.6 395.2h0.85v0.85h-0.85z" fill="#3cacdd"/>
<path d="M464.8 402.4h0.85v0.85h-0.85zM450.3 400.2h0.85v0.85h-0.85zM450.1 399.7h0.85v0.85h-0.85zM450.2 399.7h0.85v0.85h-0.85zM466.1 382.3h0.85v0.85h-0.85zM467.7 396.3h0.85v0.85h-0.85zM467.1 396.4h0.85v0.85h-0.85zM460.1 382.6h0.85v0.85h-0.85zM459.9 381.8h0.85v0.85h-0.85zM460.3 382.5h0.85v0.85h-0.85zM449.7 398.5h0.85v0.85h-0.85zM456.7 394.0h0.85v0.85h-0.85zM468.4 381.1h0.85v0.85h-0.85zM449.9 397.1h0.85v0.85h-0.85zM449.6 397.2h0.85v0.85h-0.85zM449.4 397.6h0.85v0.85h-0.85zM449.2 397.7h0.85v0.85h-0.85zM466.3 401.2h0.85v0.85h-0.85zM466.4 401.1h0.85v0.85h-0.85zM466.5 378.0h0.85v0.85h-0.85zM466.5 377.8h0.85v0.85h-0.85zM466.4 377.4h0.85v0.85h-0.85zM466.1 377.9h0.85v0.85h-0.85zM468.5 378.8h0.85v0.85h-0.85zM468.0 378.3h0.85v0.85h-0.85zM468.4 379.0h0.85v0.85h-0.85zM468.4 379.0h0.85v0.85h-0.85zM468.6 378.6h0.85v0.85h-0.85zM462.4 393.7h0.85v0.85h-0.85zM465.9 382.4h0.85v0.85h-0.85zM454.3 401.7h0.85v0.85h-0.85zM453.9 401.9h0.85v0.85h-0.85zM454.4 401.6h0.85v0.85h-0.85zM462.0 377.7h0.85v0.85h-0.85zM461.6 377.8h0.85v0.85h-0.85zM462.1 378.0h0.85v0.85h-0.85zM457.6 394.0h0.85v0.85h-0.85zM457.5 402.7h0.85v0.85h-0.85zM467.7 381.5h0.85v0.85h-0.85zM467.0 381.1h0.85v0.85h-0.85zM450.4 399.1h0.85v0.85h-0.85zM450.6 399.3h0.85v0.85h-0.85zM450.0 399.2h0.85v0.85h-0.85zM461.3 402.9h0.85v0.85h-0.85zM452.0 400.5h0.85v0.85h-0.85zM452.2 400.7h0.85v0.85h-0.85zM464.3 401.7h0.85v0.85h-0.85zM468.5 380.4h0.85v0.85h-0.85zM468.1 380.3h0.85v0.85h-0.85zM466.9 400.8h0.85v0.85h-0.85zM465.4 377.5h0.85v0.85h-0.85zM468.4 379.7h0.85v0.85h-0.85zM468.0 379.3h0.85v0.85h-0.85zM467.9 379.7h0.85v0.85h-0.85zM465.1 381.8h0.85v0.85h-0.85zM460.9 381.9h0.85v0.85h-0.85zM461.1 382.1h0.85v0.85h-0.85zM461.1 382.3h0.85v0.85h-0.85zM459.0 393.7h0.85v0.85h-0.85zM460.0 381.0h0.85v0.85h-0.85zM459.9 381.6h0.85v0.85h-0.85zM450.8 397.7h0.85v0.85h-0.85zM451.7 399.7h0.85v0.85h-0.85zM451.6 399.6h0.85v0.85h-0.85zM450.9 400.2h0.85v0.85h-0.85zM461.5 378.8h0.85v0.85h-0.85zM461.0 378.5h0.85v0.85h-0.85zM464.1 402.2h0.85v0.85h-0.85zM450.5 398.6h0.85v0.85h-0.85zM451.3 396.1h0.85v0.85h-0.85zM451.7 396.6h0.85v0.85h-0.85zM454.9 394.2h0.85v0.85h-0.85zM460.5 380.1h0.85v0.85h-0.85zM460.2 380.4h0.85v0.85h-0.85z" fill="#3cbed9"/>
<path d="M464.3 378.1h0.85v0.85h-0.85zM459.7 402.5h0.85v0.85h-0.85zM464.9 394.9h0.85v0.85h-0.85zM467.5 397.2h0.85v0.85h-0.85zM466.8 380.9h0.85v0.85h-0.85zM466.3 381.3h0.85v0.85h-0.85zM466.1 381.7h0.85v0.85h-0.85zM467.7 399.1h0.85v0.85h-0.85zM462.2 382.0h0.85v0.85h-0.85zM462.0 382.6h0.85v0.85h-0.85zM462.4 382.4h0.85v0.85h-0.85zM454.6 402.0h0.85v0.85h-0.85zM463.7 377.5h0.85v0.85h-0.85zM463.4 378.1h0.85v0.85h-0.85zM464.2 378.0h0.85v0.85h-0.85zM467.7 379.5h0.85v0.85h-0.85zM467.3 379.2h0.85v0.85h-0.85zM467.6 379.7h0.85v0.85h-0.85zM467.8 398.9h0.85v0.85h-0.85zM468.6 399.4h0.85v0.85h-0.85zM467.9 398.8h0.85v0.85h-0.85zM453.3 395.2h0.85v0.85h-0.85zM453.3 395.1h0.85v0.85h-0.85zM452.7 400.4h0.85v0.85h-0.85zM451.0 398.7h0.85v0.85h-0.85zM468.0 398.2h0.85v0.85h-0.85zM465.9 381.1h0.85v0.85h-0.85zM465.4 381.0h0.85v0.85h-0.85zM465.9 381.5h0.85v0.85h-0.85zM455.6 402.7h0.85v0.85h-0.85zM460.8 381.7h0.85v0.85h-0.85zM460.9 381.6h0.85v0.85h-0.85zM450.2 395.8h0.85v0.85h-0.85zM450.7 396.0h0.85v0.85h-0.85zM461.3 379.8h0.85v0.85h-0.85zM460.9 379.2h0.85v0.85h-0.85zM452.6 396.3h0.85v0.85h-0.85zM452.2 396.4h0.85v0.85h-0.85zM452.3 400.2h0.85v0.85h-0.85zM451.1 397.8h0.85v0.85h-0.85zM451.4 397.9h0.85v0.85h-0.85zM451.4 397.9h0.85v0.85h-0.85zM451.8 397.9h0.85v0.85h-0.85zM465.6 378.9h0.85v0.85h-0.85zM465.6 378.4h0.85v0.85h-0.85zM465.1 401.1h0.85v0.85h-0.85zM465.9 394.6h0.85v0.85h-0.85zM461.1 380.2h0.85v0.85h-0.85zM460.8 380.2h0.85v0.85h-0.85zM466.8 396.5h0.85v0.85h-0.85zM464.5 381.0h0.85v0.85h-0.85zM464.5 381.3h0.85v0.85h-0.85zM465.8 395.9h0.85v0.85h-0.85zM465.2 395.6h0.85v0.85h-0.85zM463.2 393.8h0.85v0.85h-0.85z" fill="#3acbd0"/>
<path d="M463.2 378.3h0.85v0.85h-0.85zM462.9 378.7h0.85v0.85h-0.85zM462.6 379.0h0.85v0.85h-0.85zM464.2 378.4h0.85v0.85h-0.85zM455.5 394.5h0.85v0.85h-0.85zM455.5 394.7h0.85v0.85h-0.85zM463.7 381.3h0.85v0.85h-0.85zM463.9 381.6h0.85v0.85h-0.85zM464.0 379.0h0.85v0.85h-0.85zM463.6 378.5h0.85v0.85h-0.85zM465.1 379.8h0.85v0.85h-0.85zM466.0 379.3h0.85v0.85h-0.85zM465.8 379.6h0.85v0.85h-0.85zM465.9 379.5h0.85v0.85h-0.85zM465.8 379.6h0.85v0.85h-0.85zM463.1 381.6h0.85v0.85h-0.85zM463.1 381.7h0.85v0.85h-0.85zM462.5 381.3h0.85v0.85h-0.85zM463.2 381.0h0.85v0.85h-0.85zM462.7 381.6h0.85v0.85h-0.85zM462.2 379.8h0.85v0.85h-0.85zM462.4 379.9h0.85v0.85h-0.85zM467.0 399.7h0.85v0.85h-0.85zM452.2 399.4h0.85v0.85h-0.85zM452.6 399.1h0.85v0.85h-0.85zM452.3 397.6h0.85v0.85h-0.85zM452.0 397.0h0.85v0.85h-0.85zM466.0 400.9h0.85v0.85h-0.85zM462.2 380.4h0.85v0.85h-0.85zM463.0 401.8h0.85v0.85h-0.85zM453.3 399.7h0.85v0.85h-0.85zM453.4 400.3h0.85v0.85h-0.85zM453.2 400.1h0.85v0.85h-0.85zM464.8 380.4h0.85v0.85h-0.85zM464.9 380.3h0.85v0.85h-0.85zM464.4 380.7h0.85v0.85h-0.85zM465.1 380.2h0.85v0.85h-0.85zM464.9 380.2h0.85v0.85h-0.85zM464.8 380.2h0.85v0.85h-0.85zM453.0 396.0h0.85v0.85h-0.85zM457.1 401.5h0.85v0.85h-0.85zM452.2 398.1h0.85v0.85h-0.85zM452.0 398.1h0.85v0.85h-0.85zM464.8 379.7h0.85v0.85h-0.85zM464.6 379.3h0.85v0.85h-0.85zM465.1 379.5h0.85v0.85h-0.85zM462.7 380.0h0.85v0.85h-0.85zM462.6 379.6h0.85v0.85h-0.85zM463.2 379.9h0.85v0.85h-0.85zM462.5 380.4h0.85v0.85h-0.85zM462.6 380.7h0.85v0.85h-0.85zM463.1 380.1h0.85v0.85h-0.85zM463.4 379.7h0.85v0.85h-0.85zM463.8 380.7h0.85v0.85h-0.85zM463.4 380.7h0.85v0.85h-0.85zM463.9 380.6h0.85v0.85h-0.85zM456.5 394.9h0.85v0.85h-0.85zM464.7 401.7h0.85v0.85h-0.85zM466.1 398.7h0.85v0.85h-0.85zM462.5 394.7h0.85v0.85h-0.85zM454.5 401.2h0.85v0.85h-0.85zM455.1 401.0h0.85v0.85h-0.85zM454.8 400.9h0.85v0.85h-0.85z" fill="#35c6b0"/>
<path d="M464.4 400.4h0.85v0.85h-0.85zM460.2 402.3h0.85v0.85h-0.85zM460.1 402.3h0.85v0.85h-0.85zM460.2 402.3h0.85v0.85h-0.85zM460.5 402.6h0.85v0.85h-0.85zM464.7 395.0h0.85v0.85h-0.85zM457.7 401.5h0.85v0.85h-0.85zM457.7 401.7h0.85v0.85h-0.85zM453.3 398.8h0.85v0.85h-0.85zM452.8 398.8h0.85v0.85h-0.85zM455.3 401.8h0.85v0.85h-0.85zM466.9 397.9h0.85v0.85h-0.85zM466.7 398.1h0.85v0.85h-0.85zM453.2 397.5h0.85v0.85h-0.85zM453.3 397.2h0.85v0.85h-0.85zM464.7 395.9h0.85v0.85h-0.85zM464.6 395.7h0.85v0.85h-0.85zM453.7 400.1h0.85v0.85h-0.85zM453.8 399.7h0.85v0.85h-0.85zM453.4 395.9h0.85v0.85h-0.85zM454.7 394.7h0.85v0.85h-0.85zM461.0 401.9h0.85v0.85h-0.85zM453.0 397.9h0.85v0.85h-0.85zM452.9 398.4h0.85v0.85h-0.85zM452.7 398.1h0.85v0.85h-0.85zM453.4 397.9h0.85v0.85h-0.85zM453.0 401.0h0.85v0.85h-0.85zM467.1 398.1h0.85v0.85h-0.85zM467.6 398.1h0.85v0.85h-0.85zM458.8 394.8h0.85v0.85h-0.85zM454.1 396.8h0.85v0.85h-0.85zM454.2 396.0h0.85v0.85h-0.85zM465.4 396.7h0.85v0.85h-0.85zM466.0 396.7h0.85v0.85h-0.85zM465.6 396.6h0.85v0.85h-0.85zM458.6 401.5h0.85v0.85h-0.85zM461.4 395.1h0.85v0.85h-0.85zM459.8 401.5h0.85v0.85h-0.85zM459.7 401.4h0.85v0.85h-0.85zM452.7 400.0h0.85v0.85h-0.85z" fill="#2fc090"/>
<path d="M451.5 398.6h0.85v0.85h-0.85zM464.0 401.1h0.85v0.85h-0.85zM466.3 399.6h0.85v0.85h-0.85zM466.2 399.6h0.85v0.85h-0.85zM466.6 399.9h0.85v0.85h-0.85zM466.8 396.7h0.85v0.85h-0.85zM466.1 396.1h0.85v0.85h-0.85zM456.0 395.2h0.85v0.85h-0.85zM455.6 395.4h0.85v0.85h-0.85zM454.0 398.9h0.85v0.85h-0.85zM456.2 395.0h0.85v0.85h-0.85zM455.9 394.5h0.85v0.85h-0.85zM455.2 400.0h0.85v0.85h-0.85zM454.1 397.1h0.85v0.85h-0.85zM454.3 397.6h0.85v0.85h-0.85zM453.7 395.7h0.85v0.85h-0.85zM464.2 395.8h0.85v0.85h-0.85zM462.6 402.1h0.85v0.85h-0.85zM463.1 401.4h0.85v0.85h-0.85zM463.0 401.4h0.85v0.85h-0.85zM454.8 396.2h0.85v0.85h-0.85zM455.3 396.2h0.85v0.85h-0.85zM455.2 396.5h0.85v0.85h-0.85zM453.4 396.6h0.85v0.85h-0.85zM452.7 396.2h0.85v0.85h-0.85z" fill="#2abb70"/>
<path d="M456.9 401.3h0.85v0.85h-0.85zM465.9 397.8h0.85v0.85h-0.85zM465.3 398.4h0.85v0.85h-0.85zM465.6 398.0h0.85v0.85h-0.85zM464.8 396.6h0.85v0.85h-0.85zM466.8 397.1h0.85v0.85h-0.85zM454.7 398.9h0.85v0.85h-0.85zM462.6 395.5h0.85v0.85h-0.85zM463.0 395.9h0.85v0.85h-0.85zM455.7 400.3h0.85v0.85h-0.85zM458.0 401.0h0.85v0.85h-0.85zM466.2 398.3h0.85v0.85h-0.85zM466.7 397.8h0.85v0.85h-0.85zM466.7 398.5h0.85v0.85h-0.85zM466.1 398.0h0.85v0.85h-0.85zM461.9 400.5h0.85v0.85h-0.85zM462.0 401.0h0.85v0.85h-0.85zM455.0 396.9h0.85v0.85h-0.85zM455.1 397.4h0.85v0.85h-0.85zM457.7 395.5h0.85v0.85h-0.85z" fill="#34bb5c"/>
<path d="M464.4 395.9h0.85v0.85h-0.85zM465.3 399.6h0.85v0.85h-0.85zM462.2 394.4h0.85v0.85h-0.85zM456.1 396.1h0.85v0.85h-0.85zM455.5 396.4h0.85v0.85h-0.85zM454.5 398.3h0.85v0.85h-0.85zM454.9 398.1h0.85v0.85h-0.85zM458.6 394.9h0.85v0.85h-0.85zM458.5 394.7h0.85v0.85h-0.85zM465.3 396.6h0.85v0.85h-0.85zM458.8 401.3h0.85v0.85h-0.85zM464.8 398.8h0.85v0.85h-0.85zM464.3 399.2h0.85v0.85h-0.85zM464.8 398.8h0.85v0.85h-0.85zM458.3 400.4h0.85v0.85h-0.85zM458.5 400.7h0.85v0.85h-0.85zM458.2 401.2h0.85v0.85h-0.85zM461.3 400.9h0.85v0.85h-0.85zM462.4 395.7h0.85v0.85h-0.85zM462.0 395.7h0.85v0.85h-0.85zM461.8 395.4h0.85v0.85h-0.85zM460.8 394.8h0.85v0.85h-0.85zM459.6 394.4h0.85v0.85h-0.85zM460.3 401.4h0.85v0.85h-0.85zM460.1 402.0h0.85v0.85h-0.85zM465.0 397.4h0.85v0.85h-0.85zM464.5 397.5h0.85v0.85h-0.85zM455.5 400.5h0.85v0.85h-0.85zM460.3 394.6h0.85v0.85h-0.85zM460.3 394.9h0.85v0.85h-0.85zM460.2 394.5h0.85v0.85h-0.85zM460.4 401.2h0.85v0.85h-0.85zM459.0 400.7h0.85v0.85h-0.85zM463.6 396.7h0.85v0.85h-0.85zM463.8 400.7h0.85v0.85h-0.85zM463.6 400.9h0.85v0.85h-0.85zM464.8 398.2h0.85v0.85h-0.85zM465.1 397.9h0.85v0.85h-0.85zM456.5 400.4h0.85v0.85h-0.85z" fill="#4ac050"/>
<path d="M455.4 395.6h0.85v0.85h-0.85zM455.9 399.0h0.85v0.85h-0.85zM455.5 398.8h0.85v0.85h-0.85zM455.8 398.9h0.85v0.85h-0.85zM454.4 399.1h0.85v0.85h-0.85zM456.7 396.5h0.85v0.85h-0.85zM457.1 396.1h0.85v0.85h-0.85zM454.6 400.0h0.85v0.85h-0.85zM463.7 395.7h0.85v0.85h-0.85zM465.9 399.1h0.85v0.85h-0.85zM465.5 398.9h0.85v0.85h-0.85zM465.7 399.1h0.85v0.85h-0.85zM465.6 397.3h0.85v0.85h-0.85zM455.3 396.8h0.85v0.85h-0.85zM454.8 396.4h0.85v0.85h-0.85zM454.5 396.3h0.85v0.85h-0.85zM464.4 399.9h0.85v0.85h-0.85zM464.8 400.3h0.85v0.85h-0.85zM464.7 400.0h0.85v0.85h-0.85z" fill="#5fc545"/>
<path d="M462.8 396.5h0.85v0.85h-0.85zM457.3 400.1h0.85v0.85h-0.85zM457.9 400.2h0.85v0.85h-0.85zM457.8 400.2h0.85v0.85h-0.85zM463.2 400.7h0.85v0.85h-0.85zM462.9 400.5h0.85v0.85h-0.85zM465.1 397.8h0.85v0.85h-0.85zM465.6 398.4h0.85v0.85h-0.85zM457.0 395.6h0.85v0.85h-0.85zM458.0 396.4h0.85v0.85h-0.85zM457.4 396.1h0.85v0.85h-0.85zM464.4 396.1h0.85v0.85h-0.85zM464.4 396.1h0.85v0.85h-0.85zM457.0 396.9h0.85v0.85h-0.85zM456.2 397.6h0.85v0.85h-0.85zM456.3 397.3h0.85v0.85h-0.85zM456.3 397.6h0.85v0.85h-0.85zM457.1 396.9h0.85v0.85h-0.85zM463.2 395.5h0.85v0.85h-0.85zM463.2 395.2h0.85v0.85h-0.85zM462.7 395.3h0.85v0.85h-0.85zM458.8 399.8h0.85v0.85h-0.85zM458.2 399.8h0.85v0.85h-0.85zM456.0 400.2h0.85v0.85h-0.85zM456.2 399.7h0.85v0.85h-0.85zM455.5 400.1h0.85v0.85h-0.85zM457.5 400.5h0.85v0.85h-0.85zM462.0 396.6h0.85v0.85h-0.85zM458.6 396.2h0.85v0.85h-0.85zM458.6 396.5h0.85v0.85h-0.85zM458.2 396.4h0.85v0.85h-0.85zM462.2 401.2h0.85v0.85h-0.85zM461.7 400.6h0.85v0.85h-0.85zM461.7 401.0h0.85v0.85h-0.85zM454.5 397.1h0.85v0.85h-0.85zM455.1 397.1h0.85v0.85h-0.85zM455.0 397.5h0.85v0.85h-0.85zM454.7 397.5h0.85v0.85h-0.85z" fill="#75ca39"/>
<path d="M456.6 398.3h0.85v0.85h-0.85zM456.4 398.0h0.85v0.85h-0.85zM456.5 397.8h0.85v0.85h-0.85zM463.2 399.0h0.85v0.85h-0.85zM463.2 399.3h0.85v0.85h-0.85zM459.5 399.6h0.85v0.85h-0.85zM458.9 400.0h0.85v0.85h-0.85zM460.5 400.1h0.85v0.85h-0.85zM455.4 396.5h0.85v0.85h-0.85zM456.2 396.8h0.85v0.85h-0.85zM459.1 396.2h0.85v0.85h-0.85zM458.9 396.2h0.85v0.85h-0.85zM461.4 396.3h0.85v0.85h-0.85zM461.4 396.8h0.85v0.85h-0.85zM460.9 396.1h0.85v0.85h-0.85zM455.2 398.2h0.85v0.85h-0.85zM455.1 398.3h0.85v0.85h-0.85zM462.4 397.7h0.85v0.85h-0.85zM463.8 399.7h0.85v0.85h-0.85zM464.1 400.3h0.85v0.85h-0.85zM463.3 399.8h0.85v0.85h-0.85zM465.1 399.1h0.85v0.85h-0.85zM465.0 399.1h0.85v0.85h-0.85zM464.6 399.1h0.85v0.85h-0.85zM465.1 399.4h0.85v0.85h-0.85zM458.5 401.1h0.85v0.85h-0.85zM458.7 400.9h0.85v0.85h-0.85zM458.6 400.6h0.85v0.85h-0.85zM458.7 400.8h0.85v0.85h-0.85zM458.7 400.9h0.85v0.85h-0.85zM458.7 400.5h0.85v0.85h-0.85zM461.1 401.1h0.85v0.85h-0.85zM457.4 399.2h0.85v0.85h-0.85zM461.7 395.6h0.85v0.85h-0.85zM462.2 395.5h0.85v0.85h-0.85zM458.1 395.7h0.85v0.85h-0.85zM458.4 396.0h0.85v0.85h-0.85zM457.7 397.0h0.85v0.85h-0.85zM464.9 397.5h0.85v0.85h-0.85zM459.8 400.9h0.85v0.85h-0.85zM459.0 400.4h0.85v0.85h-0.85zM459.5 395.4h0.85v0.85h-0.85zM459.1 395.7h0.85v0.85h-0.85zM463.9 396.4h0.85v0.85h-0.85zM463.8 396.4h0.85v0.85h-0.85zM464.0 396.2h0.85v0.85h-0.85zM463.7 396.1h0.85v0.85h-0.85zM460.8 395.8h0.85v0.85h-0.85z" fill="#8fcf30"/>
<path d="M461.7 399.2h0.85v0.85h-0.85zM461.8 398.9h0.85v0.85h-0.85zM462.3 399.2h0.85v0.85h-0.85zM460.2 396.0h0.85v0.85h-0.85zM460.5 395.9h0.85v0.85h-0.85zM460.3 395.5h0.85v0.85h-0.85zM457.3 398.2h0.85v0.85h-0.85zM457.8 398.5h0.85v0.85h-0.85zM457.9 398.5h0.85v0.85h-0.85zM457.1 398.1h0.85v0.85h-0.85zM457.3 398.0h0.85v0.85h-0.85zM457.2 398.4h0.85v0.85h-0.85zM464.4 397.9h0.85v0.85h-0.85zM464.9 398.1h0.85v0.85h-0.85zM464.4 398.0h0.85v0.85h-0.85zM456.6 399.9h0.85v0.85h-0.85zM456.9 399.5h0.85v0.85h-0.85zM456.6 399.7h0.85v0.85h-0.85zM461.9 397.6h0.85v0.85h-0.85zM461.8 397.6h0.85v0.85h-0.85zM456.0 399.4h0.85v0.85h-0.85zM455.5 399.4h0.85v0.85h-0.85zM458.6 399.0h0.85v0.85h-0.85zM458.5 397.6h0.85v0.85h-0.85zM458.1 397.6h0.85v0.85h-0.85zM456.8 396.7h0.85v0.85h-0.85zM461.1 399.1h0.85v0.85h-0.85zM460.8 399.2h0.85v0.85h-0.85zM455.8 396.9h0.85v0.85h-0.85zM455.5 396.9h0.85v0.85h-0.85zM455.8 397.6h0.85v0.85h-0.85zM463.3 399.6h0.85v0.85h-0.85zM462.6 399.8h0.85v0.85h-0.85zM459.3 399.0h0.85v0.85h-0.85zM459.2 398.9h0.85v0.85h-0.85zM459.1 399.1h0.85v0.85h-0.85zM460.9 397.6h0.85v0.85h-0.85zM461.2 397.6h0.85v0.85h-0.85zM460.9 397.5h0.85v0.85h-0.85zM460.3 399.0h0.85v0.85h-0.85zM459.9 398.8h0.85v0.85h-0.85zM459.3 397.1h0.85v0.85h-0.85zM458.6 398.6h0.85v0.85h-0.85zM455.4 397.8h0.85v0.85h-0.85zM456.0 398.1h0.85v0.85h-0.85zM455.6 398.6h0.85v0.85h-0.85z" fill="#b2d52d"/>
<path d="M463.5 399.4h0.85v0.85h-0.85zM463.6 398.7h0.85v0.85h-0.85zM463.5 399.3h0.85v0.85h-0.85zM464.0 398.9h0.85v0.85h-0.85zM463.6 398.7h0.85v0.85h-0.85zM463.7 399.1h0.85v0.85h-0.85zM464.1 398.6h0.85v0.85h-0.85zM461.5 398.1h0.85v0.85h-0.85zM462.7 396.0h0.85v0.85h-0.85zM463.1 396.7h0.85v0.85h-0.85zM457.8 399.7h0.85v0.85h-0.85zM457.1 400.1h0.85v0.85h-0.85zM457.4 399.6h0.85v0.85h-0.85zM459.0 398.0h0.85v0.85h-0.85zM459.2 397.9h0.85v0.85h-0.85zM459.8 398.1h0.85v0.85h-0.85zM460.5 398.2h0.85v0.85h-0.85zM463.5 397.1h0.85v0.85h-0.85zM463.5 397.1h0.85v0.85h-0.85zM463.6 397.5h0.85v0.85h-0.85zM463.5 397.5h0.85v0.85h-0.85zM463.8 396.9h0.85v0.85h-0.85zM457.8 396.6h0.85v0.85h-0.85zM461.6 400.2h0.85v0.85h-0.85zM462.4 399.7h0.85v0.85h-0.85zM462.1 399.8h0.85v0.85h-0.85zM462.2 400.1h0.85v0.85h-0.85zM456.3 399.2h0.85v0.85h-0.85zM463.4 398.3h0.85v0.85h-0.85zM463.7 398.4h0.85v0.85h-0.85zM463.9 398.1h0.85v0.85h-0.85zM463.9 398.1h0.85v0.85h-0.85zM463.4 398.4h0.85v0.85h-0.85zM463.6 398.4h0.85v0.85h-0.85z" fill="#d5db2a"/>
<path d="M456.6 397.4h0.85v0.85h-0.85zM456.4 397.6h0.85v0.85h-0.85zM456.7 397.2h0.85v0.85h-0.85zM456.2 397.1h0.85v0.85h-0.85zM456.9 397.3h0.85v0.85h-0.85zM456.7 396.9h0.85v0.85h-0.85zM456.3 397.2h0.85v0.85h-0.85zM458.4 399.9h0.85v0.85h-0.85zM458.6 400.2h0.85v0.85h-0.85zM458.2 400.3h0.85v0.85h-0.85zM462.1 396.2h0.85v0.85h-0.85zM461.9 396.4h0.85v0.85h-0.85zM462.0 396.8h0.85v0.85h-0.85zM461.6 396.1h0.85v0.85h-0.85zM462.0 396.8h0.85v0.85h-0.85zM462.0 396.0h0.85v0.85h-0.85zM461.6 396.7h0.85v0.85h-0.85zM461.7 396.2h0.85v0.85h-0.85zM458.0 396.5h0.85v0.85h-0.85zM458.6 396.5h0.85v0.85h-0.85zM458.4 396.4h0.85v0.85h-0.85zM458.9 396.7h0.85v0.85h-0.85zM458.8 396.6h0.85v0.85h-0.85zM458.6 396.5h0.85v0.85h-0.85zM458.3 396.8h0.85v0.85h-0.85zM458.6 396.5h0.85v0.85h-0.85zM458.8 396.1h0.85v0.85h-0.85zM461.1 400.3h0.85v0.85h-0.85zM461.2 400.1h0.85v0.85h-0.85zM461.5 400.1h0.85v0.85h-0.85zM456.9 397.8h0.85v0.85h-0.85zM456.4 398.6h0.85v0.85h-0.85zM456.2 398.4h0.85v0.85h-0.85zM457.0 398.4h0.85v0.85h-0.85zM457.0 398.5h0.85v0.85h-0.85zM463.3 399.2h0.85v0.85h-0.85zM462.7 399.4h0.85v0.85h-0.85zM463.0 399.4h0.85v0.85h-0.85zM458.9 399.6h0.85v0.85h-0.85zM459.6 399.9h0.85v0.85h-0.85zM459.1 400.1h0.85v0.85h-0.85zM460.0 400.2h0.85v0.85h-0.85zM460.2 400.4h0.85v0.85h-0.85zM460.0 400.2h0.85v0.85h-0.85zM460.3 400.2h0.85v0.85h-0.85zM460.1 399.8h0.85v0.85h-0.85zM459.3 396.3h0.85v0.85h-0.85zM459.7 396.1h0.85v0.85h-0.85zM459.0 396.7h0.85v0.85h-0.85zM460.9 396.5h0.85v0.85h-0.85zM461.3 396.2h0.85v0.85h-0.85zM461.3 396.8h0.85v0.85h-0.85zM461.3 396.7h0.85v0.85h-0.85zM460.9 396.5h0.85v0.85h-0.85zM462.8 396.9h0.85v0.85h-0.85zM463.1 397.3h0.85v0.85h-0.85zM463.0 397.3h0.85v0.85h-0.85zM460.4 396.5h0.85v0.85h-0.85zM460.7 396.5h0.85v0.85h-0.85zM460.6 396.5h0.85v0.85h-0.85z" fill="#f5dd27"/>
<path d="M458.0 398.6h0.85v0.85h-0.85zM457.9 398.9h0.85v0.85h-0.85zM457.3 398.6h0.85v0.85h-0.85zM457.2 397.3h0.85v0.85h-0.85zM457.2 397.4h0.85v0.85h-0.85zM463.1 397.8h0.85v0.85h-0.85zM463.0 398.1h0.85v0.85h-0.85zM462.9 398.1h0.85v0.85h-0.85zM462.9 397.9h0.85v0.85h-0.85zM462.0 398.9h0.85v0.85h-0.85zM461.9 398.9h0.85v0.85h-0.85zM462.0 399.5h0.85v0.85h-0.85zM462.0 398.7h0.85v0.85h-0.85zM461.7 399.0h0.85v0.85h-0.85zM461.6 399.0h0.85v0.85h-0.85zM461.7 398.7h0.85v0.85h-0.85zM461.6 399.3h0.85v0.85h-0.85zM457.6 398.5h0.85v0.85h-0.85zM457.7 398.4h0.85v0.85h-0.85zM457.4 398.4h0.85v0.85h-0.85zM457.8 397.9h0.85v0.85h-0.85zM457.3 398.2h0.85v0.85h-0.85zM457.3 398.1h0.85v0.85h-0.85z" fill="#f7be23"/>
<path d="M461.7 397.1h0.85v0.85h-0.85zM462.2 397.3h0.85v0.85h-0.85zM462.4 397.3h0.85v0.85h-0.85zM461.6 397.7h0.85v0.85h-0.85zM461.9 397.4h0.85v0.85h-0.85zM458.1 398.9h0.85v0.85h-0.85zM458.4 399.3h0.85v0.85h-0.85zM458.8 398.8h0.85v0.85h-0.85zM461.2 398.8h0.85v0.85h-0.85zM461.4 398.8h0.85v0.85h-0.85zM461.1 399.1h0.85v0.85h-0.85zM460.7 399.0h0.85v0.85h-0.85zM461.9 398.2h0.85v0.85h-0.85zM462.0 398.4h0.85v0.85h-0.85zM461.9 397.7h0.85v0.85h-0.85zM461.8 398.4h0.85v0.85h-0.85zM462.4 397.8h0.85v0.85h-0.85zM459.0 399.5h0.85v0.85h-0.85zM458.9 398.8h0.85v0.85h-0.85zM461.4 397.2h0.85v0.85h-0.85zM461.2 397.5h0.85v0.85h-0.85zM461.2 397.4h0.85v0.85h-0.85zM460.9 397.4h0.85v0.85h-0.85zM461.1 397.3h0.85v0.85h-0.85zM460.1 398.9h0.85v0.85h-0.85zM460.5 399.4h0.85v0.85h-0.85zM460.1 398.7h0.85v0.85h-0.85zM459.2 397.0h0.85v0.85h-0.85zM459.0 397.3h0.85v0.85h-0.85zM459.1 397.1h0.85v0.85h-0.85zM459.5 397.7h0.85v0.85h-0.85zM459.6 397.3h0.85v0.85h-0.85zM458.3 398.2h0.85v0.85h-0.85zM458.2 398.3h0.85v0.85h-0.85zM458.3 398.0h0.85v0.85h-0.85zM458.6 398.0h0.85v0.85h-0.85zM458.1 398.2h0.85v0.85h-0.85zM459.9 397.3h0.85v0.85h-0.85zM460.4 397.7h0.85v0.85h-0.85zM460.2 397.3h0.85v0.85h-0.85z" fill="#f89e20"/>
<path d="M460.7 398.5h0.85v0.85h-0.85zM460.8 398.0h0.85v0.85h-0.85zM459.5 397.9h0.85v0.85h-0.85zM459.0 398.1h0.85v0.85h-0.85zM459.7 398.5h0.85v0.85h-0.85zM459.5 398.2h0.85v0.85h-0.85zM459.3 398.2h0.85v0.85h-0.85zM459.8 397.8h0.85v0.85h-0.85zM460.0 398.0h0.85v0.85h-0.85zM459.8 398.5h0.85v0.85h-0.85zM460.1 398.3h0.85v0.85h-0.85zM460.2 398.3h0.85v0.85h-0.85zM460.6 397.9h0.85v0.85h-0.85zM460.4 397.8h0.85v0.85h-0.85zM460.3 398.0h0.85v0.85h-0.85zM460.7 398.5h0.85v0.85h-0.85zM460.5 398.1h0.85v0.85h-0.85zM460.0 398.0h0.85v0.85h-0.85z" fill="#f5791e"/>
<path d="M382.4 514.8h0.85v0.85h-0.85zM374.9 535.2h0.85v0.85h-0.85zM329.3 509.9h0.85v0.85h-0.85zM368.5 544.1h0.85v0.85h-0.85zM367.2 553.9h0.85v0.85h-0.85zM337.6 554.8h0.85v0.85h-0.85zM330.2 513.5h0.85v0.85h-0.85zM366.7 538.3h0.85v0.85h-0.85zM329.1 517.6h0.85v0.85h-0.85zM367.6 551.6h0.85v0.85h-0.85zM326.7 549.6h0.85v0.85h-0.85zM327.2 550.2h0.85v0.85h-0.85zM340.1 554.3h0.85v0.85h-0.85zM361.2 555.5h0.85v0.85h-0.85z" fill="#6c5bc8" opacity="0.8"/>
<path d="M324.6 538.3h0.85v0.85h-0.85zM359.7 555.3h0.85v0.85h-0.85zM324.9 543.0h0.85v0.85h-0.85zM343.1 555.0h0.85v0.85h-0.85zM326.1 526.5h0.85v0.85h-0.85zM331.9 552.2h0.85v0.85h-0.85zM351.5 555.5h0.85v0.85h-0.85zM326.6 535.0h0.85v0.85h-0.85zM330.2 551.6h0.85v0.85h-0.85zM349.3 554.8h0.85v0.85h-0.85zM328.5 525.2h0.85v0.85h-0.85zM348.5 554.4h0.85v0.85h-0.85zM363.6 539.7h0.85v0.85h-0.85zM364.3 550.0h0.85v0.85h-0.85zM326.6 530.7h0.85v0.85h-0.85zM363.1 544.2h0.85v0.85h-0.85zM337.2 550.5h0.85v0.85h-0.85zM333.3 516.7h0.85v0.85h-0.85zM357.3 544.0h0.85v0.85h-0.85zM333.0 552.8h0.85v0.85h-0.85zM364.5 549.6h0.85v0.85h-0.85zM347.5 555.5h0.85v0.85h-0.85zM363.3 550.4h0.85v0.85h-0.85zM334.8 514.7h0.85v0.85h-0.85zM367.6 524.4h0.85v0.85h-0.85zM328.0 526.1h0.85v0.85h-0.85zM361.7 552.4h0.85v0.85h-0.85zM343.5 553.5h0.85v0.85h-0.85zM326.9 534.5h0.85v0.85h-0.85zM327.6 539.5h0.85v0.85h-0.85zM331.1 550.4h0.85v0.85h-0.85zM362.2 539.8h0.85v0.85h-0.85zM351.1 555.0h0.85v0.85h-0.85zM327.2 544.3h0.85v0.85h-0.85zM363.8 545.3h0.85v0.85h-0.85zM337.6 551.3h0.85v0.85h-0.85zM339.1 512.1h0.85v0.85h-0.85zM327.5 541.9h0.85v0.85h-0.85zM333.6 515.6h0.85v0.85h-0.85zM346.9 554.6h0.85v0.85h-0.85zM328.3 536.9h0.85v0.85h-0.85zM328.3 529.2h0.85v0.85h-0.85zM329.0 546.1h0.85v0.85h-0.85zM353.7 553.8h0.85v0.85h-0.85zM363.1 541.0h0.85v0.85h-0.85zM336.7 549.3h0.85v0.85h-0.85zM364.3 535.0h0.85v0.85h-0.85zM364.2 534.4h0.85v0.85h-0.85zM354.4 552.0h0.85v0.85h-0.85zM352.5 546.1h0.85v0.85h-0.85zM358.0 544.8h0.85v0.85h-0.85zM363.5 544.5h0.85v0.85h-0.85zM363.2 551.1h0.85v0.85h-0.85zM356.0 551.7h0.85v0.85h-0.85zM351.7 544.2h0.85v0.85h-0.85zM358.0 549.5h0.85v0.85h-0.85zM335.2 549.3h0.85v0.85h-0.85zM356.7 550.9h0.85v0.85h-0.85zM350.6 545.6h0.85v0.85h-0.85zM360.7 550.1h0.85v0.85h-0.85zM350.4 550.6h0.85v0.85h-0.85zM327.4 545.8h0.85v0.85h-0.85zM329.1 525.3h0.85v0.85h-0.85zM348.4 549.1h0.85v0.85h-0.85zM352.8 550.1h0.85v0.85h-0.85zM353.0 549.8h0.85v0.85h-0.85zM360.7 544.8h0.85v0.85h-0.85zM332.2 521.4h0.85v0.85h-0.85zM346.5 550.7h0.85v0.85h-0.85zM346.5 550.4h0.85v0.85h-0.85zM361.5 545.0h0.85v0.85h-0.85zM352.7 552.8h0.85v0.85h-0.85z" fill="#6153c4" opacity="0.8"/>
<path d="M339.0 549.6h0.85v0.85h-0.85zM354.0 550.1h0.85v0.85h-0.85zM359.2 552.5h0.85v0.85h-0.85zM360.2 547.6h0.85v0.85h-0.85zM334.3 516.9h0.85v0.85h-0.85zM355.4 552.4h0.85v0.85h-0.85zM330.3 545.1h0.85v0.85h-0.85zM357.8 552.4h0.85v0.85h-0.85zM366.7 517.9h0.85v0.85h-0.85zM360.2 541.5h0.85v0.85h-0.85zM360.2 548.4h0.85v0.85h-0.85zM344.0 550.5h0.85v0.85h-0.85zM331.7 550.0h0.85v0.85h-0.85zM332.8 547.4h0.85v0.85h-0.85zM354.6 541.9h0.85v0.85h-0.85zM331.9 542.1h0.85v0.85h-0.85zM341.1 550.0h0.85v0.85h-0.85zM358.0 539.8h0.85v0.85h-0.85zM359.5 548.5h0.85v0.85h-0.85zM331.5 545.6h0.85v0.85h-0.85zM332.0 542.3h0.85v0.85h-0.85zM332.2 538.7h0.85v0.85h-0.85zM334.0 546.0h0.85v0.85h-0.85zM359.0 550.6h0.85v0.85h-0.85zM331.3 549.2h0.85v0.85h-0.85zM329.7 544.4h0.85v0.85h-0.85zM329.4 532.9h0.85v0.85h-0.85zM372.2 520.1h0.85v0.85h-0.85zM329.7 535.8h0.85v0.85h-0.85zM342.5 549.5h0.85v0.85h-0.85zM329.5 529.8h0.85v0.85h-0.85zM354.0 506.6h0.85v0.85h-0.85zM343.8 547.2h0.85v0.85h-0.85zM331.5 542.1h0.85v0.85h-0.85zM358.2 540.7h0.85v0.85h-0.85zM331.5 530.9h0.85v0.85h-0.85zM356.8 541.0h0.85v0.85h-0.85zM362.3 533.9h0.85v0.85h-0.85zM339.8 547.6h0.85v0.85h-0.85zM343.4 546.3h0.85v0.85h-0.85zM341.2 547.9h0.85v0.85h-0.85zM332.0 525.8h0.85v0.85h-0.85zM331.1 547.4h0.85v0.85h-0.85zM358.1 538.1h0.85v0.85h-0.85zM347.1 503.9h0.85v0.85h-0.85zM352.1 507.2h0.85v0.85h-0.85zM336.5 546.4h0.85v0.85h-0.85zM330.5 535.9h0.85v0.85h-0.85zM332.4 546.8h0.85v0.85h-0.85zM330.4 528.9h0.85v0.85h-0.85zM344.1 548.2h0.85v0.85h-0.85zM344.8 548.3h0.85v0.85h-0.85zM337.8 545.1h0.85v0.85h-0.85zM343.9 548.1h0.85v0.85h-0.85zM359.1 504.6h0.85v0.85h-0.85zM341.0 511.4h0.85v0.85h-0.85zM338.2 540.8h0.85v0.85h-0.85zM332.3 538.4h0.85v0.85h-0.85zM333.9 521.3h0.85v0.85h-0.85zM353.2 539.7h0.85v0.85h-0.85zM338.2 544.2h0.85v0.85h-0.85zM349.1 544.2h0.85v0.85h-0.85zM334.9 537.7h0.85v0.85h-0.85zM350.0 543.2h0.85v0.85h-0.85zM349.8 543.6h0.85v0.85h-0.85zM359.4 538.3h0.85v0.85h-0.85zM334.4 519.8h0.85v0.85h-0.85zM331.2 535.7h0.85v0.85h-0.85zM331.7 535.8h0.85v0.85h-0.85zM333.5 545.7h0.85v0.85h-0.85zM360.7 536.3h0.85v0.85h-0.85zM336.6 544.6h0.85v0.85h-0.85zM333.4 543.8h0.85v0.85h-0.85zM340.6 507.6h0.85v0.85h-0.85zM334.0 535.5h0.85v0.85h-0.85zM333.4 527.1h0.85v0.85h-0.85zM356.5 539.5h0.85v0.85h-0.85zM333.1 538.0h0.85v0.85h-0.85zM338.3 544.0h0.85v0.85h-0.85zM342.4 546.2h0.85v0.85h-0.85zM341.9 512.9h0.85v0.85h-0.85zM358.3 534.9h0.85v0.85h-0.85zM331.2 528.4h0.85v0.85h-0.85zM334.0 543.1h0.85v0.85h-0.85zM359.6 537.1h0.85v0.85h-0.85zM333.4 531.0h0.85v0.85h-0.85zM348.7 543.3h0.85v0.85h-0.85zM349.2 543.2h0.85v0.85h-0.85zM340.3 543.8h0.85v0.85h-0.85zM360.4 534.4h0.85v0.85h-0.85zM334.5 542.3h0.85v0.85h-0.85zM334.9 540.7h0.85v0.85h-0.85z" fill="#564bc0" opacity="0.8"/>
<path d="M334.5 535.9h0.85v0.85h-0.85zM335.4 542.8h0.85v0.85h-0.85zM335.3 542.5h0.85v0.85h-0.85zM342.9 545.8h0.85v0.85h-0.85zM345.8 545.6h0.85v0.85h-0.85zM359.8 536.3h0.85v0.85h-0.85zM351.8 540.1h0.85v0.85h-0.85zM358.1 534.7h0.85v0.85h-0.85zM335.5 519.4h0.85v0.85h-0.85zM336.8 541.1h0.85v0.85h-0.85zM332.8 525.4h0.85v0.85h-0.85zM339.6 542.3h0.85v0.85h-0.85zM364.0 520.4h0.85v0.85h-0.85zM341.9 540.6h0.85v0.85h-0.85zM362.7 528.3h0.85v0.85h-0.85zM342.9 542.1h0.85v0.85h-0.85zM331.7 530.0h0.85v0.85h-0.85zM337.0 538.8h0.85v0.85h-0.85zM345.4 544.2h0.85v0.85h-0.85zM346.8 543.7h0.85v0.85h-0.85zM357.2 537.6h0.85v0.85h-0.85zM338.3 540.0h0.85v0.85h-0.85zM334.4 537.2h0.85v0.85h-0.85zM360.8 532.1h0.85v0.85h-0.85zM337.1 538.9h0.85v0.85h-0.85zM349.2 542.3h0.85v0.85h-0.85zM334.6 525.9h0.85v0.85h-0.85zM333.1 533.9h0.85v0.85h-0.85zM339.5 517.4h0.85v0.85h-0.85zM333.4 526.8h0.85v0.85h-0.85zM369.8 522.6h0.85v0.85h-0.85zM335.2 536.7h0.85v0.85h-0.85zM334.7 530.6h0.85v0.85h-0.85zM333.0 532.4h0.85v0.85h-0.85zM338.0 538.1h0.85v0.85h-0.85zM345.7 510.9h0.85v0.85h-0.85zM344.5 540.5h0.85v0.85h-0.85zM348.0 542.0h0.85v0.85h-0.85zM361.7 500.3h0.85v0.85h-0.85zM339.2 538.5h0.85v0.85h-0.85zM369.7 518.4h0.85v0.85h-0.85zM336.2 533.6h0.85v0.85h-0.85zM338.3 516.8h0.85v0.85h-0.85zM359.9 532.0h0.85v0.85h-0.85zM333.5 525.8h0.85v0.85h-0.85zM336.8 536.7h0.85v0.85h-0.85zM356.9 535.4h0.85v0.85h-0.85zM333.5 533.2h0.85v0.85h-0.85zM333.7 533.4h0.85v0.85h-0.85zM353.4 537.8h0.85v0.85h-0.85zM352.0 537.9h0.85v0.85h-0.85zM343.6 542.4h0.85v0.85h-0.85zM345.7 542.7h0.85v0.85h-0.85zM342.6 537.2h0.85v0.85h-0.85zM344.8 542.6h0.85v0.85h-0.85zM344.6 543.0h0.85v0.85h-0.85zM341.5 540.7h0.85v0.85h-0.85zM334.1 527.5h0.85v0.85h-0.85zM364.0 522.7h0.85v0.85h-0.85zM338.3 536.2h0.85v0.85h-0.85zM343.0 542.2h0.85v0.85h-0.85zM334.0 529.9h0.85v0.85h-0.85zM339.8 537.2h0.85v0.85h-0.85zM357.2 534.5h0.85v0.85h-0.85zM356.1 506.5h0.85v0.85h-0.85zM336.5 536.0h0.85v0.85h-0.85zM362.0 511.4h0.85v0.85h-0.85zM346.1 541.4h0.85v0.85h-0.85zM341.7 539.7h0.85v0.85h-0.85zM361.2 529.2h0.85v0.85h-0.85zM339.6 536.3h0.85v0.85h-0.85zM352.7 535.8h0.85v0.85h-0.85zM361.3 501.5h0.85v0.85h-0.85zM335.4 523.7h0.85v0.85h-0.85zM346.1 506.7h0.85v0.85h-0.85zM334.5 533.3h0.85v0.85h-0.85zM342.4 540.7h0.85v0.85h-0.85z" fill="#4c46bf" opacity="0.8"/>
<path d="M352.9 507.1h0.85v0.85h-0.85zM349.2 539.1h0.85v0.85h-0.85zM349.1 539.1h0.85v0.85h-0.85zM347.8 537.4h0.85v0.85h-0.85zM336.1 533.7h0.85v0.85h-0.85zM353.8 536.7h0.85v0.85h-0.85zM353.2 536.3h0.85v0.85h-0.85zM368.1 507.8h0.85v0.85h-0.85zM351.8 537.5h0.85v0.85h-0.85zM362.8 518.0h0.85v0.85h-0.85zM342.9 539.9h0.85v0.85h-0.85zM335.6 525.0h0.85v0.85h-0.85zM335.3 524.9h0.85v0.85h-0.85zM334.4 530.2h0.85v0.85h-0.85zM368.7 512.7h0.85v0.85h-0.85zM344.3 541.1h0.85v0.85h-0.85zM344.2 541.1h0.85v0.85h-0.85zM342.1 537.8h0.85v0.85h-0.85zM337.9 535.1h0.85v0.85h-0.85zM341.1 536.2h0.85v0.85h-0.85zM338.1 520.3h0.85v0.85h-0.85zM362.8 520.1h0.85v0.85h-0.85zM342.9 538.2h0.85v0.85h-0.85zM341.2 517.7h0.85v0.85h-0.85zM361.7 526.6h0.85v0.85h-0.85zM361.0 529.3h0.85v0.85h-0.85zM349.4 537.9h0.85v0.85h-0.85zM336.2 524.8h0.85v0.85h-0.85zM335.4 527.8h0.85v0.85h-0.85zM336.0 528.3h0.85v0.85h-0.85zM335.8 531.2h0.85v0.85h-0.85zM335.8 531.0h0.85v0.85h-0.85zM346.3 536.4h0.85v0.85h-0.85zM339.0 519.2h0.85v0.85h-0.85zM359.6 528.9h0.85v0.85h-0.85zM339.1 532.9h0.85v0.85h-0.85zM351.3 536.9h0.85v0.85h-0.85zM365.0 532.5h0.85v0.85h-0.85zM337.5 523.9h0.85v0.85h-0.85zM346.7 539.4h0.85v0.85h-0.85zM336.7 525.5h0.85v0.85h-0.85zM336.6 525.5h0.85v0.85h-0.85zM365.8 510.5h0.85v0.85h-0.85zM356.2 533.0h0.85v0.85h-0.85zM347.9 538.0h0.85v0.85h-0.85zM348.1 538.1h0.85v0.85h-0.85zM345.4 539.6h0.85v0.85h-0.85zM345.4 538.9h0.85v0.85h-0.85zM353.9 534.4h0.85v0.85h-0.85zM354.6 534.6h0.85v0.85h-0.85zM338.5 531.2h0.85v0.85h-0.85zM341.2 515.9h0.85v0.85h-0.85zM350.7 536.5h0.85v0.85h-0.85zM339.4 520.9h0.85v0.85h-0.85zM349.6 534.8h0.85v0.85h-0.85zM340.2 534.6h0.85v0.85h-0.85zM345.7 513.0h0.85v0.85h-0.85zM345.7 537.9h0.85v0.85h-0.85zM338.8 532.0h0.85v0.85h-0.85zM336.8 529.5h0.85v0.85h-0.85zM337.1 525.6h0.85v0.85h-0.85zM339.0 521.3h0.85v0.85h-0.85zM353.0 535.1h0.85v0.85h-0.85zM348.5 537.5h0.85v0.85h-0.85zM375.2 504.5h0.85v0.85h-0.85zM344.3 534.6h0.85v0.85h-0.85zM355.1 511.3h0.85v0.85h-0.85zM339.0 531.5h0.85v0.85h-0.85zM338.7 525.1h0.85v0.85h-0.85zM345.7 537.5h0.85v0.85h-0.85zM337.2 532.3h0.85v0.85h-0.85z" fill="#4546c1" opacity="0.8"/>
<path d="M337.4 527.5h0.85v0.85h-0.85zM338.7 533.3h0.85v0.85h-0.85zM338.7 532.6h0.85v0.85h-0.85zM360.8 504.8h0.85v0.85h-0.85zM344.2 536.3h0.85v0.85h-0.85zM344.2 536.4h0.85v0.85h-0.85zM348.2 536.9h0.85v0.85h-0.85zM361.6 527.1h0.85v0.85h-0.85zM353.6 534.2h0.85v0.85h-0.85zM361.0 504.0h0.85v0.85h-0.85zM354.4 533.2h0.85v0.85h-0.85zM366.0 509.1h0.85v0.85h-0.85zM363.7 514.0h0.85v0.85h-0.85zM359.9 517.8h0.85v0.85h-0.85zM359.1 513.5h0.85v0.85h-0.85zM339.0 532.8h0.85v0.85h-0.85zM361.6 519.2h0.85v0.85h-0.85zM364.0 513.2h0.85v0.85h-0.85zM340.3 522.7h0.85v0.85h-0.85zM349.9 506.6h0.85v0.85h-0.85zM338.4 531.2h0.85v0.85h-0.85zM340.7 525.8h0.85v0.85h-0.85zM360.1 506.5h0.85v0.85h-0.85zM359.5 506.2h0.85v0.85h-0.85zM355.4 531.3h0.85v0.85h-0.85zM338.4 529.3h0.85v0.85h-0.85zM361.8 504.9h0.85v0.85h-0.85zM345.4 535.3h0.85v0.85h-0.85zM365.8 507.9h0.85v0.85h-0.85zM343.6 535.1h0.85v0.85h-0.85zM344.0 535.1h0.85v0.85h-0.85zM339.1 526.5h0.85v0.85h-0.85zM340.2 511.2h0.85v0.85h-0.85zM347.4 533.0h0.85v0.85h-0.85zM360.7 526.8h0.85v0.85h-0.85zM364.1 510.5h0.85v0.85h-0.85zM340.9 532.6h0.85v0.85h-0.85zM340.6 532.9h0.85v0.85h-0.85zM350.5 533.8h0.85v0.85h-0.85zM339.0 528.1h0.85v0.85h-0.85zM348.3 534.9h0.85v0.85h-0.85zM339.5 531.2h0.85v0.85h-0.85zM339.0 531.6h0.85v0.85h-0.85zM362.8 501.9h0.85v0.85h-0.85zM354.2 531.4h0.85v0.85h-0.85zM341.4 523.2h0.85v0.85h-0.85zM340.5 526.2h0.85v0.85h-0.85zM339.3 530.5h0.85v0.85h-0.85zM339.0 530.4h0.85v0.85h-0.85zM350.2 533.9h0.85v0.85h-0.85zM349.9 533.7h0.85v0.85h-0.85zM365.8 507.7h0.85v0.85h-0.85zM362.7 504.7h0.85v0.85h-0.85z" fill="#3d46c4" opacity="0.8"/>
<path d="M351.2 533.2h0.85v0.85h-0.85zM343.9 533.5h0.85v0.85h-0.85zM341.9 533.3h0.85v0.85h-0.85zM342.0 533.1h0.85v0.85h-0.85zM363.6 513.7h0.85v0.85h-0.85zM357.9 528.2h0.85v0.85h-0.85zM349.0 533.6h0.85v0.85h-0.85zM364.4 509.0h0.85v0.85h-0.85zM340.4 527.0h0.85v0.85h-0.85zM341.8 529.2h0.85v0.85h-0.85zM340.6 531.9h0.85v0.85h-0.85zM344.2 534.2h0.85v0.85h-0.85zM344.9 533.8h0.85v0.85h-0.85zM344.9 534.0h0.85v0.85h-0.85zM340.1 531.3h0.85v0.85h-0.85zM340.2 531.6h0.85v0.85h-0.85zM361.8 506.8h0.85v0.85h-0.85zM350.7 532.8h0.85v0.85h-0.85zM360.8 506.9h0.85v0.85h-0.85zM371.2 507.1h0.85v0.85h-0.85zM353.8 531.0h0.85v0.85h-0.85zM344.0 522.0h0.85v0.85h-0.85zM360.6 525.0h0.85v0.85h-0.85zM364.9 507.2h0.85v0.85h-0.85zM364.6 507.4h0.85v0.85h-0.85zM345.2 533.5h0.85v0.85h-0.85zM345.7 534.0h0.85v0.85h-0.85zM347.4 534.1h0.85v0.85h-0.85zM340.2 527.9h0.85v0.85h-0.85zM346.1 533.7h0.85v0.85h-0.85zM353.0 514.2h0.85v0.85h-0.85zM362.9 504.6h0.85v0.85h-0.85zM365.8 506.7h0.85v0.85h-0.85zM358.7 515.0h0.85v0.85h-0.85zM342.6 519.8h0.85v0.85h-0.85zM347.3 514.7h0.85v0.85h-0.85zM363.8 507.1h0.85v0.85h-0.85zM364.1 507.7h0.85v0.85h-0.85zM359.1 516.2h0.85v0.85h-0.85zM357.2 518.7h0.85v0.85h-0.85zM346.4 517.1h0.85v0.85h-0.85zM340.9 531.5h0.85v0.85h-0.85zM360.4 508.1h0.85v0.85h-0.85zM349.2 533.3h0.85v0.85h-0.85zM352.3 531.2h0.85v0.85h-0.85zM367.5 505.9h0.85v0.85h-0.85zM362.6 507.5h0.85v0.85h-0.85zM373.1 487.4h0.85v0.85h-0.85zM358.4 509.2h0.85v0.85h-0.85zM359.1 509.4h0.85v0.85h-0.85zM344.8 532.8h0.85v0.85h-0.85zM344.5 532.9h0.85v0.85h-0.85zM344.8 532.8h0.85v0.85h-0.85zM344.8 533.4h0.85v0.85h-0.85zM348.3 514.4h0.85v0.85h-0.85zM363.9 505.7h0.85v0.85h-0.85zM361.0 508.1h0.85v0.85h-0.85zM361.1 508.6h0.85v0.85h-0.85zM363.7 504.8h0.85v0.85h-0.85zM364.3 504.9h0.85v0.85h-0.85zM362.7 509.1h0.85v0.85h-0.85zM362.5 509.3h0.85v0.85h-0.85zM345.8 533.0h0.85v0.85h-0.85zM362.7 510.3h0.85v0.85h-0.85zM365.7 524.6h0.85v0.85h-0.85zM359.5 509.5h0.85v0.85h-0.85zM360.0 509.3h0.85v0.85h-0.85zM347.2 533.1h0.85v0.85h-0.85zM362.3 513.8h0.85v0.85h-0.85zM364.4 502.2h0.85v0.85h-0.85zM356.6 525.8h0.85v0.85h-0.85zM365.7 488.5h0.85v0.85h-0.85zM342.0 531.0h0.85v0.85h-0.85zM340.6 527.6h0.85v0.85h-0.85zM343.9 526.9h0.85v0.85h-0.85zM355.7 510.0h0.85v0.85h-0.85zM355.1 513.9h0.85v0.85h-0.85zM359.3 522.3h0.85v0.85h-0.85zM365.9 516.1h0.85v0.85h-0.85z" fill="#3546c6" opacity="0.8"/>
<path d="M364.8 504.7h0.85v0.85h-0.85zM361.0 510.2h0.85v0.85h-0.85zM334.5 517.6h0.85v0.85h-0.85zM351.6 528.5h0.85v0.85h-0.85zM344.7 532.0h0.85v0.85h-0.85zM343.1 531.6h0.85v0.85h-0.85zM350.8 531.3h0.85v0.85h-0.85zM343.0 523.9h0.85v0.85h-0.85zM342.0 530.2h0.85v0.85h-0.85zM341.9 530.8h0.85v0.85h-0.85zM353.4 529.5h0.85v0.85h-0.85zM353.8 529.3h0.85v0.85h-0.85zM353.8 529.1h0.85v0.85h-0.85zM348.2 532.1h0.85v0.85h-0.85zM341.8 526.9h0.85v0.85h-0.85zM365.7 504.2h0.85v0.85h-0.85zM368.2 504.8h0.85v0.85h-0.85zM342.8 525.0h0.85v0.85h-0.85zM361.7 511.9h0.85v0.85h-0.85zM361.3 512.1h0.85v0.85h-0.85zM342.0 529.6h0.85v0.85h-0.85zM356.4 521.1h0.85v0.85h-0.85zM366.5 504.5h0.85v0.85h-0.85zM341.6 528.9h0.85v0.85h-0.85zM342.0 528.4h0.85v0.85h-0.85zM356.1 540.0h0.85v0.85h-0.85zM356.5 515.3h0.85v0.85h-0.85zM360.3 510.9h0.85v0.85h-0.85zM349.4 515.0h0.85v0.85h-0.85zM346.5 529.0h0.85v0.85h-0.85zM359.1 522.6h0.85v0.85h-0.85zM344.7 519.9h0.85v0.85h-0.85zM353.9 525.8h0.85v0.85h-0.85zM349.3 531.5h0.85v0.85h-0.85zM356.6 527.0h0.85v0.85h-0.85zM351.1 530.3h0.85v0.85h-0.85zM344.3 520.9h0.85v0.85h-0.85zM370.3 507.2h0.85v0.85h-0.85zM366.0 503.4h0.85v0.85h-0.85zM347.6 531.1h0.85v0.85h-0.85zM364.9 502.0h0.85v0.85h-0.85zM356.0 511.0h0.85v0.85h-0.85zM342.8 527.7h0.85v0.85h-0.85zM342.7 527.9h0.85v0.85h-0.85zM343.5 524.7h0.85v0.85h-0.85zM343.0 528.8h0.85v0.85h-0.85zM342.9 528.9h0.85v0.85h-0.85zM342.7 528.3h0.85v0.85h-0.85zM355.8 516.7h0.85v0.85h-0.85zM351.5 529.5h0.85v0.85h-0.85zM357.4 511.3h0.85v0.85h-0.85zM357.9 510.9h0.85v0.85h-0.85zM357.6 521.9h0.85v0.85h-0.85zM345.5 519.0h0.85v0.85h-0.85zM349.4 520.1h0.85v0.85h-0.85zM344.2 530.4h0.85v0.85h-0.85zM367.0 489.1h0.85v0.85h-0.85z" fill="#3352cb" opacity="0.8"/>
<path d="M349.1 530.4h0.85v0.85h-0.85zM357.6 523.6h0.85v0.85h-0.85zM345.6 530.3h0.85v0.85h-0.85zM345.8 530.5h0.85v0.85h-0.85zM359.7 511.6h0.85v0.85h-0.85zM334.7 520.9h0.85v0.85h-0.85zM364.9 500.6h0.85v0.85h-0.85zM343.8 528.4h0.85v0.85h-0.85zM343.4 528.3h0.85v0.85h-0.85zM346.1 530.4h0.85v0.85h-0.85zM347.8 530.6h0.85v0.85h-0.85zM360.7 514.8h0.85v0.85h-0.85zM365.9 503.2h0.85v0.85h-0.85zM365.7 503.0h0.85v0.85h-0.85zM351.0 516.2h0.85v0.85h-0.85zM361.3 531.9h0.85v0.85h-0.85zM364.7 514.7h0.85v0.85h-0.85zM351.7 525.2h0.85v0.85h-0.85zM359.0 512.0h0.85v0.85h-0.85zM356.5 525.6h0.85v0.85h-0.85zM350.8 525.2h0.85v0.85h-0.85zM357.0 522.7h0.85v0.85h-0.85zM345.5 522.5h0.85v0.85h-0.85zM345.8 522.7h0.85v0.85h-0.85zM359.7 512.7h0.85v0.85h-0.85zM359.9 512.7h0.85v0.85h-0.85zM349.5 509.1h0.85v0.85h-0.85zM359.7 504.9h0.85v0.85h-0.85zM357.7 511.9h0.85v0.85h-0.85zM354.4 512.0h0.85v0.85h-0.85zM354.5 511.5h0.85v0.85h-0.85zM356.8 523.5h0.85v0.85h-0.85zM348.8 529.2h0.85v0.85h-0.85zM346.5 529.6h0.85v0.85h-0.85zM374.8 503.1h0.85v0.85h-0.85zM365.1 518.6h0.85v0.85h-0.85zM348.0 529.8h0.85v0.85h-0.85zM347.9 529.2h0.85v0.85h-0.85zM347.2 529.7h0.85v0.85h-0.85zM347.0 529.7h0.85v0.85h-0.85zM345.3 528.9h0.85v0.85h-0.85zM352.2 508.4h0.85v0.85h-0.85zM347.2 519.1h0.85v0.85h-0.85zM356.3 525.4h0.85v0.85h-0.85zM356.2 525.4h0.85v0.85h-0.85zM359.8 513.2h0.85v0.85h-0.85zM359.4 513.6h0.85v0.85h-0.85zM351.5 527.3h0.85v0.85h-0.85zM351.3 527.9h0.85v0.85h-0.85zM349.7 528.5h0.85v0.85h-0.85zM358.7 512.7h0.85v0.85h-0.85zM359.3 514.5h0.85v0.85h-0.85zM370.1 502.6h0.85v0.85h-0.85zM346.1 528.1h0.85v0.85h-0.85zM348.0 519.1h0.85v0.85h-0.85zM359.1 536.6h0.85v0.85h-0.85zM347.1 528.9h0.85v0.85h-0.85zM351.1 527.9h0.85v0.85h-0.85zM352.2 518.1h0.85v0.85h-0.85zM346.0 527.2h0.85v0.85h-0.85z" fill="#366ad3"/>
<path d="M353.6 518.8h0.85v0.85h-0.85zM353.2 518.6h0.85v0.85h-0.85zM358.7 513.1h0.85v0.85h-0.85zM349.7 528.0h0.85v0.85h-0.85zM347.5 527.5h0.85v0.85h-0.85zM344.6 510.8h0.85v0.85h-0.85zM355.0 522.2h0.85v0.85h-0.85zM354.7 508.5h0.85v0.85h-0.85zM348.6 527.9h0.85v0.85h-0.85zM356.5 513.0h0.85v0.85h-0.85zM358.5 535.5h0.85v0.85h-0.85zM347.4 527.2h0.85v0.85h-0.85zM354.3 524.6h0.85v0.85h-0.85zM354.1 525.0h0.85v0.85h-0.85zM348.6 510.0h0.85v0.85h-0.85zM376.5 495.5h0.85v0.85h-0.85zM348.4 520.9h0.85v0.85h-0.85zM335.7 521.1h0.85v0.85h-0.85zM354.4 521.8h0.85v0.85h-0.85zM358.4 514.4h0.85v0.85h-0.85zM372.5 488.3h0.85v0.85h-0.85zM339.2 515.2h0.85v0.85h-0.85zM351.9 519.8h0.85v0.85h-0.85zM358.4 514.9h0.85v0.85h-0.85zM354.1 524.4h0.85v0.85h-0.85zM348.3 521.3h0.85v0.85h-0.85zM347.9 521.5h0.85v0.85h-0.85zM348.3 521.2h0.85v0.85h-0.85zM365.6 500.2h0.85v0.85h-0.85zM353.0 525.3h0.85v0.85h-0.85zM347.9 524.6h0.85v0.85h-0.85zM350.1 520.2h0.85v0.85h-0.85zM345.2 510.8h0.85v0.85h-0.85zM351.0 525.9h0.85v0.85h-0.85zM349.9 526.2h0.85v0.85h-0.85zM352.8 525.3h0.85v0.85h-0.85zM353.8 524.5h0.85v0.85h-0.85zM352.1 521.6h0.85v0.85h-0.85zM350.1 509.7h0.85v0.85h-0.85zM353.1 522.9h0.85v0.85h-0.85zM357.4 513.8h0.85v0.85h-0.85zM357.3 513.2h0.85v0.85h-0.85zM349.6 521.5h0.85v0.85h-0.85zM362.8 527.8h0.85v0.85h-0.85zM363.0 527.3h0.85v0.85h-0.85zM351.6 524.6h0.85v0.85h-0.85zM348.7 522.9h0.85v0.85h-0.85zM350.6 521.1h0.85v0.85h-0.85zM349.8 525.1h0.85v0.85h-0.85zM353.0 523.2h0.85v0.85h-0.85zM352.6 523.5h0.85v0.85h-0.85zM355.8 513.3h0.85v0.85h-0.85zM355.7 513.3h0.85v0.85h-0.85zM363.9 512.4h0.85v0.85h-0.85z" fill="#3982da"/>
<path d="M369.9 501.6h0.85v0.85h-0.85zM375.3 500.5h0.85v0.85h-0.85zM364.0 524.0h0.85v0.85h-0.85zM364.0 519.4h0.85v0.85h-0.85zM346.8 511.0h0.85v0.85h-0.85zM353.0 508.9h0.85v0.85h-0.85zM337.2 519.8h0.85v0.85h-0.85zM364.0 521.2h0.85v0.85h-0.85zM338.3 517.8h0.85v0.85h-0.85zM340.8 514.6h0.85v0.85h-0.85zM335.4 523.8h0.85v0.85h-0.85zM352.0 514.2h0.85v0.85h-0.85zM367.0 499.8h0.85v0.85h-0.85zM357.4 533.0h0.85v0.85h-0.85zM351.8 510.2h0.85v0.85h-0.85zM352.8 514.5h0.85v0.85h-0.85zM375.3 499.3h0.85v0.85h-0.85zM367.3 500.9h0.85v0.85h-0.85z" fill="#3c99e0"/>
<path d="M363.4 517.8h0.85v0.85h-0.85zM363.0 525.5h0.85v0.85h-0.85zM345.5 512.1h0.85v0.85h-0.85zM364.1 509.1h0.85v0.85h-0.85zM344.0 512.8h0.85v0.85h-0.85zM343.9 512.3h0.85v0.85h-0.85zM339.9 516.4h0.85v0.85h-0.85zM357.8 532.2h0.85v0.85h-0.85zM358.8 531.1h0.85v0.85h-0.85zM335.8 526.2h0.85v0.85h-0.85zM368.3 501.1h0.85v0.85h-0.85zM368.3 501.2h0.85v0.85h-0.85zM368.9 500.8h0.85v0.85h-0.85zM344.1 539.7h0.85v0.85h-0.85zM341.2 515.1h0.85v0.85h-0.85zM339.3 517.9h0.85v0.85h-0.85zM359.2 530.3h0.85v0.85h-0.85zM355.0 515.8h0.85v0.85h-0.85zM353.1 515.3h0.85v0.85h-0.85zM370.8 504.5h0.85v0.85h-0.85zM363.4 524.4h0.85v0.85h-0.85zM338.2 521.6h0.85v0.85h-0.85zM337.9 521.5h0.85v0.85h-0.85zM363.2 522.9h0.85v0.85h-0.85zM364.2 494.7h0.85v0.85h-0.85zM363.7 495.1h0.85v0.85h-0.85z" fill="#3cacdd"/>
<path d="M340.1 517.1h0.85v0.85h-0.85zM348.0 511.5h0.85v0.85h-0.85zM362.1 516.9h0.85v0.85h-0.85zM367.3 499.3h0.85v0.85h-0.85zM355.2 518.5h0.85v0.85h-0.85zM370.5 500.6h0.85v0.85h-0.85zM373.3 490.6h0.85v0.85h-0.85zM375.9 496.2h0.85v0.85h-0.85zM373.6 491.7h0.85v0.85h-0.85zM362.0 518.3h0.85v0.85h-0.85zM364.5 495.5h0.85v0.85h-0.85zM369.8 490.0h0.85v0.85h-0.85zM348.6 537.7h0.85v0.85h-0.85zM340.2 518.0h0.85v0.85h-0.85zM341.6 515.2h0.85v0.85h-0.85zM370.7 489.7h0.85v0.85h-0.85zM343.0 514.3h0.85v0.85h-0.85zM361.9 518.4h0.85v0.85h-0.85zM362.0 526.1h0.85v0.85h-0.85zM362.5 525.5h0.85v0.85h-0.85zM369.9 504.2h0.85v0.85h-0.85zM353.3 518.2h0.85v0.85h-0.85zM352.3 510.5h0.85v0.85h-0.85zM348.1 537.5h0.85v0.85h-0.85z" fill="#3cbed9"/>
<path d="M339.5 522.7h0.85v0.85h-0.85zM346.4 512.3h0.85v0.85h-0.85zM362.5 525.4h0.85v0.85h-0.85zM345.2 537.2h0.85v0.85h-0.85zM353.6 510.4h0.85v0.85h-0.85zM353.8 511.2h0.85v0.85h-0.85zM344.6 513.8h0.85v0.85h-0.85zM344.6 513.8h0.85v0.85h-0.85zM352.8 534.9h0.85v0.85h-0.85zM361.2 516.2h0.85v0.85h-0.85zM362.1 521.5h0.85v0.85h-0.85zM362.0 521.4h0.85v0.85h-0.85zM337.2 528.6h0.85v0.85h-0.85zM361.3 514.3h0.85v0.85h-0.85zM337.5 530.9h0.85v0.85h-0.85zM340.4 520.2h0.85v0.85h-0.85zM341.1 518.3h0.85v0.85h-0.85zM339.6 524.2h0.85v0.85h-0.85zM355.3 532.2h0.85v0.85h-0.85zM373.7 500.9h0.85v0.85h-0.85zM368.9 497.3h0.85v0.85h-0.85zM353.9 533.3h0.85v0.85h-0.85zM355.3 511.1h0.85v0.85h-0.85zM356.7 530.1h0.85v0.85h-0.85z" fill="#3acbd0"/>
<path d="M359.6 528.2h0.85v0.85h-0.85zM357.0 510.8h0.85v0.85h-0.85zM341.2 519.1h0.85v0.85h-0.85zM345.2 513.3h0.85v0.85h-0.85zM348.8 535.3h0.85v0.85h-0.85zM372.9 501.8h0.85v0.85h-0.85zM368.3 490.6h0.85v0.85h-0.85zM368.3 490.3h0.85v0.85h-0.85zM352.8 534.0h0.85v0.85h-0.85zM372.5 491.6h0.85v0.85h-0.85zM342.7 516.1h0.85v0.85h-0.85zM354.5 532.0h0.85v0.85h-0.85zM360.3 513.5h0.85v0.85h-0.85zM344.5 514.5h0.85v0.85h-0.85zM365.4 494.8h0.85v0.85h-0.85zM340.2 524.6h0.85v0.85h-0.85zM342.2 533.7h0.85v0.85h-0.85zM346.2 535.4h0.85v0.85h-0.85zM370.0 503.6h0.85v0.85h-0.85zM370.6 504.1h0.85v0.85h-0.85zM370.2 503.6h0.85v0.85h-0.85zM351.2 534.1h0.85v0.85h-0.85z" fill="#35c6b0"/>
<path d="M369.8 490.4h0.85v0.85h-0.85zM361.4 521.9h0.85v0.85h-0.85zM370.0 490.1h0.85v0.85h-0.85zM361.7 523.4h0.85v0.85h-0.85zM361.5 523.6h0.85v0.85h-0.85zM354.4 512.0h0.85v0.85h-0.85zM347.5 513.8h0.85v0.85h-0.85zM341.3 522.5h0.85v0.85h-0.85zM359.3 528.0h0.85v0.85h-0.85zM368.0 491.0h0.85v0.85h-0.85zM367.7 491.5h0.85v0.85h-0.85zM360.3 518.4h0.85v0.85h-0.85zM374.8 495.6h0.85v0.85h-0.85zM345.1 514.6h0.85v0.85h-0.85zM341.4 523.5h0.85v0.85h-0.85zM341.9 519.3h0.85v0.85h-0.85zM367.0 492.6h0.85v0.85h-0.85zM355.1 530.7h0.85v0.85h-0.85zM367.2 503.9h0.85v0.85h-0.85zM344.1 516.3h0.85v0.85h-0.85zM360.5 519.5h0.85v0.85h-0.85zM351.8 533.1h0.85v0.85h-0.85zM359.7 515.2h0.85v0.85h-0.85zM359.4 515.6h0.85v0.85h-0.85zM360.0 515.0h0.85v0.85h-0.85zM357.8 528.3h0.85v0.85h-0.85z" fill="#2fc090"/>
<path d="M365.2 498.7h0.85v0.85h-0.85zM342.5 518.0h0.85v0.85h-0.85zM368.5 504.2h0.85v0.85h-0.85zM360.9 520.5h0.85v0.85h-0.85zM352.7 512.2h0.85v0.85h-0.85zM360.0 517.8h0.85v0.85h-0.85zM372.9 491.9h0.85v0.85h-0.85zM366.1 493.8h0.85v0.85h-0.85zM365.6 493.9h0.85v0.85h-0.85zM359.4 526.6h0.85v0.85h-0.85zM360.4 521.1h0.85v0.85h-0.85zM350.0 513.3h0.85v0.85h-0.85zM349.9 513.7h0.85v0.85h-0.85zM341.8 522.3h0.85v0.85h-0.85zM345.8 533.5h0.85v0.85h-0.85zM343.3 516.7h0.85v0.85h-0.85zM360.4 524.5h0.85v0.85h-0.85zM360.2 523.9h0.85v0.85h-0.85zM373.8 499.1h0.85v0.85h-0.85zM351.2 532.1h0.85v0.85h-0.85zM358.8 515.4h0.85v0.85h-0.85zM341.9 522.8h0.85v0.85h-0.85zM342.9 519.9h0.85v0.85h-0.85z" fill="#2abb70"/>
<path d="M355.5 529.5h0.85v0.85h-0.85zM355.3 529.6h0.85v0.85h-0.85zM344.5 516.5h0.85v0.85h-0.85zM350.5 513.1h0.85v0.85h-0.85zM373.5 493.9h0.85v0.85h-0.85zM371.1 490.9h0.85v0.85h-0.85zM359.0 516.6h0.85v0.85h-0.85zM352.7 530.8h0.85v0.85h-0.85zM353.0 531.1h0.85v0.85h-0.85zM342.9 520.7h0.85v0.85h-0.85zM344.0 517.7h0.85v0.85h-0.85zM359.6 526.1h0.85v0.85h-0.85zM359.2 525.6h0.85v0.85h-0.85zM359.3 525.5h0.85v0.85h-0.85zM347.7 514.8h0.85v0.85h-0.85zM369.4 491.4h0.85v0.85h-0.85zM369.8 491.7h0.85v0.85h-0.85zM366.8 493.3h0.85v0.85h-0.85zM351.8 513.8h0.85v0.85h-0.85zM368.0 492.2h0.85v0.85h-0.85zM360.1 520.9h0.85v0.85h-0.85zM359.8 520.2h0.85v0.85h-0.85zM359.5 520.3h0.85v0.85h-0.85zM366.0 495.1h0.85v0.85h-0.85zM343.0 521.3h0.85v0.85h-0.85zM370.1 491.7h0.85v0.85h-0.85zM358.3 526.9h0.85v0.85h-0.85zM346.2 515.5h0.85v0.85h-0.85zM357.7 515.1h0.85v0.85h-0.85zM358.2 515.4h0.85v0.85h-0.85zM356.1 513.8h0.85v0.85h-0.85zM356.1 513.6h0.85v0.85h-0.85zM344.3 516.7h0.85v0.85h-0.85zM345.0 517.3h0.85v0.85h-0.85zM348.7 514.1h0.85v0.85h-0.85zM349.0 514.7h0.85v0.85h-0.85zM341.7 531.0h0.85v0.85h-0.85zM352.2 513.1h0.85v0.85h-0.85zM340.9 527.5h0.85v0.85h-0.85zM342.7 522.6h0.85v0.85h-0.85z" fill="#34bb5c"/>
<path d="M359.6 521.3h0.85v0.85h-0.85zM351.3 530.9h0.85v0.85h-0.85zM349.7 532.4h0.85v0.85h-0.85zM359.5 524.6h0.85v0.85h-0.85zM372.5 500.1h0.85v0.85h-0.85zM345.7 516.1h0.85v0.85h-0.85zM355.3 513.9h0.85v0.85h-0.85zM370.8 502.4h0.85v0.85h-0.85zM357.0 514.5h0.85v0.85h-0.85zM353.5 513.4h0.85v0.85h-0.85zM353.0 513.9h0.85v0.85h-0.85zM368.4 502.8h0.85v0.85h-0.85zM368.2 503.2h0.85v0.85h-0.85zM372.6 493.5h0.85v0.85h-0.85zM372.0 492.5h0.85v0.85h-0.85zM372.0 492.1h0.85v0.85h-0.85zM372.1 492.0h0.85v0.85h-0.85zM343.5 519.6h0.85v0.85h-0.85zM343.7 519.7h0.85v0.85h-0.85zM359.3 523.8h0.85v0.85h-0.85zM349.9 514.3h0.85v0.85h-0.85zM352.3 530.3h0.85v0.85h-0.85zM359.7 523.4h0.85v0.85h-0.85zM359.0 519.7h0.85v0.85h-0.85zM358.4 520.1h0.85v0.85h-0.85zM366.2 496.0h0.85v0.85h-0.85zM355.5 528.4h0.85v0.85h-0.85zM355.1 528.6h0.85v0.85h-0.85zM349.0 532.2h0.85v0.85h-0.85zM366.7 502.3h0.85v0.85h-0.85zM347.1 515.4h0.85v0.85h-0.85zM358.3 518.2h0.85v0.85h-0.85zM344.5 518.2h0.85v0.85h-0.85zM344.7 517.9h0.85v0.85h-0.85zM358.4 525.9h0.85v0.85h-0.85zM348.1 532.0h0.85v0.85h-0.85zM366.1 498.9h0.85v0.85h-0.85zM365.9 499.4h0.85v0.85h-0.85zM357.7 526.5h0.85v0.85h-0.85zM358.0 526.9h0.85v0.85h-0.85zM358.1 527.2h0.85v0.85h-0.85zM366.3 496.3h0.85v0.85h-0.85z" fill="#4ac050"/>
<path d="M343.3 521.2h0.85v0.85h-0.85zM358.1 518.6h0.85v0.85h-0.85zM358.2 519.1h0.85v0.85h-0.85zM373.9 496.9h0.85v0.85h-0.85zM348.2 515.1h0.85v0.85h-0.85zM365.8 497.6h0.85v0.85h-0.85zM346.7 516.1h0.85v0.85h-0.85zM343.1 524.7h0.85v0.85h-0.85zM345.8 517.2h0.85v0.85h-0.85zM342.0 529.5h0.85v0.85h-0.85zM367.0 494.2h0.85v0.85h-0.85zM366.9 493.8h0.85v0.85h-0.85zM351.8 514.4h0.85v0.85h-0.85zM341.5 527.2h0.85v0.85h-0.85zM341.9 527.5h0.85v0.85h-0.85zM358.6 521.7h0.85v0.85h-0.85zM359.2 521.1h0.85v0.85h-0.85zM341.6 528.1h0.85v0.85h-0.85zM343.2 522.7h0.85v0.85h-0.85zM342.4 530.5h0.85v0.85h-0.85zM356.0 515.4h0.85v0.85h-0.85zM352.3 514.8h0.85v0.85h-0.85zM352.5 514.1h0.85v0.85h-0.85zM357.6 519.7h0.85v0.85h-0.85zM357.9 519.7h0.85v0.85h-0.85zM357.6 519.9h0.85v0.85h-0.85zM357.9 519.4h0.85v0.85h-0.85zM354.4 514.4h0.85v0.85h-0.85zM354.3 514.0h0.85v0.85h-0.85zM342.6 526.3h0.85v0.85h-0.85zM342.8 526.3h0.85v0.85h-0.85zM371.6 492.6h0.85v0.85h-0.85zM371.0 492.5h0.85v0.85h-0.85zM344.0 523.5h0.85v0.85h-0.85zM343.9 523.1h0.85v0.85h-0.85zM343.8 522.9h0.85v0.85h-0.85zM367.6 501.6h0.85v0.85h-0.85zM356.6 527.1h0.85v0.85h-0.85zM346.9 515.8h0.85v0.85h-0.85zM345.4 518.1h0.85v0.85h-0.85zM355.3 527.7h0.85v0.85h-0.85zM354.9 528.0h0.85v0.85h-0.85zM357.5 525.9h0.85v0.85h-0.85zM357.9 526.1h0.85v0.85h-0.85zM357.9 525.5h0.85v0.85h-0.85zM355.9 516.0h0.85v0.85h-0.85zM373.2 494.4h0.85v0.85h-0.85zM369.7 492.1h0.85v0.85h-0.85zM369.1 492.5h0.85v0.85h-0.85z" fill="#5fc545"/>
<path d="M353.1 528.2h0.85v0.85h-0.85zM357.6 520.9h0.85v0.85h-0.85zM357.8 520.4h0.85v0.85h-0.85zM342.6 529.8h0.85v0.85h-0.85zM342.6 529.6h0.85v0.85h-0.85zM343.0 529.5h0.85v0.85h-0.85zM342.9 526.5h0.85v0.85h-0.85zM355.4 515.4h0.85v0.85h-0.85zM344.6 521.0h0.85v0.85h-0.85zM346.5 516.6h0.85v0.85h-0.85zM346.0 516.7h0.85v0.85h-0.85zM346.9 531.4h0.85v0.85h-0.85zM369.6 501.7h0.85v0.85h-0.85zM350.8 515.1h0.85v0.85h-0.85zM342.6 527.6h0.85v0.85h-0.85zM368.7 501.7h0.85v0.85h-0.85zM343.5 525.1h0.85v0.85h-0.85zM351.5 529.8h0.85v0.85h-0.85zM344.9 521.1h0.85v0.85h-0.85zM372.4 492.9h0.85v0.85h-0.85zM371.7 493.5h0.85v0.85h-0.85zM366.4 495.3h0.85v0.85h-0.85zM371.0 501.1h0.85v0.85h-0.85zM371.2 501.1h0.85v0.85h-0.85zM348.1 516.2h0.85v0.85h-0.85zM348.2 516.1h0.85v0.85h-0.85zM347.8 516.0h0.85v0.85h-0.85zM358.1 521.3h0.85v0.85h-0.85zM345.8 518.6h0.85v0.85h-0.85zM356.2 526.6h0.85v0.85h-0.85zM356.2 526.4h0.85v0.85h-0.85zM372.2 500.1h0.85v0.85h-0.85zM371.8 499.9h0.85v0.85h-0.85zM351.5 515.3h0.85v0.85h-0.85zM351.9 515.3h0.85v0.85h-0.85zM351.5 515.3h0.85v0.85h-0.85zM357.7 525.1h0.85v0.85h-0.85zM357.7 525.4h0.85v0.85h-0.85zM344.5 522.7h0.85v0.85h-0.85zM344.5 522.4h0.85v0.85h-0.85zM356.2 517.7h0.85v0.85h-0.85zM355.0 515.9h0.85v0.85h-0.85zM366.3 499.9h0.85v0.85h-0.85zM353.7 515.7h0.85v0.85h-0.85zM352.4 515.1h0.85v0.85h-0.85zM357.7 521.9h0.85v0.85h-0.85zM348.6 516.3h0.85v0.85h-0.85zM356.7 526.0h0.85v0.85h-0.85zM357.8 524.0h0.85v0.85h-0.85zM357.9 524.2h0.85v0.85h-0.85zM347.3 517.0h0.85v0.85h-0.85zM347.3 516.8h0.85v0.85h-0.85zM347.2 516.9h0.85v0.85h-0.85zM347.6 516.9h0.85v0.85h-0.85zM345.3 519.7h0.85v0.85h-0.85z" fill="#75ca39"/>
<path d="M345.4 530.8h0.85v0.85h-0.85zM351.1 529.6h0.85v0.85h-0.85zM356.6 520.7h0.85v0.85h-0.85zM372.7 498.2h0.85v0.85h-0.85zM343.4 529.0h0.85v0.85h-0.85zM355.1 517.3h0.85v0.85h-0.85zM355.1 516.9h0.85v0.85h-0.85zM348.3 530.5h0.85v0.85h-0.85zM348.0 530.1h0.85v0.85h-0.85zM368.0 501.5h0.85v0.85h-0.85zM367.2 501.1h0.85v0.85h-0.85zM368.9 492.9h0.85v0.85h-0.85zM353.4 527.6h0.85v0.85h-0.85zM366.7 496.0h0.85v0.85h-0.85zM347.6 530.5h0.85v0.85h-0.85zM346.8 530.6h0.85v0.85h-0.85zM344.9 525.4h0.85v0.85h-0.85zM367.9 493.9h0.85v0.85h-0.85zM367.8 493.9h0.85v0.85h-0.85zM367.6 494.2h0.85v0.85h-0.85zM356.5 519.8h0.85v0.85h-0.85zM346.0 519.2h0.85v0.85h-0.85zM357.1 524.7h0.85v0.85h-0.85zM355.2 517.6h0.85v0.85h-0.85zM355.5 517.5h0.85v0.85h-0.85zM349.5 529.7h0.85v0.85h-0.85zM356.4 526.3h0.85v0.85h-0.85zM353.6 516.3h0.85v0.85h-0.85zM353.7 516.3h0.85v0.85h-0.85zM353.5 516.4h0.85v0.85h-0.85zM344.8 526.2h0.85v0.85h-0.85zM352.1 516.1h0.85v0.85h-0.85zM352.8 515.9h0.85v0.85h-0.85zM344.9 528.2h0.85v0.85h-0.85zM344.6 528.9h0.85v0.85h-0.85zM356.8 522.0h0.85v0.85h-0.85zM370.9 493.3h0.85v0.85h-0.85zM345.8 522.3h0.85v0.85h-0.85zM367.1 496.9h0.85v0.85h-0.85zM354.1 517.3h0.85v0.85h-0.85zM354.0 517.1h0.85v0.85h-0.85zM354.7 517.1h0.85v0.85h-0.85zM348.9 517.0h0.85v0.85h-0.85zM349.3 516.9h0.85v0.85h-0.85zM348.8 516.7h0.85v0.85h-0.85zM354.1 527.1h0.85v0.85h-0.85zM344.7 526.8h0.85v0.85h-0.85z" fill="#8fcf30"/>
<path d="M373.2 497.5h0.85v0.85h-0.85zM357.4 523.9h0.85v0.85h-0.85zM356.6 523.9h0.85v0.85h-0.85zM372.9 495.8h0.85v0.85h-0.85zM373.2 495.8h0.85v0.85h-0.85zM373.1 496.1h0.85v0.85h-0.85zM345.0 523.3h0.85v0.85h-0.85zM344.2 527.8h0.85v0.85h-0.85zM357.2 522.9h0.85v0.85h-0.85zM349.4 529.1h0.85v0.85h-0.85zM351.0 528.4h0.85v0.85h-0.85zM345.5 524.6h0.85v0.85h-0.85zM345.3 524.0h0.85v0.85h-0.85zM368.1 500.9h0.85v0.85h-0.85zM368.7 500.9h0.85v0.85h-0.85zM349.9 517.4h0.85v0.85h-0.85zM350.2 516.8h0.85v0.85h-0.85zM371.8 494.3h0.85v0.85h-0.85zM369.3 492.8h0.85v0.85h-0.85zM345.4 525.3h0.85v0.85h-0.85zM345.5 525.2h0.85v0.85h-0.85zM345.8 525.3h0.85v0.85h-0.85zM347.9 517.5h0.85v0.85h-0.85zM354.5 517.7h0.85v0.85h-0.85zM354.3 518.1h0.85v0.85h-0.85zM353.0 516.8h0.85v0.85h-0.85zM353.7 517.0h0.85v0.85h-0.85zM347.3 529.3h0.85v0.85h-0.85zM347.1 529.4h0.85v0.85h-0.85zM346.8 529.9h0.85v0.85h-0.85zM347.5 529.1h0.85v0.85h-0.85zM372.5 499.6h0.85v0.85h-0.85zM372.1 499.8h0.85v0.85h-0.85zM355.1 525.8h0.85v0.85h-0.85zM355.5 525.6h0.85v0.85h-0.85zM350.9 517.0h0.85v0.85h-0.85zM355.7 521.3h0.85v0.85h-0.85zM355.6 521.2h0.85v0.85h-0.85zM347.6 518.8h0.85v0.85h-0.85zM347.3 518.5h0.85v0.85h-0.85zM346.9 518.9h0.85v0.85h-0.85zM356.1 525.3h0.85v0.85h-0.85zM346.1 520.8h0.85v0.85h-0.85zM346.4 520.4h0.85v0.85h-0.85zM345.6 525.6h0.85v0.85h-0.85zM345.3 526.1h0.85v0.85h-0.85zM353.5 526.5h0.85v0.85h-0.85zM353.8 526.5h0.85v0.85h-0.85zM353.2 526.7h0.85v0.85h-0.85zM353.4 527.1h0.85v0.85h-0.85zM351.6 517.4h0.85v0.85h-0.85zM351.7 517.4h0.85v0.85h-0.85zM352.0 516.8h0.85v0.85h-0.85zM351.5 527.8h0.85v0.85h-0.85zM367.9 500.0h0.85v0.85h-0.85zM367.6 500.1h0.85v0.85h-0.85zM350.2 528.8h0.85v0.85h-0.85zM345.6 526.5h0.85v0.85h-0.85zM345.7 526.5h0.85v0.85h-0.85zM349.0 518.2h0.85v0.85h-0.85zM349.3 518.3h0.85v0.85h-0.85zM346.0 528.4h0.85v0.85h-0.85zM346.0 528.5h0.85v0.85h-0.85zM346.5 528.7h0.85v0.85h-0.85zM355.1 520.3h0.85v0.85h-0.85zM355.0 520.5h0.85v0.85h-0.85zM356.4 524.4h0.85v0.85h-0.85zM353.8 518.2h0.85v0.85h-0.85zM353.1 518.1h0.85v0.85h-0.85z" fill="#b2d52d"/>
<path d="M346.2 522.1h0.85v0.85h-0.85zM347.3 519.5h0.85v0.85h-0.85zM356.2 523.4h0.85v0.85h-0.85zM356.4 523.3h0.85v0.85h-0.85zM356.3 523.6h0.85v0.85h-0.85zM350.1 517.6h0.85v0.85h-0.85zM354.2 526.2h0.85v0.85h-0.85zM348.1 519.0h0.85v0.85h-0.85zM346.0 523.3h0.85v0.85h-0.85zM347.0 528.4h0.85v0.85h-0.85zM346.0 524.2h0.85v0.85h-0.85zM352.8 526.5h0.85v0.85h-0.85zM350.8 527.8h0.85v0.85h-0.85zM354.3 519.6h0.85v0.85h-0.85zM354.6 519.4h0.85v0.85h-0.85zM346.4 527.7h0.85v0.85h-0.85zM351.8 518.0h0.85v0.85h-0.85zM351.2 518.2h0.85v0.85h-0.85zM351.3 518.0h0.85v0.85h-0.85zM346.5 526.0h0.85v0.85h-0.85zM346.7 526.4h0.85v0.85h-0.85zM346.7 527.0h0.85v0.85h-0.85zM353.8 519.2h0.85v0.85h-0.85zM353.8 518.6h0.85v0.85h-0.85zM347.3 520.5h0.85v0.85h-0.85zM346.9 520.8h0.85v0.85h-0.85zM349.1 518.8h0.85v0.85h-0.85zM349.4 519.0h0.85v0.85h-0.85zM348.7 518.7h0.85v0.85h-0.85zM349.8 527.3h0.85v0.85h-0.85zM354.3 520.6h0.85v0.85h-0.85zM349.6 518.7h0.85v0.85h-0.85zM346.9 521.4h0.85v0.85h-0.85zM367.9 499.2h0.85v0.85h-0.85zM367.3 499.1h0.85v0.85h-0.85zM371.8 494.9h0.85v0.85h-0.85zM372.3 494.6h0.85v0.85h-0.85zM350.7 518.6h0.85v0.85h-0.85zM350.8 518.8h0.85v0.85h-0.85zM353.7 519.9h0.85v0.85h-0.85zM353.5 519.9h0.85v0.85h-0.85zM355.5 523.2h0.85v0.85h-0.85zM371.8 498.7h0.85v0.85h-0.85zM348.3 527.7h0.85v0.85h-0.85zM347.9 527.9h0.85v0.85h-0.85zM369.9 499.9h0.85v0.85h-0.85zM370.9 493.7h0.85v0.85h-0.85zM347.4 526.7h0.85v0.85h-0.85zM354.1 524.7h0.85v0.85h-0.85zM354.0 524.7h0.85v0.85h-0.85zM347.2 522.2h0.85v0.85h-0.85zM346.9 522.3h0.85v0.85h-0.85zM347.2 522.8h0.85v0.85h-0.85zM347.6 522.7h0.85v0.85h-0.85zM368.7 500.0h0.85v0.85h-0.85zM368.4 500.0h0.85v0.85h-0.85zM368.8 499.9h0.85v0.85h-0.85zM368.0 495.8h0.85v0.85h-0.85zM367.7 495.6h0.85v0.85h-0.85z" fill="#d5db2a"/>
<path d="M347.0 525.8h0.85v0.85h-0.85zM346.9 523.0h0.85v0.85h-0.85zM347.0 524.6h0.85v0.85h-0.85zM348.5 520.9h0.85v0.85h-0.85zM348.0 520.9h0.85v0.85h-0.85zM348.5 520.7h0.85v0.85h-0.85zM354.6 521.3h0.85v0.85h-0.85zM354.5 521.5h0.85v0.85h-0.85zM350.6 526.5h0.85v0.85h-0.85zM351.1 526.9h0.85v0.85h-0.85zM350.4 526.7h0.85v0.85h-0.85zM352.8 520.0h0.85v0.85h-0.85zM352.9 520.0h0.85v0.85h-0.85zM348.4 526.4h0.85v0.85h-0.85zM353.6 520.4h0.85v0.85h-0.85zM369.0 500.1h0.85v0.85h-0.85zM351.7 519.6h0.85v0.85h-0.85zM349.8 526.4h0.85v0.85h-0.85zM349.8 527.1h0.85v0.85h-0.85zM349.9 526.7h0.85v0.85h-0.85zM369.4 494.2h0.85v0.85h-0.85zM369.2 494.1h0.85v0.85h-0.85zM354.3 524.3h0.85v0.85h-0.85zM349.1 526.6h0.85v0.85h-0.85zM349.3 527.1h0.85v0.85h-0.85zM367.6 498.8h0.85v0.85h-0.85zM368.0 498.6h0.85v0.85h-0.85zM347.9 521.3h0.85v0.85h-0.85zM347.9 521.5h0.85v0.85h-0.85zM370.9 499.3h0.85v0.85h-0.85zM371.0 499.2h0.85v0.85h-0.85zM347.9 525.6h0.85v0.85h-0.85zM354.2 523.4h0.85v0.85h-0.85zM354.0 523.2h0.85v0.85h-0.85zM370.2 493.8h0.85v0.85h-0.85zM348.3 522.2h0.85v0.85h-0.85zM348.1 522.3h0.85v0.85h-0.85zM352.7 520.9h0.85v0.85h-0.85zM352.2 520.8h0.85v0.85h-0.85zM372.3 496.0h0.85v0.85h-0.85zM371.8 496.2h0.85v0.85h-0.85zM353.6 521.4h0.85v0.85h-0.85zM353.9 521.6h0.85v0.85h-0.85zM348.2 524.3h0.85v0.85h-0.85zM347.8 523.4h0.85v0.85h-0.85zM348.3 523.0h0.85v0.85h-0.85zM348.2 522.9h0.85v0.85h-0.85zM372.5 497.7h0.85v0.85h-0.85zM372.2 497.7h0.85v0.85h-0.85zM372.3 497.6h0.85v0.85h-0.85zM371.7 497.4h0.85v0.85h-0.85zM349.2 525.6h0.85v0.85h-0.85zM351.4 520.6h0.85v0.85h-0.85zM351.1 525.5h0.85v0.85h-0.85zM351.2 526.1h0.85v0.85h-0.85zM349.4 521.2h0.85v0.85h-0.85zM349.2 521.2h0.85v0.85h-0.85zM349.3 521.5h0.85v0.85h-0.85zM348.8 521.8h0.85v0.85h-0.85zM349.5 526.0h0.85v0.85h-0.85zM349.4 526.0h0.85v0.85h-0.85z" fill="#f5dd27"/>
<path d="M353.4 524.5h0.85v0.85h-0.85zM353.7 522.7h0.85v0.85h-0.85zM372.3 496.4h0.85v0.85h-0.85zM372.4 496.7h0.85v0.85h-0.85zM372.2 496.7h0.85v0.85h-0.85zM349.1 525.1h0.85v0.85h-0.85zM349.0 525.0h0.85v0.85h-0.85zM352.4 521.6h0.85v0.85h-0.85zM353.0 521.6h0.85v0.85h-0.85zM349.3 522.3h0.85v0.85h-0.85zM349.9 521.3h0.85v0.85h-0.85zM348.8 524.2h0.85v0.85h-0.85zM351.5 524.8h0.85v0.85h-0.85zM349.1 522.9h0.85v0.85h-0.85zM368.8 498.9h0.85v0.85h-0.85zM368.7 499.3h0.85v0.85h-0.85zM368.5 499.1h0.85v0.85h-0.85zM368.2 499.6h0.85v0.85h-0.85zM351.6 521.7h0.85v0.85h-0.85zM350.4 521.8h0.85v0.85h-0.85zM350.4 521.4h0.85v0.85h-0.85zM349.5 524.6h0.85v0.85h-0.85zM349.9 524.8h0.85v0.85h-0.85zM349.7 524.7h0.85v0.85h-0.85zM352.2 523.8h0.85v0.85h-0.85zM352.5 523.8h0.85v0.85h-0.85zM352.9 524.2h0.85v0.85h-0.85zM352.7 523.7h0.85v0.85h-0.85zM352.9 521.9h0.85v0.85h-0.85zM352.9 522.3h0.85v0.85h-0.85zM371.0 495.0h0.85v0.85h-0.85zM370.7 494.8h0.85v0.85h-0.85zM371.3 494.8h0.85v0.85h-0.85zM352.5 523.4h0.85v0.85h-0.85zM352.3 523.0h0.85v0.85h-0.85zM353.0 523.5h0.85v0.85h-0.85zM352.7 523.4h0.85v0.85h-0.85zM349.8 524.1h0.85v0.85h-0.85zM349.9 523.8h0.85v0.85h-0.85zM350.2 523.0h0.85v0.85h-0.85zM349.9 523.1h0.85v0.85h-0.85zM351.5 522.4h0.85v0.85h-0.85zM351.7 522.2h0.85v0.85h-0.85zM351.6 522.2h0.85v0.85h-0.85zM351.9 522.1h0.85v0.85h-0.85zM351.9 524.4h0.85v0.85h-0.85zM351.4 523.9h0.85v0.85h-0.85zM370.0 499.6h0.85v0.85h-0.85zM351.7 523.4h0.85v0.85h-0.85zM352.1 522.9h0.85v0.85h-0.85zM371.0 498.6h0.85v0.85h-0.85z" fill="#f7be23"/>
<path d="M369.6 499.3h0.85v0.85h-0.85zM369.8 499.3h0.85v0.85h-0.85zM368.7 496.2h0.85v0.85h-0.85zM368.1 496.1h0.85v0.85h-0.85zM368.3 496.0h0.85v0.85h-0.85zM369.8 494.9h0.85v0.85h-0.85zM369.6 494.6h0.85v0.85h-0.85zM369.5 495.2h0.85v0.85h-0.85zM369.6 494.8h0.85v0.85h-0.85zM369.3 494.5h0.85v0.85h-0.85zM369.2 495.3h0.85v0.85h-0.85zM369.4 494.9h0.85v0.85h-0.85zM368.7 498.6h0.85v0.85h-0.85zM368.5 498.3h0.85v0.85h-0.85zM370.4 495.3h0.85v0.85h-0.85zM370.4 495.2h0.85v0.85h-0.85zM370.7 494.8h0.85v0.85h-0.85zM370.3 494.9h0.85v0.85h-0.85zM370.3 494.7h0.85v0.85h-0.85zM370.8 495.4h0.85v0.85h-0.85zM371.0 496.2h0.85v0.85h-0.85zM370.9 495.5h0.85v0.85h-0.85zM370.8 496.1h0.85v0.85h-0.85zM368.4 496.8h0.85v0.85h-0.85zM368.2 497.6h0.85v0.85h-0.85zM371.1 497.8h0.85v0.85h-0.85zM371.1 497.5h0.85v0.85h-0.85zM371.6 497.7h0.85v0.85h-0.85zM370.8 497.2h0.85v0.85h-0.85zM370.8 497.9h0.85v0.85h-0.85z" fill="#f89e20"/>
<path d="M371.3 496.7h0.85v0.85h-0.85zM370.4 498.4h0.85v0.85h-0.85zM370.7 498.6h0.85v0.85h-0.85zM370.5 498.0h0.85v0.85h-0.85zM370.0 498.4h0.85v0.85h-0.85zM369.0 498.8h0.85v0.85h-0.85zM369.4 498.2h0.85v0.85h-0.85zM369.8 498.2h0.85v0.85h-0.85zM369.2 498.2h0.85v0.85h-0.85zM369.7 495.7h0.85v0.85h-0.85zM369.7 495.8h0.85v0.85h-0.85zM370.3 496.1h0.85v0.85h-0.85zM370.5 495.8h0.85v0.85h-0.85zM369.1 498.0h0.85v0.85h-0.85zM369.8 497.5h0.85v0.85h-0.85zM369.6 497.4h0.85v0.85h-0.85zM369.3 496.5h0.85v0.85h-0.85zM369.0 497.0h0.85v0.85h-0.85zM369.2 496.5h0.85v0.85h-0.85zM369.0 496.8h0.85v0.85h-0.85zM370.1 497.2h0.85v0.85h-0.85zM370.0 497.5h0.85v0.85h-0.85zM370.0 497.8h0.85v0.85h-0.85zM370.3 496.3h0.85v0.85h-0.85zM370.5 497.0h0.85v0.85h-0.85zM370.6 496.9h0.85v0.85h-0.85zM370.3 496.4h0.85v0.85h-0.85z" fill="#f5791e"/>
<path d="M484.5 536.9h1.2v1.2h-1.2zM449.3 519.5h1.2v1.2h-1.2zM480.1 547.9h1.2v1.2h-1.2zM461.3 489.8h1.2v1.2h-1.2zM487.8 517.9h1.2v1.2h-1.2zM487.1 515.2h1.2v1.2h-1.2zM481.1 480.8h1.2v1.2h-1.2zM481.3 523.0h1.2v1.2h-1.2zM485.6 508.0h1.2v1.2h-1.2zM463.8 480.9h1.2v1.2h-1.2zM476.9 543.9h1.2v1.2h-1.2z" fill="#2f2e90"/>
<path d="M461.1 499.7h1.2v1.2h-1.2zM488.1 490.5h1.2v1.2h-1.2zM463.7 484.0h1.2v1.2h-1.2zM488.6 491.6h1.2v1.2h-1.2zM464.5 482.4h1.2v1.2h-1.2zM440.6 554.9h1.2v1.2h-1.2zM456.9 514.8h1.2v1.2h-1.2zM462.1 496.3h1.2v1.2h-1.2zM443.7 546.7h1.2v1.2h-1.2zM466.3 484.5h1.2v1.2h-1.2zM442.3 555.3h1.2v1.2h-1.2zM451.2 552.8h1.2v1.2h-1.2zM462.3 496.5h1.2v1.2h-1.2zM469.8 541.1h1.2v1.2h-1.2zM463.8 499.6h1.2v1.2h-1.2zM486.8 494.0h1.2v1.2h-1.2zM477.6 528.9h1.2v1.2h-1.2zM453.2 527.9h1.2v1.2h-1.2zM460.9 505.8h1.2v1.2h-1.2zM473.8 535.0h1.2v1.2h-1.2zM484.0 486.5h1.2v1.2h-1.2zM446.2 551.6h1.2v1.2h-1.2zM447.3 552.7h1.2v1.2h-1.2zM449.6 539.2h1.2v1.2h-1.2z" fill="#2d2f94"/>
<path d="M476.0 531.2h1.2v1.2h-1.2zM483.7 502.6h1.2v1.2h-1.2zM459.2 509.5h1.2v1.2h-1.2zM448.4 535.4h1.2v1.2h-1.2zM450.5 530.2h1.2v1.2h-1.2zM482.6 512.3h1.2v1.2h-1.2zM450.3 547.4h1.2v1.2h-1.2zM461.6 553.4h1.2v1.2h-1.2zM451.4 547.0h1.2v1.2h-1.2zM449.4 536.6h1.2v1.2h-1.2zM469.9 542.6h1.2v1.2h-1.2zM465.7 549.4h1.2v1.2h-1.2zM452.5 533.9h1.2v1.2h-1.2zM482.8 505.2h1.2v1.2h-1.2zM474.4 524.5h1.2v1.2h-1.2zM483.1 488.4h1.2v1.2h-1.2zM477.6 519.7h1.2v1.2h-1.2zM463.1 508.5h1.2v1.2h-1.2zM449.4 549.8h1.2v1.2h-1.2zM453.2 531.8h1.2v1.2h-1.2z" fill="#2b3099"/>
<path d="M479.5 513.7h1.2v1.2h-1.2zM448.5 544.8h1.2v1.2h-1.2zM460.0 512.5h1.2v1.2h-1.2zM453.4 527.5h1.2v1.2h-1.2zM453.8 527.5h1.2v1.2h-1.2zM473.1 523.2h1.2v1.2h-1.2zM456.1 520.2h1.2v1.2h-1.2zM453.2 551.1h1.2v1.2h-1.2zM477.0 516.5h1.2v1.2h-1.2zM483.5 498.1h1.2v1.2h-1.2zM449.3 543.9h1.2v1.2h-1.2zM454.7 530.7h1.2v1.2h-1.2zM465.9 506.1h1.2v1.2h-1.2zM471.3 479.5h1.2v1.2h-1.2zM478.2 513.4h1.2v1.2h-1.2zM459.7 547.1h1.2v1.2h-1.2zM467.6 514.1h1.2v1.2h-1.2zM466.7 539.8h1.2v1.2h-1.2zM457.2 551.6h1.2v1.2h-1.2zM469.2 489.4h1.2v1.2h-1.2zM450.7 540.6h1.2v1.2h-1.2z" fill="#29319d"/>
<path d="M464.3 509.8h1.2v1.2h-1.2zM453.3 549.0h1.2v1.2h-1.2zM462.6 531.9h1.2v1.2h-1.2zM457.0 533.0h1.2v1.2h-1.2zM466.3 537.6h1.2v1.2h-1.2zM453.9 538.6h1.2v1.2h-1.2zM451.3 542.1h1.2v1.2h-1.2zM456.3 529.2h1.2v1.2h-1.2zM481.5 520.2h1.2v1.2h-1.2zM459.5 518.9h1.2v1.2h-1.2zM459.3 538.4h1.2v1.2h-1.2zM451.7 540.4h1.2v1.2h-1.2zM469.4 530.8h1.2v1.2h-1.2zM476.2 509.2h1.2v1.2h-1.2zM470.4 545.3h1.2v1.2h-1.2zM473.7 518.7h1.2v1.2h-1.2zM458.5 523.7h1.2v1.2h-1.2zM457.3 528.2h1.2v1.2h-1.2zM459.4 520.1h1.2v1.2h-1.2z" fill="#2838a5"/>
<path d="M455.7 540.2h1.2v1.2h-1.2zM455.9 540.3h1.2v1.2h-1.2zM469.2 531.9h1.2v1.2h-1.2zM461.1 517.9h1.2v1.2h-1.2zM458.0 525.9h1.2v1.2h-1.2zM464.5 540.8h1.2v1.2h-1.2zM471.2 507.9h1.2v1.2h-1.2zM460.2 519.6h1.2v1.2h-1.2zM459.9 519.3h1.2v1.2h-1.2zM468.5 511.1h1.2v1.2h-1.2zM472.4 508.2h1.2v1.2h-1.2zM483.5 510.6h1.2v1.2h-1.2zM454.4 540.7h1.2v1.2h-1.2zM473.3 509.7h1.2v1.2h-1.2zM467.3 512.0h1.2v1.2h-1.2zM476.6 505.8h1.2v1.2h-1.2zM463.9 513.5h1.2v1.2h-1.2zM480.9 491.4h1.2v1.2h-1.2zM472.3 524.6h1.2v1.2h-1.2zM455.1 546.2h1.2v1.2h-1.2zM454.0 543.0h1.2v1.2h-1.2zM465.8 535.0h1.2v1.2h-1.2zM461.0 547.8h1.2v1.2h-1.2zM471.8 516.8h1.2v1.2h-1.2zM471.8 504.7h1.2v1.2h-1.2zM463.5 514.5h1.2v1.2h-1.2zM466.3 512.6h1.2v1.2h-1.2zM464.2 513.0h1.2v1.2h-1.2zM455.7 546.5h1.2v1.2h-1.2zM462.3 546.0h1.2v1.2h-1.2zM469.1 482.5h1.2v1.2h-1.2zM480.4 482.4h1.2v1.2h-1.2zM480.7 492.9h1.2v1.2h-1.2zM459.7 522.9h1.2v1.2h-1.2zM467.9 531.2h1.2v1.2h-1.2zM471.6 525.2h1.2v1.2h-1.2zM463.8 515.7h1.2v1.2h-1.2zM460.7 520.9h1.2v1.2h-1.2zM459.5 529.4h1.2v1.2h-1.2zM466.7 533.0h1.2v1.2h-1.2zM467.9 513.9h1.2v1.2h-1.2zM464.5 514.9h1.2v1.2h-1.2z" fill="#2846b0"/>
<path d="M460.0 531.6h1.2v1.2h-1.2zM457.3 543.1h1.2v1.2h-1.2zM465.7 515.4h1.2v1.2h-1.2zM465.1 515.0h1.2v1.2h-1.2zM456.1 554.5h1.2v1.2h-1.2zM461.1 532.5h1.2v1.2h-1.2zM464.0 519.3h1.2v1.2h-1.2zM458.8 545.9h1.2v1.2h-1.2zM465.3 516.1h1.2v1.2h-1.2zM462.1 522.0h1.2v1.2h-1.2zM462.1 522.4h1.2v1.2h-1.2zM458.8 545.1h1.2v1.2h-1.2zM460.9 532.2h1.2v1.2h-1.2zM462.8 522.6h1.2v1.2h-1.2zM472.3 534.1h1.2v1.2h-1.2zM466.0 530.2h1.2v1.2h-1.2zM460.9 530.0h1.2v1.2h-1.2zM469.3 525.0h1.2v1.2h-1.2zM468.6 519.6h1.2v1.2h-1.2zM462.9 532.2h1.2v1.2h-1.2zM467.3 519.1h1.2v1.2h-1.2zM461.9 530.8h1.2v1.2h-1.2zM464.3 524.4h1.2v1.2h-1.2zM461.9 530.4h1.2v1.2h-1.2zM469.7 522.1h1.2v1.2h-1.2zM465.5 526.7h1.2v1.2h-1.2z" fill="#2853bb"/>
<path d="M466.5 525.2h1.2v1.2h-1.2zM463.8 527.2h1.2v1.2h-1.2zM469.0 521.6h1.2v1.2h-1.2zM466.8 521.6h1.2v1.2h-1.2zM463.7 529.3h1.2v1.2h-1.2zM467.9 521.6h1.2v1.2h-1.2zM474.7 490.1h1.2v1.2h-1.2zM467.8 543.7h1.2v1.2h-1.2z" fill="#2860c6"/>
<path d="M471.4 484.1h1.2v1.2h-1.2zM460.7 551.2h1.2v1.2h-1.2zM466.6 503.8h1.2v1.2h-1.2zM475.8 521.8h1.2v1.2h-1.2z" fill="#286ed2"/>
<path d="M473.9 526.5h1.2v1.2h-1.2zM455.5 551.8h1.2v1.2h-1.2zM476.6 514.9h1.2v1.2h-1.2zM467.2 505.3h1.2v1.2h-1.2zM465.2 492.9h1.2v1.2h-1.2zM459.6 517.1h1.2v1.2h-1.2zM483.6 501.3h1.2v1.2h-1.2zM465.7 494.9h1.2v1.2h-1.2zM477.7 509.0h1.2v1.2h-1.2z" fill="#2884d2"/>
<path d="M467.5 501.3h1.2v1.2h-1.2zM467.7 534.7h1.2v1.2h-1.2zM469.2 506.2h1.2v1.2h-1.2zM455.5 549.9h1.2v1.2h-1.2zM465.3 539.0h1.2v1.2h-1.2zM474.7 514.0h1.2v1.2h-1.2z" fill="#289ad2"/>
<path d="M452.8 540.3h1.2v1.2h-1.2zM460.1 549.9h1.2v1.2h-1.2zM477.1 507.0h1.2v1.2h-1.2zM475.9 509.6h1.2v1.2h-1.2zM483.7 493.8h1.2v1.2h-1.2zM459.3 549.4h1.2v1.2h-1.2zM476.4 508.6h1.2v1.2h-1.2zM483.8 497.2h1.2v1.2h-1.2zM468.3 510.0h1.2v1.2h-1.2zM458.8 534.7h1.2v1.2h-1.2zM452.5 542.7h1.2v1.2h-1.2zM473.7 517.1h1.2v1.2h-1.2zM477.3 484.7h1.2v1.2h-1.2zM472.9 525.0h1.2v1.2h-1.2zM463.0 547.8h1.2v1.2h-1.2zM455.7 548.7h1.2v1.2h-1.2zM469.5 509.3h1.2v1.2h-1.2zM474.6 514.4h1.2v1.2h-1.2zM464.6 545.5h1.2v1.2h-1.2zM474.7 511.4h1.2v1.2h-1.2zM463.6 512.1h1.2v1.2h-1.2zM460.8 536.1h1.2v1.2h-1.2zM463.3 537.9h1.2v1.2h-1.2zM475.1 507.6h1.2v1.2h-1.2z" fill="#28b0d2"/>
<path d="M464.0 536.9h1.2v1.2h-1.2zM453.3 542.4h1.2v1.2h-1.2zM468.0 532.9h1.2v1.2h-1.2zM454.3 547.2h1.2v1.2h-1.2zM458.3 527.0h1.2v1.2h-1.2zM473.4 523.4h1.2v1.2h-1.2zM462.6 539.2h1.2v1.2h-1.2zM461.0 535.1h1.2v1.2h-1.2zM470.1 528.0h1.2v1.2h-1.2zM482.8 491.5h1.2v1.2h-1.2zM462.9 536.5h1.2v1.2h-1.2zM472.3 514.0h1.2v1.2h-1.2zM459.6 522.9h1.2v1.2h-1.2zM470.0 502.6h1.2v1.2h-1.2zM467.4 492.2h1.2v1.2h-1.2zM468.9 500.6h1.2v1.2h-1.2zM456.4 548.2h1.2v1.2h-1.2zM463.7 540.9h1.2v1.2h-1.2zM472.1 513.1h1.2v1.2h-1.2zM478.5 485.8h1.2v1.2h-1.2zM456.8 540.5h1.2v1.2h-1.2zM472.9 511.9h1.2v1.2h-1.2zM472.3 512.7h1.2v1.2h-1.2zM471.1 511.7h1.2v1.2h-1.2zM463.5 545.2h1.2v1.2h-1.2zM471.5 512.0h1.2v1.2h-1.2zM454.4 541.6h1.2v1.2h-1.2zM480.2 502.7h1.2v1.2h-1.2zM469.0 512.9h1.2v1.2h-1.2zM463.4 514.7h1.2v1.2h-1.2z" fill="#26bcc5"/>
<path d="M459.2 540.9h1.2v1.2h-1.2zM468.3 498.4h1.2v1.2h-1.2zM463.5 544.3h1.2v1.2h-1.2zM463.4 542.2h1.2v1.2h-1.2zM469.8 502.3h1.2v1.2h-1.2zM461.6 546.6h1.2v1.2h-1.2zM462.7 541.5h1.2v1.2h-1.2zM472.6 523.4h1.2v1.2h-1.2zM470.4 516.5h1.2v1.2h-1.2zM459.7 523.5h1.2v1.2h-1.2zM472.5 504.7h1.2v1.2h-1.2zM458.3 541.9h1.2v1.2h-1.2zM460.6 533.8h1.2v1.2h-1.2zM468.2 530.4h1.2v1.2h-1.2zM481.4 488.5h1.2v1.2h-1.2zM473.1 504.5h1.2v1.2h-1.2zM456.9 544.0h1.2v1.2h-1.2zM464.4 533.7h1.2v1.2h-1.2z" fill="#24baa6"/>
<path d="M467.9 528.9h1.2v1.2h-1.2zM480.5 488.0h1.2v1.2h-1.2zM480.4 487.7h1.2v1.2h-1.2zM464.6 516.6h1.2v1.2h-1.2zM457.0 545.1h1.2v1.2h-1.2zM460.6 545.9h1.2v1.2h-1.2zM472.6 503.9h1.2v1.2h-1.2zM480.7 501.6h1.2v1.2h-1.2zM470.2 517.8h1.2v1.2h-1.2zM457.5 544.2h1.2v1.2h-1.2zM460.8 542.7h1.2v1.2h-1.2zM461.6 543.2h1.2v1.2h-1.2zM461.5 543.4h1.2v1.2h-1.2zM461.5 521.8h1.2v1.2h-1.2zM464.6 518.7h1.2v1.2h-1.2zM460.2 528.7h1.2v1.2h-1.2zM466.4 516.3h1.2v1.2h-1.2zM471.0 519.8h1.2v1.2h-1.2zM469.2 498.3h1.2v1.2h-1.2zM467.3 529.9h1.2v1.2h-1.2zM460.9 543.7h1.2v1.2h-1.2zM459.7 543.6h1.2v1.2h-1.2zM461.0 544.7h1.2v1.2h-1.2zM467.6 529.3h1.2v1.2h-1.2zM470.0 524.8h1.2v1.2h-1.2zM467.7 518.0h1.2v1.2h-1.2zM467.8 494.5h1.2v1.2h-1.2z" fill="#21b788"/>
<path d="M468.1 493.4h1.2v1.2h-1.2zM466.1 530.6h1.2v1.2h-1.2zM482.5 498.0h1.2v1.2h-1.2zM460.6 527.1h1.2v1.2h-1.2zM471.9 501.8h1.2v1.2h-1.2zM474.4 503.2h1.2v1.2h-1.2zM469.0 518.3h1.2v1.2h-1.2zM474.9 503.4h1.2v1.2h-1.2zM470.9 521.4h1.2v1.2h-1.2zM471.1 522.2h1.2v1.2h-1.2zM462.7 525.1h1.2v1.2h-1.2zM480.7 488.5h1.2v1.2h-1.2zM461.4 527.3h1.2v1.2h-1.2zM467.2 525.8h1.2v1.2h-1.2zM461.9 531.3h1.2v1.2h-1.2zM461.4 528.8h1.2v1.2h-1.2z" fill="#1fb569"/>
<path d="M464.1 523.9h1.2v1.2h-1.2zM468.8 523.9h1.2v1.2h-1.2zM465.7 521.8h1.2v1.2h-1.2zM470.1 522.0h1.2v1.2h-1.2zM465.4 527.5h1.2v1.2h-1.2zM469.0 520.8h1.2v1.2h-1.2zM465.5 525.6h1.2v1.2h-1.2zM462.8 531.3h1.2v1.2h-1.2zM463.5 531.1h1.2v1.2h-1.2zM476.7 503.0h1.2v1.2h-1.2zM465.0 524.1h1.2v1.2h-1.2zM481.3 499.3h1.2v1.2h-1.2zM473.9 502.6h1.2v1.2h-1.2zM464.0 527.1h1.2v1.2h-1.2zM467.7 523.7h1.2v1.2h-1.2zM468.8 491.2h1.2v1.2h-1.2zM464.2 529.4h1.2v1.2h-1.2zM466.1 522.5h1.2v1.2h-1.2zM478.8 501.4h1.2v1.2h-1.2zM476.3 503.0h1.2v1.2h-1.2zM468.1 521.4h1.2v1.2h-1.2zM468.1 522.4h1.2v1.2h-1.2zM471.2 487.7h1.2v1.2h-1.2zM480.1 499.8h1.2v1.2h-1.2zM473.2 501.6h1.2v1.2h-1.2zM470.7 498.8h1.2v1.2h-1.2z" fill="#27b654"/>
<path d="M468.7 494.8h1.2v1.2h-1.2zM479.6 488.8h1.2v1.2h-1.2zM469.5 497.7h1.2v1.2h-1.2zM481.2 496.4h1.2v1.2h-1.2zM481.0 495.8h1.2v1.2h-1.2zM480.2 499.0h1.2v1.2h-1.2zM475.6 502.2h1.2v1.2h-1.2z" fill="#3bba49"/>
<path d="M480.2 489.9h1.2v1.2h-1.2zM469.4 496.6h1.2v1.2h-1.2zM472.7 487.4h1.2v1.2h-1.2zM477.7 500.8h1.2v1.2h-1.2zM470.9 489.8h1.2v1.2h-1.2z" fill="#4fbf3e"/>
<path d="M470.9 497.0h1.2v1.2h-1.2zM473.1 488.0h1.2v1.2h-1.2zM477.2 501.1h1.2v1.2h-1.2zM477.0 500.9h1.2v1.2h-1.2zM478.3 500.2h1.2v1.2h-1.2zM469.9 495.2h1.2v1.2h-1.2zM470.2 495.0h1.2v1.2h-1.2zM479.6 498.8h1.2v1.2h-1.2zM476.2 487.6h1.2v1.2h-1.2zM480.9 496.5h1.2v1.2h-1.2z" fill="#63c333"/>
<path d="M474.7 487.7h1.2v1.2h-1.2zM480.1 492.8h1.2v1.2h-1.2zM480.1 495.6h1.2v1.2h-1.2zM474.2 500.3h1.2v1.2h-1.2zM479.3 498.0h1.2v1.2h-1.2zM478.8 499.6h1.2v1.2h-1.2zM475.0 499.7h1.2v1.2h-1.2zM471.6 489.5h1.2v1.2h-1.2z" fill="#78c828"/>
<path d="M470.7 491.1h1.2v1.2h-1.2zM477.2 488.5h1.2v1.2h-1.2zM480.0 496.2h1.2v1.2h-1.2zM478.4 498.5h1.2v1.2h-1.2zM478.9 498.4h1.2v1.2h-1.2z" fill="#9ace25"/>
<path d="M479.7 492.1h1.2v1.2h-1.2zM470.9 493.2h1.2v1.2h-1.2zM477.0 499.0h1.2v1.2h-1.2zM471.6 490.6h1.2v1.2h-1.2zM474.2 488.3h1.2v1.2h-1.2zM474.1 488.6h1.2v1.2h-1.2zM479.6 492.7h1.2v1.2h-1.2zM473.2 498.2h1.2v1.2h-1.2zM472.5 489.6h1.2v1.2h-1.2zM472.8 489.3h1.2v1.2h-1.2zM472.1 497.4h1.2v1.2h-1.2zM477.9 497.9h1.2v1.2h-1.2z" fill="#bdd522"/>
<path d="M474.1 498.1h1.2v1.2h-1.2zM471.6 491.5h1.2v1.2h-1.2zM476.8 489.1h1.2v1.2h-1.2zM476.8 489.4h1.2v1.2h-1.2zM476.6 497.9h1.2v1.2h-1.2zM472.6 496.7h1.2v1.2h-1.2zM472.1 496.8h1.2v1.2h-1.2zM475.4 498.3h1.2v1.2h-1.2zM475.4 498.6h1.2v1.2h-1.2z" fill="#e0dc1f"/>
<path d="M472.9 497.7h1.2v1.2h-1.2zM475.9 498.1h1.2v1.2h-1.2zM478.8 495.5h1.2v1.2h-1.2zM478.9 495.5h1.2v1.2h-1.2zM471.2 492.0h1.2v1.2h-1.2zM472.1 490.3h1.2v1.2h-1.2zM471.2 493.9h1.2v1.2h-1.2zM471.9 493.9h1.2v1.2h-1.2zM476.2 489.0h1.2v1.2h-1.2zM478.6 492.5h1.2v1.2h-1.2zM478.5 493.3h1.2v1.2h-1.2zM474.2 489.1h1.2v1.2h-1.2zM479.1 494.0h1.2v1.2h-1.2zM474.8 489.1h1.2v1.2h-1.2zM474.4 497.1h1.2v1.2h-1.2zM474.7 497.0h1.2v1.2h-1.2z" fill="#f5d51e"/>
<path d="M476.8 497.6h1.2v1.2h-1.2zM478.0 496.9h1.2v1.2h-1.2zM473.2 496.2h1.2v1.2h-1.2zM475.0 497.7h1.2v1.2h-1.2zM476.9 490.2h1.2v1.2h-1.2zM477.1 490.6h1.2v1.2h-1.2zM472.3 490.8h1.2v1.2h-1.2zM472.7 491.6h1.2v1.2h-1.2zM472.9 490.8h1.2v1.2h-1.2z" fill="#f7b91e"/>
<path d="M477.5 491.7h1.2v1.2h-1.2zM474.0 496.1h1.2v1.2h-1.2zM474.3 496.9h1.2v1.2h-1.2zM472.2 494.0h1.2v1.2h-1.2zM475.7 490.1h1.2v1.2h-1.2zM474.3 490.7h1.2v1.2h-1.2zM478.1 492.6h1.2v1.2h-1.2zM477.5 492.9h1.2v1.2h-1.2zM475.5 490.7h1.2v1.2h-1.2zM474.9 490.2h1.2v1.2h-1.2zM477.4 490.9h1.2v1.2h-1.2zM477.1 491.6h1.2v1.2h-1.2zM477.4 490.9h1.2v1.2h-1.2zM477.1 491.4h1.2v1.2h-1.2z" fill="#f99d1e"/>
<path d="M473.1 491.6h1.2v1.2h-1.2zM476.7 495.8h1.2v1.2h-1.2zM476.6 495.6h1.2v1.2h-1.2zM473.0 494.5h1.2v1.2h-1.2zM473.1 494.8h1.2v1.2h-1.2zM474.5 495.4h1.2v1.2h-1.2zM474.0 495.4h1.2v1.2h-1.2zM477.1 494.8h1.2v1.2h-1.2zM475.7 495.3h1.2v1.2h-1.2zM476.4 491.3h1.2v1.2h-1.2zM475.2 495.6h1.2v1.2h-1.2zM473.6 493.8h1.2v1.2h-1.2z" fill="#f5791e"/>
<path d="M474.1 491.2h1.2v1.2h-1.2zM473.8 491.6h1.2v1.2h-1.2zM473.2 492.8h1.2v1.2h-1.2zM473.4 492.7h1.2v1.2h-1.2zM477.2 494.2h1.2v1.2h-1.2zM476.5 492.7h1.2v1.2h-1.2zM477.1 492.6h1.2v1.2h-1.2zM475.4 491.0h1.2v1.2h-1.2zM476.5 494.9h1.2v1.2h-1.2zM474.4 491.9h1.2v1.2h-1.2zM473.8 492.5h1.2v1.2h-1.2zM474.7 494.9h1.2v1.2h-1.2zM474.7 493.7h1.2v1.2h-1.2zM474.1 494.2h1.2v1.2h-1.2zM474.1 493.7h1.2v1.2h-1.2z" fill="#eb4b1e"/>
<path d="M476.2 493.1h1.2v1.2h-1.2zM475.8 492.7h1.2v1.2h-1.2zM474.8 494.1h1.2v1.2h-1.2zM475.4 493.7h1.2v1.2h-1.2zM474.9 494.3h1.2v1.2h-1.2zM474.8 493.4h1.2v1.2h-1.2zM475.3 493.4h1.2v1.2h-1.2z" fill="#e11e1e"/>
<path d="M351.0 631.2h0.85v0.85h-0.85zM389.9 663.2h0.85v0.85h-0.85zM360.3 631.3h0.85v0.85h-0.85zM377.5 664.9h0.85v0.85h-0.85zM350.1 633.1h0.85v0.85h-0.85zM393.0 655.7h0.85v0.85h-0.85zM347.4 664.5h0.85v0.85h-0.85zM393.9 644.7h0.85v0.85h-0.85zM349.2 663.7h0.85v0.85h-0.85zM348.8 663.4h0.85v0.85h-0.85z" fill="#6c5bc8" opacity="0.8"/>
<path d="M386.9 660.8h0.85v0.85h-0.85zM391.8 638.4h0.85v0.85h-0.85zM395.1 634.3h0.85v0.85h-0.85zM365.5 633.9h0.85v0.85h-0.85zM361.2 665.4h0.85v0.85h-0.85zM393.9 650.6h0.85v0.85h-0.85zM347.0 657.5h0.85v0.85h-0.85zM350.1 659.7h0.85v0.85h-0.85zM371.4 631.4h0.85v0.85h-0.85zM358.7 664.4h0.85v0.85h-0.85zM357.3 633.0h0.85v0.85h-0.85zM371.4 602.2h0.85v0.85h-0.85zM392.2 636.1h0.85v0.85h-0.85zM383.1 662.4h0.85v0.85h-0.85zM370.3 609.1h0.85v0.85h-0.85zM394.2 632.9h0.85v0.85h-0.85zM394.6 632.5h0.85v0.85h-0.85zM367.5 664.4h0.85v0.85h-0.85zM357.4 634.3h0.85v0.85h-0.85zM371.6 632.1h0.85v0.85h-0.85zM339.3 647.6h0.85v0.85h-0.85zM363.6 635.6h0.85v0.85h-0.85zM375.5 662.6h0.85v0.85h-0.85zM346.8 638.3h0.85v0.85h-0.85zM397.9 628.5h0.85v0.85h-0.85zM370.4 620.2h0.85v0.85h-0.85zM340.4 655.1h0.85v0.85h-0.85zM384.3 657.8h0.85v0.85h-0.85zM354.6 636.2h0.85v0.85h-0.85zM356.0 636.0h0.85v0.85h-0.85zM363.9 662.1h0.85v0.85h-0.85zM363.5 662.8h0.85v0.85h-0.85z" fill="#6153c4" opacity="0.8"/>
<path d="M392.6 659.0h0.85v0.85h-0.85zM359.9 637.5h0.85v0.85h-0.85zM386.5 655.8h0.85v0.85h-0.85zM372.0 633.7h0.85v0.85h-0.85zM371.1 662.4h0.85v0.85h-0.85zM369.9 662.2h0.85v0.85h-0.85zM388.2 637.2h0.85v0.85h-0.85zM353.2 637.5h0.85v0.85h-0.85zM394.7 641.4h0.85v0.85h-0.85zM349.0 640.3h0.85v0.85h-0.85zM387.3 640.3h0.85v0.85h-0.85zM387.4 640.6h0.85v0.85h-0.85zM398.3 608.6h0.85v0.85h-0.85zM358.5 638.9h0.85v0.85h-0.85zM370.7 637.1h0.85v0.85h-0.85zM354.5 638.8h0.85v0.85h-0.85zM369.2 637.8h0.85v0.85h-0.85zM389.8 633.2h0.85v0.85h-0.85zM390.3 632.3h0.85v0.85h-0.85zM377.2 659.7h0.85v0.85h-0.85zM372.6 660.3h0.85v0.85h-0.85zM388.0 651.5h0.85v0.85h-0.85zM367.6 631.8h0.85v0.85h-0.85zM349.2 643.9h0.85v0.85h-0.85zM342.2 652.5h0.85v0.85h-0.85zM348.1 651.6h0.85v0.85h-0.85zM374.3 635.0h0.85v0.85h-0.85zM398.3 620.7h0.85v0.85h-0.85zM385.1 641.0h0.85v0.85h-0.85zM396.0 649.5h0.85v0.85h-0.85z" fill="#564bc0" opacity="0.8"/>
<path d="M379.6 599.3h0.85v0.85h-0.85zM388.8 632.4h0.85v0.85h-0.85zM373.6 620.3h0.85v0.85h-0.85zM395.0 598.7h0.85v0.85h-0.85zM388.0 660.4h0.85v0.85h-0.85zM376.2 624.5h0.85v0.85h-0.85zM351.3 642.6h0.85v0.85h-0.85zM374.5 630.5h0.85v0.85h-0.85zM372.7 637.3h0.85v0.85h-0.85zM353.1 641.5h0.85v0.85h-0.85zM386.3 648.3h0.85v0.85h-0.85zM379.3 630.3h0.85v0.85h-0.85zM349.1 651.3h0.85v0.85h-0.85zM385.8 645.1h0.85v0.85h-0.85zM379.5 658.1h0.85v0.85h-0.85zM384.5 663.4h0.85v0.85h-0.85zM383.4 637.7h0.85v0.85h-0.85zM393.9 647.8h0.85v0.85h-0.85zM376.5 626.8h0.85v0.85h-0.85zM376.4 626.7h0.85v0.85h-0.85zM353.5 642.2h0.85v0.85h-0.85zM375.7 636.5h0.85v0.85h-0.85zM393.2 598.4h0.85v0.85h-0.85zM385.1 647.0h0.85v0.85h-0.85zM374.9 620.0h0.85v0.85h-0.85zM370.5 659.0h0.85v0.85h-0.85zM385.8 647.8h0.85v0.85h-0.85zM350.0 649.2h0.85v0.85h-0.85zM385.2 633.3h0.85v0.85h-0.85zM395.8 600.7h0.85v0.85h-0.85zM352.2 655.6h0.85v0.85h-0.85zM353.5 655.9h0.85v0.85h-0.85zM383.1 663.2h0.85v0.85h-0.85zM348.5 660.0h0.85v0.85h-0.85zM356.1 663.1h0.85v0.85h-0.85zM365.3 641.0h0.85v0.85h-0.85zM396.6 604.1h0.85v0.85h-0.85zM370.6 664.7h0.85v0.85h-0.85zM395.6 622.6h0.85v0.85h-0.85zM374.1 658.1h0.85v0.85h-0.85zM351.0 649.4h0.85v0.85h-0.85zM373.1 640.2h0.85v0.85h-0.85zM381.6 635.9h0.85v0.85h-0.85zM368.7 657.6h0.85v0.85h-0.85z" fill="#4c46bf" opacity="0.8"/>
<path d="M393.7 651.0h0.85v0.85h-0.85zM355.4 643.3h0.85v0.85h-0.85zM385.4 630.9h0.85v0.85h-0.85zM344.2 645.0h0.85v0.85h-0.85zM378.4 601.0h0.85v0.85h-0.85zM382.3 633.3h0.85v0.85h-0.85zM380.8 632.3h0.85v0.85h-0.85zM379.0 656.3h0.85v0.85h-0.85zM383.0 630.3h0.85v0.85h-0.85zM383.2 630.5h0.85v0.85h-0.85zM395.2 622.5h0.85v0.85h-0.85zM390.8 644.4h0.85v0.85h-0.85zM396.2 602.9h0.85v0.85h-0.85zM356.0 643.2h0.85v0.85h-0.85zM361.5 642.1h0.85v0.85h-0.85zM397.7 617.5h0.85v0.85h-0.85zM356.0 634.0h0.85v0.85h-0.85zM393.6 624.5h0.85v0.85h-0.85zM344.3 649.2h0.85v0.85h-0.85zM357.6 642.6h0.85v0.85h-0.85zM354.0 655.6h0.85v0.85h-0.85zM376.3 619.7h0.85v0.85h-0.85zM377.4 641.1h0.85v0.85h-0.85zM371.1 642.9h0.85v0.85h-0.85zM344.8 651.0h0.85v0.85h-0.85zM375.7 613.1h0.85v0.85h-0.85zM347.4 655.0h0.85v0.85h-0.85zM394.9 602.8h0.85v0.85h-0.85zM380.5 654.2h0.85v0.85h-0.85zM373.8 633.9h0.85v0.85h-0.85zM345.3 639.9h0.85v0.85h-0.85zM376.0 612.3h0.85v0.85h-0.85zM375.2 611.6h0.85v0.85h-0.85zM379.2 624.3h0.85v0.85h-0.85zM360.5 657.1h0.85v0.85h-0.85z" fill="#4546c1" opacity="0.8"/>
<path d="M345.2 641.0h0.85v0.85h-0.85zM384.7 600.5h0.85v0.85h-0.85zM376.5 642.4h0.85v0.85h-0.85zM376.3 613.5h0.85v0.85h-0.85zM386.6 638.4h0.85v0.85h-0.85zM396.9 613.8h0.85v0.85h-0.85zM377.8 604.4h0.85v0.85h-0.85zM386.5 599.5h0.85v0.85h-0.85zM378.5 602.7h0.85v0.85h-0.85zM354.5 653.3h0.85v0.85h-0.85zM362.2 636.4h0.85v0.85h-0.85zM381.7 601.9h0.85v0.85h-0.85zM366.2 662.4h0.85v0.85h-0.85zM374.0 655.7h0.85v0.85h-0.85zM347.5 639.9h0.85v0.85h-0.85zM362.8 643.7h0.85v0.85h-0.85zM380.4 623.7h0.85v0.85h-0.85zM359.9 662.2h0.85v0.85h-0.85zM396.0 618.5h0.85v0.85h-0.85zM345.5 651.2h0.85v0.85h-0.85zM364.0 662.2h0.85v0.85h-0.85zM387.0 599.5h0.85v0.85h-0.85zM386.1 635.9h0.85v0.85h-0.85zM390.9 651.3h0.85v0.85h-0.85zM390.8 650.8h0.85v0.85h-0.85zM380.6 660.4h0.85v0.85h-0.85zM394.3 606.0h0.85v0.85h-0.85zM393.6 603.0h0.85v0.85h-0.85zM389.2 645.1h0.85v0.85h-0.85zM392.0 624.7h0.85v0.85h-0.85zM348.5 639.7h0.85v0.85h-0.85zM384.4 601.0h0.85v0.85h-0.85zM391.0 600.2h0.85v0.85h-0.85zM393.4 620.8h0.85v0.85h-0.85zM395.8 617.0h0.85v0.85h-0.85zM377.9 604.5h0.85v0.85h-0.85zM396.2 613.1h0.85v0.85h-0.85zM367.3 655.0h0.85v0.85h-0.85zM385.1 642.1h0.85v0.85h-0.85zM346.5 641.8h0.85v0.85h-0.85zM378.7 619.8h0.85v0.85h-0.85zM365.7 655.5h0.85v0.85h-0.85z" fill="#3d46c4" opacity="0.8"/>
<path d="M388.1 624.8h0.85v0.85h-0.85zM380.0 626.6h0.85v0.85h-0.85zM384.1 638.9h0.85v0.85h-0.85zM362.5 637.4h0.85v0.85h-0.85zM396.4 616.6h0.85v0.85h-0.85zM387.6 643.0h0.85v0.85h-0.85zM362.7 655.3h0.85v0.85h-0.85zM381.2 624.9h0.85v0.85h-0.85zM389.9 630.0h0.85v0.85h-0.85zM353.7 638.1h0.85v0.85h-0.85zM372.8 637.3h0.85v0.85h-0.85zM390.1 619.7h0.85v0.85h-0.85zM366.9 646.5h0.85v0.85h-0.85zM389.2 653.2h0.85v0.85h-0.85zM378.7 604.7h0.85v0.85h-0.85zM377.4 633.4h0.85v0.85h-0.85zM392.4 620.5h0.85v0.85h-0.85zM390.5 624.3h0.85v0.85h-0.85zM388.4 632.1h0.85v0.85h-0.85zM347.4 646.8h0.85v0.85h-0.85zM375.1 637.1h0.85v0.85h-0.85zM361.7 661.2h0.85v0.85h-0.85zM391.5 630.3h0.85v0.85h-0.85zM384.4 635.9h0.85v0.85h-0.85zM387.8 600.9h0.85v0.85h-0.85zM370.9 653.3h0.85v0.85h-0.85zM347.5 644.0h0.85v0.85h-0.85zM380.2 628.4h0.85v0.85h-0.85zM386.7 636.8h0.85v0.85h-0.85zM377.2 608.0h0.85v0.85h-0.85zM388.4 626.8h0.85v0.85h-0.85zM379.6 621.1h0.85v0.85h-0.85zM357.0 660.8h0.85v0.85h-0.85zM381.7 603.9h0.85v0.85h-0.85zM348.4 653.9h0.85v0.85h-0.85zM379.8 659.5h0.85v0.85h-0.85zM383.7 636.7h0.85v0.85h-0.85zM377.7 633.7h0.85v0.85h-0.85zM393.8 610.0h0.85v0.85h-0.85zM379.7 630.1h0.85v0.85h-0.85zM388.7 629.8h0.85v0.85h-0.85zM379.9 647.7h0.85v0.85h-0.85zM369.2 661.8h0.85v0.85h-0.85zM382.6 638.8h0.85v0.85h-0.85zM380.8 628.2h0.85v0.85h-0.85zM380.6 628.0h0.85v0.85h-0.85zM384.0 621.5h0.85v0.85h-0.85zM389.3 650.8h0.85v0.85h-0.85zM370.4 661.3h0.85v0.85h-0.85zM370.7 636.5h0.85v0.85h-0.85zM395.2 614.1h0.85v0.85h-0.85zM348.8 641.2h0.85v0.85h-0.85zM365.0 638.6h0.85v0.85h-0.85zM347.6 651.7h0.85v0.85h-0.85zM393.9 617.2h0.85v0.85h-0.85z" fill="#3546c6" opacity="0.8"/>
<path d="M377.7 634.8h0.85v0.85h-0.85zM386.8 619.3h0.85v0.85h-0.85zM391.6 604.0h0.85v0.85h-0.85zM380.4 631.0h0.85v0.85h-0.85zM379.4 646.4h0.85v0.85h-0.85zM382.0 626.8h0.85v0.85h-0.85zM384.5 625.5h0.85v0.85h-0.85zM348.3 644.3h0.85v0.85h-0.85zM383.7 625.4h0.85v0.85h-0.85zM388.1 647.7h0.85v0.85h-0.85zM388.4 628.7h0.85v0.85h-0.85zM387.8 628.5h0.85v0.85h-0.85zM371.8 636.3h0.85v0.85h-0.85zM378.5 606.6h0.85v0.85h-0.85zM373.7 646.0h0.85v0.85h-0.85zM383.0 642.0h0.85v0.85h-0.85zM388.6 601.3h0.85v0.85h-0.85zM381.1 658.8h0.85v0.85h-0.85zM355.1 639.0h0.85v0.85h-0.85zM387.7 601.8h0.85v0.85h-0.85zM392.4 607.0h0.85v0.85h-0.85zM365.2 648.2h0.85v0.85h-0.85zM381.0 604.6h0.85v0.85h-0.85zM384.9 603.7h0.85v0.85h-0.85zM383.7 626.2h0.85v0.85h-0.85zM383.5 626.3h0.85v0.85h-0.85zM370.2 652.0h0.85v0.85h-0.85zM355.9 659.5h0.85v0.85h-0.85zM380.0 621.9h0.85v0.85h-0.85zM388.5 647.9h0.85v0.85h-0.85zM385.8 632.2h0.85v0.85h-0.85zM370.2 648.4h0.85v0.85h-0.85zM394.6 616.3h0.85v0.85h-0.85zM393.1 609.2h0.85v0.85h-0.85zM386.4 653.8h0.85v0.85h-0.85zM390.3 630.5h0.85v0.85h-0.85zM382.8 627.3h0.85v0.85h-0.85zM382.4 626.8h0.85v0.85h-0.85zM376.7 659.4h0.85v0.85h-0.85zM377.7 636.7h0.85v0.85h-0.85zM389.8 602.3h0.85v0.85h-0.85zM389.5 602.3h0.85v0.85h-0.85zM368.5 638.3h0.85v0.85h-0.85zM386.2 636.9h0.85v0.85h-0.85zM350.8 640.8h0.85v0.85h-0.85zM386.9 652.3h0.85v0.85h-0.85zM386.8 652.6h0.85v0.85h-0.85zM366.0 651.7h0.85v0.85h-0.85zM378.1 634.7h0.85v0.85h-0.85zM386.9 628.7h0.85v0.85h-0.85zM353.1 639.2h0.85v0.85h-0.85zM388.6 624.3h0.85v0.85h-0.85zM392.9 607.4h0.85v0.85h-0.85zM371.6 651.1h0.85v0.85h-0.85zM386.0 627.6h0.85v0.85h-0.85zM386.9 629.3h0.85v0.85h-0.85zM387.5 629.6h0.85v0.85h-0.85zM368.2 651.3h0.85v0.85h-0.85zM384.6 627.1h0.85v0.85h-0.85zM381.1 637.4h0.85v0.85h-0.85zM381.0 637.9h0.85v0.85h-0.85zM384.5 632.5h0.85v0.85h-0.85zM378.1 611.0h0.85v0.85h-0.85zM390.2 621.8h0.85v0.85h-0.85zM389.5 621.7h0.85v0.85h-0.85zM386.1 642.7h0.85v0.85h-0.85zM371.0 661.1h0.85v0.85h-0.85zM382.3 636.1h0.85v0.85h-0.85zM379.3 634.4h0.85v0.85h-0.85zM378.7 633.7h0.85v0.85h-0.85zM380.4 638.6h0.85v0.85h-0.85zM359.9 650.4h0.85v0.85h-0.85zM394.5 614.1h0.85v0.85h-0.85zM394.3 613.7h0.85v0.85h-0.85zM359.5 650.6h0.85v0.85h-0.85zM380.8 631.1h0.85v0.85h-0.85zM367.0 639.5h0.85v0.85h-0.85zM386.4 630.0h0.85v0.85h-0.85zM362.3 639.6h0.85v0.85h-0.85zM379.4 606.8h0.85v0.85h-0.85zM378.4 647.7h0.85v0.85h-0.85zM392.8 608.0h0.85v0.85h-0.85zM379.8 633.4h0.85v0.85h-0.85zM379.8 632.9h0.85v0.85h-0.85zM355.2 659.2h0.85v0.85h-0.85zM383.3 632.0h0.85v0.85h-0.85zM376.9 639.1h0.85v0.85h-0.85zM379.9 636.6h0.85v0.85h-0.85zM385.1 628.9h0.85v0.85h-0.85zM385.3 629.2h0.85v0.85h-0.85zM380.9 636.3h0.85v0.85h-0.85zM364.0 639.7h0.85v0.85h-0.85zM382.9 633.5h0.85v0.85h-0.85zM379.1 613.3h0.85v0.85h-0.85z" fill="#3352cb" opacity="0.8"/>
<path d="M383.3 629.0h0.85v0.85h-0.85zM384.4 629.1h0.85v0.85h-0.85zM380.1 635.6h0.85v0.85h-0.85zM380.4 634.0h0.85v0.85h-0.85zM379.8 634.3h0.85v0.85h-0.85zM387.4 603.4h0.85v0.85h-0.85zM383.3 631.8h0.85v0.85h-0.85zM349.6 643.5h0.85v0.85h-0.85zM368.1 659.5h0.85v0.85h-0.85zM381.1 633.2h0.85v0.85h-0.85zM381.8 632.0h0.85v0.85h-0.85zM382.5 631.8h0.85v0.85h-0.85zM379.5 640.3h0.85v0.85h-0.85zM388.7 603.3h0.85v0.85h-0.85zM388.9 603.3h0.85v0.85h-0.85zM353.2 640.7h0.85v0.85h-0.85zM379.8 615.2h0.85v0.85h-0.85zM379.8 615.4h0.85v0.85h-0.85zM368.2 639.4h0.85v0.85h-0.85zM380.6 619.8h0.85v0.85h-0.85zM388.2 602.9h0.85v0.85h-0.85zM349.6 644.7h0.85v0.85h-0.85zM350.0 645.0h0.85v0.85h-0.85zM390.0 604.9h0.85v0.85h-0.85zM387.9 622.5h0.85v0.85h-0.85zM386.8 649.6h0.85v0.85h-0.85zM390.9 606.9h0.85v0.85h-0.85zM390.0 630.9h0.85v0.85h-0.85zM382.9 656.4h0.85v0.85h-0.85zM350.3 653.2h0.85v0.85h-0.85zM377.1 658.8h0.85v0.85h-0.85zM388.8 621.0h0.85v0.85h-0.85zM392.6 610.4h0.85v0.85h-0.85zM381.2 618.2h0.85v0.85h-0.85zM387.8 604.3h0.85v0.85h-0.85zM384.6 605.6h0.85v0.85h-0.85zM388.6 605.1h0.85v0.85h-0.85zM379.5 610.7h0.85v0.85h-0.85zM386.8 604.6h0.85v0.85h-0.85zM379.2 608.8h0.85v0.85h-0.85zM387.6 622.7h0.85v0.85h-0.85zM381.4 623.0h0.85v0.85h-0.85zM359.3 640.2h0.85v0.85h-0.85zM385.2 605.5h0.85v0.85h-0.85zM371.0 660.0h0.85v0.85h-0.85zM362.6 659.4h0.85v0.85h-0.85zM353.8 657.2h0.85v0.85h-0.85zM387.2 625.3h0.85v0.85h-0.85zM388.6 631.4h0.85v0.85h-0.85zM381.3 617.2h0.85v0.85h-0.85zM380.9 617.0h0.85v0.85h-0.85zM382.0 621.1h0.85v0.85h-0.85zM381.3 606.5h0.85v0.85h-0.85zM380.9 606.4h0.85v0.85h-0.85zM378.8 610.6h0.85v0.85h-0.85zM386.1 606.0h0.85v0.85h-0.85zM378.9 609.2h0.85v0.85h-0.85zM378.7 609.5h0.85v0.85h-0.85zM355.7 639.9h0.85v0.85h-0.85zM387.4 605.5h0.85v0.85h-0.85zM392.0 609.5h0.85v0.85h-0.85zM388.1 627.5h0.85v0.85h-0.85zM386.2 623.8h0.85v0.85h-0.85zM389.2 606.8h0.85v0.85h-0.85zM386.4 651.3h0.85v0.85h-0.85zM349.2 649.1h0.85v0.85h-0.85zM380.6 616.0h0.85v0.85h-0.85zM381.3 616.4h0.85v0.85h-0.85zM391.1 608.1h0.85v0.85h-0.85zM386.9 620.9h0.85v0.85h-0.85zM374.3 658.9h0.85v0.85h-0.85zM349.2 650.7h0.85v0.85h-0.85zM348.9 651.3h0.85v0.85h-0.85zM349.9 647.6h0.85v0.85h-0.85zM388.7 630.6h0.85v0.85h-0.85zM385.9 648.8h0.85v0.85h-0.85zM382.5 621.4h0.85v0.85h-0.85zM351.5 643.6h0.85v0.85h-0.85zM378.9 658.2h0.85v0.85h-0.85z" fill="#366ad3"/>
<path d="M363.7 640.2h0.85v0.85h-0.85zM388.7 629.8h0.85v0.85h-0.85zM389.2 619.1h0.85v0.85h-0.85zM388.9 618.9h0.85v0.85h-0.85zM388.5 618.9h0.85v0.85h-0.85zM383.2 655.4h0.85v0.85h-0.85zM357.3 659.0h0.85v0.85h-0.85zM383.2 641.0h0.85v0.85h-0.85zM373.4 659.3h0.85v0.85h-0.85zM385.7 651.5h0.85v0.85h-0.85zM385.3 651.9h0.85v0.85h-0.85zM392.1 614.4h0.85v0.85h-0.85zM391.6 616.2h0.85v0.85h-0.85zM392.4 613.8h0.85v0.85h-0.85zM390.3 618.2h0.85v0.85h-0.85zM384.3 622.9h0.85v0.85h-0.85zM384.6 622.2h0.85v0.85h-0.85zM385.1 620.9h0.85v0.85h-0.85zM383.9 621.3h0.85v0.85h-0.85zM383.3 621.8h0.85v0.85h-0.85zM383.4 622.2h0.85v0.85h-0.85zM391.0 609.5h0.85v0.85h-0.85zM390.6 609.6h0.85v0.85h-0.85zM391.0 617.3h0.85v0.85h-0.85zM383.7 621.1h0.85v0.85h-0.85zM380.4 608.3h0.85v0.85h-0.85zM385.3 645.6h0.85v0.85h-0.85zM385.6 645.9h0.85v0.85h-0.85zM391.5 611.1h0.85v0.85h-0.85zM350.2 648.0h0.85v0.85h-0.85zM385.8 650.6h0.85v0.85h-0.85zM389.7 609.2h0.85v0.85h-0.85zM383.0 618.1h0.85v0.85h-0.85zM382.4 617.9h0.85v0.85h-0.85zM386.4 607.7h0.85v0.85h-0.85zM370.2 640.6h0.85v0.85h-0.85zM382.6 625.9h0.85v0.85h-0.85zM380.9 613.9h0.85v0.85h-0.85zM351.8 645.8h0.85v0.85h-0.85zM389.7 617.3h0.85v0.85h-0.85zM391.0 616.1h0.85v0.85h-0.85zM372.0 639.3h0.85v0.85h-0.85zM391.7 614.3h0.85v0.85h-0.85zM391.5 614.4h0.85v0.85h-0.85zM391.5 614.3h0.85v0.85h-0.85zM388.9 609.6h0.85v0.85h-0.85zM391.4 613.9h0.85v0.85h-0.85zM356.7 641.2h0.85v0.85h-0.85zM382.5 607.7h0.85v0.85h-0.85zM365.8 641.6h0.85v0.85h-0.85zM384.3 633.2h0.85v0.85h-0.85zM382.8 617.0h0.85v0.85h-0.85zM383.8 607.8h0.85v0.85h-0.85zM354.3 642.4h0.85v0.85h-0.85zM349.9 651.0h0.85v0.85h-0.85zM358.9 659.3h0.85v0.85h-0.85zM356.3 657.7h0.85v0.85h-0.85zM375.5 637.7h0.85v0.85h-0.85zM369.5 640.8h0.85v0.85h-0.85zM385.1 618.1h0.85v0.85h-0.85zM376.8 636.4h0.85v0.85h-0.85zM391.1 612.1h0.85v0.85h-0.85zM390.3 612.3h0.85v0.85h-0.85zM375.0 638.2h0.85v0.85h-0.85zM371.3 640.3h0.85v0.85h-0.85zM380.7 656.2h0.85v0.85h-0.85zM382.5 642.4h0.85v0.85h-0.85zM389.9 616.8h0.85v0.85h-0.85z" fill="#3982da"/>
<path d="M381.8 655.0h0.85v0.85h-0.85zM381.2 609.2h0.85v0.85h-0.85zM381.2 609.3h0.85v0.85h-0.85zM380.7 609.4h0.85v0.85h-0.85zM390.1 611.4h0.85v0.85h-0.85zM350.9 648.3h0.85v0.85h-0.85zM384.1 645.8h0.85v0.85h-0.85zM381.8 615.0h0.85v0.85h-0.85zM383.7 653.2h0.85v0.85h-0.85zM381.6 641.6h0.85v0.85h-0.85zM383.5 643.8h0.85v0.85h-0.85zM383.2 643.8h0.85v0.85h-0.85zM386.8 609.6h0.85v0.85h-0.85zM370.7 641.4h0.85v0.85h-0.85zM384.1 617.4h0.85v0.85h-0.85zM386.4 617.4h0.85v0.85h-0.85zM387.7 610.0h0.85v0.85h-0.85zM368.8 641.9h0.85v0.85h-0.85zM382.4 608.3h0.85v0.85h-0.85zM384.3 608.5h0.85v0.85h-0.85zM377.9 657.1h0.85v0.85h-0.85zM378.2 635.3h0.85v0.85h-0.85zM382.4 628.5h0.85v0.85h-0.85zM383.3 608.5h0.85v0.85h-0.85zM390.1 614.9h0.85v0.85h-0.85zM355.8 642.2h0.85v0.85h-0.85zM389.3 615.5h0.85v0.85h-0.85zM381.8 641.9h0.85v0.85h-0.85zM386.9 610.1h0.85v0.85h-0.85zM350.9 650.1h0.85v0.85h-0.85zM381.5 631.2h0.85v0.85h-0.85zM380.2 638.9h0.85v0.85h-0.85zM369.4 658.5h0.85v0.85h-0.85zM369.0 658.5h0.85v0.85h-0.85zM386.5 616.6h0.85v0.85h-0.85zM354.7 656.3h0.85v0.85h-0.85zM385.8 616.1h0.85v0.85h-0.85zM389.0 612.5h0.85v0.85h-0.85zM389.1 612.5h0.85v0.85h-0.85zM382.1 654.3h0.85v0.85h-0.85zM385.1 609.5h0.85v0.85h-0.85zM387.7 615.8h0.85v0.85h-0.85zM388.5 615.1h0.85v0.85h-0.85zM389.4 614.1h0.85v0.85h-0.85zM382.2 611.2h0.85v0.85h-0.85zM381.3 655.5h0.85v0.85h-0.85zM381.3 655.7h0.85v0.85h-0.85zM378.8 639.0h0.85v0.85h-0.85zM380.0 640.2h0.85v0.85h-0.85zM376.9 656.7h0.85v0.85h-0.85zM351.4 647.9h0.85v0.85h-0.85zM380.4 636.5h0.85v0.85h-0.85z" fill="#3c99e0"/>
<path d="M384.3 609.1h0.85v0.85h-0.85zM383.7 609.5h0.85v0.85h-0.85zM378.4 639.6h0.85v0.85h-0.85zM353.8 645.7h0.85v0.85h-0.85zM365.3 641.9h0.85v0.85h-0.85zM382.4 652.8h0.85v0.85h-0.85zM384.9 615.6h0.85v0.85h-0.85zM384.2 615.2h0.85v0.85h-0.85zM374.4 640.2h0.85v0.85h-0.85zM383.0 610.3h0.85v0.85h-0.85zM358.4 658.2h0.85v0.85h-0.85zM385.5 615.3h0.85v0.85h-0.85zM385.3 615.4h0.85v0.85h-0.85zM382.6 612.6h0.85v0.85h-0.85zM383.1 613.2h0.85v0.85h-0.85zM356.2 643.1h0.85v0.85h-0.85zM363.6 658.1h0.85v0.85h-0.85zM382.3 612.0h0.85v0.85h-0.85zM354.1 645.0h0.85v0.85h-0.85zM351.3 652.0h0.85v0.85h-0.85zM384.0 610.5h0.85v0.85h-0.85zM386.9 613.6h0.85v0.85h-0.85zM378.3 640.3h0.85v0.85h-0.85zM386.9 613.1h0.85v0.85h-0.85zM359.6 657.7h0.85v0.85h-0.85zM352.2 653.5h0.85v0.85h-0.85zM383.5 649.9h0.85v0.85h-0.85zM366.4 643.3h0.85v0.85h-0.85zM385.9 614.6h0.85v0.85h-0.85zM376.4 640.3h0.85v0.85h-0.85zM362.4 657.7h0.85v0.85h-0.85zM362.5 642.2h0.85v0.85h-0.85zM355.6 643.9h0.85v0.85h-0.85zM377.6 640.7h0.85v0.85h-0.85zM384.1 614.4h0.85v0.85h-0.85zM373.3 657.5h0.85v0.85h-0.85zM383.9 613.3h0.85v0.85h-0.85zM351.9 650.7h0.85v0.85h-0.85zM380.2 655.7h0.85v0.85h-0.85zM357.3 642.6h0.85v0.85h-0.85zM386.5 612.0h0.85v0.85h-0.85zM372.4 657.1h0.85v0.85h-0.85zM357.0 657.6h0.85v0.85h-0.85zM383.5 648.2h0.85v0.85h-0.85zM383.4 612.5h0.85v0.85h-0.85zM383.5 612.5h0.85v0.85h-0.85zM383.7 613.0h0.85v0.85h-0.85zM386.6 612.8h0.85v0.85h-0.85zM370.9 657.3h0.85v0.85h-0.85zM384.7 611.1h0.85v0.85h-0.85zM384.3 610.8h0.85v0.85h-0.85zM384.5 611.2h0.85v0.85h-0.85zM353.4 654.5h0.85v0.85h-0.85zM370.1 643.4h0.85v0.85h-0.85zM384.6 613.5h0.85v0.85h-0.85zM357.9 642.8h0.85v0.85h-0.85z" fill="#3cacdd"/>
<path d="M385.0 611.8h0.85v0.85h-0.85zM385.3 611.7h0.85v0.85h-0.85zM385.0 611.7h0.85v0.85h-0.85zM377.2 655.8h0.85v0.85h-0.85zM385.0 613.0h0.85v0.85h-0.85zM369.0 657.3h0.85v0.85h-0.85zM358.8 643.2h0.85v0.85h-0.85zM358.5 643.0h0.85v0.85h-0.85zM367.7 656.9h0.85v0.85h-0.85zM355.3 644.3h0.85v0.85h-0.85zM375.2 640.9h0.85v0.85h-0.85zM382.0 652.4h0.85v0.85h-0.85zM365.2 642.8h0.85v0.85h-0.85zM373.0 641.9h0.85v0.85h-0.85zM373.1 642.0h0.85v0.85h-0.85zM373.1 642.3h0.85v0.85h-0.85zM371.0 643.1h0.85v0.85h-0.85zM382.7 646.3h0.85v0.85h-0.85zM352.5 649.8h0.85v0.85h-0.85zM380.0 643.1h0.85v0.85h-0.85zM380.3 643.2h0.85v0.85h-0.85zM364.2 656.9h0.85v0.85h-0.85zM353.8 653.9h0.85v0.85h-0.85zM373.7 656.1h0.85v0.85h-0.85zM373.5 656.2h0.85v0.85h-0.85zM380.7 643.5h0.85v0.85h-0.85zM373.0 656.3h0.85v0.85h-0.85zM355.8 644.5h0.85v0.85h-0.85zM355.4 645.5h0.85v0.85h-0.85zM355.5 655.6h0.85v0.85h-0.85zM363.5 643.3h0.85v0.85h-0.85z" fill="#3cbed9"/>
<path d="M362.4 643.0h0.85v0.85h-0.85zM359.4 657.3h0.85v0.85h-0.85zM359.6 657.0h0.85v0.85h-0.85zM382.9 647.7h0.85v0.85h-0.85zM366.2 644.3h0.85v0.85h-0.85zM361.5 657.5h0.85v0.85h-0.85zM381.5 645.2h0.85v0.85h-0.85zM381.8 645.7h0.85v0.85h-0.85zM353.4 652.5h0.85v0.85h-0.85zM367.2 645.0h0.85v0.85h-0.85zM371.0 644.0h0.85v0.85h-0.85zM359.4 643.8h0.85v0.85h-0.85zM359.4 643.8h0.85v0.85h-0.85zM355.3 646.5h0.85v0.85h-0.85zM380.2 653.6h0.85v0.85h-0.85zM379.8 653.6h0.85v0.85h-0.85zM357.5 656.0h0.85v0.85h-0.85zM369.3 644.8h0.85v0.85h-0.85zM367.3 656.4h0.85v0.85h-0.85zM380.7 644.8h0.85v0.85h-0.85zM367.1 644.7h0.85v0.85h-0.85zM360.2 643.7h0.85v0.85h-0.85z" fill="#3acbd0"/>
<path d="M357.5 645.1h0.85v0.85h-0.85zM353.1 651.3h0.85v0.85h-0.85zM351.4 653.1h0.85v0.85h-0.85zM363.7 643.9h0.85v0.85h-0.85zM354.1 648.6h0.85v0.85h-0.85zM361.8 643.9h0.85v0.85h-0.85zM361.8 643.9h0.85v0.85h-0.85zM373.6 655.2h0.85v0.85h-0.85zM355.9 656.8h0.85v0.85h-0.85zM373.0 655.6h0.85v0.85h-0.85zM381.9 649.9h0.85v0.85h-0.85zM382.2 650.3h0.85v0.85h-0.85zM382.0 649.7h0.85v0.85h-0.85zM362.7 644.2h0.85v0.85h-0.85zM364.2 656.4h0.85v0.85h-0.85zM364.4 656.1h0.85v0.85h-0.85zM364.3 655.9h0.85v0.85h-0.85zM380.5 652.2h0.85v0.85h-0.85zM380.6 652.1h0.85v0.85h-0.85zM358.9 644.9h0.85v0.85h-0.85zM359.7 656.1h0.85v0.85h-0.85zM355.4 647.6h0.85v0.85h-0.85zM356.7 655.1h0.85v0.85h-0.85zM362.8 656.0h0.85v0.85h-0.85zM381.8 649.1h0.85v0.85h-0.85zM362.5 656.6h0.85v0.85h-0.85zM382.0 648.5h0.85v0.85h-0.85zM361.3 655.9h0.85v0.85h-0.85zM353.9 649.5h0.85v0.85h-0.85zM380.9 645.4h0.85v0.85h-0.85zM359.9 645.1h0.85v0.85h-0.85zM377.8 654.8h0.85v0.85h-0.85zM369.6 655.6h0.85v0.85h-0.85zM365.1 645.1h0.85v0.85h-0.85zM364.9 645.2h0.85v0.85h-0.85zM371.7 640.8h0.85v0.85h-0.85z" fill="#35c6b0"/>
<path d="M369.4 645.3h0.85v0.85h-0.85zM369.6 645.9h0.85v0.85h-0.85zM354.3 649.7h0.85v0.85h-0.85zM353.7 654.6h0.85v0.85h-0.85zM376.8 654.4h0.85v0.85h-0.85zM376.7 654.8h0.85v0.85h-0.85zM355.6 647.9h0.85v0.85h-0.85zM364.5 645.1h0.85v0.85h-0.85zM363.9 644.5h0.85v0.85h-0.85zM363.8 645.1h0.85v0.85h-0.85zM361.5 644.5h0.85v0.85h-0.85zM375.4 654.2h0.85v0.85h-0.85zM366.3 655.5h0.85v0.85h-0.85zM378.3 653.9h0.85v0.85h-0.85zM378.4 653.7h0.85v0.85h-0.85zM378.2 643.7h0.85v0.85h-0.85zM362.2 644.9h0.85v0.85h-0.85zM365.8 645.8h0.85v0.85h-0.85zM373.5 654.1h0.85v0.85h-0.85zM373.7 644.0h0.85v0.85h-0.85zM365.3 655.2h0.85v0.85h-0.85zM357.0 654.9h0.85v0.85h-0.85zM370.6 654.2h0.85v0.85h-0.85zM370.5 654.4h0.85v0.85h-0.85z" fill="#2fc090"/>
<path d="M358.0 646.2h0.85v0.85h-0.85zM360.1 655.4h0.85v0.85h-0.85zM362.7 655.5h0.85v0.85h-0.85zM379.6 644.3h0.85v0.85h-0.85zM379.1 645.1h0.85v0.85h-0.85zM380.7 647.5h0.85v0.85h-0.85zM377.4 644.3h0.85v0.85h-0.85zM355.9 653.4h0.85v0.85h-0.85zM377.7 653.7h0.85v0.85h-0.85zM369.4 654.1h0.85v0.85h-0.85zM381.4 649.3h0.85v0.85h-0.85zM370.9 646.0h0.85v0.85h-0.85zM378.2 641.5h0.85v0.85h-0.85zM381.1 647.9h0.85v0.85h-0.85zM375.5 643.7h0.85v0.85h-0.85zM364.1 645.7h0.85v0.85h-0.85zM368.2 654.9h0.85v0.85h-0.85zM368.6 654.6h0.85v0.85h-0.85zM355.4 651.8h0.85v0.85h-0.85zM355.5 652.1h0.85v0.85h-0.85zM355.4 651.7h0.85v0.85h-0.85zM358.5 646.5h0.85v0.85h-0.85zM358.5 646.3h0.85v0.85h-0.85zM375.3 641.4h0.85v0.85h-0.85zM361.2 645.6h0.85v0.85h-0.85zM361.2 645.2h0.85v0.85h-0.85zM355.3 651.4h0.85v0.85h-0.85zM355.5 651.1h0.85v0.85h-0.85zM376.5 653.7h0.85v0.85h-0.85zM367.8 654.7h0.85v0.85h-0.85zM367.3 654.6h0.85v0.85h-0.85zM367.3 654.3h0.85v0.85h-0.85zM363.6 646.0h0.85v0.85h-0.85zM362.4 645.4h0.85v0.85h-0.85zM366.0 646.8h0.85v0.85h-0.85zM377.9 652.6h0.85v0.85h-0.85zM367.1 654.3h0.85v0.85h-0.85zM367.0 654.3h0.85v0.85h-0.85zM371.8 653.6h0.85v0.85h-0.85zM373.3 653.3h0.85v0.85h-0.85zM373.4 653.9h0.85v0.85h-0.85zM373.0 653.8h0.85v0.85h-0.85zM375.4 653.5h0.85v0.85h-0.85zM379.2 651.7h0.85v0.85h-0.85zM365.8 654.3h0.85v0.85h-0.85zM365.9 654.8h0.85v0.85h-0.85zM370.2 646.7h0.85v0.85h-0.85zM359.4 647.0h0.85v0.85h-0.85zM373.9 653.5h0.85v0.85h-0.85z" fill="#2abb70"/>
<path d="M371.5 653.4h0.85v0.85h-0.85zM358.1 647.4h0.85v0.85h-0.85zM357.2 653.9h0.85v0.85h-0.85zM377.9 645.2h0.85v0.85h-0.85zM354.3 647.8h0.85v0.85h-0.85zM364.3 654.8h0.85v0.85h-0.85zM364.7 646.8h0.85v0.85h-0.85zM365.1 646.3h0.85v0.85h-0.85zM356.8 647.9h0.85v0.85h-0.85zM361.9 654.6h0.85v0.85h-0.85zM380.3 650.1h0.85v0.85h-0.85zM379.7 650.3h0.85v0.85h-0.85zM360.5 654.7h0.85v0.85h-0.85zM369.3 654.0h0.85v0.85h-0.85zM369.6 653.9h0.85v0.85h-0.85zM367.4 647.6h0.85v0.85h-0.85zM367.5 647.1h0.85v0.85h-0.85zM368.7 647.3h0.85v0.85h-0.85zM377.8 652.4h0.85v0.85h-0.85zM356.4 645.8h0.85v0.85h-0.85zM358.9 647.3h0.85v0.85h-0.85zM366.7 647.1h0.85v0.85h-0.85zM372.0 642.8h0.85v0.85h-0.85zM356.4 650.2h0.85v0.85h-0.85zM361.2 646.4h0.85v0.85h-0.85zM368.1 653.4h0.85v0.85h-0.85zM362.9 646.8h0.85v0.85h-0.85zM353.2 650.2h0.85v0.85h-0.85zM366.0 647.6h0.85v0.85h-0.85zM365.9 656.6h0.85v0.85h-0.85zM358.1 648.4h0.85v0.85h-0.85zM357.6 648.0h0.85v0.85h-0.85zM356.8 653.0h0.85v0.85h-0.85zM377.9 652.1h0.85v0.85h-0.85z" fill="#34bb5c"/>
<path d="M367.1 653.6h0.85v0.85h-0.85zM359.8 647.9h0.85v0.85h-0.85zM380.2 648.4h0.85v0.85h-0.85zM376.6 652.9h0.85v0.85h-0.85zM376.6 653.0h0.85v0.85h-0.85zM372.0 653.0h0.85v0.85h-0.85zM356.8 649.5h0.85v0.85h-0.85zM355.5 654.6h0.85v0.85h-0.85zM365.5 653.9h0.85v0.85h-0.85zM365.6 654.0h0.85v0.85h-0.85zM364.8 647.5h0.85v0.85h-0.85zM358.9 653.5h0.85v0.85h-0.85zM358.7 653.3h0.85v0.85h-0.85zM363.6 653.2h0.85v0.85h-0.85zM370.6 653.1h0.85v0.85h-0.85zM375.2 653.1h0.85v0.85h-0.85zM375.6 652.4h0.85v0.85h-0.85zM372.5 646.5h0.85v0.85h-0.85zM359.3 653.6h0.85v0.85h-0.85zM362.5 653.6h0.85v0.85h-0.85zM363.9 647.2h0.85v0.85h-0.85zM364.2 647.1h0.85v0.85h-0.85zM369.0 652.9h0.85v0.85h-0.85zM361.5 653.5h0.85v0.85h-0.85zM358.5 648.3h0.85v0.85h-0.85zM359.8 656.7h0.85v0.85h-0.85zM367.8 648.6h0.85v0.85h-0.85zM367.3 648.0h0.85v0.85h-0.85zM357.3 650.4h0.85v0.85h-0.85zM363.1 655.9h0.85v0.85h-0.85zM363.0 647.0h0.85v0.85h-0.85zM363.3 647.7h0.85v0.85h-0.85zM368.8 652.3h0.85v0.85h-0.85zM356.0 646.6h0.85v0.85h-0.85zM358.1 652.5h0.85v0.85h-0.85zM357.8 652.6h0.85v0.85h-0.85zM362.4 647.6h0.85v0.85h-0.85zM362.0 647.1h0.85v0.85h-0.85zM362.6 647.5h0.85v0.85h-0.85zM373.6 645.4h0.85v0.85h-0.85zM371.0 647.7h0.85v0.85h-0.85zM371.4 647.2h0.85v0.85h-0.85zM356.9 650.8h0.85v0.85h-0.85zM357.3 650.9h0.85v0.85h-0.85zM356.5 650.9h0.85v0.85h-0.85zM368.0 652.5h0.85v0.85h-0.85zM367.2 652.4h0.85v0.85h-0.85zM369.2 648.1h0.85v0.85h-0.85zM361.2 656.1h0.85v0.85h-0.85zM361.4 655.9h0.85v0.85h-0.85zM365.1 652.8h0.85v0.85h-0.85z" fill="#4ac050"/>
<path d="M371.5 651.6h0.85v0.85h-0.85zM364.3 653.1h0.85v0.85h-0.85zM364.5 652.9h0.85v0.85h-0.85zM359.1 652.7h0.85v0.85h-0.85zM370.6 648.7h0.85v0.85h-0.85zM373.3 646.5h0.85v0.85h-0.85zM372.6 646.8h0.85v0.85h-0.85zM379.4 647.5h0.85v0.85h-0.85zM379.0 647.4h0.85v0.85h-0.85zM360.4 648.4h0.85v0.85h-0.85zM377.5 646.1h0.85v0.85h-0.85zM376.7 651.9h0.85v0.85h-0.85zM362.4 653.1h0.85v0.85h-0.85zM366.7 649.4h0.85v0.85h-0.85zM366.3 649.0h0.85v0.85h-0.85zM367.8 649.0h0.85v0.85h-0.85zM367.7 649.1h0.85v0.85h-0.85zM358.4 649.3h0.85v0.85h-0.85zM357.7 650.4h0.85v0.85h-0.85zM373.5 651.4h0.85v0.85h-0.85zM374.1 652.0h0.85v0.85h-0.85zM374.1 651.9h0.85v0.85h-0.85zM358.2 655.8h0.85v0.85h-0.85zM378.8 649.1h0.85v0.85h-0.85zM378.8 648.8h0.85v0.85h-0.85zM359.3 652.6h0.85v0.85h-0.85zM363.5 648.0h0.85v0.85h-0.85zM368.6 648.8h0.85v0.85h-0.85zM365.8 649.5h0.85v0.85h-0.85zM365.8 649.6h0.85v0.85h-0.85zM361.4 652.4h0.85v0.85h-0.85zM361.7 648.1h0.85v0.85h-0.85zM371.8 647.4h0.85v0.85h-0.85zM371.8 647.0h0.85v0.85h-0.85zM367.3 651.4h0.85v0.85h-0.85zM362.1 648.1h0.85v0.85h-0.85zM357.8 650.6h0.85v0.85h-0.85zM369.6 649.3h0.85v0.85h-0.85zM366.1 652.2h0.85v0.85h-0.85zM364.7 652.3h0.85v0.85h-0.85zM374.6 643.4h0.85v0.85h-0.85zM370.1 651.1h0.85v0.85h-0.85zM371.1 651.3h0.85v0.85h-0.85zM371.5 650.6h0.85v0.85h-0.85zM369.5 650.9h0.85v0.85h-0.85zM369.9 649.1h0.85v0.85h-0.85zM367.6 650.2h0.85v0.85h-0.85zM368.0 649.7h0.85v0.85h-0.85zM367.2 649.7h0.85v0.85h-0.85zM368.1 650.3h0.85v0.85h-0.85zM368.6 650.9h0.85v0.85h-0.85zM368.4 651.0h0.85v0.85h-0.85zM365.7 650.0h0.85v0.85h-0.85zM368.4 650.0h0.85v0.85h-0.85zM367.3 651.0h0.85v0.85h-0.85zM363.1 651.6h0.85v0.85h-0.85zM363.6 652.1h0.85v0.85h-0.85zM362.8 652.0h0.85v0.85h-0.85zM366.4 650.9h0.85v0.85h-0.85zM366.9 651.0h0.85v0.85h-0.85zM366.5 650.7h0.85v0.85h-0.85zM367.1 651.0h0.85v0.85h-0.85zM371.8 651.0h0.85v0.85h-0.85zM365.7 650.7h0.85v0.85h-0.85zM369.1 650.4h0.85v0.85h-0.85zM365.4 650.1h0.85v0.85h-0.85zM365.3 651.3h0.85v0.85h-0.85zM377.4 650.9h0.85v0.85h-0.85zM377.5 651.4h0.85v0.85h-0.85zM363.1 649.0h0.85v0.85h-0.85zM370.5 650.5h0.85v0.85h-0.85zM369.9 650.3h0.85v0.85h-0.85zM370.3 650.4h0.85v0.85h-0.85zM362.1 651.6h0.85v0.85h-0.85zM377.9 650.5h0.85v0.85h-0.85zM364.4 651.0h0.85v0.85h-0.85zM373.8 646.9h0.85v0.85h-0.85zM374.1 646.2h0.85v0.85h-0.85zM373.3 651.0h0.85v0.85h-0.85zM359.2 651.9h0.85v0.85h-0.85zM362.3 649.0h0.85v0.85h-0.85zM362.3 649.2h0.85v0.85h-0.85zM371.3 649.6h0.85v0.85h-0.85zM371.2 649.6h0.85v0.85h-0.85zM361.7 649.0h0.85v0.85h-0.85zM361.1 649.2h0.85v0.85h-0.85zM376.2 643.2h0.85v0.85h-0.85z" fill="#5fc545"/>
<path d="M371.3 649.7h0.85v0.85h-0.85zM362.8 651.2h0.85v0.85h-0.85zM371.7 647.9h0.85v0.85h-0.85zM359.6 651.3h0.85v0.85h-0.85zM372.5 650.0h0.85v0.85h-0.85zM371.7 650.5h0.85v0.85h-0.85zM371.9 650.2h0.85v0.85h-0.85zM362.7 650.2h0.85v0.85h-0.85zM362.0 650.1h0.85v0.85h-0.85zM362.0 650.4h0.85v0.85h-0.85zM360.6 650.4h0.85v0.85h-0.85zM360.4 650.5h0.85v0.85h-0.85zM378.1 647.3h0.85v0.85h-0.85zM355.2 652.9h0.85v0.85h-0.85zM380.9 651.2h0.85v0.85h-0.85zM376.0 651.4h0.85v0.85h-0.85zM375.6 650.9h0.85v0.85h-0.85zM356.0 653.7h0.85v0.85h-0.85zM372.9 649.0h0.85v0.85h-0.85zM357.3 647.3h0.85v0.85h-0.85zM376.3 646.9h0.85v0.85h-0.85zM376.2 646.6h0.85v0.85h-0.85zM375.4 646.1h0.85v0.85h-0.85z" fill="#75ca39"/>
<path d="M373.1 654.4h0.85v0.85h-0.85zM355.4 650.0h0.85v0.85h-0.85zM354.9 651.8h0.85v0.85h-0.85zM355.0 652.3h0.85v0.85h-0.85zM373.6 649.1h0.85v0.85h-0.85zM374.2 648.2h0.85v0.85h-0.85zM377.0 648.8h0.85v0.85h-0.85zM374.7 647.6h0.85v0.85h-0.85zM374.7 649.1h0.85v0.85h-0.85zM376.5 647.3h0.85v0.85h-0.85zM357.1 654.0h0.85v0.85h-0.85zM377.8 643.7h0.85v0.85h-0.85zM377.7 643.9h0.85v0.85h-0.85zM376.1 649.5h0.85v0.85h-0.85zM377.1 653.8h0.85v0.85h-0.85zM356.2 649.0h0.85v0.85h-0.85zM356.1 649.4h0.85v0.85h-0.85zM356.3 649.6h0.85v0.85h-0.85zM376.0 648.8h0.85v0.85h-0.85zM375.3 648.5h0.85v0.85h-0.85z" fill="#8fcf30"/>
<path d="M357.3 648.5h0.85v0.85h-0.85zM358.1 654.0h0.85v0.85h-0.85zM380.2 646.8h0.85v0.85h-0.85z" fill="#b2d52d"/>
<path d="M372.5 645.7h0.85v0.85h-0.85zM359.2 653.7h0.85v0.85h-0.85zM358.6 653.8h0.85v0.85h-0.85zM379.2 645.5h0.85v0.85h-0.85zM361.6 653.6h0.85v0.85h-0.85zM360.6 653.4h0.85v0.85h-0.85zM356.8 650.1h0.85v0.85h-0.85zM370.9 646.2h0.85v0.85h-0.85zM357.8 649.3h0.85v0.85h-0.85z" fill="#d5db2a"/>
<path d="M379.8 649.3h0.85v0.85h-0.85zM365.2 653.1h0.85v0.85h-0.85zM364.0 653.0h0.85v0.85h-0.85zM376.0 645.0h0.85v0.85h-0.85zM376.5 645.2h0.85v0.85h-0.85zM370.1 647.0h0.85v0.85h-0.85zM360.7 648.6h0.85v0.85h-0.85zM360.8 648.3h0.85v0.85h-0.85zM358.1 652.2h0.85v0.85h-0.85zM362.6 652.4h0.85v0.85h-0.85zM361.0 652.3h0.85v0.85h-0.85zM361.7 647.9h0.85v0.85h-0.85zM361.8 648.4h0.85v0.85h-0.85zM360.4 652.8h0.85v0.85h-0.85zM357.9 651.4h0.85v0.85h-0.85zM358.1 651.4h0.85v0.85h-0.85z" fill="#f5dd27"/>
<path d="M363.9 649.4h0.85v0.85h-0.85zM358.3 651.9h0.85v0.85h-0.85zM358.5 651.9h0.85v0.85h-0.85zM374.2 645.2h0.85v0.85h-0.85zM377.3 651.6h0.85v0.85h-0.85zM379.2 649.8h0.85v0.85h-0.85zM363.8 650.9h0.85v0.85h-0.85zM358.5 650.6h0.85v0.85h-0.85zM358.6 650.7h0.85v0.85h-0.85zM359.4 651.6h0.85v0.85h-0.85zM362.1 649.3h0.85v0.85h-0.85zM360.6 651.9h0.85v0.85h-0.85zM360.8 651.5h0.85v0.85h-0.85zM363.1 651.0h0.85v0.85h-0.85zM363.3 649.8h0.85v0.85h-0.85zM359.4 651.1h0.85v0.85h-0.85zM359.7 651.1h0.85v0.85h-0.85zM362.6 650.0h0.85v0.85h-0.85zM377.2 645.5h0.85v0.85h-0.85zM361.8 650.2h0.85v0.85h-0.85zM374.9 645.4h0.85v0.85h-0.85zM378.8 648.9h0.85v0.85h-0.85zM378.8 648.8h0.85v0.85h-0.85z" fill="#f7be23"/>
<path d="M375.1 652.2h0.85v0.85h-0.85zM374.9 652.2h0.85v0.85h-0.85zM374.6 652.0h0.85v0.85h-0.85zM375.5 652.0h0.85v0.85h-0.85zM375.8 651.4h0.85v0.85h-0.85zM378.9 648.4h0.85v0.85h-0.85zM379.4 648.1h0.85v0.85h-0.85zM376.5 645.3h0.85v0.85h-0.85zM376.4 645.7h0.85v0.85h-0.85zM376.3 645.7h0.85v0.85h-0.85zM375.7 645.7h0.85v0.85h-0.85zM375.6 645.9h0.85v0.85h-0.85zM369.9 649.3h0.85v0.85h-0.85zM377.8 651.1h0.85v0.85h-0.85zM374.3 646.5h0.85v0.85h-0.85zM373.5 646.4h0.85v0.85h-0.85zM372.4 648.1h0.85v0.85h-0.85z" fill="#f89e20"/>
<path d="M376.5 650.7h0.85v0.85h-0.85zM376.6 650.9h0.85v0.85h-0.85zM377.9 647.6h0.85v0.85h-0.85zM374.5 651.0h0.85v0.85h-0.85zM377.7 646.1h0.85v0.85h-0.85zM377.2 646.7h0.85v0.85h-0.85zM375.9 650.6h0.85v0.85h-0.85zM372.8 650.0h0.85v0.85h-0.85zM378.4 648.3h0.85v0.85h-0.85zM377.9 648.3h0.85v0.85h-0.85zM377.9 648.7h0.85v0.85h-0.85zM378.1 648.0h0.85v0.85h-0.85zM377.6 650.1h0.85v0.85h-0.85zM373.3 648.8h0.85v0.85h-0.85zM373.8 647.7h0.85v0.85h-0.85zM374.0 647.7h0.85v0.85h-0.85zM373.6 647.2h0.85v0.85h-0.85z" fill="#f5791e"/>
<path d="M375.4 646.2h0.85v0.85h-0.85zM376.1 646.9h0.85v0.85h-0.85zM374.9 650.2h0.85v0.85h-0.85zM377.6 647.0h0.85v0.85h-0.85zM374.0 648.7h0.85v0.85h-0.85zM375.4 649.8h0.85v0.85h-0.85zM377.4 648.9h0.85v0.85h-0.85zM374.5 647.7h0.85v0.85h-0.85zM374.6 647.5h0.85v0.85h-0.85zM377.7 648.0h0.85v0.85h-0.85zM377.0 648.1h0.85v0.85h-0.85zM377.6 648.4h0.85v0.85h-0.85z" fill="#eb4b1e"/>
<path d="M376.7 647.3h0.85v0.85h-0.85zM376.6 647.5h0.85v0.85h-0.85zM376.6 647.2h0.85v0.85h-0.85zM375.9 647.4h0.85v0.85h-0.85zM374.5 648.1h0.85v0.85h-0.85zM375.4 649.6h0.85v0.85h-0.85zM376.5 647.9h0.85v0.85h-0.85zM375.6 648.4h0.85v0.85h-0.85z" fill="#e11e1e"/>
<path d="M481.4 663.4h1.15v1.15h-1.15zM483.1 658.3h1.15v1.15h-1.15zM487.6 637.3h1.15v1.15h-1.15zM474.5 619.9h1.15v1.15h-1.15zM471.4 622.4h1.15v1.15h-1.15zM479.0 624.0h1.15v1.15h-1.15zM464.6 608.8h1.15v1.15h-1.15zM471.1 659.6h1.15v1.15h-1.15zM475.8 659.0h1.15v1.15h-1.15zM481.0 649.5h1.15v1.15h-1.15zM468.7 628.8h1.15v1.15h-1.15zM436.5 607.0h1.15v1.15h-1.15zM467.2 658.6h1.15v1.15h-1.15zM465.7 655.3h1.15v1.15h-1.15zM464.5 634.0h1.15v1.15h-1.15zM467.7 655.7h1.15v1.15h-1.15zM483.0 637.2h1.15v1.15h-1.15zM477.6 653.8h1.15v1.15h-1.15zM461.2 605.3h1.15v1.15h-1.15zM432.2 626.9h1.15v1.15h-1.15zM474.9 628.5h1.15v1.15h-1.15zM467.5 644.8h1.15v1.15h-1.15zM475.1 656.0h1.15v1.15h-1.15zM464.9 624.4h1.15v1.15h-1.15zM436.0 622.7h1.15v1.15h-1.15zM462.9 615.6h1.15v1.15h-1.15zM467.8 643.3h1.15v1.15h-1.15zM481.2 644.7h1.15v1.15h-1.15zM433.0 659.5h1.15v1.15h-1.15zM470.3 654.3h1.15v1.15h-1.15zM482.3 637.2h1.15v1.15h-1.15zM470.9 653.8h1.15v1.15h-1.15zM443.0 606.0h1.15v1.15h-1.15zM480.2 629.4h1.15v1.15h-1.15zM476.4 653.9h1.15v1.15h-1.15zM440.6 606.0h1.15v1.15h-1.15zM460.5 610.3h1.15v1.15h-1.15z" fill="#2f2e90"/>
<path d="M462.1 615.0h1.15v1.15h-1.15zM481.2 641.6h1.15v1.15h-1.15zM472.5 652.2h1.15v1.15h-1.15zM476.5 649.9h1.15v1.15h-1.15zM464.6 621.1h1.15v1.15h-1.15zM475.5 651.4h1.15v1.15h-1.15zM479.5 629.2h1.15v1.15h-1.15zM464.9 648.3h1.15v1.15h-1.15zM470.6 648.6h1.15v1.15h-1.15zM455.6 614.4h1.15v1.15h-1.15zM463.2 623.1h1.15v1.15h-1.15zM435.7 621.0h1.15v1.15h-1.15zM460.3 607.7h1.15v1.15h-1.15zM458.7 605.9h1.15v1.15h-1.15zM459.0 616.4h1.15v1.15h-1.15zM453.2 607.7h1.15v1.15h-1.15zM478.4 629.2h1.15v1.15h-1.15zM461.9 643.5h1.15v1.15h-1.15zM459.6 611.8h1.15v1.15h-1.15zM431.4 638.2h1.15v1.15h-1.15zM445.0 607.1h1.15v1.15h-1.15zM471.4 648.3h1.15v1.15h-1.15zM471.7 648.3h1.15v1.15h-1.15zM449.7 608.6h1.15v1.15h-1.15zM480.9 635.2h1.15v1.15h-1.15zM466.8 639.1h1.15v1.15h-1.15zM456.0 613.4h1.15v1.15h-1.15zM445.8 665.4h1.15v1.15h-1.15zM456.9 605.7h1.15v1.15h-1.15zM471.5 646.4h1.15v1.15h-1.15zM457.4 612.6h1.15v1.15h-1.15zM467.2 638.2h1.15v1.15h-1.15zM451.1 609.1h1.15v1.15h-1.15zM476.6 630.4h1.15v1.15h-1.15zM477.4 646.9h1.15v1.15h-1.15zM453.1 611.7h1.15v1.15h-1.15zM447.0 608.6h1.15v1.15h-1.15zM479.2 635.5h1.15v1.15h-1.15zM455.9 606.1h1.15v1.15h-1.15zM462.3 619.3h1.15v1.15h-1.15zM475.8 647.0h1.15v1.15h-1.15zM478.5 632.3h1.15v1.15h-1.15zM433.4 619.4h1.15v1.15h-1.15zM441.8 607.2h1.15v1.15h-1.15zM471.0 641.3h1.15v1.15h-1.15zM478.2 646.4h1.15v1.15h-1.15zM456.6 662.8h1.15v1.15h-1.15zM436.4 618.4h1.15v1.15h-1.15zM460.2 661.6h1.15v1.15h-1.15zM454.4 610.3h1.15v1.15h-1.15zM478.9 634.8h1.15v1.15h-1.15zM462.0 622.3h1.15v1.15h-1.15zM469.9 632.0h1.15v1.15h-1.15zM460.8 629.4h1.15v1.15h-1.15zM457.4 609.6h1.15v1.15h-1.15zM455.8 608.2h1.15v1.15h-1.15zM478.4 644.5h1.15v1.15h-1.15zM454.0 618.8h1.15v1.15h-1.15zM456.7 608.5h1.15v1.15h-1.15zM459.7 618.9h1.15v1.15h-1.15zM440.2 608.5h1.15v1.15h-1.15zM468.6 632.8h1.15v1.15h-1.15zM462.2 619.4h1.15v1.15h-1.15zM475.3 632.6h1.15v1.15h-1.15zM450.0 614.0h1.15v1.15h-1.15zM468.1 635.6h1.15v1.15h-1.15zM435.9 612.5h1.15v1.15h-1.15zM434.1 635.2h1.15v1.15h-1.15zM478.9 639.9h1.15v1.15h-1.15zM473.8 643.2h1.15v1.15h-1.15zM460.9 622.0h1.15v1.15h-1.15zM462.5 645.2h1.15v1.15h-1.15zM470.7 639.6h1.15v1.15h-1.15zM450.7 664.8h1.15v1.15h-1.15zM440.5 620.2h1.15v1.15h-1.15zM474.0 643.7h1.15v1.15h-1.15zM445.8 617.2h1.15v1.15h-1.15zM439.4 609.6h1.15v1.15h-1.15zM444.1 611.1h1.15v1.15h-1.15zM446.2 616.7h1.15v1.15h-1.15zM442.5 618.8h1.15v1.15h-1.15zM449.0 614.9h1.15v1.15h-1.15zM449.8 616.6h1.15v1.15h-1.15zM440.1 663.0h1.15v1.15h-1.15zM458.1 620.9h1.15v1.15h-1.15zM441.8 617.8h1.15v1.15h-1.15zM437.9 617.7h1.15v1.15h-1.15zM459.6 660.2h1.15v1.15h-1.15zM451.8 619.2h1.15v1.15h-1.15zM458.5 621.3h1.15v1.15h-1.15zM446.8 616.5h1.15v1.15h-1.15zM454.4 662.7h1.15v1.15h-1.15zM439.0 609.8h1.15v1.15h-1.15zM438.4 617.8h1.15v1.15h-1.15zM447.5 611.2h1.15v1.15h-1.15zM470.7 638.3h1.15v1.15h-1.15zM478.1 643.0h1.15v1.15h-1.15zM448.1 611.9h1.15v1.15h-1.15zM437.7 617.0h1.15v1.15h-1.15zM440.6 610.2h1.15v1.15h-1.15zM437.2 615.7h1.15v1.15h-1.15zM436.7 612.7h1.15v1.15h-1.15zM459.9 641.8h1.15v1.15h-1.15zM451.1 664.5h1.15v1.15h-1.15zM477.0 640.6h1.15v1.15h-1.15zM474.9 642.5h1.15v1.15h-1.15zM445.9 612.5h1.15v1.15h-1.15zM470.1 633.9h1.15v1.15h-1.15zM456.9 622.1h1.15v1.15h-1.15zM432.4 647.0h1.15v1.15h-1.15zM475.9 637.8h1.15v1.15h-1.15zM450.5 663.7h1.15v1.15h-1.15zM455.5 621.6h1.15v1.15h-1.15zM476.5 642.7h1.15v1.15h-1.15zM446.7 612.0h1.15v1.15h-1.15zM448.3 618.6h1.15v1.15h-1.15zM449.8 619.2h1.15v1.15h-1.15zM446.6 612.4h1.15v1.15h-1.15zM477.3 642.2h1.15v1.15h-1.15zM474.9 640.7h1.15v1.15h-1.15zM460.1 632.2h1.15v1.15h-1.15zM443.0 623.6h1.15v1.15h-1.15zM460.8 653.9h1.15v1.15h-1.15zM476.5 641.1h1.15v1.15h-1.15zM436.2 628.7h1.15v1.15h-1.15zM469.5 634.6h1.15v1.15h-1.15zM472.4 638.2h1.15v1.15h-1.15zM455.6 622.2h1.15v1.15h-1.15zM451.1 620.0h1.15v1.15h-1.15zM440.4 614.2h1.15v1.15h-1.15zM475.4 637.6h1.15v1.15h-1.15zM459.2 659.2h1.15v1.15h-1.15zM474.9 634.8h1.15v1.15h-1.15zM475.1 635.0h1.15v1.15h-1.15zM450.7 619.7h1.15v1.15h-1.15zM446.6 621.6h1.15v1.15h-1.15zM455.5 624.1h1.15v1.15h-1.15zM440.4 613.3h1.15v1.15h-1.15zM438.3 612.4h1.15v1.15h-1.15zM463.8 638.6h1.15v1.15h-1.15zM436.5 657.6h1.15v1.15h-1.15zM439.7 612.0h1.15v1.15h-1.15zM437.9 613.5h1.15v1.15h-1.15zM471.3 634.2h1.15v1.15h-1.15zM470.5 635.1h1.15v1.15h-1.15zM474.1 635.1h1.15v1.15h-1.15zM434.4 651.1h1.15v1.15h-1.15zM439.9 613.8h1.15v1.15h-1.15zM438.6 612.3h1.15v1.15h-1.15z" fill="#2d2f94"/>
<path d="M459.1 626.5h1.15v1.15h-1.15zM473.4 636.5h1.15v1.15h-1.15zM472.6 634.9h1.15v1.15h-1.15zM472.2 635.0h1.15v1.15h-1.15zM472.1 635.5h1.15v1.15h-1.15zM459.8 655.5h1.15v1.15h-1.15zM462.6 640.1h1.15v1.15h-1.15zM452.2 622.4h1.15v1.15h-1.15zM442.6 662.1h1.15v1.15h-1.15zM450.8 622.4h1.15v1.15h-1.15zM457.9 627.5h1.15v1.15h-1.15zM445.9 624.0h1.15v1.15h-1.15zM445.5 624.4h1.15v1.15h-1.15zM454.1 624.2h1.15v1.15h-1.15zM436.3 654.7h1.15v1.15h-1.15zM435.2 649.6h1.15v1.15h-1.15zM434.7 646.9h1.15v1.15h-1.15zM437.4 629.1h1.15v1.15h-1.15zM436.5 652.4h1.15v1.15h-1.15zM433.8 642.3h1.15v1.15h-1.15zM442.0 661.8h1.15v1.15h-1.15zM433.4 644.0h1.15v1.15h-1.15zM440.7 620.3h1.15v1.15h-1.15zM437.0 631.2h1.15v1.15h-1.15zM441.2 623.9h1.15v1.15h-1.15zM437.4 652.0h1.15v1.15h-1.15zM461.2 637.6h1.15v1.15h-1.15zM436.6 649.0h1.15v1.15h-1.15zM454.2 658.5h1.15v1.15h-1.15zM457.3 656.4h1.15v1.15h-1.15zM460.4 620.3h1.15v1.15h-1.15zM458.0 650.9h1.15v1.15h-1.15zM437.9 657.0h1.15v1.15h-1.15zM449.7 660.2h1.15v1.15h-1.15zM438.8 658.7h1.15v1.15h-1.15zM443.9 620.2h1.15v1.15h-1.15zM445.1 612.0h1.15v1.15h-1.15zM457.4 654.8h1.15v1.15h-1.15zM457.2 655.1h1.15v1.15h-1.15zM434.6 643.6h1.15v1.15h-1.15zM434.2 643.3h1.15v1.15h-1.15zM443.4 621.5h1.15v1.15h-1.15zM451.0 659.9h1.15v1.15h-1.15zM439.5 628.0h1.15v1.15h-1.15zM447.5 612.7h1.15v1.15h-1.15zM435.3 640.2h1.15v1.15h-1.15zM454.7 621.4h1.15v1.15h-1.15z" fill="#2b3099"/>
<path d="M457.4 653.3h1.15v1.15h-1.15zM438.8 653.6h1.15v1.15h-1.15zM445.6 621.8h1.15v1.15h-1.15zM446.0 659.6h1.15v1.15h-1.15zM453.5 656.8h1.15v1.15h-1.15zM457.1 650.4h1.15v1.15h-1.15zM435.3 644.1h1.15v1.15h-1.15zM444.2 623.5h1.15v1.15h-1.15zM441.7 659.7h1.15v1.15h-1.15zM449.1 620.9h1.15v1.15h-1.15zM439.5 614.7h1.15v1.15h-1.15zM435.1 643.0h1.15v1.15h-1.15zM451.3 659.1h1.15v1.15h-1.15zM439.3 657.8h1.15v1.15h-1.15zM439.6 654.5h1.15v1.15h-1.15zM448.6 658.4h1.15v1.15h-1.15zM446.4 659.1h1.15v1.15h-1.15zM457.4 647.1h1.15v1.15h-1.15zM455.7 627.5h1.15v1.15h-1.15zM454.1 655.5h1.15v1.15h-1.15zM451.3 658.1h1.15v1.15h-1.15zM455.2 653.2h1.15v1.15h-1.15zM450.6 622.1h1.15v1.15h-1.15zM456.4 650.6h1.15v1.15h-1.15zM457.8 646.5h1.15v1.15h-1.15zM441.0 658.3h1.15v1.15h-1.15zM440.7 652.9h1.15v1.15h-1.15zM438.4 647.7h1.15v1.15h-1.15zM452.3 655.9h1.15v1.15h-1.15zM440.9 656.8h1.15v1.15h-1.15zM444.9 624.7h1.15v1.15h-1.15zM458.8 639.0h1.15v1.15h-1.15zM459.2 639.1h1.15v1.15h-1.15zM446.2 658.1h1.15v1.15h-1.15zM446.0 658.1h1.15v1.15h-1.15zM451.7 655.4h1.15v1.15h-1.15zM450.1 657.1h1.15v1.15h-1.15zM454.4 627.3h1.15v1.15h-1.15zM448.4 657.0h1.15v1.15h-1.15zM451.2 654.8h1.15v1.15h-1.15zM442.7 657.8h1.15v1.15h-1.15zM442.5 657.8h1.15v1.15h-1.15zM450.3 656.4h1.15v1.15h-1.15zM455.4 651.1h1.15v1.15h-1.15zM443.6 658.0h1.15v1.15h-1.15zM452.5 624.2h1.15v1.15h-1.15zM449.6 656.3h1.15v1.15h-1.15zM440.1 650.2h1.15v1.15h-1.15zM454.2 652.2h1.15v1.15h-1.15zM453.4 652.5h1.15v1.15h-1.15zM454.2 653.0h1.15v1.15h-1.15zM441.2 652.1h1.15v1.15h-1.15zM439.7 630.2h1.15v1.15h-1.15zM442.6 653.8h1.15v1.15h-1.15zM442.4 656.2h1.15v1.15h-1.15zM442.3 656.0h1.15v1.15h-1.15zM442.8 656.9h1.15v1.15h-1.15zM443.3 657.1h1.15v1.15h-1.15z" fill="#29319d"/>
<path d="M448.0 654.8h1.15v1.15h-1.15zM443.2 655.2h1.15v1.15h-1.15zM458.5 637.3h1.15v1.15h-1.15zM445.9 655.1h1.15v1.15h-1.15zM445.9 654.9h1.15v1.15h-1.15zM440.7 629.4h1.15v1.15h-1.15zM448.7 625.2h1.15v1.15h-1.15zM441.7 651.0h1.15v1.15h-1.15zM443.3 653.5h1.15v1.15h-1.15zM458.1 639.3h1.15v1.15h-1.15zM458.5 638.1h1.15v1.15h-1.15zM447.2 654.1h1.15v1.15h-1.15zM451.3 625.1h1.15v1.15h-1.15zM449.3 653.2h1.15v1.15h-1.15zM437.7 635.4h1.15v1.15h-1.15zM447.8 626.4h1.15v1.15h-1.15zM453.8 627.6h1.15v1.15h-1.15zM442.3 628.4h1.15v1.15h-1.15zM445.6 653.4h1.15v1.15h-1.15zM457.7 636.8h1.15v1.15h-1.15zM452.7 627.0h1.15v1.15h-1.15zM441.2 648.7h1.15v1.15h-1.15zM454.4 648.7h1.15v1.15h-1.15zM452.8 651.2h1.15v1.15h-1.15zM451.0 625.6h1.15v1.15h-1.15zM456.5 635.3h1.15v1.15h-1.15zM440.8 631.0h1.15v1.15h-1.15zM447.8 627.3h1.15v1.15h-1.15zM455.5 644.6h1.15v1.15h-1.15zM456.0 644.8h1.15v1.15h-1.15zM439.6 633.3h1.15v1.15h-1.15zM449.5 651.7h1.15v1.15h-1.15z" fill="#2838a5"/>
<path d="M453.7 648.8h1.15v1.15h-1.15zM456.9 640.8h1.15v1.15h-1.15zM437.5 639.8h1.15v1.15h-1.15zM439.2 643.3h1.15v1.15h-1.15zM438.7 643.5h1.15v1.15h-1.15zM451.5 651.1h1.15v1.15h-1.15zM445.3 651.8h1.15v1.15h-1.15zM455.7 643.7h1.15v1.15h-1.15zM445.7 627.5h1.15v1.15h-1.15zM450.6 627.2h1.15v1.15h-1.15zM444.1 650.8h1.15v1.15h-1.15zM450.6 650.8h1.15v1.15h-1.15zM447.1 651.7h1.15v1.15h-1.15zM451.9 627.9h1.15v1.15h-1.15zM442.4 647.8h1.15v1.15h-1.15zM455.2 634.4h1.15v1.15h-1.15zM438.8 636.8h1.15v1.15h-1.15zM439.0 637.1h1.15v1.15h-1.15zM441.3 631.4h1.15v1.15h-1.15zM443.5 649.3h1.15v1.15h-1.15zM444.3 649.9h1.15v1.15h-1.15zM453.5 647.2h1.15v1.15h-1.15zM441.2 646.5h1.15v1.15h-1.15zM448.2 651.2h1.15v1.15h-1.15zM453.2 629.9h1.15v1.15h-1.15zM439.3 643.9h1.15v1.15h-1.15zM452.3 628.9h1.15v1.15h-1.15zM452.8 647.8h1.15v1.15h-1.15zM447.6 651.0h1.15v1.15h-1.15zM442.5 647.7h1.15v1.15h-1.15zM446.4 651.1h1.15v1.15h-1.15zM446.5 651.1h1.15v1.15h-1.15zM445.5 629.0h1.15v1.15h-1.15zM438.6 640.7h1.15v1.15h-1.15zM457.3 631.2h1.15v1.15h-1.15zM454.8 633.6h1.15v1.15h-1.15z" fill="#2846b0"/>
<path d="M454.8 642.9h1.15v1.15h-1.15zM441.7 631.9h1.15v1.15h-1.15zM442.9 630.3h1.15v1.15h-1.15zM455.3 636.5h1.15v1.15h-1.15zM453.7 645.5h1.15v1.15h-1.15zM453.0 630.7h1.15v1.15h-1.15zM455.8 638.9h1.15v1.15h-1.15zM446.0 649.8h1.15v1.15h-1.15zM446.9 649.6h1.15v1.15h-1.15zM443.1 647.2h1.15v1.15h-1.15zM450.4 628.3h1.15v1.15h-1.15zM445.0 649.1h1.15v1.15h-1.15zM444.1 647.8h1.15v1.15h-1.15zM439.3 642.2h1.15v1.15h-1.15zM451.2 648.0h1.15v1.15h-1.15zM453.4 643.8h1.15v1.15h-1.15zM441.8 626.9h1.15v1.15h-1.15zM449.4 648.8h1.15v1.15h-1.15zM449.4 648.8h1.15v1.15h-1.15zM452.2 647.1h1.15v1.15h-1.15zM458.0 644.2h1.15v1.15h-1.15zM446.0 648.7h1.15v1.15h-1.15zM441.5 644.2h1.15v1.15h-1.15zM442.3 632.3h1.15v1.15h-1.15zM451.2 629.2h1.15v1.15h-1.15zM454.8 635.5h1.15v1.15h-1.15zM439.3 641.4h1.15v1.15h-1.15zM446.4 648.7h1.15v1.15h-1.15zM446.5 648.7h1.15v1.15h-1.15zM453.6 634.3h1.15v1.15h-1.15zM444.7 630.0h1.15v1.15h-1.15z" fill="#2853bb"/>
<path d="M453.0 644.2h1.15v1.15h-1.15zM449.8 648.2h1.15v1.15h-1.15zM445.6 648.1h1.15v1.15h-1.15zM440.1 636.0h1.15v1.15h-1.15zM454.6 637.4h1.15v1.15h-1.15zM454.5 637.8h1.15v1.15h-1.15zM448.2 629.3h1.15v1.15h-1.15zM441.4 643.5h1.15v1.15h-1.15zM451.6 630.6h1.15v1.15h-1.15zM446.2 630.1h1.15v1.15h-1.15zM452.3 645.1h1.15v1.15h-1.15zM451.9 645.2h1.15v1.15h-1.15zM450.6 647.1h1.15v1.15h-1.15zM451.5 646.6h1.15v1.15h-1.15zM444.1 625.8h1.15v1.15h-1.15zM440.4 636.3h1.15v1.15h-1.15zM446.1 647.3h1.15v1.15h-1.15zM449.6 647.4h1.15v1.15h-1.15zM440.8 637.3h1.15v1.15h-1.15zM444.8 646.6h1.15v1.15h-1.15zM448.3 647.0h1.15v1.15h-1.15zM440.5 640.4h1.15v1.15h-1.15zM442.4 634.2h1.15v1.15h-1.15zM450.0 646.5h1.15v1.15h-1.15zM440.8 638.0h1.15v1.15h-1.15zM444.1 631.9h1.15v1.15h-1.15zM451.1 631.0h1.15v1.15h-1.15zM449.7 630.4h1.15v1.15h-1.15z" fill="#2860c6"/>
<path d="M454.2 637.3h1.15v1.15h-1.15zM449.3 646.4h1.15v1.15h-1.15zM441.4 641.7h1.15v1.15h-1.15zM451.5 644.3h1.15v1.15h-1.15zM456.9 645.5h1.15v1.15h-1.15zM457.7 641.6h1.15v1.15h-1.15zM442.5 642.8h1.15v1.15h-1.15zM443.1 633.8h1.15v1.15h-1.15zM452.5 643.1h1.15v1.15h-1.15zM449.3 631.2h1.15v1.15h-1.15zM456.5 634.3h1.15v1.15h-1.15zM441.0 639.9h1.15v1.15h-1.15zM441.0 638.7h1.15v1.15h-1.15zM450.4 644.3h1.15v1.15h-1.15z" fill="#286ed2"/>
<path d="M452.3 641.6h1.15v1.15h-1.15zM447.2 632.6h1.15v1.15h-1.15zM446.6 632.6h1.15v1.15h-1.15zM452.7 639.2h1.15v1.15h-1.15zM451.5 625.8h1.15v1.15h-1.15zM442.7 636.3h1.15v1.15h-1.15zM453.8 649.5h1.15v1.15h-1.15zM448.6 632.2h1.15v1.15h-1.15zM457.5 638.9h1.15v1.15h-1.15zM443.0 628.8h1.15v1.15h-1.15zM451.8 636.0h1.15v1.15h-1.15zM451.7 635.9h1.15v1.15h-1.15zM448.1 644.6h1.15v1.15h-1.15zM447.2 644.9h1.15v1.15h-1.15zM454.6 631.7h1.15v1.15h-1.15zM445.1 634.3h1.15v1.15h-1.15zM443.1 642.2h1.15v1.15h-1.15zM442.8 642.0h1.15v1.15h-1.15zM443.7 635.0h1.15v1.15h-1.15zM438.3 641.1h1.15v1.15h-1.15zM444.5 643.0h1.15v1.15h-1.15zM449.5 633.0h1.15v1.15h-1.15zM449.6 633.3h1.15v1.15h-1.15zM449.1 633.0h1.15v1.15h-1.15zM451.9 640.1h1.15v1.15h-1.15zM441.5 630.6h1.15v1.15h-1.15z" fill="#2884d2"/>
<path d="M448.9 633.1h1.15v1.15h-1.15zM450.2 642.9h1.15v1.15h-1.15zM445.9 643.5h1.15v1.15h-1.15zM448.4 643.3h1.15v1.15h-1.15zM448.8 644.2h1.15v1.15h-1.15zM444.6 635.2h1.15v1.15h-1.15zM444.7 635.3h1.15v1.15h-1.15zM455.3 642.7h1.15v1.15h-1.15zM439.3 644.3h1.15v1.15h-1.15zM452.5 628.8h1.15v1.15h-1.15zM451.1 640.8h1.15v1.15h-1.15zM451.5 636.1h1.15v1.15h-1.15zM447.2 643.7h1.15v1.15h-1.15zM447.7 643.3h1.15v1.15h-1.15zM447.9 644.1h1.15v1.15h-1.15zM442.8 639.4h1.15v1.15h-1.15zM456.6 639.4h1.15v1.15h-1.15zM450.1 634.6h1.15v1.15h-1.15zM442.2 648.1h1.15v1.15h-1.15zM446.2 643.1h1.15v1.15h-1.15zM451.4 627.6h1.15v1.15h-1.15z" fill="#289ad2"/>
<path d="M448.5 643.0h1.15v1.15h-1.15zM449.3 634.7h1.15v1.15h-1.15zM444.4 640.4h1.15v1.15h-1.15zM446.9 642.5h1.15v1.15h-1.15zM451.5 639.6h1.15v1.15h-1.15zM456.0 641.0h1.15v1.15h-1.15zM439.6 643.7h1.15v1.15h-1.15zM449.9 641.1h1.15v1.15h-1.15zM443.7 639.1h1.15v1.15h-1.15zM452.8 648.2h1.15v1.15h-1.15zM449.4 628.1h1.15v1.15h-1.15zM449.1 628.1h1.15v1.15h-1.15zM448.3 634.8h1.15v1.15h-1.15zM448.6 634.5h1.15v1.15h-1.15zM444.7 636.7h1.15v1.15h-1.15zM443.9 629.5h1.15v1.15h-1.15zM444.8 641.1h1.15v1.15h-1.15zM453.6 646.5h1.15v1.15h-1.15zM438.7 640.2h1.15v1.15h-1.15zM449.0 636.0h1.15v1.15h-1.15zM448.2 642.0h1.15v1.15h-1.15zM448.5 641.7h1.15v1.15h-1.15zM446.8 641.6h1.15v1.15h-1.15zM447.4 642.0h1.15v1.15h-1.15zM449.2 640.8h1.15v1.15h-1.15zM448.2 635.4h1.15v1.15h-1.15zM450.0 637.9h1.15v1.15h-1.15zM444.9 639.2h1.15v1.15h-1.15zM442.4 631.6h1.15v1.15h-1.15z" fill="#28b0d2"/>
<path d="M453.1 647.7h1.15v1.15h-1.15zM450.1 638.4h1.15v1.15h-1.15zM452.2 648.5h1.15v1.15h-1.15zM455.3 638.0h1.15v1.15h-1.15zM442.5 646.6h1.15v1.15h-1.15zM446.2 637.5h1.15v1.15h-1.15zM445.5 637.8h1.15v1.15h-1.15zM449.0 640.8h1.15v1.15h-1.15zM446.2 640.1h1.15v1.15h-1.15zM449.1 639.9h1.15v1.15h-1.15zM449.8 640.0h1.15v1.15h-1.15zM447.5 650.1h1.15v1.15h-1.15zM447.7 649.9h1.15v1.15h-1.15zM449.0 636.7h1.15v1.15h-1.15zM449.2 639.5h1.15v1.15h-1.15zM449.7 639.1h1.15v1.15h-1.15zM449.4 638.2h1.15v1.15h-1.15zM449.0 640.5h1.15v1.15h-1.15zM451.8 647.3h1.15v1.15h-1.15zM448.6 638.3h1.15v1.15h-1.15z" fill="#26bcc5"/>
<path d="M447.7 638.5h1.15v1.15h-1.15zM447.7 638.4h1.15v1.15h-1.15zM447.7 638.1h1.15v1.15h-1.15zM442.6 632.6h1.15v1.15h-1.15zM447.1 648.8h1.15v1.15h-1.15zM443.9 647.4h1.15v1.15h-1.15zM440.0 638.6h1.15v1.15h-1.15zM453.6 633.9h1.15v1.15h-1.15zM439.3 639.0h1.15v1.15h-1.15zM452.5 646.2h1.15v1.15h-1.15zM448.1 629.9h1.15v1.15h-1.15zM447.9 629.8h1.15v1.15h-1.15zM440.1 635.5h1.15v1.15h-1.15zM440.3 636.1h1.15v1.15h-1.15zM455.0 638.5h1.15v1.15h-1.15zM444.4 631.7h1.15v1.15h-1.15z" fill="#24baa6"/>
<path d="M441.4 643.8h1.15v1.15h-1.15zM452.2 631.3h1.15v1.15h-1.15zM451.9 631.3h1.15v1.15h-1.15zM451.6 630.1h1.15v1.15h-1.15zM454.2 634.9h1.15v1.15h-1.15zM443.8 646.0h1.15v1.15h-1.15zM447.5 647.8h1.15v1.15h-1.15zM447.7 648.4h1.15v1.15h-1.15zM443.6 645.8h1.15v1.15h-1.15zM451.0 646.0h1.15v1.15h-1.15zM440.2 636.3h1.15v1.15h-1.15zM440.7 636.9h1.15v1.15h-1.15zM445.6 646.9h1.15v1.15h-1.15zM447.0 630.1h1.15v1.15h-1.15zM446.8 630.0h1.15v1.15h-1.15zM446.6 630.1h1.15v1.15h-1.15zM440.9 641.2h1.15v1.15h-1.15zM444.9 631.7h1.15v1.15h-1.15zM451.8 644.6h1.15v1.15h-1.15z" fill="#21b788"/>
<path d="M451.8 632.2h1.15v1.15h-1.15zM451.9 632.4h1.15v1.15h-1.15zM446.8 647.4h1.15v1.15h-1.15zM446.8 646.9h1.15v1.15h-1.15zM453.2 633.7h1.15v1.15h-1.15zM447.8 630.8h1.15v1.15h-1.15zM442.3 633.8h1.15v1.15h-1.15zM440.5 638.8h1.15v1.15h-1.15zM443.9 632.2h1.15v1.15h-1.15zM451.1 631.7h1.15v1.15h-1.15zM450.9 630.9h1.15v1.15h-1.15zM451.6 631.3h1.15v1.15h-1.15zM449.6 630.1h1.15v1.15h-1.15zM451.1 645.9h1.15v1.15h-1.15zM448.1 630.6h1.15v1.15h-1.15zM442.1 643.7h1.15v1.15h-1.15zM441.0 635.8h1.15v1.15h-1.15zM453.7 639.7h1.15v1.15h-1.15zM453.9 637.7h1.15v1.15h-1.15zM452.4 633.5h1.15v1.15h-1.15z" fill="#1fb569"/>
<path d="M445.1 632.0h1.15v1.15h-1.15zM444.7 632.3h1.15v1.15h-1.15zM448.8 646.0h1.15v1.15h-1.15zM447.3 646.4h1.15v1.15h-1.15zM447.2 646.6h1.15v1.15h-1.15zM441.6 636.8h1.15v1.15h-1.15zM441.4 637.0h1.15v1.15h-1.15zM441.4 641.1h1.15v1.15h-1.15zM441.7 641.0h1.15v1.15h-1.15zM442.2 642.9h1.15v1.15h-1.15zM451.9 643.2h1.15v1.15h-1.15zM447.7 631.7h1.15v1.15h-1.15zM443.5 643.6h1.15v1.15h-1.15zM448.4 631.0h1.15v1.15h-1.15zM452.1 633.6h1.15v1.15h-1.15zM441.6 639.9h1.15v1.15h-1.15zM441.0 640.1h1.15v1.15h-1.15zM445.4 645.8h1.15v1.15h-1.15zM446.0 645.9h1.15v1.15h-1.15zM449.5 645.8h1.15v1.15h-1.15z" fill="#27b654"/>
<path d="M450.7 644.3h1.15v1.15h-1.15zM451.0 633.3h1.15v1.15h-1.15zM450.8 633.0h1.15v1.15h-1.15zM448.3 645.3h1.15v1.15h-1.15zM448.2 645.4h1.15v1.15h-1.15zM442.6 641.6h1.15v1.15h-1.15zM453.1 636.6h1.15v1.15h-1.15zM452.3 641.7h1.15v1.15h-1.15zM444.6 644.8h1.15v1.15h-1.15zM446.9 631.8h1.15v1.15h-1.15zM446.8 631.9h1.15v1.15h-1.15zM453.3 639.1h1.15v1.15h-1.15zM443.4 634.7h1.15v1.15h-1.15zM443.6 634.6h1.15v1.15h-1.15zM443.5 642.4h1.15v1.15h-1.15zM443.4 643.1h1.15v1.15h-1.15zM444.3 644.1h1.15v1.15h-1.15zM452.9 638.1h1.15v1.15h-1.15zM453.1 638.7h1.15v1.15h-1.15zM449.1 632.0h1.15v1.15h-1.15zM449.5 632.5h1.15v1.15h-1.15zM442.3 636.4h1.15v1.15h-1.15zM442.5 636.9h1.15v1.15h-1.15zM442.7 636.8h1.15v1.15h-1.15z" fill="#3bba49"/>
<path d="M447.6 632.5h1.15v1.15h-1.15zM449.1 644.6h1.15v1.15h-1.15zM448.4 632.5h1.15v1.15h-1.15zM451.6 642.6h1.15v1.15h-1.15zM446.3 633.4h1.15v1.15h-1.15zM451.9 640.6h1.15v1.15h-1.15zM452.5 641.4h1.15v1.15h-1.15zM442.2 637.1h1.15v1.15h-1.15zM442.7 640.1h1.15v1.15h-1.15zM442.4 640.2h1.15v1.15h-1.15zM451.7 635.5h1.15v1.15h-1.15zM443.4 636.1h1.15v1.15h-1.15zM444.6 634.1h1.15v1.15h-1.15zM445.4 634.0h1.15v1.15h-1.15zM444.8 644.2h1.15v1.15h-1.15zM445.4 643.4h1.15v1.15h-1.15zM443.7 635.3h1.15v1.15h-1.15zM443.9 634.5h1.15v1.15h-1.15zM447.1 632.8h1.15v1.15h-1.15zM446.4 633.5h1.15v1.15h-1.15z" fill="#4fbf3e"/>
<path d="M443.9 642.4h1.15v1.15h-1.15zM449.4 633.2h1.15v1.15h-1.15zM449.4 632.7h1.15v1.15h-1.15zM449.6 633.1h1.15v1.15h-1.15zM449.8 633.1h1.15v1.15h-1.15zM451.4 642.4h1.15v1.15h-1.15zM451.7 637.0h1.15v1.15h-1.15zM449.3 643.8h1.15v1.15h-1.15zM443.1 636.8h1.15v1.15h-1.15zM450.7 634.1h1.15v1.15h-1.15zM450.4 633.9h1.15v1.15h-1.15zM443.6 640.8h1.15v1.15h-1.15zM446.3 643.8h1.15v1.15h-1.15zM452.1 638.1h1.15v1.15h-1.15zM451.9 638.3h1.15v1.15h-1.15zM452.1 638.0h1.15v1.15h-1.15zM451.7 638.4h1.15v1.15h-1.15z" fill="#63c333"/>
<path d="M444.2 635.8h1.15v1.15h-1.15zM449.0 643.6h1.15v1.15h-1.15zM444.6 634.5h1.15v1.15h-1.15zM445.0 634.8h1.15v1.15h-1.15zM444.9 635.2h1.15v1.15h-1.15zM443.6 637.2h1.15v1.15h-1.15zM443.2 637.9h1.15v1.15h-1.15zM442.8 637.5h1.15v1.15h-1.15zM443.6 637.9h1.15v1.15h-1.15zM443.2 639.8h1.15v1.15h-1.15zM446.6 643.5h1.15v1.15h-1.15zM446.9 643.9h1.15v1.15h-1.15zM444.3 641.9h1.15v1.15h-1.15zM444.1 642.4h1.15v1.15h-1.15zM444.4 641.8h1.15v1.15h-1.15zM445.1 642.6h1.15v1.15h-1.15zM451.6 641.4h1.15v1.15h-1.15zM451.4 641.5h1.15v1.15h-1.15zM451.6 640.7h1.15v1.15h-1.15zM451.4 635.3h1.15v1.15h-1.15zM451.0 635.5h1.15v1.15h-1.15zM450.8 635.4h1.15v1.15h-1.15zM451.4 635.8h1.15v1.15h-1.15zM447.5 644.0h1.15v1.15h-1.15zM449.3 634.4h1.15v1.15h-1.15zM442.9 638.9h1.15v1.15h-1.15zM443.0 639.0h1.15v1.15h-1.15zM447.8 633.9h1.15v1.15h-1.15zM448.5 633.7h1.15v1.15h-1.15zM448.8 633.9h1.15v1.15h-1.15zM448.8 634.1h1.15v1.15h-1.15zM450.0 642.1h1.15v1.15h-1.15zM443.7 636.8h1.15v1.15h-1.15zM446.0 634.9h1.15v1.15h-1.15zM444.5 640.7h1.15v1.15h-1.15z" fill="#78c828"/>
<path d="M445.8 643.3h1.15v1.15h-1.15zM451.4 636.7h1.15v1.15h-1.15zM451.0 640.4h1.15v1.15h-1.15zM451.2 640.1h1.15v1.15h-1.15zM451.0 640.4h1.15v1.15h-1.15zM445.1 635.6h1.15v1.15h-1.15zM445.3 642.0h1.15v1.15h-1.15zM445.1 641.9h1.15v1.15h-1.15zM448.3 642.4h1.15v1.15h-1.15zM444.2 639.8h1.15v1.15h-1.15zM444.1 640.0h1.15v1.15h-1.15zM444.2 640.4h1.15v1.15h-1.15zM446.8 642.6h1.15v1.15h-1.15zM451.2 637.9h1.15v1.15h-1.15zM450.8 637.3h1.15v1.15h-1.15zM451.3 639.3h1.15v1.15h-1.15zM451.5 639.5h1.15v1.15h-1.15zM450.2 635.4h1.15v1.15h-1.15zM447.3 642.9h1.15v1.15h-1.15zM447.4 642.6h1.15v1.15h-1.15zM447.9 642.5h1.15v1.15h-1.15zM451.5 638.4h1.15v1.15h-1.15zM450.8 638.3h1.15v1.15h-1.15zM451.0 638.8h1.15v1.15h-1.15zM451.0 638.2h1.15v1.15h-1.15zM444.0 638.3h1.15v1.15h-1.15zM444.3 638.5h1.15v1.15h-1.15zM444.4 638.6h1.15v1.15h-1.15zM450.7 640.7h1.15v1.15h-1.15zM443.7 639.2h1.15v1.15h-1.15zM449.2 641.8h1.15v1.15h-1.15zM449.0 634.7h1.15v1.15h-1.15zM448.6 634.7h1.15v1.15h-1.15zM448.8 634.9h1.15v1.15h-1.15z" fill="#9ace25"/>
<path d="M444.8 636.5h1.15v1.15h-1.15zM444.8 636.8h1.15v1.15h-1.15zM445.5 635.8h1.15v1.15h-1.15zM446.0 635.8h1.15v1.15h-1.15zM445.6 642.3h1.15v1.15h-1.15zM446.3 641.6h1.15v1.15h-1.15zM449.9 637.0h1.15v1.15h-1.15zM450.3 637.0h1.15v1.15h-1.15zM450.0 637.1h1.15v1.15h-1.15zM448.5 642.2h1.15v1.15h-1.15zM448.6 642.0h1.15v1.15h-1.15zM448.7 641.7h1.15v1.15h-1.15zM444.8 637.9h1.15v1.15h-1.15zM444.9 637.7h1.15v1.15h-1.15zM446.5 636.2h1.15v1.15h-1.15zM446.8 641.9h1.15v1.15h-1.15zM445.0 640.2h1.15v1.15h-1.15zM447.7 641.8h1.15v1.15h-1.15zM445.9 637.1h1.15v1.15h-1.15zM445.1 638.7h1.15v1.15h-1.15zM444.7 638.2h1.15v1.15h-1.15zM448.7 635.7h1.15v1.15h-1.15zM450.3 637.6h1.15v1.15h-1.15zM444.9 638.9h1.15v1.15h-1.15zM445.0 639.1h1.15v1.15h-1.15z" fill="#bdd522"/>
<path d="M447.9 635.5h1.15v1.15h-1.15zM446.1 640.6h1.15v1.15h-1.15zM445.9 641.2h1.15v1.15h-1.15zM450.3 638.5h1.15v1.15h-1.15zM449.9 638.4h1.15v1.15h-1.15zM445.9 637.6h1.15v1.15h-1.15zM446.1 637.7h1.15v1.15h-1.15zM446.0 637.4h1.15v1.15h-1.15zM448.1 641.1h1.15v1.15h-1.15zM446.8 636.5h1.15v1.15h-1.15zM446.5 636.5h1.15v1.15h-1.15zM447.1 636.5h1.15v1.15h-1.15zM446.9 636.7h1.15v1.15h-1.15zM447.0 636.5h1.15v1.15h-1.15zM447.1 640.7h1.15v1.15h-1.15zM446.3 641.3h1.15v1.15h-1.15zM446.9 641.0h1.15v1.15h-1.15zM446.9 641.4h1.15v1.15h-1.15zM446.4 641.5h1.15v1.15h-1.15zM445.5 640.1h1.15v1.15h-1.15zM449.3 640.1h1.15v1.15h-1.15zM447.2 640.9h1.15v1.15h-1.15zM447.7 640.7h1.15v1.15h-1.15zM448.3 636.5h1.15v1.15h-1.15zM448.4 636.3h1.15v1.15h-1.15zM448.3 636.3h1.15v1.15h-1.15zM448.6 636.9h1.15v1.15h-1.15zM446.2 638.1h1.15v1.15h-1.15zM446.1 638.8h1.15v1.15h-1.15zM447.8 636.9h1.15v1.15h-1.15zM448.0 636.5h1.15v1.15h-1.15zM447.8 636.7h1.15v1.15h-1.15z" fill="#e0dc1f"/>
<path d="M449.5 637.9h1.15v1.15h-1.15zM449.8 637.6h1.15v1.15h-1.15zM449.5 637.3h1.15v1.15h-1.15zM449.7 639.0h1.15v1.15h-1.15zM449.7 639.4h1.15v1.15h-1.15zM449.4 638.9h1.15v1.15h-1.15zM449.6 638.3h1.15v1.15h-1.15zM449.8 638.4h1.15v1.15h-1.15zM449.8 638.0h1.15v1.15h-1.15zM446.6 637.3h1.15v1.15h-1.15zM446.7 640.5h1.15v1.15h-1.15zM446.5 640.1h1.15v1.15h-1.15zM448.9 640.2h1.15v1.15h-1.15zM448.3 639.8h1.15v1.15h-1.15zM448.4 639.9h1.15v1.15h-1.15zM448.3 640.2h1.15v1.15h-1.15zM448.7 637.3h1.15v1.15h-1.15zM448.2 637.1h1.15v1.15h-1.15zM447.8 640.1h1.15v1.15h-1.15zM447.9 639.9h1.15v1.15h-1.15zM447.3 640.1h1.15v1.15h-1.15zM447.4 637.4h1.15v1.15h-1.15zM447.4 637.1h1.15v1.15h-1.15zM448.0 637.5h1.15v1.15h-1.15zM446.8 638.7h1.15v1.15h-1.15zM446.9 639.3h1.15v1.15h-1.15zM448.6 638.3h1.15v1.15h-1.15zM448.6 638.2h1.15v1.15h-1.15zM448.4 638.7h1.15v1.15h-1.15zM448.6 638.7h1.15v1.15h-1.15zM448.1 638.2h1.15v1.15h-1.15zM447.4 639.5h1.15v1.15h-1.15zM447.3 639.3h1.15v1.15h-1.15z" fill="#f5d51e"/>
<path d="M447.3 638.8h1.15v1.15h-1.15zM447.4 638.3h1.15v1.15h-1.15z" fill="#f7b91e"/>
</g>
<rect x="325.00" y="365.40" width="79.9" height="79.7" fill="none" stroke="#222" stroke-width="1.45"/>
<line x1="322.40" y1="436.24" x2="325.00" y2="436.24" stroke="#222" stroke-width="0.9"/>
<text x="317.10" y="438.44" font-size="6.9" text-anchor="middle" fill="#3a3a3a">0</text>
<line x1="333.88" y1="445.10" x2="333.88" y2="447.70" stroke="#222" stroke-width="0.9"/>
<text x="333.88" y="457.00" font-size="6.9" text-anchor="middle" fill="#3a3a3a">0</text>
<line x1="322.40" y1="418.53" x2="325.00" y2="418.53" stroke="#222" stroke-width="0.9"/>
<text x="317.10" y="420.73" font-size="6.9" text-anchor="middle" fill="#3a3a3a">2</text>
<line x1="351.63" y1="445.10" x2="351.63" y2="447.70" stroke="#222" stroke-width="0.9"/>
<text x="351.63" y="457.00" font-size="6.9" text-anchor="middle" fill="#3a3a3a">2</text>
<line x1="322.40" y1="400.82" x2="325.00" y2="400.82" stroke="#222" stroke-width="0.9"/>
<text x="317.10" y="403.02" font-size="6.9" text-anchor="middle" fill="#3a3a3a">4</text>
<line x1="369.39" y1="445.10" x2="369.39" y2="447.70" stroke="#222" stroke-width="0.9"/>
<text x="369.39" y="457.00" font-size="6.9" text-anchor="middle" fill="#3a3a3a">4</text>
<line x1="322.40" y1="383.11" x2="325.00" y2="383.11" stroke="#222" stroke-width="0.9"/>
<text x="317.10" y="385.31" font-size="6.9" text-anchor="middle" fill="#3a3a3a">6</text>
<line x1="387.14" y1="445.10" x2="387.14" y2="447.70" stroke="#222" stroke-width="0.9"/>
<text x="387.14" y="457.00" font-size="6.9" text-anchor="middle" fill="#3a3a3a">6</text>
<line x1="322.40" y1="365.40" x2="325.00" y2="365.40" stroke="#222" stroke-width="0.9"/>
<text x="317.10" y="367.60" font-size="6.9" text-anchor="middle" fill="#3a3a3a">8</text>
<line x1="404.90" y1="445.10" x2="404.90" y2="447.70" stroke="#222" stroke-width="0.9"/>
<text x="404.90" y="457.00" font-size="6.9" text-anchor="middle" fill="#3a3a3a">8</text>
<rect x="325.00" y="476.30" width="79.9" height="79.7" fill="none" stroke="#222" stroke-width="1.45"/>
<line x1="322.40" y1="547.14" x2="325.00" y2="547.14" stroke="#222" stroke-width="0.9"/>
<text x="317.10" y="549.34" font-size="6.9" text-anchor="middle" fill="#3a3a3a">0</text>
<line x1="333.88" y1="556.00" x2="333.88" y2="558.60" stroke="#222" stroke-width="0.9"/>
<text x="333.88" y="567.90" font-size="6.9" text-anchor="middle" fill="#3a3a3a">0</text>
<line x1="322.40" y1="529.43" x2="325.00" y2="529.43" stroke="#222" stroke-width="0.9"/>
<text x="317.10" y="531.63" font-size="6.9" text-anchor="middle" fill="#3a3a3a">2</text>
<line x1="351.63" y1="556.00" x2="351.63" y2="558.60" stroke="#222" stroke-width="0.9"/>
<text x="351.63" y="567.90" font-size="6.9" text-anchor="middle" fill="#3a3a3a">2</text>
<line x1="322.40" y1="511.72" x2="325.00" y2="511.72" stroke="#222" stroke-width="0.9"/>
<text x="317.10" y="513.92" font-size="6.9" text-anchor="middle" fill="#3a3a3a">4</text>
<line x1="369.39" y1="556.00" x2="369.39" y2="558.60" stroke="#222" stroke-width="0.9"/>
<text x="369.39" y="567.90" font-size="6.9" text-anchor="middle" fill="#3a3a3a">4</text>
<line x1="322.40" y1="494.01" x2="325.00" y2="494.01" stroke="#222" stroke-width="0.9"/>
<text x="317.10" y="496.21" font-size="6.9" text-anchor="middle" fill="#3a3a3a">6</text>
<line x1="387.14" y1="556.00" x2="387.14" y2="558.60" stroke="#222" stroke-width="0.9"/>
<text x="387.14" y="567.90" font-size="6.9" text-anchor="middle" fill="#3a3a3a">6</text>
<line x1="322.40" y1="476.30" x2="325.00" y2="476.30" stroke="#222" stroke-width="0.9"/>
<text x="317.10" y="478.50" font-size="6.9" text-anchor="middle" fill="#3a3a3a">8</text>
<line x1="404.90" y1="556.00" x2="404.90" y2="558.60" stroke="#222" stroke-width="0.9"/>
<text x="404.90" y="567.90" font-size="6.9" text-anchor="middle" fill="#3a3a3a">8</text>
<rect x="325.00" y="586.30" width="79.9" height="79.7" fill="none" stroke="#222" stroke-width="1.45"/>
<line x1="322.40" y1="657.14" x2="325.00" y2="657.14" stroke="#222" stroke-width="0.9"/>
<text x="317.10" y="659.34" font-size="6.9" text-anchor="middle" fill="#3a3a3a">0</text>
<line x1="333.88" y1="666.00" x2="333.88" y2="668.60" stroke="#222" stroke-width="0.9"/>
<text x="333.88" y="677.90" font-size="6.9" text-anchor="middle" fill="#3a3a3a">0</text>
<line x1="322.40" y1="639.43" x2="325.00" y2="639.43" stroke="#222" stroke-width="0.9"/>
<text x="317.10" y="641.63" font-size="6.9" text-anchor="middle" fill="#3a3a3a">2</text>
<line x1="351.63" y1="666.00" x2="351.63" y2="668.60" stroke="#222" stroke-width="0.9"/>
<text x="351.63" y="677.90" font-size="6.9" text-anchor="middle" fill="#3a3a3a">2</text>
<line x1="322.40" y1="621.72" x2="325.00" y2="621.72" stroke="#222" stroke-width="0.9"/>
<text x="317.10" y="623.92" font-size="6.9" text-anchor="middle" fill="#3a3a3a">4</text>
<line x1="369.39" y1="666.00" x2="369.39" y2="668.60" stroke="#222" stroke-width="0.9"/>
<text x="369.39" y="677.90" font-size="6.9" text-anchor="middle" fill="#3a3a3a">4</text>
<line x1="322.40" y1="604.01" x2="325.00" y2="604.01" stroke="#222" stroke-width="0.9"/>
<text x="317.10" y="606.21" font-size="6.9" text-anchor="middle" fill="#3a3a3a">6</text>
<line x1="387.14" y1="666.00" x2="387.14" y2="668.60" stroke="#222" stroke-width="0.9"/>
<text x="387.14" y="677.90" font-size="6.9" text-anchor="middle" fill="#3a3a3a">6</text>
<line x1="322.40" y1="586.30" x2="325.00" y2="586.30" stroke="#222" stroke-width="0.9"/>
<text x="317.10" y="588.50" font-size="6.9" text-anchor="middle" fill="#3a3a3a">8</text>
<line x1="404.90" y1="666.00" x2="404.90" y2="668.60" stroke="#222" stroke-width="0.9"/>
<text x="404.90" y="677.90" font-size="6.9" text-anchor="middle" fill="#3a3a3a">8</text>
<rect x="431.80" y="365.40" width="79.9" height="79.7" fill="none" stroke="#222" stroke-width="1.45"/>
<line x1="429.20" y1="436.24" x2="431.80" y2="436.24" stroke="#222" stroke-width="0.9"/>
<text x="423.90" y="438.44" font-size="6.9" text-anchor="middle" fill="#3a3a3a">0</text>
<line x1="440.68" y1="445.10" x2="440.68" y2="447.70" stroke="#222" stroke-width="0.9"/>
<text x="440.68" y="457.00" font-size="6.9" text-anchor="middle" fill="#3a3a3a">0</text>
<line x1="429.20" y1="418.53" x2="431.80" y2="418.53" stroke="#222" stroke-width="0.9"/>
<text x="423.90" y="420.73" font-size="6.9" text-anchor="middle" fill="#3a3a3a">2</text>
<line x1="458.43" y1="445.10" x2="458.43" y2="447.70" stroke="#222" stroke-width="0.9"/>
<text x="458.43" y="457.00" font-size="6.9" text-anchor="middle" fill="#3a3a3a">2</text>
<line x1="429.20" y1="400.82" x2="431.80" y2="400.82" stroke="#222" stroke-width="0.9"/>
<text x="423.90" y="403.02" font-size="6.9" text-anchor="middle" fill="#3a3a3a">4</text>
<line x1="476.19" y1="445.10" x2="476.19" y2="447.70" stroke="#222" stroke-width="0.9"/>
<text x="476.19" y="457.00" font-size="6.9" text-anchor="middle" fill="#3a3a3a">4</text>
<line x1="429.20" y1="383.11" x2="431.80" y2="383.11" stroke="#222" stroke-width="0.9"/>
<text x="423.90" y="385.31" font-size="6.9" text-anchor="middle" fill="#3a3a3a">6</text>
<line x1="493.94" y1="445.10" x2="493.94" y2="447.70" stroke="#222" stroke-width="0.9"/>
<text x="493.94" y="457.00" font-size="6.9" text-anchor="middle" fill="#3a3a3a">6</text>
<line x1="429.20" y1="365.40" x2="431.80" y2="365.40" stroke="#222" stroke-width="0.9"/>
<text x="423.90" y="367.60" font-size="6.9" text-anchor="middle" fill="#3a3a3a">8</text>
<line x1="511.70" y1="445.10" x2="511.70" y2="447.70" stroke="#222" stroke-width="0.9"/>
<text x="511.70" y="457.00" font-size="6.9" text-anchor="middle" fill="#3a3a3a">8</text>
<rect x="431.80" y="476.30" width="79.9" height="79.7" fill="none" stroke="#222" stroke-width="1.45"/>
<line x1="429.20" y1="547.14" x2="431.80" y2="547.14" stroke="#222" stroke-width="0.9"/>
<text x="423.90" y="549.34" font-size="6.9" text-anchor="middle" fill="#3a3a3a">0</text>
<line x1="440.68" y1="556.00" x2="440.68" y2="558.60" stroke="#222" stroke-width="0.9"/>
<text x="440.68" y="567.90" font-size="6.9" text-anchor="middle" fill="#3a3a3a">0</text>
<line x1="429.20" y1="529.43" x2="431.80" y2="529.43" stroke="#222" stroke-width="0.9"/>
<text x="423.90" y="531.63" font-size="6.9" text-anchor="middle" fill="#3a3a3a">2</text>
<line x1="458.43" y1="556.00" x2="458.43" y2="558.60" stroke="#222" stroke-width="0.9"/>
<text x="458.43" y="567.90" font-size="6.9" text-anchor="middle" fill="#3a3a3a">2</text>
<line x1="429.20" y1="511.72" x2="431.80" y2="511.72" stroke="#222" stroke-width="0.9"/>
<text x="423.90" y="513.92" font-size="6.9" text-anchor="middle" fill="#3a3a3a">4</text>
<line x1="476.19" y1="556.00" x2="476.19" y2="558.60" stroke="#222" stroke-width="0.9"/>
<text x="476.19" y="567.90" font-size="6.9" text-anchor="middle" fill="#3a3a3a">4</text>
<line x1="429.20" y1="494.01" x2="431.80" y2="494.01" stroke="#222" stroke-width="0.9"/>
<text x="423.90" y="496.21" font-size="6.9" text-anchor="middle" fill="#3a3a3a">6</text>
<line x1="493.94" y1="556.00" x2="493.94" y2="558.60" stroke="#222" stroke-width="0.9"/>
<text x="493.94" y="567.90" font-size="6.9" text-anchor="middle" fill="#3a3a3a">6</text>
<line x1="429.20" y1="476.30" x2="431.80" y2="476.30" stroke="#222" stroke-width="0.9"/>
<text x="423.90" y="478.50" font-size="6.9" text-anchor="middle" fill="#3a3a3a">8</text>
<line x1="511.70" y1="556.00" x2="511.70" y2="558.60" stroke="#222" stroke-width="0.9"/>
<text x="511.70" y="567.90" font-size="6.9" text-anchor="middle" fill="#3a3a3a">8</text>
<rect x="431.80" y="586.30" width="79.9" height="79.7" fill="none" stroke="#222" stroke-width="1.45"/>
<line x1="429.20" y1="657.14" x2="431.80" y2="657.14" stroke="#222" stroke-width="0.9"/>
<text x="423.90" y="659.34" font-size="6.9" text-anchor="middle" fill="#3a3a3a">0</text>
<line x1="440.68" y1="666.00" x2="440.68" y2="668.60" stroke="#222" stroke-width="0.9"/>
<text x="440.68" y="677.90" font-size="6.9" text-anchor="middle" fill="#3a3a3a">0</text>
<line x1="429.20" y1="639.43" x2="431.80" y2="639.43" stroke="#222" stroke-width="0.9"/>
<text x="423.90" y="641.63" font-size="6.9" text-anchor="middle" fill="#3a3a3a">2</text>
<line x1="458.43" y1="666.00" x2="458.43" y2="668.60" stroke="#222" stroke-width="0.9"/>
<text x="458.43" y="677.90" font-size="6.9" text-anchor="middle" fill="#3a3a3a">2</text>
<line x1="429.20" y1="621.72" x2="431.80" y2="621.72" stroke="#222" stroke-width="0.9"/>
<text x="423.90" y="623.92" font-size="6.9" text-anchor="middle" fill="#3a3a3a">4</text>
<line x1="476.19" y1="666.00" x2="476.19" y2="668.60" stroke="#222" stroke-width="0.9"/>
<text x="476.19" y="677.90" font-size="6.9" text-anchor="middle" fill="#3a3a3a">4</text>
<line x1="429.20" y1="604.01" x2="431.80" y2="604.01" stroke="#222" stroke-width="0.9"/>
<text x="423.90" y="606.21" font-size="6.9" text-anchor="middle" fill="#3a3a3a">6</text>
<line x1="493.94" y1="666.00" x2="493.94" y2="668.60" stroke="#222" stroke-width="0.9"/>
<text x="493.94" y="677.90" font-size="6.9" text-anchor="middle" fill="#3a3a3a">6</text>
<line x1="429.20" y1="586.30" x2="431.80" y2="586.30" stroke="#222" stroke-width="0.9"/>
<text x="423.90" y="588.50" font-size="6.9" text-anchor="middle" fill="#3a3a3a">8</text>
<line x1="511.70" y1="666.00" x2="511.70" y2="668.60" stroke="#222" stroke-width="0.9"/>
<text x="511.70" y="677.90" font-size="6.9" text-anchor="middle" fill="#3a3a3a">8</text>
<text x="365.10" y="469.80" font-size="9.6" text-anchor="middle" textLength="21.10" lengthAdjust="spacingAndGlyphs">Empty</text>
<text x="471.30" y="469.60" font-size="9.6" text-anchor="middle" textLength="19.00" lengthAdjust="spacingAndGlyphs">CD34</text>
<text x="365.20" y="580.80" font-size="9.6" text-anchor="middle" textLength="19.70" lengthAdjust="spacingAndGlyphs">CD33</text>
<text x="471.70" y="580.50" font-size="9.6" text-anchor="middle" textLength="18.90" lengthAdjust="spacingAndGlyphs">CD15</text>
<text x="364.70" y="690.60" font-size="9.6" text-anchor="middle" textLength="18.60" lengthAdjust="spacingAndGlyphs">CD10</text>
<text x="471.50" y="690.00" font-size="9.6" text-anchor="middle" textLength="13.90" lengthAdjust="spacingAndGlyphs">CD7</text>
<text transform="translate(309.80,405.50) rotate(-90)" font-size="9.4" text-anchor="middle" textLength="18.2" lengthAdjust="spacingAndGlyphs">CD45</text>
<text transform="translate(416.60,405.80) rotate(-90)" font-size="9.4" text-anchor="middle" textLength="18.4" lengthAdjust="spacingAndGlyphs">CD45</text>
<text transform="translate(309.80,516.30) rotate(-90)" font-size="9.4" text-anchor="middle" textLength="22.5" lengthAdjust="spacingAndGlyphs">CD11b</text>
<text transform="translate(416.60,516.20) rotate(-90)" font-size="9.4" text-anchor="middle" textLength="18.4" lengthAdjust="spacingAndGlyphs">CD14</text>
<text transform="translate(309.80,626.30) rotate(-90)" font-size="9.4" text-anchor="middle" textLength="19" lengthAdjust="spacingAndGlyphs">CD19</text>
<text transform="translate(416.60,626.20) rotate(-90)" font-size="9.4" text-anchor="middle" textLength="18.5" lengthAdjust="spacingAndGlyphs">CD56</text>
<polyline points="325.00,415.70 341.30,415.70 345.50,397.50 387.80,397.50 402.60,365.40" stroke="#111" stroke-width="1.5" fill="none"/>
<rect x="471.5" y="394.2" width="40.2" height="50.9" fill="none" stroke="#111" stroke-width="1.3"/>
<rect x="325.4" y="512.6" width="38.6" height="43.4" fill="none" stroke="#111" stroke-width="1.2"/>
<rect x="431.6" y="511.5" width="44.6" height="44.5" fill="none" stroke="#111" stroke-width="1.2"/>
<rect x="356.2" y="586.3" width="48.3" height="42.2" fill="none" stroke="#111" stroke-width="1.2"/>
<line x1="466.90" y1="586.30" x2="466.90" y2="666.00" stroke="#111" stroke-width="1.2"/>
<line x1="431.80" y1="626.60" x2="511.70" y2="626.60" stroke="#111" stroke-width="1.3"/>
<line x1="377.50" y1="376.80" x2="425.50" y2="376.62" stroke="#222" stroke-width="1"/>
<polygon points="429.50,376.60 425.01,378.62 424.99,374.62" fill="#222"/>
<line x1="456.00" y1="427.70" x2="409.25" y2="472.49" stroke="#222" stroke-width="1"/>
<polygon points="406.00,475.60 408.23,470.70 410.99,473.59" fill="#222"/>
<line x1="342.30" y1="551.30" x2="342.30" y2="582.20" stroke="#222" stroke-width="1"/>
<polygon points="342.30,586.20 340.30,581.70 344.30,581.70" fill="#222"/>
<line x1="378.30" y1="541.70" x2="424.80" y2="541.88" stroke="#222" stroke-width="1"/>
<polygon points="428.80,541.90 424.29,543.88 424.31,539.88" fill="#222"/>
<line x1="394.10" y1="652.20" x2="425.50" y2="652.47" stroke="#222" stroke-width="1"/>
<polygon points="429.50,652.50 424.98,654.46 425.02,650.46" fill="#222"/>
<text x="326.40" y="372.20" font-size="7.4" textLength="15.90" lengthAdjust="spacingAndGlyphs">51.57</text>
<text x="497.60" y="405.00" font-size="7.4" textLength="12.00" lengthAdjust="spacingAndGlyphs">3.12</text>
<text x="482.10" y="443.00" font-size="8.4" font-weight="bold" fill="#111" textLength="26.00" lengthAdjust="spacingAndGlyphs">CD34+</text>
<text x="347.00" y="554.00" font-size="7.4" textLength="15.40" lengthAdjust="spacingAndGlyphs">71.21</text>
<text x="387.80" y="483.50" font-size="7.4" textLength="16.20" lengthAdjust="spacingAndGlyphs">28.79</text>
<text x="433.00" y="483.10" font-size="7.4" textLength="15.50" lengthAdjust="spacingAndGlyphs">48.24</text>
<text x="497.00" y="486.20" font-size="8.8" font-weight="bold" fill="#111" textLength="13.30" lengthAdjust="spacingAndGlyphs">NM</text>
<text x="374.50" y="596.60" font-size="8.8" font-weight="bold" fill="#111" textLength="23.90" lengthAdjust="spacingAndGlyphs">B-cells</text>
<text x="358.20" y="626.30" font-size="7.4" textLength="15.80" lengthAdjust="spacingAndGlyphs">25.40</text>
<text x="326.40" y="665.70" font-size="7.4" textLength="15.90" lengthAdjust="spacingAndGlyphs">74.60</text>
<text x="434.20" y="596.20" font-size="8.8" font-weight="bold" fill="#111" textLength="12.00" lengthAdjust="spacingAndGlyphs">NK</text>
<text x="449.60" y="593.10" font-size="7.4" textLength="15.40" lengthAdjust="spacingAndGlyphs">12.76</text>
<text x="498.00" y="633.50" font-size="7.4" textLength="11.60" lengthAdjust="spacingAndGlyphs">5.10</text>
<text x="487.20" y="664.30" font-size="8.8" font-weight="bold" fill="#111" textLength="19.40" lengthAdjust="spacingAndGlyphs">Pre-T</text>
<rect x="0.5" y="0.5" width="519" height="699" fill="none" stroke="#555" stroke-width="1"/></svg></body></html>
